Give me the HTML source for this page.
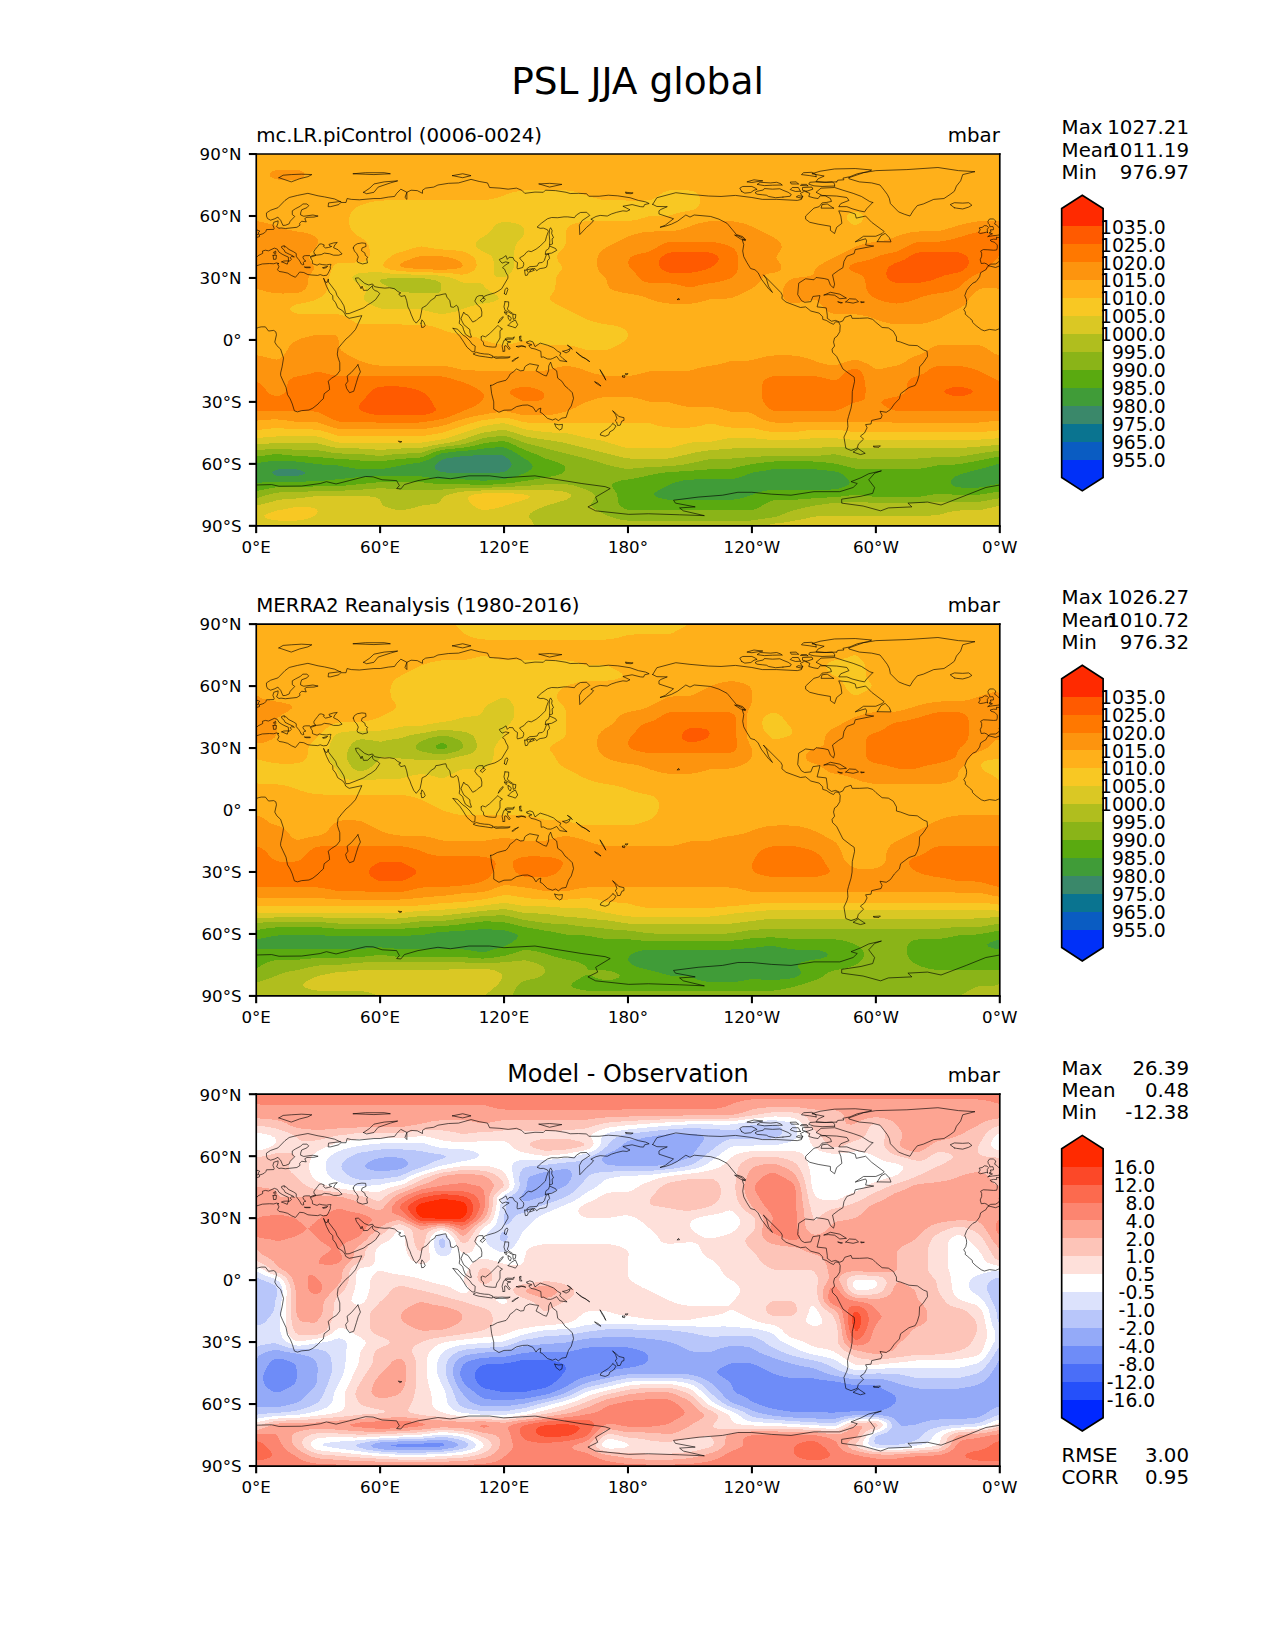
<!DOCTYPE html>
<html><head><meta charset="utf-8"><title>PSL JJA global</title>
<style>html,body{margin:0;padding:0;background:#fff;width:1275px;height:1650px;overflow:hidden}svg{display:block}</style>
</head><body>
<svg width="1275" height="1650" viewBox="0 0 612 792" version="1.1">
 
 <defs>
  <style type="text/css">*{stroke-linejoin: round; stroke-linecap: butt}</style>
 </defs>
 <g id="figure_1">
  <g id="patch_1">
   <path d="M0 792 612 792 612 0 0 0Z" style="fill: #ffffff"/>
  </g>
  <g id="axes_1">
   <g id="patch_2">
    <path d="M123 252.4 479.9 252.4 479.9 73.9 123 73.9Z" style="fill: #ffffff"/>
   </g>
   <g shape-rendering="crispEdges" id="QuadContourSet_1">
    <path d="M124 252.4 479.9 252.4 479.9 73.9 123 73.9 123 252.4Z" clip-path="url(#pa390b9fe62)" style="fill: #0030f8"/>
   </g>
   <g shape-rendering="crispEdges" id="QuadContourSet_2">
    <path d="M124 252.4 479.9 252.4 479.9 73.9 123 73.9 123 252.4Z" clip-path="url(#pa390b9fe62)" style="fill: #0a5cc2"/>
   </g>
   <g shape-rendering="crispEdges" id="QuadContourSet_3">
    <path d="M124 252.4 479.9 252.4 479.9 73.9 123 73.9 123 252.4Z" clip-path="url(#pa390b9fe62)" style="fill: #0a7490"/>
   </g>
   <g shape-rendering="crispEdges" id="QuadContourSet_4">
    <path d="M124 252.4 479.9 252.4 479.9 73.9 123 73.9 123 252.4Z" clip-path="url(#pa390b9fe62)" style="fill: #3a886a"/>
   </g>
   <g shape-rendering="crispEdges" id="QuadContourSet_5">
    <path d="M124 252.4 479.9 252.4 479.9 73.9 123 73.9 123 252.4ZM130.9 227.6 130.6 226.6 130.9 226.4 131.9 225.8 132.3 225.6 132.9 225.5 133.9 225.3 134.9 225.3 138.8 225.3 140.8 225.3 141.8 225.3 142.8 225.4 143.9 225.6 144.8 226 146.4 226.6 146.3 227.6 144.8 228 143.8 228.2 142.8 228.3 141.8 228.4 140.8 228.5 136.8 228.5 134.9 228.5 133.9 228.4 132.9 228.3 131.9 228 130.9 227.6ZM212.2 226.6 211.2 226.3 210.2 225.9 209.7 225.6 209.2 225.2 208.8 224.6 208.7 223.7 209.3 222.7 210.5 221.7 211.2 221.3 212.2 220.7 213.2 220.3 214.2 220.1 216.7 219.7 219.1 219.4 221.1 219.1 222.1 218.9 223.1 218.8 225.1 218.7 232 218.5 238 218.4 239 218.4 240 218.4 241 218.5 241.5 218.7 241.9 218.9 242.9 219.5 243.2 219.7 244.3 220.7 245.1 221.7 245.6 222.7 245.4 223.7 244.8 224.6 243.9 225.4 243.7 225.6 242.9 226.1 241.9 226.5 241 226.7 240 226.8 238 226.9 233 226.9 231 226.9 224.1 226.8 220.1 226.8 215.2 226.8 214.2 226.8 213.2 226.7 212.2 226.6Z" clip-path="url(#pa390b9fe62)" style="fill: #409c38"/>
   </g>
   <g shape-rendering="crispEdges" id="QuadContourSet_6">
    <path d="M124 252.4 479.9 252.4 479.9 232 478.9 232.2 477.3 232.6 475 233.1 472.8 233.6 471 233.9 470 234 469 234.1 468 234.1 464 234.1 462.1 234.1 461.1 234 460.1 233.9 459.1 233.7 458.7 233.6 458.1 233.3 456.9 232.6 456.3 231.6 456.6 230.6 457.1 229.9 457.4 229.6 458.1 229.1 458.8 228.6 460.1 228.1 461.4 227.6 463.1 227.1 464.7 226.6 468.3 225.6 471 225 473 224.5 474 224.2 475 223.9 475.9 223.6 476.9 223.3 478.8 222.7 479.9 222.4 479.9 73.9 123 73.9 123 222.4 124 222.2 125.9 221.9 127.9 221.6 130.9 221.3 131.9 221.2 132.9 221.2 133.9 221.1 135.9 221.2 141.8 221.5 143.8 221.6 145.8 221.9 148.7 222.3 151.7 222.7 152.7 222.8 153.7 222.9 155.7 223.1 159.7 223.3 161.6 223.4 162.6 223.5 163.6 223.7 165.6 224.1 167.6 224.4 170.6 224.9 171.5 225.1 172.5 225.2 173.5 225.2 175.5 225.3 179.5 225.3 181.5 225.3 182.5 225.2 183.4 225.1 184.4 225 185.4 224.8 186.4 224.6 188.4 224.3 190.4 223.9 191.4 223.7 195.3 222.9 196.8 222.7 200.3 222.2 201.3 222.1 202.3 221.8 203.3 221.5 204.3 221.2 206.3 220.4 208.2 219.4 209.4 218.7 210.2 218.3 211.2 217.9 211.8 217.7 212.2 217.6 213.2 217.4 214.2 217.3 218.2 216.8 220.1 216.6 225.1 216.2 227.1 216 230 215.6 232 215.3 233 215.2 239 214.7 240 214.7 241 214.7 241.9 214.8 242.9 215 243.9 215.5 244.9 215.9 246.4 216.7 248 217.7 248.9 218.3 250.9 219.6 251.9 220.2 252.9 220.8 254.3 221.7 255.3 222.7 255.7 223.7 255.4 224.6 254.8 225.3 254.5 225.6 253.8 226.1 252.9 226.6 251.9 227.1 250.7 227.6 248 228.6 245.9 229.2 243.9 229.6 242.9 229.8 241.9 230 241 230.1 234 230.6 233 230.7 232 230.7 231 230.7 229.8 230.6 226.1 230.3 224.1 230.2 222.1 230.1 220.1 230.1 215.2 230.1 213.2 230 212.2 230 211.2 229.9 208.6 229.6 204.3 229 203.3 228.8 202.3 228.7 201.3 228.7 199.3 228.6 191.4 228.6 184.4 228.5 182.5 228.5 181.5 228.6 176.5 228.8 173.5 229 170.6 229.2 167.6 229.5 164.6 229.8 160.6 230.2 158.7 230.4 156.7 230.6 152.7 230.9 147.8 231.1 144.8 231.2 142.8 231.3 139.8 231.3 133.9 231.3 131.9 231.4 129.9 231.4 127.9 231.5 125.9 231.6 124.9 231.7 124 231.8 123 232 123 252.4ZM318.5 239.5 317.3 239.2 316.3 238.9 315.1 238.5 314.3 237.9 313.9 237.5 314.3 236.5 315.6 235.6 317.4 234.6 319.3 233.6 320.3 233.1 321.4 232.6 322.3 232.2 323.3 231.9 324.2 231.5 325.2 231.3 326.2 231 327.2 230.8 328.2 230.6 329.2 230.4 330.2 230.3 331.2 230.2 332.2 230.2 334.2 230.1 348 230.1 349 230.1 350 230.1 351 230 352 229.9 353.3 229.6 354 229.4 355 229.1 357 228.4 358 228 358.9 227.6 359.9 227.3 360.9 227 362.5 226.6 365.9 226.1 368.9 225.6 369.9 225.4 370.8 225.3 371.8 225.2 373.8 225.2 387.7 225.2 389.7 225.2 390.7 225.3 392.7 225.4 396.6 225.8 398.6 226 399.6 226.1 400.6 226.2 401.6 226.5 402.1 226.6 402.6 226.8 404.3 227.6 405.6 228.6 406.6 229.6 407.4 230.6 407.9 231.6 407.4 232.6 406.5 233.1 405.5 233.6 403.6 234.2 402.2 234.6 401.6 234.7 400.6 234.8 399.6 234.9 398.6 235 381.8 235 373.8 235 371.8 235.1 370.8 235.1 369.9 235.2 368.9 235.3 366.9 235.7 365.9 235.9 364.9 236.1 363.4 236.5 361.9 237.1 359.9 237.9 358.9 238.2 358 238.6 357 238.9 356 239.1 354 239.5 353 239.7 352 239.8 351 239.9 350 240 348 240 330.2 240 324.2 240 322.3 239.9 321.3 239.9 320.3 239.8 319.3 239.7Z" clip-path="url(#pa390b9fe62)" style="fill: #5aaa10"/>
   </g>
   <g shape-rendering="crispEdges" id="QuadContourSet_7">
    <path d="M124 252.4 479.9 252.4 479.9 235.8 477.9 236.2 473 237 471 237.3 470 237.4 469 237.5 467 237.5 462.1 237.5 460.1 237.5 458.1 237.4 455.1 237.3 452.1 237.1 451.2 237 450.2 237.1 449.2 237.2 448.2 237.3 447.2 237.5 444.2 238 442.2 238.3 441.2 238.4 440 238.5 438.3 238.6 423.4 238.6 421.4 238.6 420.4 238.5 419.4 238.4 417.4 238.2 413.5 237.7 411.5 237.5 410.5 237.5 409.5 237.5 408.5 237.7 405.5 238.1 403.6 238.3 401.6 238.6 399.6 238.7 394.6 238.9 390.7 239.2 387.7 239.4 384.7 239.6 381.8 239.9 380.8 239.9 379.8 240 377.8 240 373.8 240 372.8 240.1 371.8 240.1 370.8 240.3 369.9 240.5 368.9 241 367.8 241.5 366.2 242.5 365.9 242.7 364.7 243.5 363.9 243.9 362.9 244.3 361.9 244.6 360.9 244.8 359.9 244.9 358.9 244.9 351 245 321.3 245 305.4 244.9 303.4 244.9 302.4 244.9 301.4 244.7 300.4 244.4 299.5 244 298.5 243.4 297.4 242.5 296.8 241.5 296.6 240.5 296.4 238.5 296.2 237.5 295.8 236.5 295.2 235.6 294.5 234.6 293.9 233.6 293.8 232.6 294.5 232 295 231.6 295.5 231.4 296.5 231.1 297.5 230.8 298.5 230.6 300.4 230.3 303.4 229.9 305.4 229.5 307.4 229.1 308.4 228.9 309.7 228.6 311.4 228.2 313.9 227.6 316.3 227.2 318.3 226.9 320.5 226.6 322.3 226.5 328.2 226.2 332.2 225.9 335.1 225.7 338.1 225.5 340.1 225.3 341.1 225.2 342.1 225.2 344.1 225.1 348 225.1 349 225.1 350 225.1 351 225 352 224.8 355 224 357 223.6 358.9 223.1 360.9 222.8 362.9 222.5 365.9 222.1 368.9 221.7 369.9 221.6 370.8 221.6 371.8 221.5 376.8 221.5 387.7 221.5 389.7 221.5 391.7 221.6 393.6 221.7 396.6 222 398.6 222.2 399.6 222.3 400.6 222.5 402.6 222.9 404.6 223.4 406.5 223.9 409.5 224.7 410.5 224.9 411.5 225.1 412.5 225.1 415.5 225.2 436.3 225.2 438.3 225.2 439.3 225.1 440.3 225.1 441.2 225 442.2 224.9 444.2 224.6 446.2 224.2 448.6 223.7 450.2 223.4 451.2 223.3 453.1 223.2 458.1 223 459.1 222.9 460.1 222.8 462.1 222.5 466.4 221.7 469 221.2 474 220.2 476.9 219.6 478.9 219.3 479.9 219.2 479.9 73.9 123 73.9 123 219.2 128.9 218.4 130.9 218.1 131.9 218.1 132.9 218 133.9 218 134.9 218.1 140.8 218.7 142.8 218.9 149.7 219.2 151.7 219.3 153.7 219.5 157.7 219.8 160.6 220.1 165.6 220.4 168.9 220.7 172.5 221 174.5 221.2 178.5 221.4 180.5 221.4 181.5 221.4 182.5 221.4 183.4 221.3 185.4 221.1 189.4 220.6 191.4 220.3 193.4 220.2 196.3 220 199.3 219.8 200.3 219.8 201.3 219.7 202.3 219.5 203.3 219.2 204.6 218.7 206.7 217.7 208.2 217.1 209.3 216.7 210.2 216.4 211.2 216.2 212.2 216 213.2 215.8 215.2 215.6 219.1 215.2 222.1 214.9 224.1 214.6 226.1 214.2 228.5 213.7 231 213.1 232 212.9 233 212.7 234 212.5 239 211.9 240 211.8 241 211.8 241.9 211.8 242.9 212 243.9 212.3 245 212.7 247.2 213.7 249.9 215.1 250.9 215.5 251.9 216 252.9 216.3 254.8 217.1 256.5 217.7 258.8 218.7 259.8 219.2 260.9 219.7 261.8 220.1 262.8 220.4 265.7 221.3 266.9 221.7 269.4 222.7 270.9 223.7 271.4 224.6 271.4 225.6 270.8 226.6 269.7 227.3 269.1 227.6 267.7 228 265.4 228.6 261.8 229.2 259.5 229.6 253.6 230.6 250.9 231 248.9 231.4 247.4 231.6 244.9 231.9 242.9 232.1 240 232.3 236 232.6 234 232.7 232 232.8 231 232.7 229.1 232.7 226.1 232.6 223.1 232.4 222.1 232.4 220.1 232.4 214.2 232.5 213.2 232.5 212.2 232.5 211.2 232.5 209.2 232.3 206.3 231.9 203.3 231.6 202.3 231.5 201.3 231.5 199.3 231.4 191.4 231.4 185.4 231.4 183.4 231.4 182.5 231.4 181.5 231.5 179.5 231.7 174.5 232.2 170.6 232.6 165.6 233.1 163.6 233.3 162.6 233.4 160.6 233.4 153.7 233.5 150.7 233.5 143.8 233.8 141.8 233.8 135.9 233.8 133.9 233.8 132.9 233.9 131.9 234 130.9 234.1 128.6 234.6 126.9 234.9 123 235.8 123 252.4Z" clip-path="url(#pa390b9fe62)" style="fill: #8ab418"/>
   </g>
   <g shape-rendering="crispEdges" id="QuadContourSet_8">
    <path d="M124 252.4 479.9 252.4 479.9 239.1 478.9 239.3 474 240.2 472 240.5 471 240.7 470 240.8 469 240.8 467 240.9 458.1 240.9 452.1 240.9 450.2 240.9 444.2 241.2 441.2 241.3 439.3 241.4 423.4 241.4 420.4 241.4 418.4 241.3 414.5 241.1 412.5 241 411.5 241 410.5 241 409.5 241 402.6 241.3 400.6 241.4 399.6 241.5 397.6 241.7 393.6 242.3 391.7 242.6 389.7 242.9 386.7 243.5 382.7 244.5 380.8 245 379.8 245.2 378.8 245.6 377.8 245.9 376.6 246.5 374.8 247.2 374.3 247.5 372.8 247.9 371.8 248.2 370.7 248.4 368.9 248.7 366.9 248.9 364.9 249.2 361.9 249.7 360.9 249.8 359.9 249.9 358.9 249.9 306.4 250 303.4 250 302.4 249.9 301.4 249.9 300.4 249.8 299.5 249.7 297.5 249.3 296.5 249.1 295.5 248.9 294 248.4 292.5 247.9 291.5 247.5 290.5 247 288.5 246 286.6 244.9 285.6 244.4 284.3 243.5 283.6 242.5 283.9 241.5 284.6 240.5 285.2 239.5 285.5 238.5 285.3 237.5 284.4 236.5 283.6 236.1 282.6 235.5 281.6 235.1 280.3 234.6 279.6 234.3 278.6 234 276.7 233.4 275.7 233.1 274.7 232.9 273.7 232.7 272.7 232.6 271.7 232.4 270.7 232.4 268.7 232.4 263.8 232.4 262.8 232.4 261.8 232.5 256.8 232.9 253.8 233.1 249.9 233.4 245.9 233.6 240 233.8 234 234.1 232 234.1 224.1 234.2 222.1 234.2 220.1 234.3 217.2 234.6 213.2 234.9 212.2 235 211.2 235.1 209.2 235.1 195.3 235.1 193.4 235.1 192.4 235 190.4 234.9 186.9 234.6 184.4 234.4 183.4 234.4 182.5 234.4 181.5 234.4 176.5 234.8 172.5 235.1 168.6 235.3 164.6 235.5 162.6 235.6 159.7 235.6 154.7 235.6 152.7 235.6 150.7 235.7 146.8 236 143.8 236.2 142.8 236.3 140.8 236.3 135.9 236.4 134.9 236.4 133.9 236.4 132.7 236.5 131.9 236.7 130.9 236.9 128.6 237.5 125.9 238.3 124 238.9 123 239.1 123 252.4ZM298.5 224.7 299.5 224.9 300.4 225 301.4 225 302.4 225 307.4 224.6 310.4 224.3 314.3 224.1 320.3 223.8 322.3 223.7 324.2 223.5 327.2 223.1 329.9 222.7 332.2 222.2 335.1 221.6 339.2 220.7 340.1 220.5 341.1 220.3 342.1 220.2 343.1 220.2 349 220.2 350 220.2 351 220.1 353 219.9 356 219.7 358.9 219.5 361.9 219.3 365.9 219.1 368.9 218.9 370.8 218.9 374.8 218.9 387.7 218.9 389.7 218.8 391.7 218.8 393.6 218.7 396.6 218.4 398.6 218.2 399.6 218.1 400.6 218.1 401.6 218.2 402.6 218.4 404.6 218.8 408.6 219.7 409.5 219.9 410.5 220 411.5 220.1 412.5 220.2 436.3 220.2 438.3 220.2 439.3 220.2 440.3 220.1 442.2 220 445.2 219.7 448.2 219.5 450.2 219.4 452.1 219.3 457.1 219.3 459.1 219.3 460.1 219.2 461.1 219.1 464 218.7 467 218.2 473 217.2 476.9 216.7 479.9 216.3 479.9 73.9 123 73.9 123 216.3 126.9 215.8 129.9 215.5 131.9 215.4 132.9 215.3 133.9 215.3 134.9 215.4 137.8 215.6 141.8 215.9 142.8 216 144.8 216 149.7 216 150.7 216.1 151.7 216.1 152.7 216.2 153.7 216.3 156.7 216.8 158.7 217.2 160.6 217.4 161.6 217.6 162.6 217.6 164.6 217.7 169.6 217.8 171.5 217.9 172.5 217.9 174.5 218.1 179.5 218.6 180.5 218.7 181.5 218.8 182.5 218.8 183.8 218.7 185.4 218.5 189.4 218 191.4 217.8 192.4 217.8 194.4 217.7 199.3 217.6 200.3 217.6 201.3 217.5 202.3 217.3 203.3 217 205.3 216.3 206.3 216 207.2 215.7 208.2 215.4 209.2 215.2 210.2 214.9 212.2 214.6 214.2 214.3 218.2 213.8 219.1 213.7 221.1 213.4 222.1 213.2 223.1 213 224.2 212.7 226.1 212.2 227.5 211.8 229.1 211.2 231 210.6 232 210.4 233 210.2 234 210 239 209.4 240 209.3 241 209.2 241.9 209.2 242.9 209.4 243.9 209.6 244.9 209.9 245.9 210.3 247.9 211 250.9 212.2 251.9 212.6 252.9 212.9 253.8 213.1 256.8 213.8 258.8 214.3 260.8 214.9 262.8 215.5 265.7 216.2 275.7 218.7 279.6 219.7 283.4 220.7 287 221.7 288.5 222.2 290.2 222.7 291.5 223.1 292.5 223.4 294.5 223.9 295.5 224.1 296.5 224.3 298.1 224.6Z" clip-path="url(#pa390b9fe62)" style="fill: #b0be1e"/>
   </g>
   <g shape-rendering="crispEdges" id="QuadContourSet_9">
    <path d="M124 252.4 256.5 252.4 256.1 251.4 255.6 250.4 254.8 249.4 254.1 248.4 253.9 247.5 254.6 246.5 256 245.5 257.9 244.5 260.2 243.5 263.1 242.5 264.8 242 266.3 241.5 268.7 240.8 270.7 240.2 271.7 239.9 272.5 239.5 273.7 238.7 273.9 238.5 274.1 237.5 273.7 237.2 272.7 236.5 271.7 236.2 270.7 236 269.7 235.8 267.4 235.6 264.8 235.3 262.8 235.2 260.8 235.1 250.9 235.1 243.9 235.1 241.9 235.1 233 235.3 230 235.5 228.1 235.6 225.1 235.8 223.1 235.9 221.1 236.2 218.7 236.5 217.2 236.9 214.9 237.5 214.2 237.9 213 238.5 212.2 239.4 212 239.5 211.4 240.5 211.2 240.8 210.2 241.5 209.2 241.8 208.2 241.9 207.2 242.1 204.3 242.4 203.3 242.5 202.3 242.7 201.3 242.9 199.3 243.6 198.3 243.8 197.3 244.1 195.3 244.5 194.4 244.7 193.4 244.8 192.4 244.8 191.4 244.8 190.4 244.7 189.3 244.5 188.4 244.3 187.4 244 186.4 243.7 185.6 243.5 184.4 242.9 183.9 242.5 183.4 242 183.1 241.5 182.5 240.2 182 239.5 181.5 239.2 180.5 238.8 179.5 238.5 178.5 238.4 176.5 238.2 174.5 238.1 172.5 238 170.6 238 163.6 238.1 155.7 238.1 153.7 238.1 152.7 238.2 151.7 238.2 148.7 238.5 145.8 238.9 143.8 239.1 141.8 239.3 137.8 239.6 135.9 239.7 134.9 239.8 133.9 240 132.9 240.2 131.6 240.5 129.9 241 127.9 241.5 125.9 242 123 242.7 123 252.4ZM367.9 252.4 479.9 252.4 479.9 242.7 476.4 243.5 473 244.3 471 244.7 470 244.9 469 245 468 245 462.1 245 461.1 245 460.1 245.1 459.1 245.2 458.1 245.3 457.1 245.5 456.1 245.7 455.1 245.9 454.1 246.1 452.9 246.5 451.2 247 450.2 247.2 449.2 247.4 448.2 247.4 445.2 247.5 404.6 247.5 401.6 247.5 399.6 247.5 393.6 247.8 392.7 247.8 391.7 247.9 390.7 248 389.7 248.2 388.7 248.4 386.7 248.9 385.7 249.1 383.7 249.5 380.8 250 377.8 250.6 376.8 250.7 374.8 251 371.8 251.3 370.8 251.5 369.9 251.7 368.9 252 367.8 252.4ZM300.4 219.9 301.4 220 302.4 220.1 303.4 220.2 317.3 220.2 319.3 220.1 320.3 220.1 321.3 220 322.3 219.9 323.3 219.7 330.2 218 332.2 217.5 334.2 217.1 336.4 216.7 338.1 216.5 340.1 216.2 342.1 216 346.1 215.7 350 215.4 351 215.3 352 215.2 354 215.2 381.8 215.2 387.7 215.2 389.7 215.2 390.7 215.1 392.7 215 395.6 214.7 397.6 214.6 399.6 214.5 400.6 214.4 401.6 214.5 403.6 214.6 406.5 214.8 409.5 215.1 410.5 215.2 411.5 215.2 413.5 215.2 440.3 215.2 457.1 215.2 459.1 215.2 460.1 215.2 462.1 215 465.1 214.7 469 214.4 471 214.3 476.9 213.7 479.9 213.4 479.9 73.9 123 73.9 123 213.4 127.9 213 130.9 212.7 131.9 212.7 132.9 212.6 133.9 212.6 136.8 212.6 141.8 212.7 145.8 212.7 149.7 212.8 150.7 212.8 151.7 212.8 152.7 212.9 153.7 213.1 154.7 213.4 156.7 213.9 158.7 214.4 160.6 214.8 161.6 215 162.6 215.1 163.6 215.2 164.6 215.2 170.6 215.2 172.5 215.3 174.5 215.4 177.5 215.6 180.5 215.8 181.5 215.9 182.5 215.9 183.4 215.9 188.4 215.5 190.4 215.4 192.4 215.3 194.4 215.2 199.3 215.2 200.3 215.2 201.3 215.1 202.3 215 203.6 214.7 205.3 214.3 206.3 214.1 209.2 213.5 211.2 213.2 214.4 212.7 218.2 212 219.2 211.8 221.1 211.2 222.6 210.8 226.1 209.5 229.1 208.5 230 208.2 231 208 232 207.7 233 207.5 235 207.2 239 206.6 240 206.4 241 206.4 241.9 206.4 242.9 206.5 244 206.8 244.9 207.1 247.9 208 250.9 209 251.9 209.3 252.9 209.6 253.9 209.8 259.8 210.8 261.8 211.1 265.7 211.6 267.7 212 269.7 212.3 271.7 212.8 282.6 215.5 297.5 219.2 299.5 219.7ZM196.1 140.4 194.4 140.2 193.4 140.1 192.4 139.9 191.4 139.7 190.3 139.4 189.4 139.1 188.4 138.7 187.4 138.2 185.8 137.4 184.4 136.7 184 136.4 183.4 136 182.7 135.4 182.4 134.4 183.4 134 184.4 133.8 185.4 133.7 187.4 133.6 189.4 133.5 191.4 133.4 194.4 133.4 199.3 133.5 201.3 133.5 202.3 133.6 203.3 133.6 205.3 133.9 208.7 134.4 210.2 135 211.1 135.4 211.7 136.4 211.9 137.4 211.9 138.4 211.8 139.4 211.2 140.3 210.2 140.7 209.2 140.8 206.3 140.8 204.3 140.8 202.3 140.8 200.3 140.7 197.3 140.5 196.3 140.4Z" clip-path="url(#pa390b9fe62)" style="fill: #dac824"/>
   </g>
   <g shape-rendering="crispEdges" id="QuadContourSet_10">
    <path d="M130.9 249.6 131.9 249.7 132.9 249.8 133.9 249.9 135.9 249.9 139.8 249.9 141.8 249.9 142.8 249.8 143.8 249.7 144.8 249.6 145.8 249.4 146.8 249.2 147.8 248.9 149.4 248.4 150.7 247.7 151.2 247.5 152.1 246.5 152.5 245.5 152.1 244.5 151.7 244.3 150.7 243.9 149.7 243.7 148.5 243.5 146.8 243.4 144.8 243.3 143.8 243.2 142.8 243.3 141.8 243.4 140.8 243.6 138.8 244 135.9 244.6 133.9 244.9 132.9 245.1 131.4 245.5 128.4 246.5 127.9 246.8 126.8 247.5 127.2 248.4 127.9 248.7 128.9 249.1 130.2 249.4ZM231 244.6 232 244.7 233 244.8 234 244.7 235.3 244.5 237 244.2 238 243.9 239 243.7 241 243.2 241.9 242.9 243 242.5 246.3 241.5 249.9 240.5 253 239.5 253.8 239 254.7 238.5 253.8 238 252.9 237.5 250.9 237.3 248.9 237.1 245.9 236.8 243.9 236.7 242.9 236.6 241.9 236.6 240 236.6 234 236.7 233 236.8 232 236.8 231 236.9 230 237 228.1 237.3 226.9 237.5 226.1 237.9 224.7 238.5 224.5 239.5 225.1 240.5 226.1 241.5 227.1 242.5 228.1 243.3 228.4 243.5 229.1 243.9 230 244.3 230.6 244.5ZM300.4 214.9 301.4 215 302.4 215.1 303.4 215.2 317.3 215.2 319.3 215.2 320.3 215.1 321.3 215 322.3 214.9 323.3 214.7 326.6 213.7 328.2 213.2 329.2 213 330.2 212.7 331.2 212.5 332.2 212.4 333.2 212.3 336.1 212.2 339.1 212.1 340.1 212.1 341.1 212 342.6 211.8 345.1 211.2 347 210.9 349 210.5 350 210.4 351 210.3 352 210.3 354 210.3 358 210.3 359.9 210.3 360.9 210.3 362.9 210.5 365.9 210.8 368.9 211 370.8 211.1 372.8 211.1 378.8 211.1 380.8 211.1 382.7 211 385.9 210.8 389.7 210.4 390.7 210.3 391.7 210.3 393.6 210.3 397.6 210.3 399.6 210.3 400.6 210.3 402.6 210.5 405.5 210.8 408.5 211 410.5 211.1 412.5 211.1 458.1 211.1 467 211.1 469 211.1 470 211 472 210.9 479.9 210.3 479.9 73.9 123 73.9 123 210.3 130.9 209.6 132.9 209.5 134.9 209.4 143.8 209.4 149.7 209.4 150.7 209.5 151.7 209.5 152.7 209.6 153.7 209.8 154.7 210.1 158.7 211.4 159.8 211.8 160.6 212 161.6 212.2 162.6 212.4 163.6 212.5 164.6 212.6 171.5 212.6 175.5 212.6 180.5 212.7 182.5 212.7 191.4 212.6 199.3 212.6 200.3 212.6 201.3 212.5 202.3 212.5 203.3 212.3 206.3 211.9 210.2 211.2 211.2 211.1 212.8 210.8 214.2 210.4 216.2 209.8 220.1 208.4 224.1 207.1 229.1 205.5 231.2 204.8 232 204.6 233 204.4 235 204 238 203.6 240 203.3 241 203.2 241.9 203.2 242.9 203.4 243.9 203.6 244.9 203.9 247.9 204.8 249.9 205.5 251.1 205.8 251.9 206 252.9 206.2 257.8 206.9 260.8 207.3 261.8 207.5 262.8 207.5 264.8 207.6 268.7 207.7 270.7 207.8 271.7 207.9 272.7 208.1 273.7 208.3 276.7 209 279.8 209.8 280.6 210 281.6 210.2 285.6 210.9 286.6 211.1 287.6 211.3 288.5 211.5 290.5 212 291.5 212.3 292.8 212.7 294.5 213.2 296.1 213.7 299.5 214.7 299.8 214.7ZM209 150.3 207.2 149.9 206.3 149.7 204.9 149.3 203.3 148.8 202.3 148.5 201.3 148.4 200.3 148.3 198.3 148.3 186.4 148.3 184.4 148.3 183.4 148.2 182.5 148 181.5 147.7 180.4 147.3 179.5 146.8 177.5 145.8 176.5 145.2 175.2 144.3 174.5 143.3 174.6 142.3 175.1 141.4 175.6 140.4 175.7 139.4 175.5 138.4 174.7 137.4 173.5 136.6 172.5 136.1 171.1 135.4 170.6 135.1 169.5 134.4 169.1 133.4 169.6 132.4 170.6 131.8 171.3 131.4 172.5 131.1 173.5 131 174.5 130.9 176.5 130.8 179.5 130.7 180.5 130.7 181.5 130.7 182.5 130.7 183.4 130.8 186.4 131.2 188.4 131.4 190.4 131.5 192.4 131.6 195.3 131.7 201.3 131.9 204.3 132 209.2 132.2 211.2 132.3 212.2 132.4 213.2 132.6 214.2 132.8 215.2 133 217 133.4 219.3 134.4 220.1 134.9 221.1 135.3 222.1 135.6 223.1 135.8 224.1 135.9 225.1 136 229.1 136 230 136 231 136.1 231.6 136.4 232 136.8 232.4 137.4 233 138 233.3 138.4 234 138.9 234.5 139.4 236.1 140.4 237.7 141.4 239 142.3 239.4 143.3 239 143.7 238.2 144.3 237 144.8 236 145.1 234.9 145.3 233 145.6 230 146.1 228.9 146.3 227.1 146.7 226.1 147 224.9 147.3 223.1 147.9 221.1 148.7 219.5 149.3 218.2 149.7 217.2 149.9 215.2 150.3 214.2 150.5 213.2 150.6 212.2 150.6 211.2 150.6 210.2 150.5 209.2 150.3ZM237.5 132.4 237.1 131.4 237 130.5 237 126.5 236.9 125.5 236.8 124.5 236.3 123.5 236 123.1 235.4 122.5 235 122.3 233.7 121.5 232 120.8 231 120.3 229.8 119.5 228.7 118.6 228.3 117.6 228.5 116.6 229.1 115.8 229.2 115.6 230 114.9 231 114.2 233 113 234 112.3 235 111.5 235.8 110.6 236.5 109.6 237.3 108.6 238 108 238.5 107.6 239 107.4 240 106.9 241 106.6 241.9 106.4 242.9 106.4 243.9 106.5 245 106.7 245.9 106.9 246.9 107.1 247.9 107.4 248.7 107.6 249.9 108.2 250.6 108.6 251.4 109.6 251.7 110.6 251.7 111.6 251.5 112.6 250.9 113.6 248.9 115.7 248.2 116.6 247.6 117.6 247.2 118.6 247 119.5 246.9 120.5 246.9 122.5 246.9 125.5 246.9 126.5 246.8 127.5 246.6 128.5 246.2 129.5 245.6 130.5 244.9 131.3 244.7 131.4 243.9 132.1 242.9 132.7 241.9 133.1 241 133.2 240 133.2 239 133.1 238 132.8Z" clip-path="url(#pa390b9fe62)" style="fill: #f8c823"/>
   </g>
   <g shape-rendering="crispEdges" id="QuadContourSet_11">
    <path d="M161.6 209 162.6 209.3 163.6 209.4 164.6 209.4 182.5 209.4 198.3 209.4 200.3 209.4 201.3 209.4 202.3 209.3 203.3 209.2 205.3 208.9 209.2 208.3 211.2 207.9 212.2 207.7 213.2 207.4 215.2 206.8 222.1 204.5 224.1 203.8 226.1 203.2 228.1 202.6 230 202.1 231.3 201.8 232 201.7 233 201.5 237 201 239 200.7 240 200.6 241 200.5 241.9 200.5 242.9 200.6 244.4 200.8 245.9 201.2 248.5 201.8 249.9 202.2 250.9 202.5 251.9 202.7 252.9 202.8 253.8 202.9 259.8 203 261.8 203 263.8 203 270.7 202.9 273.7 202.8 307.4 202.8 309.4 202.9 310.4 202.9 311.4 203 312.3 203.3 314.3 203.9 315.3 204.2 316.3 204.4 318.3 204.8 319.3 205 320.3 205.1 321.3 205.2 322.3 205.3 324.2 205.3 328.2 205.3 330.2 205.3 331.2 205.2 332.2 205.1 333.2 205 334.3 204.8 336.1 204.4 337.1 204.2 338.4 203.8 339.1 203.6 340.1 203.4 341.1 203.3 342.1 203.4 343.1 203.6 344.1 203.9 345.1 204.2 346.1 204.4 348 204.9 349 205 350 205.1 351 205.2 352 205.3 354 205.3 358 205.3 358.9 205.3 359.9 205.3 360.9 205.4 361.9 205.6 363.9 206 367.1 206.8 368.9 207.1 369.9 207.3 370.8 207.4 371.8 207.5 372.8 207.5 377.8 207.5 379.8 207.5 380.8 207.5 381.8 207.4 386.7 206.7 388.7 206.4 389.7 206.3 390.7 206.2 391.7 206.2 394.6 206.2 398.6 206.2 399.6 206.2 400.6 206.2 401.6 206.3 403.6 206.5 406.5 206.9 408.5 207.2 409.5 207.4 410.5 207.5 411.5 207.5 413.5 207.5 466 207.5 468 207.5 469 207.5 470 207.5 471 207.4 474 207.1 477.1 206.8 479.9 206.5 479.9 73.9 123 73.9 123 206.5 129.9 205.7 130.9 205.6 131.9 205.5 132.9 205.4 133.9 205.5 138 205.8 140.8 206 142.8 206.1 144.8 206.1 149.7 206.1 150.7 206.2 151.7 206.2 152.7 206.3 153.7 206.5 154.7 206.8 159.7 208.4 160.7 208.8ZM278.9 167.1 277.6 166.8 276.7 166.5 274.7 166.1 273.7 166 272.7 165.8 271.7 165.7 270.7 165.7 268.7 165.7 264.8 165.6 262.8 165.6 261.8 165.6 260.8 165.5 259.8 165.3 258.7 165.2 256.8 164.8 255.8 164.5 254.6 164.2 253.8 163.9 252.9 163.7 251.9 163.6 250.9 163.7 249.9 163.9 248.9 164.2 247.9 164.5 246.9 164.8 244.9 165.2 243.9 165.3 242.9 165.4 241.9 165.5 241 165.4 240 165.3 238.9 165.2 237 164.8 236 164.5 234.8 164.2 233 163.5 231 162.8 229.1 162.1 228.1 161.8 227.1 161.6 225.1 161.2 223.1 160.8 221.1 160.5 219 160.2 217.2 159.8 216.2 159.5 215 159.2 213.2 158.6 211.2 157.8 209.2 157.2 208.2 156.9 207.2 156.6 205.3 156.2 204.3 156.1 203.3 155.9 202.3 155.8 201.3 155.8 199.3 155.8 181.5 155.7 175.5 155.7 174.5 155.7 173.5 155.7 172.5 155.5 171.5 155.2 170.6 154.8 169.5 154.2 167.9 153.3 167.6 153 166.4 152.3 165.6 151.9 164.6 151.4 163.6 151.1 162.6 150.9 161.6 150.8 160.6 150.8 146.8 150.7 144.8 150.7 143.8 150.7 142.8 150.6 141.8 150.3 141.6 150.3 140.8 149.9 139.8 149.3 139.3 148.3 139.8 147.3 140.8 146.7 141.6 146.3 142.8 146 143.8 145.8 146.8 145.2 147.8 145 148.7 144.8 150.2 144.3 150.7 144.2 151.7 143.8 152.7 143.3 153.7 142.8 154.7 142.1 155.5 141.4 156.4 140.4 157 139.4 157.4 138.4 157.6 137.4 157.7 135.4 157.8 134.4 157.9 133.4 158.2 132.4 158.8 130.5 159.2 129.5 159.7 128.4 160.4 127.5 160.6 127.2 161.6 126.6 162.6 126.2 163.6 126.1 164.6 126 166.6 126 170.6 126 171.5 125.9 172.5 125.9 173.5 125.8 174.8 125.5 175.5 125.2 176.6 124.5 177.2 123.5 177.4 122.5 177.5 121.5 177.5 120.5 177.4 119.5 177.2 118.6 176.8 117.6 176.2 116.6 175.4 115.6 174.5 114.9 173.5 114.2 171.5 113 170.6 112.3 169.7 111.6 168.9 110.6 168.3 109.6 167.9 108.6 167.7 107.6 167.6 106.7 167.6 105.7 167.7 104.7 167.9 103.7 168.3 102.7 168.9 101.7 169.7 100.7 170.6 100 171.5 99.3 172.7 98.7 173.5 98.4 174.5 98 175.5 97.7 176.5 97.4 177.5 97.1 179.5 96.7 180.5 96.5 181.5 96.4 182.5 96.3 183.4 96.3 185.4 96.2 228.1 96.2 230 96.2 231 96.2 232 96.2 233 96.1 234 95.9 235.1 95.7 237 95.3 238 95.1 239.2 94.8 241 94.1 242.9 93.4 244.9 92.7 245.9 92.4 246.9 92.2 248.9 91.8 249.9 91.6 250.9 91.5 251.9 91.4 252.9 91.3 254.8 91.3 268.7 91.3 270.7 91.3 271.7 91.4 272.7 91.5 273.7 91.6 274.8 91.8 276.7 92.2 277.6 92.4 278.8 92.8 280.6 93.4 282.6 94.1 284.6 94.8 285.6 95.1 286.6 95.3 288.5 95.8 289.5 95.9 290.5 96.1 291.5 96.2 292.5 96.2 294.5 96.2 308.4 96.3 309.4 96.2 310.4 96.2 311.4 96.1 312.3 95.9 313.3 95.6 314.3 95.1 314.9 94.8 315.3 94.5 317.3 93 317.7 92.8 318.3 92.4 319.3 92 320.3 91.7 321.3 91.4 322.3 91.3 323.3 91.3 327.2 91.3 329.2 91.3 330.2 91.3 331.2 91.5 332.2 91.7 333.2 92 334.2 92.5 334.6 92.8 335.1 93.4 335.5 93.8 335.9 94.8 336.1 95.7 336.1 96.7 335.9 97.7 335.5 98.7 335.1 99.1 334.6 99.7 334.2 100 333.2 100.5 332.2 100.8 331.2 101.1 330.2 101.3 327.9 101.7 326.2 102.1 325.2 102.3 323.9 102.7 322.3 103.2 321.3 103.4 320.3 103.6 319.3 103.7 317.3 103.7 314.3 103.7 313.3 103.7 312.3 103.8 311.4 103.9 310.4 104.1 308.4 104.7 307.4 105 306.4 105.3 304.4 105.7 303.4 105.8 302.4 106 301.4 106.1 300.4 106.1 298.5 106.1 284.6 106.2 282.6 106.2 281.6 106.2 280.6 106.3 279.6 106.5 278.6 106.7 277.6 106.9 276.7 107.1 275.7 107.4 274.8 107.6 273.7 108.2 273 108.6 272.1 109.6 271.8 110.6 271.7 111.6 271.7 114.6 271.7 115.6 271.6 116.6 271.3 117.6 270.7 118.6 268.7 120.7 268.1 121.5 267.6 122.5 267.4 123.5 267.6 124.5 268 125.5 269.5 127.5 269.9 128.5 269.5 129.5 268 131.4 267.4 132.4 267 133.4 266.8 134.4 266.7 136.4 266.6 137.4 266.4 138.4 266.1 139.4 265.5 140.4 264.7 141.4 264 142.3 263.8 143.3 264.5 144.3 265.9 145.3 267.7 146.3 269.7 147.3 270.7 147.8 272.7 148.8 274.7 149.7 278.6 151.8 280.6 152.8 281.7 153.3 282.6 153.6 284.4 154.2 285.6 154.6 286.6 154.8 288.5 155.3 290.5 155.6 292.5 155.9 294.6 156.2 295.5 156.4 296.5 156.7 297.5 157 298.3 157.2 299.5 157.8 300.1 158.2 301 159.2 301.3 160.2 301.3 161.2 301 162.2 300.3 163.2 299.1 164.2 297.4 165.2 295.5 166.2 294.5 166.7 293.5 167.2 292.5 167.6 291.5 167.9 290.5 168 289.5 168.1 287.6 168.1 284.6 168.1 283.6 168.1 282.6 168 281.6 167.9 280.6 167.7 279.6 167.4ZM409.2 107.6 408.5 107.3 407.7 106.7 407.5 106.4 406.9 105.7 406.5 104.7 406.6 103.7 407.3 102.7 407.5 102.5 408.5 102 409.5 101.7 410.5 101.6 411.6 101.7 412.5 102 413.5 102.5 413.7 102.7 414.4 103.7 414.5 104.7 414.1 105.7 413.5 106.4 413.3 106.7 412.5 107.3 411.5 107.8 410.5 108 409.5 107.8ZM219.1 131.5 220.1 131.6 221.1 131.8 222.1 131.8 223.1 131.7 224.1 131.4 225.1 131.1 226.4 130.5 227.1 130 227.7 129.5 228.5 128.5 228.8 127.5 228.7 126.5 228.5 125.5 228.1 124.5 227.3 123.5 226 122.5 225.1 122 224.1 121.5 223.1 121 222.1 120.7 221.1 120.5 220.1 120.3 218.2 120.2 213.2 119.8 211.2 119.7 210.1 119.5 207.2 119.1 204.4 118.6 203.3 118.4 202.3 118.3 201.3 118.4 200.3 118.6 199.3 118.9 198.3 119.2 197.1 119.5 195.3 120.1 193.4 120.7 192.4 121 191.4 121.3 190.4 121.6 189.4 122.1 188.4 122.6 187.4 123.3 186.4 124.1 185.4 125 184.9 125.5 184.1 126.5 184 127.5 185 128.5 186.4 129 187.8 129.5 189.4 129.8 190.4 129.9 191.4 130.1 192.4 130.2 194.4 130.3 197.3 130.5 202.3 130.6 210.2 130.9 212.2 130.9 214.2 131.1 216.2 131.2 218.6 131.4Z" clip-path="url(#pa390b9fe62)" style="fill: #ffb01a"/>
   </g>
   <g shape-rendering="crispEdges" id="QuadContourSet_12">
    <path d="M162.6 205.9 163.6 206.1 164.6 206.1 184.4 206.1 199.3 206.1 201.3 206.1 202.3 206 203.3 205.9 205.3 205.6 209.2 205 211.2 204.6 212.2 204.4 213.2 204.1 215.2 203.5 220.1 201.8 222.1 201.2 224.1 200.7 226.1 200.2 229.1 199.5 231 199.2 233 198.8 238.5 197.9 240 197.6 241 197.4 241.9 197.3 242.9 197.4 243.9 197.6 245 197.9 246.9 198.3 249.4 198.9 250.9 199.2 251.9 199.3 252.9 199.4 253.8 199.4 258.8 199.4 260.8 199.4 261.8 199.4 262.8 199.3 263.8 199.2 265.9 198.9 267.7 198.5 269.7 198 270.7 197.8 272.7 197.1 273.7 196.7 275.7 195.9 277.6 194.9 279.6 193.9 280.6 193.4 281.7 192.9 282.6 192.6 284.4 191.9 285.6 191.6 286.6 191.3 288.5 190.9 289.5 190.7 290.5 190.6 291.5 190.5 292.5 190.5 294.5 190.4 298.5 190.4 300.4 190.5 301.4 190.5 302.4 190.6 303.4 190.7 304.5 190.9 306.4 191.3 307.4 191.6 308.6 191.9 310.4 192.5 311.4 192.7 312.3 192.8 313.3 192.9 318.3 192.9 319.3 192.9 320.3 193 321.3 193.1 322.3 193.4 324.2 194 325.2 194.2 326.2 194.5 328.2 194.9 329.2 195.1 330.2 195.2 331.2 195.3 332.2 195.4 334.2 195.4 338.1 195.4 340.1 195.4 341.1 195.5 342.1 195.5 343.1 195.7 344.3 195.9 346.1 196.3 347 196.5 348.4 196.9 350 197.4 351 197.6 352 197.8 353 197.9 355 197.9 358 197.9 358.9 197.9 359.9 198.1 360.9 198.4 361.9 198.9 363.4 199.9 364.9 200.7 365.9 201.1 366.9 201.6 367.9 201.9 368.9 202.2 369.9 202.5 370.8 202.7 371.8 202.8 372.8 202.8 377.8 202.8 380.8 202.8 388.7 202.6 391.7 202.6 399.6 202.6 403.6 202.6 410.5 202.4 417.4 202.4 419.4 202.4 421.4 202.5 425.4 202.7 428.4 202.8 430.3 202.8 465 202.8 468 202.8 469 202.8 470 202.8 471 202.7 476.9 202.1 479.9 201.9 479.9 170.5 478.9 170.3 477.9 169.9 476.9 169.5 476.3 169.1 475.9 168.9 474 167.4 473.6 167.1 473 166.8 472 166.3 471 166 470 165.8 469 165.7 468 165.7 454.1 165.7 452.1 165.7 451.2 165.7 450.2 165.8 449.2 166 448.2 166.3 447.2 166.8 446.6 167.1 446.2 167.4 444.2 168.9 443.8 169.1 443.2 169.5 442.2 169.9 441.2 170.3 439.3 170.9 438.3 171.3 437.3 171.8 436.7 172.1 436.3 172.4 434.3 173.8 433.9 174.1 433.3 174.4 432.3 174.9 431.3 175.2 430.3 175.5 429.3 175.7 427.2 176.1 425.4 176.5 423.1 177.1 422.4 177.2 421.4 177.3 420.4 177.1 419.4 176.6 418.4 175.9 417.2 175.1 416.5 174.7 414.5 173.8 413.5 173.4 412.4 173.1 411.5 172.8 410.5 172.7 409.5 172.8 407.5 173.3 406.5 173.5 405.5 173.8 404.6 174.2 402.6 174.8 401.6 175.1 400.6 175.2 399.6 175.3 398.6 175.2 397.6 175.1 396.6 174.9 395.6 174.7 394.6 174.4 393.4 174.1 391.7 173.5 389.7 172.7 387.7 172 386.7 171.8 385.7 171.5 383.7 171.1 382.7 170.9 381.8 170.8 380.8 170.7 379.8 170.6 377.8 170.6 373.8 170.6 371.8 170.6 370.8 170.7 369.9 170.8 368.9 170.9 367.7 171.1 365.9 171.5 364.9 171.8 363.7 172.1 361.9 172.6 360.9 172.9 359.9 173 358.9 173.1 354 173.1 353 173.1 352 173.2 351 173.3 350 173.5 348 174.1 347 174.4 346.1 174.7 344.1 175.1 342.1 175.4 340.1 175.7 338 176.1 336.1 176.5 335.1 176.7 333.9 177.1 332.2 177.6 331.2 177.8 330.2 178 329.2 178 326.2 178 315.3 178 313.3 178.1 312.3 178.1 311.4 178.3 310.4 178.5 308.4 179.1 307.4 179.4 306.4 179.6 304.4 180.1 303.4 180.2 302.4 180.4 301.4 180.4 300.4 180.5 298.5 180.5 294.5 180.5 292.5 180.5 291.5 180.4 290.5 180.4 289.5 180.2 288.4 180 286.6 179.6 285.6 179.4 284.4 179 282.6 178.4 280.6 177.7 278.6 177 277.6 176.7 276.7 176.5 274.7 176 273.7 175.9 272.7 175.8 271.7 175.7 270.7 175.8 269.7 175.9 268.6 176.1 266.7 176.5 265.7 176.7 264.5 177.1 262.8 177.6 261.8 177.8 260.8 178 259.8 178 256.8 178 235 178 233 178 231 178 225.1 177.7 224.1 177.7 223.1 177.6 222.1 177.5 221.1 177.3 220.1 177.1 218.2 176.6 217.2 176.4 215.2 176 214.2 175.8 213.2 175.7 212.2 175.6 211.2 175.6 209.2 175.5 186.4 175.5 184.4 175.5 183.4 175.5 182.5 175.5 181.5 175.4 180.5 175.2 179.4 175.1 177.5 174.7 176.5 174.4 175.3 174.1 173.5 173.4 172.5 173.1 171.5 172.6 169.6 171.6 166.6 170.1 165 169.1 163.7 168.1 163 167.1 162.7 166.1 162.6 165 162.6 164.2 162.5 163.2 162.2 162.2 161.6 161.2 160.6 160.8 159.7 160.7 156.7 160.7 154.7 160.7 153.7 160.7 152.7 160.8 151.7 160.9 150.7 161 149.6 161.2 147.8 161.6 146.8 161.8 145.6 162.2 144.8 162.4 143.8 162.8 142.8 163.2 141.8 163.8 140.8 164.4 139.8 165.3 139.1 166.1 138.4 167.1 137.3 169.1 136.6 170.1 135.9 170.9 134.9 171.8 133.9 172.3 132.9 172.6 131.9 172.5 130.9 172.3 128.9 171.8 127.9 171.5 125.9 171.1 124 170.7 123 170.5 123 201.9 126.9 201.6 129.9 201.4 130.9 201.3 131.9 201.3 132.9 201.3 133.9 201.4 134.9 201.5 136.8 201.7 140.8 202.3 141.8 202.4 142.8 202.5 143.8 202.6 145.8 202.6 149.7 202.6 150.7 202.6 151.7 202.7 152.7 202.8 153.7 203.1 154.7 203.4 158.7 204.8 160.6 205.4 161.6 205.7 162 205.8ZM427.4 155.3 428.4 155.4 429.3 155.6 430.3 155.7 431.3 155.7 433.3 155.7 437.3 155.7 439.3 155.7 440.3 155.7 441.2 155.6 442.2 155.4 443.4 155.2 445.2 154.8 446.2 154.6 447.4 154.2 449.2 153.6 450.2 153.2 451.2 152.8 453.1 151.8 457.1 149.7 460.1 148.3 461.1 147.7 462.1 147 463.1 146.2 464 145.1 465 143.8 465.3 143.3 466.2 142.3 467.1 141.4 468.1 140.4 469 139.6 470 139 471 138.6 472 138.4 473 138.4 476.9 138.4 477.9 138.4 478.9 138.5 479.9 138.6 479.9 106.2 478.9 106.2 476.9 106.1 473 106.1 471 106.2 470 106.2 469 106.3 468 106.4 466 106.8 465 106.9 464 107.2 463.1 107.4 461.1 107.9 460.1 108.2 458.8 108.6 457.1 109.1 455.5 109.6 452.1 110.5 451.2 110.8 450.2 110.9 449.2 111 448.2 111.1 442.2 111.1 441.2 111.1 440.3 111.2 439.3 111.2 438.3 111.4 436.3 111.7 435.3 111.9 434.3 112.2 432.8 112.6 431.3 113.1 429.3 113.9 428.4 114.3 427.4 114.6 426.4 114.9 425.4 115.2 423.4 115.6 421.4 115.9 419.4 116.2 417.2 116.6 415.5 116.9 414.5 117.2 413.1 117.6 412.5 117.8 411.5 118.1 410.5 118.6 409.5 119 407.5 120 406.5 120.5 404.5 121.5 401.6 123 399.6 123.9 397.6 125 394.8 126.5 393.2 127.5 392.7 127.9 391.9 128.5 391.7 128.9 391.2 129.5 390.8 130.5 390.7 130.9 390.5 131.4 389.7 132.1 389 132.4 387.7 132.7 386.7 132.9 385.7 133 382.7 133.3 381.8 133.4 380.8 133.6 379.8 134 378.8 134.6 377.8 135.5 377.1 136.4 376.5 137.4 376.1 138.4 375.9 139.4 375.8 140.4 375.9 141.4 376 142.3 376.4 143.3 376.8 143.7 377.4 144.3 377.8 144.6 378.8 145.1 379.8 145.4 380.8 145.6 381.8 145.6 382.7 145.5 383.8 145.3 384.7 145.1 385.7 144.9 386.7 144.7 388 144.3 388.7 144.1 389.7 143.9 390.7 143.8 391.7 144.1 392.7 144.6 393.6 145.5 394.6 146.6 395.2 147.3 396 148.3 396.6 148.9 397.1 149.3 397.6 149.6 398.6 150.1 399.6 150.4 400.6 150.6 401.6 150.7 402.6 150.8 408.5 150.8 409.5 150.8 410.5 150.9 411.5 151 412.5 151.1 413.6 151.3 415.5 151.7 416.5 151.9 417.7 152.3 419.4 152.9 421.4 153.6 423.4 154.3 424.4 154.6 425.4 154.8 427.2 155.2ZM318.3 145.3 319.3 145.5 320.3 145.6 321.3 145.7 322.3 145.8 324.2 145.8 328.2 145.8 330.2 145.8 331.2 145.8 332.2 145.7 333.2 145.5 334.4 145.3 336.1 145 337.1 144.7 338.5 144.3 340.1 143.8 341.1 143.6 342.1 143.4 343.1 143.4 345.1 143.3 348 143.3 349 143.3 350 143.2 351 143.1 352 142.8 353 142.3 354 141.9 357 140.4 359.9 138.9 360.9 138.4 361.9 137.8 362.9 137.1 363.7 136.4 364.6 135.4 365.3 134.4 365.9 133.4 366.7 132.4 366.9 132.3 367.9 131.7 368.9 131.3 369.9 131.1 371.8 130.8 373 130.5 373.8 130.1 374.7 129.5 374.8 129.1 375.1 128.5 374.9 127.5 374.5 126.5 373.7 125.5 373 124.5 372.6 123.5 373 122.5 373.8 121.5 374.5 120.5 375 119.5 375.2 118.6 375 117.6 374.5 116.6 373.6 115.6 372.8 114.9 371.8 114.2 370.8 113.6 367.9 112.1 363.9 110.1 361.9 109.1 360.8 108.6 359.9 108.3 358.2 107.6 357 107.3 356 107.1 354 106.6 353 106.5 352 106.3 351 106.2 350 106.2 348 106.2 344.1 106.2 342.1 106.2 341.1 106.2 340.1 106.3 339.1 106.5 338 106.7 336.1 107.1 335.1 107.3 334 107.6 332.2 108.3 330.2 109.1 328.6 109.6 327.2 110 326.2 110.3 324.2 110.7 323.3 110.8 322.3 110.9 321.3 111 320.3 111.1 318.3 111.1 314.3 111.1 312.3 111.2 311.4 111.2 310.4 111.3 309.4 111.4 308.3 111.6 306.4 112 305.4 112.3 304.2 112.6 302.4 113.2 301.4 113.6 300.4 114.1 298.5 115 295.5 116.6 292.5 118 291.5 118.6 290.5 119.1 289.5 119.8 288.7 120.5 287.8 121.5 287.2 122.5 286.9 123.5 286.7 124.5 286.6 125.5 286.6 126.5 286.7 127.5 286.9 128.5 287.2 129.5 287.8 130.5 288.6 131.4 289.6 132.4 290.5 133.4 291.1 134.4 291.4 135.4 291.6 136.4 292 137.4 292.8 138.4 293.5 138.8 294.7 139.4 295.5 139.6 296.5 139.9 297.5 140.2 298.5 140.4 300.4 140.7 303.4 141.2 304.5 141.4 306.4 141.8 307.4 142 308.6 142.3 310.4 143 312.3 143.7 314.3 144.4 315.3 144.7 316.3 144.9 318.2 145.3ZM129.9 140.4 130.9 140.6 131.9 140.7 132.9 140.8 133.9 140.8 135.9 140.9 139.8 140.8 140.8 140.8 141.8 140.7 142.8 140.6 143.8 140.3 144.8 139.9 145.8 139.3 146.8 138.4 147.4 137.4 147.7 136.4 147.9 134.4 148.1 133.4 148.4 132.4 149 131.4 149.8 130.5 150.5 129.5 150.8 128.5 150.5 127.5 149.1 125.5 148.6 124.5 148.4 123.5 148.6 122.5 149.1 121.5 149.9 120.5 150.8 119.5 151.7 118.6 152.3 117.6 152.6 116.6 152.6 115.6 152.3 114.6 151.4 113.6 150.7 113.2 149.6 112.6 148.7 112.3 147.8 112.1 146.8 111.8 145.8 111.6 143.8 111.3 140.8 110.8 139.7 110.6 137.8 110.2 136.8 110 135.6 109.6 133.9 109 131.9 108.2 130.3 107.6 128.9 107.3 127.9 107 125.9 106.6 124.9 106.4 124 106.3 123 106.2 123 138.6 124 138.8 125.9 139.4 126.9 139.7 127.9 140 129.8 140.4ZM194.4 128.5 197.3 128.8 200.3 129.1 202.3 129.2 204.3 129.3 210.2 129.4 212.2 129.4 214.2 129.4 216.2 129.2 218.2 129.1 219.1 128.9 220.1 128.8 221.1 128.5 221.3 128.5 222.1 127.5 221.8 126.5 221.1 125.7 220.8 125.5 220.1 125.1 218.8 124.5 217.2 124 215 123.5 214.2 123.4 213.2 123.2 212.2 123.1 211.2 123 205.3 122.8 204.3 122.7 203.3 122.7 202.3 122.8 201.3 123 200.3 123.3 199.3 123.6 196.8 124.5 194.1 125.5 193.4 125.9 192.3 126.5 191.9 127.5 192.4 127.8 193.4 128.2 194.1 128.5ZM131.9 85.9 132.9 86.1 133.9 86.2 134.9 86.3 138.8 86.3 140.8 86.3 141.8 86.2 142.8 86.1 143.8 85.9 144 85.8 144.8 85.5 145.8 84.8 146.3 83.8 145.8 82.8 144.8 82.2 144 81.9 143.8 81.8 142.8 81.6 141.8 81.5 140.8 81.4 136.8 81.4 134.9 81.4 133.9 81.5 132.9 81.6 131.9 81.8 131.7 81.9 130.9 82.2 129.9 82.9 129.4 83.8 129.9 84.9 130.9 85.5 131.7 85.8Z" clip-path="url(#pa390b9fe62)" style="fill: #fd940e"/>
   </g>
   <g shape-rendering="crispEdges" id="QuadContourSet_13">
    <path d="M161.6 202.1 162.6 202.3 163.6 202.5 164.6 202.6 166.6 202.6 171.5 202.6 174.5 202.7 180.5 202.8 183.4 202.8 198.3 202.8 200.3 202.8 201.3 202.8 202.3 202.7 203.3 202.6 205.3 202.3 209.2 201.7 211.2 201.3 212.2 201.1 213.2 200.8 215.2 200.1 216.2 199.8 218.6 198.9 220.1 198.2 220.9 197.9 222.1 197.3 223.3 196.9 224.1 196.5 225.8 195.9 227.9 194.9 229.6 193.9 230.9 192.9 231.7 191.9 232.2 190.9 232.4 189.9 232.1 189 231.1 188 230 187.3 229.7 187 228 186 226 185 223.7 184 220.8 183 219.1 182.5 217.5 182 214.2 181.1 213.2 180.9 212.2 180.7 211.2 180.6 210.2 180.6 193.4 180.5 179.5 180.5 170.6 180.5 165.6 180.5 163.6 180.5 162.6 180.4 161.6 180.4 160.6 180.2 159.5 180 157.7 179.6 156.7 179.4 155.4 179 154.7 178.8 153.7 178.6 152.7 178.5 151.7 178.6 150.7 178.8 149.7 179.1 148.7 179.4 147.8 179.6 145.8 180.1 143.8 180.4 142.8 180.6 141.8 180.9 140.8 181.2 139.8 181.8 139.4 182 138.8 182.6 138.5 183 138.1 184 137.9 185 137.8 186 137.6 187 137.2 188 136.8 188.4 136.2 189 135.9 189.2 134.9 189.7 133.9 190 132.9 190.1 131.9 190 130.9 189.7 129.9 189.2 129.4 189 128.9 188.5 128.3 188 127.5 187 126.7 186 125.8 185 124.9 184.3 124 183.6 123 183 123 197.3 130.9 197.2 132.9 197.2 135.9 197.3 141.8 197.4 144.8 197.5 149.7 197.5 150.7 197.5 151.7 197.6 152.7 197.8 153.7 198.2 154.7 198.7 156.8 199.9 158.7 200.8 160.6 201.7 161 201.8ZM370.8 197 371.8 197.3 372.8 197.4 373.8 197.4 396.6 197.5 398.6 197.4 399.6 197.4 400.6 197.3 401.6 197 402.6 196.7 403.6 196.3 404.6 195.9 406.5 194.9 407.5 194.4 408.5 193.9 409.5 193.5 410.5 193.1 411.5 192.9 412.5 192.6 413.5 192.4 414.6 191.9 415.3 190.9 415.4 189.9 415.5 187 415.4 185 415.4 184 415.2 183 414.9 182 414.5 180.7 414.2 180 413.7 179 412.9 178 412.5 177.8 411.5 177.2 410.5 177 409.5 177 408.5 177.3 407.5 177.7 406.8 178 405.5 179 404.4 180 403.6 180.9 402.6 181.7 401.6 182.2 400.6 182.5 399.6 182.4 398.6 182.2 396.6 181.7 395.6 181.4 393.6 181 392.7 180.8 391.7 180.7 390.7 180.6 389.7 180.6 387.7 180.5 374.8 180.5 372.8 180.5 371.8 180.6 370.8 180.7 369.9 180.9 368.9 181.2 367.9 181.8 367.5 182 366.9 182.6 366.5 183 366.1 184 365.9 185 365.9 186 365.9 189 365.9 189.9 365.9 190.9 366.1 191.9 366.5 192.9 367.1 193.9 367.9 194.9 369 195.9 369.9 196.5 370.5 196.9ZM429.3 197 430.3 197.3 431.3 197.4 432.3 197.4 461.1 197.5 469 197.5 479.9 197.3 479.9 183 475.9 181 473 179.5 471 178.5 469.9 178 469 177.7 467.2 177.1 466 176.7 465 176.5 463.1 176 462.1 175.9 461.1 175.7 460.1 175.6 459.1 175.6 457.1 175.6 453.1 175.6 452.1 175.6 451.2 175.6 450.2 175.7 449.2 175.9 448.2 176.3 447.2 176.7 446.6 177.1 446.2 177.3 444.2 178.8 443.8 179 443.2 179.4 442.2 179.8 441.2 180.2 439.3 180.8 438.3 181.2 437.3 181.8 436.9 182 436.3 182.6 435.9 183 435.5 184 435.3 185 435.2 186 435.1 187 434.6 188 434.3 188.4 433.7 189 433.3 189.2 432.3 189.7 431.3 190.1 430.3 190.4 429.3 190.6 427.4 191 426.4 191.2 425.4 191.5 424.1 191.9 423.4 192.5 423 192.9 423.3 193.9 424.7 194.9 426.5 195.9 427.4 196.3 428.4 196.7 428.8 196.9ZM250.9 192.3 251.9 192.6 252.9 192.7 253.8 192.7 254.8 192.7 255.8 192.6 256.8 192.5 257.8 192.4 258.8 192.2 259.9 191.9 260.8 191.2 261 190.9 261.3 189.9 261.1 189 260.3 188 259.8 187.7 258.4 187 256.8 186.5 255.8 186.2 254.7 186 253.8 185.8 252.9 185.7 251.9 185.7 250.9 185.7 249.9 185.8 248.9 186 247.9 186.3 246.9 186.5 245.6 187 244.9 187.6 244.5 188 244.9 189 246.2 189.9 247.9 190.9 250 191.9ZM427.4 145.3 428.4 145.5 429.3 145.6 430.3 145.7 431.3 145.6 432.3 145.5 433.4 145.3 435.3 144.9 436.3 144.7 437.5 144.3 439.3 143.7 441.2 143 443.2 142.3 444.2 142 445.2 141.8 447.2 141.3 449.2 141 451.2 140.7 453.4 140.4 455.1 140 456.1 139.8 457.4 139.4 458.1 139.1 459.1 138.7 460.1 138.1 461.1 137.3 462.1 136.4 463.1 135.4 464.3 134.4 465.6 133.4 467.2 132.4 468 132 469.2 131.4 470 131.1 471.6 130.5 473 129.8 473.5 129.5 474 129.1 474.6 128.5 475.4 127.5 476.2 126.5 477 125.5 478 124.5 478.9 123.5 479.5 122.5 479.8 121.5 479.9 120.5 479.9 118.6 479.9 116.6 479.8 115.6 479.5 114.6 478.6 113.6 477.9 113.2 476.7 112.6 475.9 112.3 475 112.1 474 111.8 473 111.6 472 111.5 471 111.4 470 111.4 469 111.5 468 111.7 464.7 112.6 463.1 113.1 461.4 113.6 460.1 114 459.1 114.3 457.1 114.8 456.1 115.1 455.1 115.3 453.1 115.6 452.1 115.8 451.2 115.9 450.2 116 449.2 116 447.2 116.1 443.2 116.1 442.2 116.1 441.2 116.2 440.3 116.3 439.2 116.6 438.3 116.9 436.9 117.6 434.3 118.9 433.1 119.5 432.3 120 431.3 120.4 430.3 120.8 429.3 121.1 428.4 121.3 426.4 121.6 425.4 121.9 424.4 122.1 422.9 122.5 422.4 122.7 421.4 123.1 419.4 123.9 418.4 124.3 417.4 124.6 416.5 124.9 415.5 125.1 413.5 125.6 411.5 126 410.5 126.2 409.5 126.6 408.5 127.1 408 127.5 407.5 128.5 408 129.5 408.5 129.8 409.6 130.5 410.5 130.8 412.1 131.4 412.5 131.6 413.5 132.2 413.9 132.4 414.5 133 414.8 133.4 415.2 134.4 415.4 135.4 415.6 137.4 415.8 138.4 416.1 139.4 416.7 140.4 417.6 141.4 418.4 142.1 419.4 142.7 420.6 143.3 421.4 143.7 422.4 144.1 423.4 144.4 424.4 144.7 425.4 144.9 427.3 145.3ZM329.2 137.6 330.2 137.9 331.2 137.9 332.2 137.8 333.2 137.6 334.2 137.3 335.1 137 336.1 136.8 338.1 136.4 340.1 136 343.1 135.6 344.3 135.4 346.1 135 347 134.8 348.4 134.4 349 134.2 350 133.8 351 133.3 352 132.7 352.3 132.4 353 131.7 353.2 131.4 353.7 130.5 354 129.5 354.2 128.5 354.3 127.5 354.3 126.5 354.3 125.5 354.3 124.5 354.2 123.5 354 122.5 353.7 121.5 353.2 120.5 353 120.3 352.4 119.5 352 119.2 351 118.6 350 118.1 349 117.7 348 117.4 347 117.1 346.1 116.9 344.1 116.5 343.1 116.3 342.1 116.2 341.1 116.1 340.1 116.1 338.1 116 325.2 116.1 323.3 116.1 322.3 116.1 321.3 116.2 320.3 116.4 319.3 116.7 318.3 117.1 317.3 117.6 316.3 118.1 314 119.5 313.3 119.9 312.3 120.4 311.4 120.8 310.4 121.1 309.4 121.3 308.3 121.5 307.4 121.7 306.4 122 305.4 122.3 304.6 122.5 303.4 123.1 302.7 123.5 301.9 124.5 301.6 125.5 301.6 126.5 301.8 127.5 302.4 128.5 303.4 129.5 304.4 130.5 305.4 131.7 305.9 132.4 306.7 133.4 307.4 134 307.9 134.4 308.4 134.7 309.4 135.2 310.4 135.5 311.4 135.7 312.3 135.8 313.3 135.9 319.3 135.9 320.3 136 321.3 136 322.3 136.1 323.3 136.2 324.3 136.4 326.2 136.8 327.2 137.1 328.5 137.4Z" clip-path="url(#pa390b9fe62)" style="fill: #ff7800"/>
   </g>
   <g shape-rendering="crispEdges" id="QuadContourSet_14">
    <path d="M179.5 199 180.5 199.1 181.5 199.2 182.5 199.3 183.4 199.4 185.4 199.4 198.3 199.4 200.3 199.4 201.3 199.4 202.3 199.3 203.3 199.2 204.9 198.9 206.3 198.5 208.1 197.9 209.3 196.9 209.1 195.9 208.2 194.6 207.8 193.9 206.7 191.9 206 190.9 205.1 189.9 204.3 189.2 203.3 188.6 202.1 188 201.3 187.6 200.3 187.2 199.3 186.9 198.3 186.6 197.3 186.4 195.3 186 194.4 185.8 193.4 185.7 192.4 185.6 191.4 185.5 189.4 185.5 185.4 185.5 184.4 185.5 183.4 185.6 182.5 185.7 181.5 185.9 180.5 186.2 179.5 186.7 179 187 178.5 187.4 177.8 188 177 189 176.3 189.9 175.4 190.9 174.4 191.9 173.5 192.9 172.8 193.9 172.4 194.9 172.4 195.9 173.1 196.9 173.5 197.1 175.1 197.9 176.5 198.3 178.9 198.9ZM458.1 190.1 459.1 190.2 460.1 190.2 461.1 190.2 462.1 190.1 463.1 189.9 464 189.6 465 189.3 466.1 189 467 188 466.1 187 465 186.6 464 186.3 462.8 186 462.1 185.9 461.1 185.7 460.1 185.7 459.1 185.7 458.1 185.9 457.1 186 456.1 186.3 455.1 186.6 454.1 187 453.1 188 454.1 189 455.1 189.3 456.1 189.6 457.4 189.9ZM429.3 135.5 430.3 135.7 431.3 135.8 432.3 135.9 437.3 135.9 439.3 135.9 440.3 135.8 441.2 135.7 442.2 135.6 443.3 135.4 445.2 135 446.2 134.8 447.4 134.4 449.2 133.8 451.2 133 452.8 132.4 454.1 132 455.1 131.8 457.1 131.4 458.1 131.2 459.1 131 460.1 130.7 461.1 130.3 462.1 129.8 462.6 129.5 463.9 128.5 464.6 127.5 464.9 126.5 465 125.5 464.8 124.5 464.4 123.5 464 123.1 463.5 122.5 463.1 122.3 462.1 121.8 461.1 121.4 460.1 121.2 459.1 121.1 458.1 121.1 444.2 121.1 442.2 121.1 441.2 121.2 440.3 121.4 439.3 121.7 438.3 122.2 437.6 122.5 435.9 123.5 435.3 123.9 434.3 124.5 433.3 125 432.1 125.5 430.3 126.1 429.3 126.5 428.4 127 427.4 127.5 426.3 128.5 425.7 129.5 425.5 130.5 425.4 131.4 425.6 132.4 426 133.4 426.4 133.8 427 134.4 427.4 134.7 428.4 135.2 429 135.4ZM320.3 130.6 321.3 130.8 322.3 130.9 323.3 130.9 328.2 130.9 330.2 130.9 331.2 130.8 332.2 130.8 333.2 130.6 334.2 130.5 336.1 130 337.1 129.8 338.3 129.5 339.1 129.2 340.1 128.8 341.1 128.4 342.1 127.8 342.6 127.5 343.1 127.2 343.9 126.5 344.1 126.2 344.7 125.5 345 124.5 344.8 123.5 343.8 122.5 343.1 122.1 342.1 121.6 341.1 121.3 340.1 121.2 339.1 121.1 337.1 121.1 325.2 121.1 323.3 121.1 322.3 121.2 321.3 121.4 320.3 121.7 319.3 122.2 318.7 122.5 317.5 123.5 316.7 124.5 316.4 125.5 316.4 126.5 316.5 127.5 317 128.5 317.3 128.9 317.9 129.5 318.3 129.7 319.3 130.2 319.9 130.5Z" clip-path="url(#pa390b9fe62)" style="fill: #ff5a00"/>
   </g>
   <g id="matplotlib.axis_1">
    <g id="xtick_1">
     <g id="line2d_1">
      <defs>
       <path id="m8d3a855a7b" d="M0 0 0 3.5" style="stroke: #000000"/>
      </defs>
      <g>
       <use href="#m8d3a855a7b" x="122.96" y="252.40" style="stroke: #000000"/>
      </g>
     </g>
     <g id="text_1">
      <text style="font-size: 8px; font-family: 'DejaVu Sans', sans-serif; text-anchor: middle" x="122.96" y="265.48" transform="rotate(-0 122.96 265.48)">0°E</text>
     </g>
    </g>
    <g id="xtick_2">
     <g id="line2d_2">
      <g>
       <use href="#m8d3a855a7b" x="182.45" y="252.40" style="stroke: #000000"/>
      </g>
     </g>
     <g id="text_2">
      <text style="font-size: 8px; font-family: 'DejaVu Sans', sans-serif; text-anchor: middle" x="182.45" y="265.48" transform="rotate(-0 182.45 265.48)">60°E</text>
     </g>
    </g>
    <g id="xtick_3">
     <g id="line2d_3">
      <g>
       <use href="#m8d3a855a7b" x="241.94" y="252.40" style="stroke: #000000"/>
      </g>
     </g>
     <g id="text_3">
      <text style="font-size: 8px; font-family: 'DejaVu Sans', sans-serif; text-anchor: middle" x="241.94" y="265.48" transform="rotate(-0 241.94 265.48)">120°E</text>
     </g>
    </g>
    <g id="xtick_4">
     <g id="line2d_4">
      <g>
       <use href="#m8d3a855a7b" x="301.43" y="252.40" style="stroke: #000000"/>
      </g>
     </g>
     <g id="text_4">
      <text style="font-size: 8px; font-family: 'DejaVu Sans', sans-serif; text-anchor: middle" x="301.43" y="265.48" transform="rotate(-0 301.43 265.48)">180°</text>
     </g>
    </g>
    <g id="xtick_5">
     <g id="line2d_5">
      <g>
       <use href="#m8d3a855a7b" x="360.92" y="252.40" style="stroke: #000000"/>
      </g>
     </g>
     <g id="text_5">
      <text style="font-size: 8px; font-family: 'DejaVu Sans', sans-serif; text-anchor: middle" x="360.92" y="265.48" transform="rotate(-0 360.92 265.48)">120°W</text>
     </g>
    </g>
    <g id="xtick_6">
     <g id="line2d_6">
      <g>
       <use href="#m8d3a855a7b" x="420.42" y="252.40" style="stroke: #000000"/>
      </g>
     </g>
     <g id="text_6">
      <text style="font-size: 8px; font-family: 'DejaVu Sans', sans-serif; text-anchor: middle" x="420.42" y="265.48" transform="rotate(-0 420.42 265.48)">60°W</text>
     </g>
    </g>
    <g id="xtick_7">
     <g id="line2d_7">
      <g>
       <use href="#m8d3a855a7b" x="479.90" y="252.40" style="stroke: #000000"/>
      </g>
     </g>
     <g id="text_7">
      <text style="font-size: 8px; font-family: 'DejaVu Sans', sans-serif; text-anchor: middle" x="479.90" y="265.48" transform="rotate(-0 479.90 265.48)">0°W</text>
     </g>
    </g>
   </g>
   <g id="matplotlib.axis_2">
    <g id="ytick_1">
     <g id="line2d_8">
      <defs>
       <path id="me4d9d56b5a" d="M0 0 -3.5 0" style="stroke: #000000"/>
      </defs>
      <g>
       <use href="#me4d9d56b5a" x="122.96" y="252.40" style="stroke: #000000"/>
      </g>
     </g>
     <g id="text_8">
      <text style="font-size: 8px; font-family: 'DejaVu Sans', sans-serif; text-anchor: end" x="115.96" y="255.44" transform="rotate(-0 115.96 255.44)">90°S</text>
     </g>
    </g>
    <g id="ytick_2">
     <g id="line2d_9">
      <g>
       <use href="#me4d9d56b5a" x="122.96" y="222.66" style="stroke: #000000"/>
      </g>
     </g>
     <g id="text_9">
      <text style="font-size: 8px; font-family: 'DejaVu Sans', sans-serif; text-anchor: end" x="115.96" y="225.70" transform="rotate(-0 115.96 225.70)">60°S</text>
     </g>
    </g>
    <g id="ytick_3">
     <g id="line2d_10">
      <g>
       <use href="#me4d9d56b5a" x="122.96" y="192.91" style="stroke: #000000"/>
      </g>
     </g>
     <g id="text_10">
      <text style="font-size: 8px; font-family: 'DejaVu Sans', sans-serif; text-anchor: end" x="115.96" y="195.95" transform="rotate(-0 115.96 195.95)">30°S</text>
     </g>
    </g>
    <g id="ytick_4">
     <g id="line2d_11">
      <g>
       <use href="#me4d9d56b5a" x="122.96" y="163.17" style="stroke: #000000"/>
      </g>
     </g>
     <g id="text_11">
      <text style="font-size: 8px; font-family: 'DejaVu Sans', sans-serif; text-anchor: end" x="115.96" y="166.21" transform="rotate(-0 115.96 166.21)">0°</text>
     </g>
    </g>
    <g id="ytick_5">
     <g id="line2d_12">
      <g>
       <use href="#me4d9d56b5a" x="122.96" y="133.42" style="stroke: #000000"/>
      </g>
     </g>
     <g id="text_12">
      <text style="font-size: 8px; font-family: 'DejaVu Sans', sans-serif; text-anchor: end" x="115.96" y="136.46" transform="rotate(-0 115.96 136.46)">30°N</text>
     </g>
    </g>
    <g id="ytick_6">
     <g id="line2d_13">
      <g>
       <use href="#me4d9d56b5a" x="122.96" y="103.68" style="stroke: #000000"/>
      </g>
     </g>
     <g id="text_13">
      <text style="font-size: 8px; font-family: 'DejaVu Sans', sans-serif; text-anchor: end" x="115.96" y="106.71" transform="rotate(-0 115.96 106.71)">60°N</text>
     </g>
    </g>
    <g id="ytick_7">
     <g id="line2d_14">
      <g>
       <use href="#me4d9d56b5a" x="122.96" y="73.93" style="stroke: #000000"/>
      </g>
     </g>
     <g id="text_14">
      <text style="font-size: 8px; font-family: 'DejaVu Sans', sans-serif; text-anchor: end" x="115.96" y="76.97" transform="rotate(-0 115.96 76.97)">90°N</text>
     </g>
    </g>
   </g>
   <g id="line2d_15">
    <path d="M474.4 127.5 475.5 126.8 477.9 126.7 479.2 125.9 479.9 125" clip-path="url(#pa390b9fe62)" style="fill: none; stroke: #000000; stroke-width: 0.3; stroke-linecap: square"/>
   </g>
   <g id="line2d_16">
    <path d="M123 125 123.2 124.7 123 124.4" clip-path="url(#pa390b9fe62)" style="fill: none; stroke: #000000; stroke-width: 0.3; stroke-linecap: square"/>
   </g>
   <g id="line2d_17">
    <path d="M479.9 124.4 479.6 124 479.9 123.7" clip-path="url(#pa390b9fe62)" style="fill: none; stroke: #000000; stroke-width: 0.3; stroke-linecap: square"/>
   </g>
   <g id="line2d_18">
    <path d="M123 123.7 123.9 122.7 126.1 121.6 126 120.5 127.4 120.1 128.9 120.4 131.7 119.1 133.1 119.6 133.9 121 135.4 122 136.8 122.7 138.4 123.4 138.5 125.5 139.4 125 139.9 124.5 139.3 123.7 140 123.1 141.3 123.4 140.8 122.9 138.8 122 136.8 121 136.4 120 135.2 119 135.2 118.3 136.5 117.9 136.4 118.6 137.3 118.4 138.3 119.5 139.2 120 140.8 120.8 142.2 121.7 142.2 123 142.8 123.9 143.5 124.7 144.1 125.7 144.6 126.7 145.3 127.1 145.8 127 145.6 126 146 125.5 146.8 125.3 145.8 124.5 145.4 123.5 145.7 122.9 146.7 122.7 148.7 122.7 149 123.2 150.2 122.6 151.7 122.4 150.9 121.9 150.6 120.8 151.3 119.7 152.4 118.4 153.4 117.1 154.4 117.1 155.7 117.6 155.2 118.2 156.2 119 157.7 118.8 159.2 118.3 158.2 118 157.9 117.3 160.1 116.6 161.9 116.4 160.8 117.4 160.1 118.9 162.3 119.9 164.2 121.9 162.6 122.5 160.1 122.5 158.2 121.8 155.7 121.5 154.2 122.2 151.8 122.5 150.2 123.1 149 123.5 149.5 124.5 149.9 125.1 150 126.5 150.7 126.8 152.2 127.3 153.3 126.7 154.7 127 156.7 127.2 158.2 126.9 158.9 126.9 158.5 128 158.6 128.9 157.9 130.4 157.6 131 156.9 132.1 155.2 132.3 153.7 131.8 152.5 132.2 149.7 132 147.8 131.8 145.8 130.8 143.8 130.6 142.8 131.9 141.8 133.1 139.8 132.2 138.1 131.1 135.9 130.6 134 130.3 133.2 129.5 133.9 128 133.2 126.6 133.9 126.5 132.7 126.2 131.4 126.6 129.4 126.5 125.9 126.7 123 127.6" clip-path="url(#pa390b9fe62)" style="fill: none; stroke: #000000; stroke-width: 0.3; stroke-linecap: square"/>
   </g>
   <g id="line2d_19">
    <path d="M479.9 127.6 477.9 128.4 474.7 127.6 474 128 473.2 129.5 472.4 129.9 470.7 130.9 470.2 132.9 468.5 135.2 467 135.9 465.5 137.4 464 139.4 463.1 141.9 463.9 143.8 464 145.2 463.6 147.1 462.6 148.6 463.4 149.8 463.3 150.8 464.5 151.8 465.5 152.8 466.7 153.8 466.8 154.7 468.5 156.3 471 158.2 472.5 158.8 475 158.1 477.9 158.5 479.9 157.7" clip-path="url(#pa390b9fe62)" style="fill: none; stroke: #000000; stroke-width: 0.3; stroke-linecap: square"/>
   </g>
   <g id="line2d_20">
    <path d="M123 157.7 124 157.2 125.4 156.9 127.4 156.9 128.9 158.9 131.4 158.6 132.4 159.3 132.7 160.7 131.9 164.2 132.9 165.9 134.7 167.6 136.1 171.9 135.4 176.1 134.7 179 134.7 180.2 135.7 182.5 137.3 185.9 138 189.4 139.3 191.5 140.3 193.9 141.3 197.2 142.8 197.7 144.8 197.1 148.3 196.8 150.2 195.9 152.7 193.9 153.7 192.7 155.2 191.4 155.6 189 158.2 187 158 185 157.5 183 159.2 181.5 161.6 180 163.1 178 163.1 174.1 162.1 171.1 161.9 169.9 162.3 167.2 164.1 165 166.1 162.7 167.9 161.2 170.6 158.2 172 155.2 173.7 151.5 167.6 152.8 165.9 151.7 165.6 150.7 164.6 149.3 162.1 147.7 161.1 145.3 159.8 143.7 159.7 141.9 158.2 140.4 156.7 137.4 155.3 133.5 156.2 135.4 157 135.6 157.6 133.9 157.7 135.4 161.1 139.9 161.8 141.9 163.6 144.3 165.1 146.8 165.8 150 166.1 150.6 167.6 150.5 174.7 147.7 176.5 146.3 178 145.5 180.3 143.8 182.3 140.9 181.1 139.8 180 139.5 178.9 138.5 178.8 137.1 176.5 139.3 174.5 139.4 173.8 137.3 173.3 138.6 172.7 137.2 171.1 135 170.6 133.5 172 133.4 175 136 177 136.8 178.8 136.3 179.8 137.6 182 138 184.7 138.3 186.9 138.1 189.4 138.6 190.9 139.9 192.4 140.6 191.4 141.1 192.4 142.3 194.4 141.9 195.2 144.3 195.8 147.3 196.8 149.3 197.3 150.8 198.6 153.8 199.8 155.1 201.6 153 202.2 150.3 202.6 147.8 204.6 146.7 207 144 208.7 143 209.2 141.9 210.7 141.7 212.7 141.2 214 141 214.5 142.6 215.9 144.3 216.4 147.3 217.7 147.5 219.1 146.5 219.8 147.3 220.4 150.3 220.7 153.3 220.4 155.2 222.1 156.7 222.5 158.2 223.4 160.4 225.6 161.9 226.3 161.8 225.6 159.7 225.5 158.2 222.6 155.8 221.6 153.8 221.3 152.8 222.6 149.8 223.1 150.6 224.6 151.3 226.9 154.6 228.6 153.8 229.6 152.8 231.2 151.8 231.3 149.8 230.8 147.8 229.1 146.3 227.9 144.5 228.8 142.5 230 141.9 231.8 141.9 232 143 232.5 142.2 234 141.6 237.5 140.6 239 139.8 240.8 138.6 242.4 135.9 243.8 133.5 243.8 132.4 242.9 130.9 242.2 129.2 241.2 128.5 242.4 127.4 244.4 126.1 242.7 125.7 241 126.3 240 125.2 239.7 124.5 241 124 242.9 122.7 243.5 124.5 244.4 123.5 246.2 123.6 246.9 125 248.4 126 248.2 128.5 248.4 129.1 250.9 128.4 251.4 127 251.3 126 250.2 124.9 249.4 123.8 251.6 122.5 252.6 121.2 253.7 120.5 255 120.8 257.3 119.6 259.3 118.1 261.8 115.6 262.3 113.6 263.2 111.1 262.8 110.3 260.8 109.5 259.3 109.6 257.8 109 259.8 107.2 262.8 105 264.8 104.4 267.7 104.5 270.7 104.1 272.5 104.1 275.7 104.5 276.7 103.2 278.6 102 281.6 101.9 283.1 103.4 279.4 105.9 278.1 108.1 278.3 112.6 281.6 109.1 283.6 107.4 284.9 105.9 283.6 105.2 286.1 103.9 288.1 103.4 291.5 103.7 293.5 102.7 296 101.9 299 101.2 300.9 101.4 302.4 100.7 299 99 303.4 98.2 307.4 99.2 308.9 99.3 309.4 98.2 311.6 97.7 309.9 96.9 306.4 96.2 302.4 94.9 296.5 94 292 93.7 287.6 94.2 282.6 94.2 281.6 93 277.6 92.8 273.7 92.9 271.7 92.3 266.7 91.5 261.8 91.3 260.8 92.3 256.8 92.2 251.9 92.8 250.4 91.3 247.9 90.3 243.9 90.8 240 90.3 235 90 234 87.8 230 87.1 226.1 86.1 220.1 87.8 215.2 88 210.2 88.8 208.2 89.8 204.3 90.3 202.8 91.3 202.8 92.8 200.3 91.5 197.3 91.3 195.3 92.3 195.3 95.7 194.4 94.8 195.3 92.3 192.4 90.8 190.4 92.8 189.4 94.3 186.4 94.6 182.5 95.3 179.5 95.3 172.5 95.9 168.6 95.7 166.6 95.3 166.1 97.2 163.6 97.2 162.6 98.2 158.7 99.2 157.5 99.2 157.7 97.4 163.6 96.7 163.6 96.9 160.6 95.5 155.7 94.5 152.7 94 147.8 92.8 142.8 93.8 138.8 94.8 136.8 96.2 133.4 99.7 129.9 100.9 127.9 102.2 127.9 103.7 128.4 104.9 129.9 105.7 131.9 105 133.4 104.2 133.9 104.9 134.7 105.7 135.8 108.2 137.1 108.1 138.8 107.4 139.3 106.2 141.5 103.9 140.3 103 140.3 101.2 141.8 100.2 144.3 98.9 145.3 97.9 147.3 97.9 148.2 98.7 147.3 99.7 144.8 100.7 144.3 102.2 144.3 103.2 145.8 103.8 150.2 103.2 152.7 103.7 150.7 104.2 147.3 104.3 146.3 104.9 147 106.5 144.8 106.2 143.8 107.2 144 108.1 142.5 109.1 137 109.7 134.9 109.4 133.9 109.6 132.8 108.8 133.4 107.2 133.5 106 131.4 106.7 131 108.1 131.6 109.6 131.4 110.1 127.9 110.2 127.6 111.1 126.9 111.8 125.9 112.3 124.6 112.7 124.5 113.6 123 114" clip-path="url(#pa390b9fe62)" style="fill: none; stroke: #000000; stroke-width: 0.3; stroke-linecap: square"/>
   </g>
   <g id="line2d_21">
    <path d="M479.9 114 478.3 113.9 478.4 114.9 476.9 114.8 475.3 115.2 475.7 115.8 477.4 116.3 478.7 117.6 478.7 119 478.4 120 476.9 120.1 474.2 119.9 472 119.8 470.7 120.5 471.2 121.5 471.2 123 470.5 124.7 471 126.5 472.5 126.3 473.7 126.7 474.4 127.5" clip-path="url(#pa390b9fe62)" style="fill: none; stroke: #000000; stroke-width: 0.3; stroke-linecap: square"/>
   </g>
   <g id="line2d_22">
    <path d="M313.3 98.1 315.3 94.9 324.4 92.5 331.2 93.3 340.1 94.1 346.1 94.3 353 93.8 360.9 94.8 365.9 95.7 372.8 95.7 382.7 96.2 384.7 95.7 385.2 94.3 384.2 92.8 386.2 91.8 388.7 92.8 388.2 94.3 390.7 95 392.7 95.3 393.6 94 396.1 94 398.6 95.3 399.1 96.7 396.6 97.2 394.6 97.4 393.2 99.2 390.7 99.9 386.7 103.7 386.7 105.2 388.7 106.7 392.7 107.6 398.6 108.6 398.6 110.6 400.6 112.1 401.6 109.1 404.1 107.2 403.6 103.7 402.6 101.2 407.5 101.7 410.5 102.7 411 104.7 415.5 103.7 418.4 106.7 424.4 111.1 423.4 112.1 420.4 113.4 414.5 113.4 410.5 116.1 415.5 114.6 416 115.6 415.5 117.6 419.4 118.1 410.5 119.8 410 121.7 406.5 123 405.1 125.5 404.6 128.5 402.6 129.7 399.6 131.9 400.6 136.4 400.1 138.2 398.6 136.9 397.6 134.2 395.6 133.7 391.7 133.2 390.7 134.3 386.7 133.8 383.4 135.9 382.9 141.4 384.7 144.3 386.2 145.1 389.2 144.8 390.2 142.3 393.6 141.9 392.2 147.3 396.6 147.8 397.1 151.3 397.1 152.8 399.1 154.2 401.1 153.8 403.1 154.6 404.6 154 405.5 152.3 408.5 151.3 409 152.8 412.5 152.8 416.5 152.6 418.9 153.3 420.4 154.7 423.4 157.2 426.4 157.4 428.8 159 430.3 161.7 430.3 163.7 432.3 164.2 436.3 165.7 440.3 165.9 443.2 167.9 445 168.6 445.2 171.1 443.2 174.1 441.4 176.1 441.2 180 440.3 183 439.3 185 436.3 186 432.3 189 431.7 191.4 429.3 193.9 427.4 196.6 425.4 197.9 422.4 197.4 423.4 199.4 422.9 200.8 418.4 201.8 418.1 203.5 415.5 203.8 416.2 205.3 415 207.8 413 209.3 414.5 210.8 412 213.2 411.5 215 410.5 215.5 408.5 216.2 406 215.2 405.1 209.8 406.5 206.8 407 204.8 406.8 201.8 407.3 199.9 408.5 195.9 409 192.9 409.1 188 410.2 183 410 181 408.5 180 404.6 177.1 401.6 171.1 399.6 169.1 399.4 167.6 400.6 166.1 400.1 164.2 400.6 162.2 401.8 161.4 403.1 159.2 403.3 156.2 402.6 154.7 401.1 154.4 400.1 155.7 398.6 155 396.6 153.8 394.9 153.3 394.9 152.1 393.2 150.3 389.2 149.3 386.7 147.3 384.2 147.6 377.3 145 375.3 143.3 375.5 141.7 374.8 140.4 366.4 131.9 367.9 133.9 368.9 137.4 370.8 140.4 368.9 138.6 365.4 133.9 363.9 130.9 362.4 129.5 360.3 128.9 358.5 126 357 123.2 356.5 120.5 357 117.4 356.3 115.2 358 115.1 356.5 113.6 353.5 112.6 349 107.2 345.1 105.2 341.1 103.9 333.2 103.2 331.2 104.2 329.2 103.2 325.2 106.2 322.3 107.6 319.3 108.6 316.8 109.1 319.3 108.1 323.3 105 316.3 102.7 316.3 101.2 317.3 100.5 320.3 99.2 315.3 99.1 313.3 98.1" clip-path="url(#pa390b9fe62)" style="fill: none; stroke: #000000; stroke-width: 0.3; stroke-linecap: square"/>
   </g>
   <g id="line2d_23">
    <path d="M407.5 85.3 414.5 82.9 420.4 81.9 435.3 81.4 450.2 80.4 460.1 81.9 468 82.4 462.1 83.8 461.1 86.8 459.1 89.3 458.1 91.8 456.1 93.3 453.1 95.3 448.2 95.7 443.2 97.9 440.3 98.7 438.3 101.2 436.8 103.7 434.3 102.9 431.3 101.7 427.4 97.7 426.9 95.3 425.9 93.3 424.4 91.3 422.4 88.8 418.4 87.8 412.5 87.3 407.5 85.8 407.5 85.3" clip-path="url(#pa390b9fe62)" style="fill: none; stroke: #000000; stroke-width: 0.3; stroke-linecap: square"/>
   </g>
   <g id="line2d_24">
    <path d="M474.3 113.5 476.4 113.2 478.9 112.9 479.9 112.7" clip-path="url(#pa390b9fe62)" style="fill: none; stroke: #000000; stroke-width: 0.3; stroke-linecap: square"/>
   </g>
   <g id="line2d_25">
    <path d="M123 112.7 124.4 112.4 123.9 111.8 124.7 110.9 123.3 110.4 123 109.8" clip-path="url(#pa390b9fe62)" style="fill: none; stroke: #000000; stroke-width: 0.3; stroke-linecap: square"/>
   </g>
   <g id="line2d_26">
    <path d="M479.9 109.8 479.7 109.4 478.4 108.1 477.4 107.5 478 106.1 476.8 105.1 475 105.1 474.2 106.2 474.4 107.3 475 107.9 475.1 108.8 476.6 108.7 476.9 109.7 476.8 110.3 475.4 110.3 475.7 111.4 474.7 111.8 476.4 112.2 475.4 112.6 474.3 113.5" clip-path="url(#pa390b9fe62)" style="fill: none; stroke: #000000; stroke-width: 0.3; stroke-linecap: square"/>
   </g>
   <g id="line2d_27">
    <path d="M474 111.6 473.9 110.1 474.5 109.2 473.7 108.4 472.5 108.3 471.5 109.1 470 109.4 470.5 110.3 469.7 111.6 470.5 112.1 472 111.8 473.7 111.4 474 111.6" clip-path="url(#pa390b9fe62)" style="fill: none; stroke: #000000; stroke-width: 0.3; stroke-linecap: square"/>
   </g>
   <g id="line2d_28">
    <path d="M458.1 99.7 456.1 98.2 458.1 97.3 462.1 97.5 465 97.3 466.5 98.5 465 99.4 462.1 100.3 459.1 99.9 458.1 99.7" clip-path="url(#pa390b9fe62)" style="fill: none; stroke: #000000; stroke-width: 0.3; stroke-linecap: square"/>
   </g>
   <g id="line2d_29">
    <path d="M133.9 85.3 135.9 84.1 139.8 83.8 144.8 83.6 149.7 83.8 147.8 84.8 143.8 85.8 139.8 87.3 133.9 85.3" clip-path="url(#pa390b9fe62)" style="fill: none; stroke: #000000; stroke-width: 0.3; stroke-linecap: square"/>
   </g>
   <g id="line2d_30">
    <path d="M174.5 92.3 177.5 90.3 179.5 88.3 184.4 87.3 190.9 86.8 187.4 87.8 181.5 89.8 179.5 92.3 176 93 174.5 92.3" clip-path="url(#pa390b9fe62)" style="fill: none; stroke: #000000; stroke-width: 0.3; stroke-linecap: square"/>
   </g>
   <g id="line2d_31">
    <path d="M217.2 84.3 222.1 83.4 226.1 84.3 222.1 85.3 217.2 84.3" clip-path="url(#pa390b9fe62)" style="fill: none; stroke: #000000; stroke-width: 0.3; stroke-linecap: square"/>
   </g>
   <g id="line2d_32">
    <path d="M258.8 88.3 263.8 88 269.7 88.5 263.8 89.8 258.8 88.3" clip-path="url(#pa390b9fe62)" style="fill: none; stroke: #000000; stroke-width: 0.3; stroke-linecap: square"/>
   </g>
   <g id="line2d_33">
    <path d="M300.4 92.3 303.9 92.6 302.9 93 300.4 92.8 300.4 92.3" clip-path="url(#pa390b9fe62)" style="fill: none; stroke: #000000; stroke-width: 0.3; stroke-linecap: square"/>
   </g>
   <g id="line2d_34">
    <path d="M263.8 117.6 265.2 117.1 265 114.6 265.7 114.1 264.8 112.1 265 110.6 264.3 109.3 263.8 110.1 263.6 112.6 263.9 115.6 263.8 117.6" clip-path="url(#pa390b9fe62)" style="fill: none; stroke: #000000; stroke-width: 0.3; stroke-linecap: square"/>
   </g>
   <g id="line2d_35">
    <path d="M261.8 122 263 121.7 264.8 121.5 267.2 120.2 266.7 119.3 263.8 118.1 263.3 119.5 262.1 120.2 261.8 121.3 261.8 122" clip-path="url(#pa390b9fe62)" style="fill: none; stroke: #000000; stroke-width: 0.3; stroke-linecap: square"/>
   </g>
   <g id="line2d_36">
    <path d="M263.3 122.1 263.8 124 262.8 125.2 262.7 127 262.3 128.2 261.6 128.5 260.8 128.7 259.3 128.9 258.6 129.2 257.6 130 256.8 128.9 254.8 129.1 252.9 129.5 252.9 129 254.3 128 256.3 127.9 257.8 127.7 258.6 126.2 260.3 126 261.3 125 261.8 123.5 262.3 122.2 263.3 122.1" clip-path="url(#pa390b9fe62)" style="fill: none; stroke: #000000; stroke-width: 0.3; stroke-linecap: square"/>
   </g>
   <g id="line2d_37">
    <path d="M251.9 129.7 252.9 129.6 253.6 130.9 253.1 132.1 252.2 132.2 251.9 130.7 251.9 129.7" clip-path="url(#pa390b9fe62)" style="fill: none; stroke: #000000; stroke-width: 0.3; stroke-linecap: square"/>
   </g>
   <g id="line2d_38">
    <path d="M254.3 130.5 255.3 130.2 256.5 129.7 255.8 129.1 254.6 129.6 254.3 130.5" clip-path="url(#pa390b9fe62)" style="fill: none; stroke: #000000; stroke-width: 0.3; stroke-linecap: square"/>
   </g>
   <g id="line2d_39">
    <path d="M242.1 140.9 242.9 141.5 243.8 138.9 243.4 138.1 242.4 138.9 242.1 140.9" clip-path="url(#pa390b9fe62)" style="fill: none; stroke: #000000; stroke-width: 0.3; stroke-linecap: square"/>
   </g>
   <g id="line2d_40">
    <path d="M230.6 144.3 231.5 145.1 233 143.7 232.5 143.2 231.5 143.3 230.6 144.3" clip-path="url(#pa390b9fe62)" style="fill: none; stroke: #000000; stroke-width: 0.3; stroke-linecap: square"/>
   </g>
   <g id="line2d_41">
    <path d="M242.4 144.8 244.2 144.9 244.1 146.8 243.5 148.3 244.4 149.3 245.9 150.3 245.4 150.6 243.7 149.5 242.5 149.1 241.9 147.3 242.4 144.8" clip-path="url(#pa390b9fe62)" style="fill: none; stroke: #000000; stroke-width: 0.3; stroke-linecap: square"/>
   </g>
   <g id="line2d_42">
    <path d="M243.9 156.2 245.4 154.6 247.4 153.6 248.5 155.9 247.4 157.4 246.1 156.9 244.1 156.3 243.9 156.2" clip-path="url(#pa390b9fe62)" style="fill: none; stroke: #000000; stroke-width: 0.3; stroke-linecap: square"/>
   </g>
   <g id="line2d_43">
    <path d="M246.2 150.8 247.6 151 247.4 152.8 246.4 153.3 246.2 151.8 246.2 150.8" clip-path="url(#pa390b9fe62)" style="fill: none; stroke: #000000; stroke-width: 0.3; stroke-linecap: square"/>
   </g>
   <g id="line2d_44">
    <path d="M243.9 151.5 244.9 152 245.4 152.8 244.9 154 244.2 153.3 243.9 152.5 243.9 151.5" clip-path="url(#pa390b9fe62)" style="fill: none; stroke: #000000; stroke-width: 0.3; stroke-linecap: square"/>
   </g>
   <g id="line2d_45">
    <path d="M242.2 149.8 243.4 150 243.1 151 242.4 150.5 242.2 149.8" clip-path="url(#pa390b9fe62)" style="fill: none; stroke: #000000; stroke-width: 0.3; stroke-linecap: square"/>
   </g>
   <g id="line2d_46">
    <path d="M239.2 154.9 240.5 153.8 241.6 152.1 241.3 152 240 153.3 239.2 154.9" clip-path="url(#pa390b9fe62)" style="fill: none; stroke: #000000; stroke-width: 0.3; stroke-linecap: square"/>
   </g>
   <g id="line2d_47">
    <path d="M231 161.7 231.6 161.2 233 161.7 235 160.2 239 156.2 240 157.2 241.2 157.9 240 158.7 240 162.2 239.5 163.2 238.5 164.7 238 166.6 236.5 166.6 234.5 166.4 233 166.1 232.2 165.7 232 164.2 231 163.2 231 161.7" clip-path="url(#pa390b9fe62)" style="fill: none; stroke: #000000; stroke-width: 0.3; stroke-linecap: square"/>
   </g>
   <g id="line2d_48">
    <path d="M217.5 157.6 219.6 158 222.1 160.7 223.6 161.7 225.6 163.7 226.6 165.2 228.1 166.1 227.9 168.9 226.6 168.8 224.1 166.6 222.6 164.2 220.8 161.5 219.1 159.7 217.5 157.6" clip-path="url(#pa390b9fe62)" style="fill: none; stroke: #000000; stroke-width: 0.3; stroke-linecap: square"/>
   </g>
   <g id="line2d_49">
    <path d="M227.3 169.9 228.6 169.1 230.5 169.6 232.5 169.9 234.5 170 236.5 170.8 236.3 171.8 233 171.3 230 170.9 228.1 170.4 227.3 169.9" clip-path="url(#pa390b9fe62)" style="fill: none; stroke: #000000; stroke-width: 0.3; stroke-linecap: square"/>
   </g>
   <g id="line2d_50">
    <path d="M237 171.4 238 171.3 239 171.4 241 171.3 242.9 171.4 244.9 171.3 243.9 171.8 241.9 171.9 240 171.9 238 172 237 171.4" clip-path="url(#pa390b9fe62)" style="fill: none; stroke: #000000; stroke-width: 0.3; stroke-linecap: square"/>
   </g>
   <g id="line2d_51">
    <path d="M245.9 173.3 246.9 172.4 248.9 171.5 247.9 172.1 246.4 173.3 245.9 173.3" clip-path="url(#pa390b9fe62)" style="fill: none; stroke: #000000; stroke-width: 0.3; stroke-linecap: square"/>
   </g>
   <g id="line2d_52">
    <path d="M241.5 168.6 242.3 168.6 242.2 166.1 242.9 165.9 244.4 167.8 244.9 167.1 243.9 166.1 243.4 164.7 245.2 164.1 243.4 163.8 242.4 162.7 243.4 162.2 245.9 162.3 246.9 161.7 246.4 162.8 243.9 162.8 242.1 163.2 241.6 164.2 241 166.1 241.5 168.6" clip-path="url(#pa390b9fe62)" style="fill: none; stroke: #000000; stroke-width: 0.3; stroke-linecap: square"/>
   </g>
   <g id="line2d_53">
    <path d="M249.4 161.7 250.1 161.2 249.9 162.7 250.6 163.7 249.5 163.5 249.4 161.7" clip-path="url(#pa390b9fe62)" style="fill: none; stroke: #000000; stroke-width: 0.3; stroke-linecap: square"/>
   </g>
   <g id="line2d_54">
    <path d="M247.9 166.3 248.9 166.6 250.4 166.1 252.4 166.6 251.4 166.1 249.9 166 247.9 166.3" clip-path="url(#pa390b9fe62)" style="fill: none; stroke: #000000; stroke-width: 0.3; stroke-linecap: square"/>
   </g>
   <g id="line2d_55">
    <path d="M252.9 164.2 254.3 163.6 255.8 164.1 256.8 166.4 259.3 164.7 262.8 165.7 265.7 166.9 267.7 168.6 269.2 169.4 268.7 170.6 270.2 172.1 272.2 173.6 270.7 173.4 268.7 173.1 267.2 171.1 265.2 172.1 264.3 172.4 262.8 172.3 260.8 171.3 259.8 171.5 259.6 168.6 256.8 167.5 254.8 167.1 253.8 165.9 255.3 165.5 252.9 164.7 252.9 164.2" clip-path="url(#pa390b9fe62)" style="fill: none; stroke: #000000; stroke-width: 0.3; stroke-linecap: square"/>
   </g>
   <g id="line2d_56">
    <path d="M270.2 168.6 272.2 168.1 273.7 167.3 273.2 168.6 271.7 169.4 270.2 168.6" clip-path="url(#pa390b9fe62)" style="fill: none; stroke: #000000; stroke-width: 0.3; stroke-linecap: square"/>
   </g>
   <g id="line2d_57">
    <path d="M272.5 165.8 273.9 166.6 274.7 167.7 274.1 167.1 272.5 165.8" clip-path="url(#pa390b9fe62)" style="fill: none; stroke: #000000; stroke-width: 0.3; stroke-linecap: square"/>
   </g>
   <g id="line2d_58">
    <path d="M276.7 169.1 278.1 170.3 279.1 171.3 281.1 172.1 282.1 172.9 283.1 173.6 281.6 172.6 279.6 171.3 277.1 169.6 276.7 169.1" clip-path="url(#pa390b9fe62)" style="fill: none; stroke: #000000; stroke-width: 0.3; stroke-linecap: square"/>
   </g>
   <g id="line2d_59">
    <path d="M288.1 177.6 288.7 178.5 289.7 180 290.8 182.5 290 181 289 179.5 288.1 177.6" clip-path="url(#pa390b9fe62)" style="fill: none; stroke: #000000; stroke-width: 0.3; stroke-linecap: square"/>
   </g>
   <g id="line2d_60">
    <path d="M285.6 183.3 287.1 184 288.5 185.3 287.8 185 285.9 183.8 285.6 183.3" clip-path="url(#pa390b9fe62)" style="fill: none; stroke: #000000; stroke-width: 0.3; stroke-linecap: square"/>
   </g>
   <g id="line2d_61">
    <path d="M298.8 180.5 300 180.3 299.8 181.2 298.8 181 298.8 180.5" clip-path="url(#pa390b9fe62)" style="fill: none; stroke: #000000; stroke-width: 0.3; stroke-linecap: square"/>
   </g>
   <g id="line2d_62">
    <path d="M300.2 179.5 301.4 179.3 300.9 180 300.2 179.5" clip-path="url(#pa390b9fe62)" style="fill: none; stroke: #000000; stroke-width: 0.3; stroke-linecap: square"/>
   </g>
   <g id="line2d_63">
    <path d="M235.5 185 236 189 237 192.9 237 196.4 239.5 197.9 241.9 196.9 245.4 196.8 247.9 195.2 250.9 194.5 253.3 194.4 255.8 195.4 257.3 197.7 258.3 196.4 259.6 195.9 259.3 197.9 260.3 198.4 262.8 200.8 265.2 201.6 266.7 201 268 201.9 269.7 200.7 271.7 200.4 272.9 196.8 274.2 194.9 275.3 191.2 274.7 188.5 272.7 186.5 271.2 185.3 269.7 183 267.7 181.5 267.2 178 265.2 176.6 264.3 173.8 263.4 175.6 263.3 178 262.3 180.5 260.8 180 258.8 178.8 257.3 178 258.5 175.4 256.8 175.1 254.3 174.6 252.9 175.3 251.9 176.1 251.4 177.8 249.9 178 247.9 177.1 246.4 178.5 244.9 179.5 244.1 181 242.9 182.5 241 183 238.7 183.6 236.5 184.8 235.5 185" clip-path="url(#pa390b9fe62)" style="fill: none; stroke: #000000; stroke-width: 0.3; stroke-linecap: square"/>
   </g>
   <g id="line2d_64">
    <path d="M266.3 203.5 268.2 203.9 270 203.7 269.7 205.8 268.6 206.4 266.9 205.1 266.3 203.5" clip-path="url(#pa390b9fe62)" style="fill: none; stroke: #000000; stroke-width: 0.3; stroke-linecap: square"/>
   </g>
   <g id="line2d_65">
    <path d="M294.2 197.3 296 198.8 297 199.9 299.5 200.5 299.5 201.8 298.5 202.1 297.7 204.1 296.4 204.2 296 202.6 295.3 202 296.1 200.8 295.5 199.1 294.2 197.3" clip-path="url(#pa390b9fe62)" style="fill: none; stroke: #000000; stroke-width: 0.3; stroke-linecap: square"/>
   </g>
   <g id="line2d_66">
    <path d="M294.2 203.3 295.7 204.5 294.5 206.3 292.7 207.3 292.2 208.7 290.5 209.4 288.1 208.8 288.5 207.8 290 206.8 292 205.6 293 204.5 294.2 203.3" clip-path="url(#pa390b9fe62)" style="fill: none; stroke: #000000; stroke-width: 0.3; stroke-linecap: square"/>
   </g>
   <g id="line2d_67">
    <path d="M202.1 155.2 202.5 153.5 203.5 154.7 204.1 156.2 203.5 157 202.4 157.2 202.1 155.2" clip-path="url(#pa390b9fe62)" style="fill: none; stroke: #000000; stroke-width: 0.3; stroke-linecap: square"/>
   </g>
   <g id="line2d_68">
    <path d="M171.8 175.1 173 178.5 172 180.5 171.1 183.5 169.8 187.8 167.8 188.5 166.4 186.5 165.9 184.5 167 183 166.6 180.5 168.6 178.8 170.5 176.7 171.8 175.1" clip-path="url(#pa390b9fe62)" style="fill: none; stroke: #000000; stroke-width: 0.3; stroke-linecap: square"/>
   </g>
   <g id="line2d_69">
    <path d="M135.3 125.7 136.2 125.3 138.4 125.2 137.9 126.8 135.3 125.7" clip-path="url(#pa390b9fe62)" style="fill: none; stroke: #000000; stroke-width: 0.3; stroke-linecap: square"/>
   </g>
   <g id="line2d_70">
    <path d="M131.1 122.6 132.7 122.5 132.5 124.4 131.3 124.5 131.1 122.6" clip-path="url(#pa390b9fe62)" style="fill: none; stroke: #000000; stroke-width: 0.3; stroke-linecap: square"/>
   </g>
   <g id="line2d_71">
    <path d="M131.5 121.1 132.3 120.5 132.4 121.5 132.1 122.1 131.5 121.6 131.5 121.1" clip-path="url(#pa390b9fe62)" style="fill: none; stroke: #000000; stroke-width: 0.3; stroke-linecap: square"/>
   </g>
   <g id="line2d_72">
    <path d="M146.3 128.2 149 128.2 148.9 128.5 146.8 128.5 146.3 128.2" clip-path="url(#pa390b9fe62)" style="fill: none; stroke: #000000; stroke-width: 0.3; stroke-linecap: square"/>
   </g>
   <g id="line2d_73">
    <path d="M155 128.5 157.3 127.8 156.6 128.5 155.2 128.8 155 128.5" clip-path="url(#pa390b9fe62)" style="fill: none; stroke: #000000; stroke-width: 0.3; stroke-linecap: square"/>
   </g>
   <g id="line2d_74">
    <path d="M169.6 119 170.1 117.9 171.5 117 173.7 116.6 175.5 116.8 175.7 118.3 173.8 119 173.5 120.3 175.2 121.5 175.3 122.5 176.5 123.5 176 124.2 176.4 126.2 174 126.7 171.7 125.9 171.4 125 172 123.3 171.2 121.7 170.1 120.5 169.6 119" clip-path="url(#pa390b9fe62)" style="fill: none; stroke: #000000; stroke-width: 0.3; stroke-linecap: square"/>
   </g>
   <g id="line2d_75">
    <path d="M418.9 97.2 416 100.2 415 101.7 412.5 101.2 409 100.2 406.5 99.2 402.6 99.2 403.6 97.7 407.5 96.2 406.5 94.8 401.6 94.1 394.6 93.8 391.7 92.3 394.1 90.3 400.6 90 404.6 91.3 409.5 92.8 413.5 94.3 417.4 96.7 418.9 97.2" clip-path="url(#pa390b9fe62)" style="fill: none; stroke: #000000; stroke-width: 0.3; stroke-linecap: square"/>
   </g>
   <g id="line2d_76">
    <path d="M401.6 87.3 396.6 87.5 391.7 87.2 392.7 85.8 395.6 84.5 389.7 83.4 393.6 82.2 400.6 81.1 410.5 80.9 418.4 81.6 416.5 82.4 411.5 83.4 408 84.8 404.6 85.5 405.1 86.3 402.1 86.5 401.6 87.3" clip-path="url(#pa390b9fe62)" style="fill: none; stroke: #000000; stroke-width: 0.3; stroke-linecap: square"/>
   </g>
   <g id="line2d_77">
    <path d="M391.7 84.8 388.7 84.3 384.7 83.8 385.7 82.9 389.7 82.7 391.7 83.8 391.7 84.8" clip-path="url(#pa390b9fe62)" style="fill: none; stroke: #000000; stroke-width: 0.3; stroke-linecap: square"/>
   </g>
   <g id="line2d_78">
    <path d="M400.6 89.3 394.6 89.5 390.7 89.2 388.2 88.4 388.7 87.5 391.7 87.3 395.6 87.5 399.6 87.3 400.6 88.3 400.6 89.3" clip-path="url(#pa390b9fe62)" style="fill: none; stroke: #000000; stroke-width: 0.3; stroke-linecap: square"/>
   </g>
   <g id="line2d_79">
    <path d="M375.8 94.6 379.3 94.2 379.8 93.3 378.3 92.3 375.8 91.3 374.3 90.6 370.8 90.8 366.9 90.5 366.4 91.2 363.4 91.8 362.4 92.5 363.4 93.2 365.9 93.5 367.9 93.7 368.9 94.3 372.3 94.9 375.8 94.6" clip-path="url(#pa390b9fe62)" style="fill: none; stroke: #000000; stroke-width: 0.3; stroke-linecap: square"/>
   </g>
   <g id="line2d_80">
    <path d="M356 91.9 357.5 92.7 360.4 92.4 361.9 91.3 363.4 90.9 362.4 90.2 360.9 89.5 356.5 89.5 355.1 90.3 356 91.9" clip-path="url(#pa390b9fe62)" style="fill: none; stroke: #000000; stroke-width: 0.3; stroke-linecap: square"/>
   </g>
   <g id="line2d_81">
    <path d="M375.3 88.8 370.8 88.9 366.9 89.1 363.4 88.5 364.9 87.5 369.9 87.8 372.8 87.5 374.8 88.2 375.3 88.8" clip-path="url(#pa390b9fe62)" style="fill: none; stroke: #000000; stroke-width: 0.3; stroke-linecap: square"/>
   </g>
   <g id="line2d_82">
    <path d="M365.9 86.8 360.9 87.6 358.5 87.3 361.9 86.3 365.9 86.8" clip-path="url(#pa390b9fe62)" style="fill: none; stroke: #000000; stroke-width: 0.3; stroke-linecap: square"/>
   </g>
   <g id="line2d_83">
    <path d="M383.2 88.3 379.8 88.3 379.3 87.4 382.2 87.3 383.2 88.3" clip-path="url(#pa390b9fe62)" style="fill: none; stroke: #000000; stroke-width: 0.3; stroke-linecap: square"/>
   </g>
   <g id="line2d_84">
    <path d="M387.7 89.2 384.2 89 384.7 88.5 387.2 88.5 387.7 89.2" clip-path="url(#pa390b9fe62)" style="fill: none; stroke: #000000; stroke-width: 0.3; stroke-linecap: square"/>
   </g>
   <g id="line2d_85">
    <path d="M384.2 91.8 381.8 91.9 379.3 91 380.3 90 383.2 90 384.2 91.8" clip-path="url(#pa390b9fe62)" style="fill: none; stroke: #000000; stroke-width: 0.3; stroke-linecap: square"/>
   </g>
   <g id="line2d_86">
    <path d="M387.2 91.8 385.2 91.3 385.2 90 389.7 89.8 390.2 90.8 387.2 91.8" clip-path="url(#pa390b9fe62)" style="fill: none; stroke: #000000; stroke-width: 0.3; stroke-linecap: square"/>
   </g>
   <g id="line2d_87">
    <path d="M384.7 95.1 382.2 94.5 383.2 93.9 385.4 94.3 384.7 95.1" clip-path="url(#pa390b9fe62)" style="fill: none; stroke: #000000; stroke-width: 0.3; stroke-linecap: square"/>
   </g>
   <g id="line2d_88">
    <path d="M169.6 83.4 175.5 82.9 184.4 82.9 187.4 83.4 179.5 83.8 169.6 83.4" clip-path="url(#pa390b9fe62)" style="fill: none; stroke: #000000; stroke-width: 0.3; stroke-linecap: square"/>
   </g>
   <g id="line2d_89">
    <path d="M400.1 99.9 394.1 99.9 394.6 98.2 397.1 97.9 400.1 99.9" clip-path="url(#pa390b9fe62)" style="fill: none; stroke: #000000; stroke-width: 0.3; stroke-linecap: square"/>
   </g>
   <g id="line2d_90">
    <path d="M421.1 116 427.7 116.1 426.9 114.1 424.9 112 422.9 113.1 421.1 116" clip-path="url(#pa390b9fe62)" style="fill: none; stroke: #000000; stroke-width: 0.3; stroke-linecap: square"/>
   </g>
   <g id="line2d_91">
    <path d="M357.6 115.3 355.5 114.7 352.6 112.8 354 113.1 356.2 114.1 357.6 115.3" clip-path="url(#pa390b9fe62)" style="fill: none; stroke: #000000; stroke-width: 0.3; stroke-linecap: square"/>
   </g>
   <g id="line2d_92">
    <path d="M395.6 141.6 398.6 140.3 403.1 141.2 406.3 143.1 403.1 143.4 400.6 141.7 397.6 141.4 395.6 141.6" clip-path="url(#pa390b9fe62)" style="fill: none; stroke: #000000; stroke-width: 0.3; stroke-linecap: square"/>
   </g>
   <g id="line2d_93">
    <path d="M406 144.9 407.7 143.4 410.7 143.6 412.1 144.8 409.5 145.5 406 144.9" clip-path="url(#pa390b9fe62)" style="fill: none; stroke: #000000; stroke-width: 0.3; stroke-linecap: square"/>
   </g>
   <g id="line2d_94">
    <path d="M402.3 144.9 404.4 145.3 403.6 145.5 402.3 144.9" clip-path="url(#pa390b9fe62)" style="fill: none; stroke: #000000; stroke-width: 0.3; stroke-linecap: square"/>
   </g>
   <g id="line2d_95">
    <path d="M413.3 144.9 414.9 145 413.3 145.3 413.3 144.9" clip-path="url(#pa390b9fe62)" style="fill: none; stroke: #000000; stroke-width: 0.3; stroke-linecap: square"/>
   </g>
   <g id="line2d_96">
    <path d="M411.9 215.3 415.3 217.6 413 218.2 409.5 217 410.7 216.2 411.9 215.3" clip-path="url(#pa390b9fe62)" style="fill: none; stroke: #000000; stroke-width: 0.3; stroke-linecap: square"/>
   </g>
   <g id="line2d_97">
    <path d="M419.4 214.2 422.6 214 421.9 214.7 419.4 214.6 419.4 214.2" clip-path="url(#pa390b9fe62)" style="fill: none; stroke: #000000; stroke-width: 0.3; stroke-linecap: square"/>
   </g>
   <g id="line2d_98">
    <path d="M325.2 143.8 326.2 143.8 325.7 143.1 325.2 143.8" clip-path="url(#pa390b9fe62)" style="fill: none; stroke: #000000; stroke-width: 0.3; stroke-linecap: square"/>
   </g>
   <g id="line2d_99">
    <path d="M191.4 211.8 192.9 212 191.9 212.4 191.4 211.8" clip-path="url(#pa390b9fe62)" style="fill: none; stroke: #000000; stroke-width: 0.3; stroke-linecap: square"/>
   </g>
   <g id="line2d_100">
    <path d="M123 232.8 130.4 232.6 133.9 233.4 144.8 233.3 153.7 232.1 156.7 231.2 161.3 232.3 167.6 230.7 175.5 228.7 179.1 228.9 183.4 230.3 190.4 230.7 191.7 233.1 190.4 234.5 192.4 234.7 194.1 232.6 200.6 230.7 210.2 229.1 216.2 229.8 225.1 228.4 235 228.4 241.9 229.3 256.8 228.4 268.1 230.3 279.3 232.1 290.5 233.6 292.9 234.5 285.9 238.6 286.9 241 282.2 243.3 285.9 245.2 301.8 246.9 311.2 246.6 326.2 247.1 338.1 247.5 328 245.2 326.2 243.8 333.7 243.3 324.2 241.5 323.3 240.1 335.1 238.6 346.8 237.7 354.2 236.3 360.9 236.3 370.2 237.2 379.7 237.7 390.7 236 403.1 236 409.5 234 411.5 232.1 408.5 231.2 413.3 229.3 417 227.4 423.1 226 419.9 227.1 417 230.3 419.8 234 418.9 236.8 413.3 238.2 404 239.6 404 241.5 414.3 242.9 422.7 245.2 426.4 243.8 437.7 243.3 435.8 241.5 445.2 241 451.7 242.4 463.8 237.7 473.2 234 479.9 232.8" clip-path="url(#pa390b9fe62)" style="fill: none; stroke: #000000; stroke-width: 0.3; stroke-linecap: square"/>
   </g>
   <g id="patch_3">
    <path d="M123 252.4 123 73.9" style="fill: none; stroke: #000000; stroke-width: 0.8; stroke-linejoin: miter; stroke-linecap: square"/>
   </g>
   <g id="patch_4">
    <path d="M479.9 252.4 479.9 73.9" style="fill: none; stroke: #000000; stroke-width: 0.8; stroke-linejoin: miter; stroke-linecap: square"/>
   </g>
   <g id="patch_5">
    <path d="M123 252.4 479.9 252.4" style="fill: none; stroke: #000000; stroke-width: 0.8; stroke-linejoin: miter; stroke-linecap: square"/>
   </g>
   <g id="patch_6">
    <path d="M123 73.9 479.9 73.9" style="fill: none; stroke: #000000; stroke-width: 0.8; stroke-linejoin: miter; stroke-linecap: square"/>
   </g>
   <g id="text_15">
    <text style="font-size: 9.5px; font-family: 'DejaVu Sans', sans-serif; text-anchor: start" x="122.96" y="67.93" transform="rotate(-0 122.96 67.93)">mc.LR.piControl (0006-0024)</text>
   </g>
   <g id="text_16">
    <text style="font-size: 9.5px; font-family: 'DejaVu Sans', sans-serif; text-anchor: end" x="479.91" y="67.93" transform="rotate(-0 479.91 67.93)">mbar</text>
   </g>
  </g>
  <g id="axes_2">
   <g id="patch_7">
    <path d="M509.6 229.2 529.5 229.2 529.5 100.1 509.6 100.1Z" style="fill: #ffffff"/>
   </g>
   <g id="patch_8">
    <path d="M509.60 228.20 L509.60 229.20 L519.50 235.60 L529.50 229.20 L529.50 228.20 Z" style="fill: #0030f8"/>
   </g>
   <g id="patch_9">
    <path d="M509.60 101.10 L509.60 100.10 L519.50 93.70 L529.50 100.10 L529.50 101.10 Z" style="fill: #ff2a00"/>
   </g>
   <g shape-rendering="crispEdges" id="QuadMesh_1">
    <path d="M509.6 229.2 529.5 229.2 529.5 220.6 509.6 220.6 509.6 229.2" clip-path="url(#p1fe804e399)" style="fill: #0030f8"/>
    <path d="M509.6 220.6 529.5 220.6 529.5 212 509.6 212 509.6 220.6" clip-path="url(#p1fe804e399)" style="fill: #0a5cc2"/>
    <path d="M509.6 212 529.5 212 529.5 203.4 509.6 203.4 509.6 212" clip-path="url(#p1fe804e399)" style="fill: #0a7490"/>
    <path d="M509.6 203.4 529.5 203.4 529.5 194.8 509.6 194.8 509.6 203.4" clip-path="url(#p1fe804e399)" style="fill: #3a886a"/>
    <path d="M509.6 194.8 529.5 194.8 529.5 186.2 509.6 186.2 509.6 194.8" clip-path="url(#p1fe804e399)" style="fill: #409c38"/>
    <path d="M509.6 186.2 529.5 186.2 529.5 177.6 509.6 177.6 509.6 186.2" clip-path="url(#p1fe804e399)" style="fill: #5aaa10"/>
    <path d="M509.6 177.6 529.5 177.6 529.5 169 509.6 169 509.6 177.6" clip-path="url(#p1fe804e399)" style="fill: #8ab418"/>
    <path d="M509.6 169 529.5 169 529.5 160.4 509.6 160.4 509.6 169" clip-path="url(#p1fe804e399)" style="fill: #b0be1e"/>
    <path d="M509.6 160.4 529.5 160.4 529.5 151.8 509.6 151.8 509.6 160.4" clip-path="url(#p1fe804e399)" style="fill: #dac824"/>
    <path d="M509.6 151.8 529.5 151.8 529.5 143.2 509.6 143.2 509.6 151.8" clip-path="url(#p1fe804e399)" style="fill: #f8c823"/>
    <path d="M509.6 143.2 529.5 143.2 529.5 134.6 509.6 134.6 509.6 143.2" clip-path="url(#p1fe804e399)" style="fill: #ffb01a"/>
    <path d="M509.6 134.6 529.5 134.6 529.5 125.9 509.6 125.9 509.6 134.6" clip-path="url(#p1fe804e399)" style="fill: #fd940e"/>
    <path d="M509.6 125.9 529.5 125.9 529.5 117.3 509.6 117.3 509.6 125.9" clip-path="url(#p1fe804e399)" style="fill: #ff7800"/>
    <path d="M509.6 117.3 529.5 117.3 529.5 108.7 509.6 108.7 509.6 117.3" clip-path="url(#p1fe804e399)" style="fill: #ff5a00"/>
    <path d="M509.6 108.7 529.5 108.7 529.5 100.1 509.6 100.1 509.6 108.7" clip-path="url(#p1fe804e399)" style="fill: #ff2a00"/>
   </g>
   <g id="matplotlib.axis_3"/>
   <g id="matplotlib.axis_4">
    <g id="ytick_8">
     <g id="line2d_101"/>
     <g id="text_17">
      <text style="font-size: 9px; font-family: 'DejaVu Sans', sans-serif; text-anchor: end" x="559.50" y="223.98" transform="rotate(-0 559.50 223.98)"> 955.0</text>
     </g>
    </g>
    <g id="ytick_9">
     <g id="line2d_102"/>
     <g id="text_18">
      <text style="font-size: 9px; font-family: 'DejaVu Sans', sans-serif; text-anchor: end" x="559.50" y="215.38" transform="rotate(-0 559.50 215.38)"> 965.0</text>
     </g>
    </g>
    <g id="ytick_10">
     <g id="line2d_103"/>
     <g id="text_19">
      <text style="font-size: 9px; font-family: 'DejaVu Sans', sans-serif; text-anchor: end" x="559.50" y="206.78" transform="rotate(-0 559.50 206.78)"> 975.0</text>
     </g>
    </g>
    <g id="ytick_11">
     <g id="line2d_104"/>
     <g id="text_20">
      <text style="font-size: 9px; font-family: 'DejaVu Sans', sans-serif; text-anchor: end" x="559.50" y="198.18" transform="rotate(-0 559.50 198.18)"> 980.0</text>
     </g>
    </g>
    <g id="ytick_12">
     <g id="line2d_105"/>
     <g id="text_21">
      <text style="font-size: 9px; font-family: 'DejaVu Sans', sans-serif; text-anchor: end" x="559.50" y="189.58" transform="rotate(-0 559.50 189.58)"> 985.0</text>
     </g>
    </g>
    <g id="ytick_13">
     <g id="line2d_106"/>
     <g id="text_22">
      <text style="font-size: 9px; font-family: 'DejaVu Sans', sans-serif; text-anchor: end" x="559.50" y="180.97" transform="rotate(-0 559.50 180.97)"> 990.0</text>
     </g>
    </g>
    <g id="ytick_14">
     <g id="line2d_107"/>
     <g id="text_23">
      <text style="font-size: 9px; font-family: 'DejaVu Sans', sans-serif; text-anchor: end" x="559.50" y="172.37" transform="rotate(-0 559.50 172.37)"> 995.0</text>
     </g>
    </g>
    <g id="ytick_15">
     <g id="line2d_108"/>
     <g id="text_24">
      <text style="font-size: 9px; font-family: 'DejaVu Sans', sans-serif; text-anchor: end" x="559.50" y="163.77" transform="rotate(-0 559.50 163.77)">1000.0</text>
     </g>
    </g>
    <g id="ytick_16">
     <g id="line2d_109"/>
     <g id="text_25">
      <text style="font-size: 9px; font-family: 'DejaVu Sans', sans-serif; text-anchor: end" x="559.50" y="155.17" transform="rotate(-0 559.50 155.17)">1005.0</text>
     </g>
    </g>
    <g id="ytick_17">
     <g id="line2d_110"/>
     <g id="text_26">
      <text style="font-size: 9px; font-family: 'DejaVu Sans', sans-serif; text-anchor: end" x="559.50" y="146.57" transform="rotate(-0 559.50 146.57)">1010.0</text>
     </g>
    </g>
    <g id="ytick_18">
     <g id="line2d_111"/>
     <g id="text_27">
      <text style="font-size: 9px; font-family: 'DejaVu Sans', sans-serif; text-anchor: end" x="559.50" y="137.97" transform="rotate(-0 559.50 137.97)">1015.0</text>
     </g>
    </g>
    <g id="ytick_19">
     <g id="line2d_112"/>
     <g id="text_28">
      <text style="font-size: 9px; font-family: 'DejaVu Sans', sans-serif; text-anchor: end" x="559.50" y="129.36" transform="rotate(-0 559.50 129.36)">1020.0</text>
     </g>
    </g>
    <g id="ytick_20">
     <g id="line2d_113"/>
     <g id="text_29">
      <text style="font-size: 9px; font-family: 'DejaVu Sans', sans-serif; text-anchor: end" x="559.50" y="120.76" transform="rotate(-0 559.50 120.76)">1025.0</text>
     </g>
    </g>
    <g id="ytick_21">
     <g id="line2d_114"/>
     <g id="text_30">
      <text style="font-size: 9px; font-family: 'DejaVu Sans', sans-serif; text-anchor: end" x="559.50" y="112.16" transform="rotate(-0 559.50 112.16)">1035.0</text>
     </g>
    </g>
   </g>
   <g id="LineCollection_1"/>
   <g id="patch_10">
    <path d="M509.6 229.2 519.5 235.6 529.5 229.2 529.5 100.1 519.5 93.7 509.6 100.1 509.6 229.2Z" style="fill: none; stroke: #000000; stroke-width: 0.8; stroke-linejoin: miter; stroke-linecap: square"/>
   </g>
  </g>
  <g id="axes_3">
   <g id="patch_11">
    <path d="M123 478 479.9 478 479.9 299.6 123 299.6Z" style="fill: #ffffff"/>
   </g>
   <g shape-rendering="crispEdges" id="QuadContourSet_15">
    <path d="M124 478 479.9 478 479.9 299.6 123 299.6 123 478Z" clip-path="url(#p59242a91ff)" style="fill: #0030f8"/>
   </g>
   <g shape-rendering="crispEdges" id="QuadContourSet_16">
    <path d="M124 478 479.9 478 479.9 299.6 123 299.6 123 478Z" clip-path="url(#p59242a91ff)" style="fill: #0a5cc2"/>
   </g>
   <g shape-rendering="crispEdges" id="QuadContourSet_17">
    <path d="M124 478 479.9 478 479.9 299.6 123 299.6 123 478Z" clip-path="url(#p59242a91ff)" style="fill: #0a7490"/>
   </g>
   <g shape-rendering="crispEdges" id="QuadContourSet_18">
    <path d="M124 478 479.9 478 479.9 299.6 123 299.6 123 478Z" clip-path="url(#p59242a91ff)" style="fill: #3a886a"/>
   </g>
   <g shape-rendering="crispEdges" id="QuadContourSet_19">
    <path d="M124 478 479.9 478 479.9 299.6 123 299.6 123 478Z" clip-path="url(#p59242a91ff)" style="fill: #409c38"/>
   </g>
   <g shape-rendering="crispEdges" id="QuadContourSet_20">
    <path d="M124 478 479.9 478 479.9 455.6 478.9 455.5 477.9 455.4 476.9 455.2 475.9 454.9 475 454.5 474.2 454.3 473.9 453.3 475 452.6 475.4 452.3 478.4 451.3 479.9 450.9 479.9 299.6 123 299.6 123 450.9 127.9 450 129.9 449.6 131.5 449.3 132.9 449.1 133.9 449 134.9 449 149.7 449 152.7 449 160.6 449.1 164.6 449.1 190.4 449.1 194.4 449.1 199.3 449 200.3 449 201.3 448.9 202.3 448.9 203.3 448.7 204.3 448.5 205.3 448.3 208.2 447.8 210.2 447.5 212.2 447.3 214.2 447.2 218.2 447 221.1 446.8 224.1 446.6 227.1 446.4 230 446.1 231 446 232 446 233 446 235 446.1 239 446.3 240 446.3 241 446.4 241.9 446.5 242.9 446.7 245.2 447.3 247.8 448.3 248.7 449.3 248.2 450.3 247.1 451.3 245.8 452.3 244.2 453.3 242.9 453.8 241.9 454.3 241 454.5 239 455.1 237 455.7 236 456 235 456.3 234 456.6 233 456.9 232 457 231 457 230 456.9 227.1 456.4 225.1 456.1 224.1 455.9 223.1 455.8 222.1 455.7 221.1 455.7 219.1 455.7 195.3 455.7 193.4 455.6 192.4 455.6 190.4 455.4 188.4 455.2 186.4 455 184.4 454.9 183.4 454.8 182.5 454.8 181.5 454.8 180.5 454.9 178.5 455 174.5 455.4 172.5 455.6 171.5 455.6 169.6 455.7 140.8 455.7 125.9 455.7 124 455.7 123 455.6 123 478ZM338.6 471.1 337.1 470.8 336.1 470.6 335.1 470.3 334.2 470 332 469.1 331.2 468.8 330.2 468.6 329.2 468.5 327.2 468.5 324.2 468.4 323.3 468.4 322.3 468.3 321.3 468.2 320.3 468 319.3 467.7 317.3 467.1 315.3 466.6 313.3 466.1 311.4 465.6 309.4 465.1 306.2 464.2 303.7 463.2 302.3 462.2 301.7 461.2 301.6 460.2 301.9 459.2 302.7 458.2 303.4 457.8 304.6 457.2 305.4 457 306.4 456.7 307.4 456.5 308.4 456.2 309.4 456.1 310.4 456 311.4 455.9 312.3 455.8 314.3 455.8 332.2 455.8 348 455.8 350 455.8 352 455.7 354 455.6 357 455.3 360.9 455 363.9 454.7 367.9 454.2 368.9 454.1 369.9 454.1 370.8 454.1 371.8 454.2 372.8 454.4 374.8 454.8 377.8 455.3 378.8 455.5 379.8 455.6 380.8 455.7 381.8 455.8 383.7 455.8 387.7 455.8 389.7 455.8 390.7 455.9 391.7 456 393.3 456.2 394.6 456.6 395.6 456.9 396.7 457.2 397.6 458.2 396.7 459.2 395.6 459.6 394.6 459.9 393.4 460.2 391.7 460.5 389.7 460.8 388.7 461 387.6 461.2 386.7 461.4 385.7 461.7 384.7 462 384.3 462.2 383.7 462.6 383 463.2 383.1 464.2 383.7 465.2 384.3 466.2 384.4 467.1 383.8 468.1 382.7 468.7 382 469.1 380.8 469.5 379.8 469.6 378.8 469.8 372.8 470.3 371.8 470.4 370.8 470.5 369.9 470.5 368.9 470.4 366.9 470.3 364.7 470.1 362.9 470 361.9 469.9 360.9 470 359.9 470.1 358 470.5 357 470.7 355 471 353 471.3 352 471.3 351 471.4 350 471.4 345.1 471.5 343.1 471.5 342.1 471.4 341.1 471.4 340.1 471.3 339.1 471.2Z" clip-path="url(#p59242a91ff)" style="fill: #5aaa10"/>
   </g>
   <g shape-rendering="crispEdges" id="QuadContourSet_21">
    <path d="M124 478 479.9 478 479.9 465.2 478.9 465.5 477.9 465.6 476.9 465.6 459.1 465.7 453.1 465.7 451.2 465.6 450.2 465.6 449.2 465.5 448.2 465.3 447.1 465.2 445.2 464.8 444.2 464.5 443 464.2 442.2 463.9 441.2 463.5 440.3 463.1 439.3 462.6 438.3 461.9 437.4 461.2 436.6 460.2 436 459.2 435.6 458.2 435.4 457.2 435.3 456.2 435.4 455.2 435.5 454.3 435.9 453.3 436.3 452.9 436.9 452.3 437.3 452 438.3 451.5 439.3 451.2 440.3 451 441.2 450.9 442.2 450.8 448.2 450.8 449.2 450.8 450.2 450.7 451.2 450.7 452.1 450.5 454.1 450.2 456.1 449.8 458.6 449.3 460.1 449 461.1 448.9 463.1 448.8 468 448.6 469 448.5 470 448.4 472 448.1 476.4 447.3 477.9 447 478.9 446.8 479.9 446.6 479.9 299.6 123 299.6 123 446.5 124 446.3 124.9 446.1 126.9 445.8 130.4 445.3 131.9 445.2 132.9 445.1 133.9 445.1 136.8 445.1 149.7 445.1 151.7 445.1 152.7 445.1 154.7 445.2 158.7 445.6 160.6 445.7 162.6 445.8 164.6 445.8 189.4 445.8 191.4 445.8 193.4 445.8 195.3 445.6 198.3 445.4 202.3 445.1 204.3 444.9 208.2 444.7 211.2 444.6 213.2 444.5 216.2 444.2 219.1 443.9 222.1 443.5 227.1 442.9 230 442.5 231.1 442.4 232 442.3 233 442.3 235 442.3 238 442.4 240 442.5 241 442.6 241.9 442.7 242.9 442.9 245 443.3 247.9 444.1 249.9 444.5 251.9 445 257.8 446 260.8 446.6 262.8 446.9 265.6 447.3 269.7 448.2 270.7 448.4 271.7 448.6 272.7 448.7 273.7 448.8 279.6 448.9 280.6 449 281.6 449.1 283.1 449.3 285.6 449.8 288.5 450.4 289.5 450.5 290.5 450.7 291.5 450.7 292.5 450.8 294.5 450.8 299.5 450.8 300.4 450.8 301.4 450.9 303.4 451 306.4 451.3 308.4 451.5 310.4 451.6 312.3 451.6 347 451.6 349 451.6 350 451.6 351 451.6 352 451.5 354 451.3 357 450.9 359.9 450.5 360.9 450.4 361.9 450.3 363.9 450.2 367.9 450 369.9 450 370.8 450 371.8 450 373.8 450.1 376.8 450.4 379.8 450.6 380.8 450.7 381.8 450.8 383.7 450.8 396.6 450.8 398.6 450.8 399.6 450.8 400.6 450.9 401.6 451 402.6 451.1 403.8 451.3 405.5 451.6 406.5 451.9 407.9 452.3 408.5 452.5 409.5 452.9 410.5 453.3 411.5 453.8 412.5 454.5 413.3 455.2 414.1 456.2 414.6 457.2 414.8 458.2 414.6 459.2 414.1 460.2 413.3 461.2 412.5 461.9 411.5 462.6 410.4 463.2 409.5 463.6 408.5 464 407.5 464.3 406.5 464.6 405.5 464.8 403.6 465.2 401.6 465.6 400.6 465.8 399.6 466 398.6 466.4 397.6 466.8 397 467.1 396.6 467.4 394.6 468.9 394.3 469.1 393.6 469.5 392.3 470.1 390.7 470.7 387.7 471.7 386.4 472.1 385.7 472.3 384.7 472.6 383 473.1 381.8 473.5 380.8 473.7 379.1 474.1 377.8 474.4 375.8 474.8 373.8 475.2 372.8 475.3 371.8 475.4 370.8 475.5 369.9 475.6 367.9 475.6 358 475.6 343.1 475.6 330.2 475.6 292.5 475.5 284.6 475.5 282.6 475.5 281.6 475.5 280.6 475.4 279.6 475.2 278.6 475 277.6 474.8 276.7 474.5 275.4 474.1 274.7 473.5 274.3 473.1 274.6 472.1 275.9 471.1 278.6 469.5 279.3 469.1 279.6 468.9 280.6 468.3 281.1 468.1 281.6 467.8 282.6 467.8 283 468.1 283.6 468.3 284.6 468.8 285.1 469.1 286.6 469.6 287.6 469.8 288.7 470.1 289.5 470.3 290.5 470.4 291.5 470.4 292.5 470.4 293.5 470.3 294.5 470.1 295.5 469.8 296.5 469.4 297.2 469.1 297.6 468.1 296.5 467.5 296 467.1 293.5 466.3 292.5 466 291.5 465.9 290.5 465.8 289.5 465.7 287.6 465.7 284.6 465.8 283.6 465.8 282.6 465.5 282.3 465.2 281.6 464.5 281.4 464.2 280.4 463.2 279.6 462.8 278.5 462.2 277.6 461.9 276.7 461.6 275.7 461.4 274.7 461.2 272.7 460.8 271.7 460.6 270.7 460.4 269.7 460.1 266.3 459.2 264.8 458.7 263.1 458.2 261.8 457.8 260.8 457.5 258.8 457 257.8 456.7 256.8 456.5 254.8 456.2 253.8 456 252.9 456 251.9 456 250.8 456.2 249.9 456.5 247.7 457.2 245.9 457.8 244.4 458.2 242.9 458.6 241 459 239.6 459.2 237 459.6 235 459.8 234 459.9 233 460 232 460.1 231 460.1 230 460 227.1 459.8 223.1 459.5 222.1 459.4 220.1 459.4 195.3 459.4 193.4 459.3 192.4 459.3 190.4 459.2 184.4 458.5 183.4 458.4 182.5 458.4 181.5 458.4 180.5 458.5 175.5 459.1 173.5 459.3 171.5 459.4 165.6 459.7 163.6 459.8 161.6 459.8 154.7 459.8 152.7 459.9 150.7 460 147.6 460.2 143.8 460.6 142.8 460.6 141.8 460.7 139.8 460.7 135.9 460.7 134.9 460.7 133.9 460.8 132.9 460.8 131.9 461 130.8 461.2 129.9 461.4 128.9 461.8 127.9 462.2 126.9 462.7 125.9 463.2 124.9 463.8 124 464.4 123 464.9 123 478ZM209.5 359.1 209.2 358.1 210.2 357.2 210.4 357.1 211.2 356.8 212.2 356.7 213.2 356.9 213.7 357.1 214.2 357.5 214.7 358.1 214.3 359.1 213.2 359.5 212.2 359.7 211.2 359.6 210.2 359.4Z" clip-path="url(#p59242a91ff)" style="fill: #8ab418"/>
   </g>
   <g shape-rendering="crispEdges" id="QuadContourSet_22">
    <path d="M124 478 245.7 478 246.2 477.1 246.9 475.6 247.2 475.1 247.7 474.1 248.4 473.1 248.9 472.6 249.4 472.1 249.9 471.8 250.9 471.2 251.9 470.8 252.9 470.5 254.9 470.1 255.8 469.9 256.8 469.7 257.8 469.4 258.6 469.1 259.8 468.5 260.5 468.1 261.3 467.1 261.6 466.2 261.5 465.2 260.9 464.2 259.5 463.2 257 462.2 254.8 461.6 253.8 461.3 252.9 461.1 251.9 461 250.9 461 249.9 461.1 246.9 461.4 244.9 461.6 242.9 461.8 240 462 237 462.1 234 462.2 232 462.2 230 462.2 223.1 462 221.1 462 211.2 462 195.3 462 192.4 462 190.4 461.9 186.4 461.8 184.4 461.7 183.4 461.6 182.5 461.6 181.5 461.6 174.5 462 172.5 462.1 170.6 462.2 166.6 462.7 164.6 462.9 163.6 463 162.6 463.1 160.6 463.2 155.7 463.3 153.7 463.4 152.7 463.5 151.7 463.6 150.7 463.8 148.7 464.2 143.8 465.4 142.8 465.6 139.6 466.2 137.8 466.5 136.8 466.8 135.5 467.1 134.9 467.4 133.9 467.7 132.9 468.2 130.7 469.1 129.9 469.4 128.9 469.8 126.9 470.4 124.7 471.1 124 471.4 123 471.8 123 478ZM461.1 478 479.9 478 479.9 472.3 478.9 472.7 477.9 473 476.9 473.1 473 473.1 472 473.1 471 473.2 470 473.3 469 473.6 468 474.1 467 474.5 464 476.1 462.4 477.1 462.1 477.3 461 478ZM306.4 447.3 309.4 447.7 310.4 447.9 311.4 448 312.3 448 314.3 448.1 347 448.1 349 448.1 350 448 351 448 352 447.8 354 447.5 358 446.8 359.9 446.5 360.9 446.4 361.9 446.3 368.9 445.9 370.8 445.8 372.8 445.8 401.6 445.8 421.4 445.9 431.3 445.9 441.2 445.8 447.2 445.8 449.2 445.8 450.2 445.8 452.1 445.6 455.1 445.3 458.1 445.1 460.1 445 462.1 445 467 445 469 444.9 470 444.9 471 444.8 474 444.3 477.9 443.6 479.9 443.2 479.9 299.6 123 299.6 123 443.1 124 443 124.9 442.9 127.9 442.7 130.9 442.6 132.9 442.5 134.9 442.5 149.7 442.5 151.7 442.5 152.7 442.5 154.7 442.6 160.6 443.2 162.6 443.3 164.6 443.3 188.4 443.3 190.4 443.3 191.4 443.3 192.4 443.3 193.4 443.2 195.3 443 200.3 442.4 201.3 442.3 202.3 442.2 203.3 442.2 205.3 442.1 210.2 442.1 211.2 442.1 212.2 442 213.2 442 215.2 441.7 229.1 440 231 439.8 232 439.7 234 439.6 239.3 439.4 241 439.4 241.9 439.4 242.9 439.5 243.9 439.7 246.9 440.5 249.9 441.2 250.9 441.4 251.9 441.6 252.9 441.8 257.1 442.4 260.8 442.9 261.8 443 262.8 443.1 264.8 443.3 268.7 443.4 270.7 443.6 271.7 443.6 272.7 443.8 277.6 444.5 279.6 444.7 281.6 444.9 286.6 445.3 288.5 445.5 293.5 446.1 296.5 446.3 300.4 446.6 302.4 446.8 304.4 447 306.4 447.3ZM210.1 362 208.2 361.8 206.3 361.5 205.3 361.3 203.9 361 202.3 360.6 200.8 360.1 200.3 359.7 199.5 359.1 199.5 358.1 200.3 357.1 201.8 356.1 203.3 355.4 203.9 355.1 205.3 354.6 206.9 354.1 209.2 353.6 210.2 353.4 211.2 353.2 212.2 353.1 213.2 353.2 214.2 353.3 215.2 353.5 216.2 353.7 217.7 354.1 219.1 354.7 220.1 355.1 221.1 355.8 221.4 356.1 222.1 357.1 222.4 358.1 222 359.1 221.1 359.7 220.5 360.1 219.1 360.6 217.8 361 216.2 361.5 215.2 361.7 214.2 361.9 213.1 362 212.2 362.1 211.2 362.1 210.2 362.1Z" clip-path="url(#p59242a91ff)" style="fill: #b0be1e"/>
   </g>
   <g shape-rendering="crispEdges" id="QuadContourSet_23">
    <path d="M179.5 477.1 181.4 478 232.3 478 233 477.5 233.5 477.1 234 476.7 235 475.9 237.2 474.1 238.4 473.1 239.4 472.1 240.1 471.1 240.7 470.1 241.1 469.1 241 468.1 240.2 467.1 239 466.4 238.4 466.2 237 465.7 236 465.5 235 465.3 234 465.1 233 465 232 465 231 464.9 228.1 464.9 224.1 464.9 222.1 464.9 220.1 465 217.2 465.2 213.2 465.6 212.2 465.6 211.2 465.7 209.2 465.7 192.4 465.7 181.5 465.7 175.5 465.7 173.5 465.7 172.5 465.8 170.6 465.9 166.6 466.3 163.6 466.6 161.6 466.7 159.7 467 158.7 467.2 156.7 467.6 154.2 468.1 152.7 468.6 151.2 469.1 148.9 470.1 147 471.1 145.7 472.1 145.4 473.1 145.8 473.5 146.5 474.1 147.8 474.5 148.7 474.8 149.9 475.1 150.7 475.2 151.7 475.4 152.7 475.5 153.7 475.5 155.7 475.6 169.6 475.6 171.5 475.6 172.5 475.7 173.5 475.7 174.5 475.9 175.6 476.1 176.5 476.3 177.5 476.5 178.5 476.8 179.3 477.1ZM303.4 443.4 310.4 443.6 313.3 443.6 338.1 443.6 341.1 443.6 346.1 443.5 349 443.4 350.1 443.3 351 443.3 352 443.2 359.9 442.2 367.9 441.2 369.9 441 370.8 441 371.8 440.9 373.8 440.9 449.2 440.9 467 440.9 469 440.8 470 440.8 472 440.6 475.1 440.4 476.9 440.2 477.9 440.2 478.9 440.2 479.9 440.3 479.9 299.6 123 299.6 123 440.4 124 440.5 124.9 440.5 131.9 440.4 134.9 440.4 149.7 440.4 152.7 440.4 154.7 440.4 158.7 440.6 161.6 440.8 163.6 440.8 188.4 440.9 190.4 440.9 191.4 440.8 192.4 440.8 193.4 440.7 195.3 440.5 199.3 440 201.3 439.8 202.3 439.7 203.3 439.6 205.3 439.6 210.2 439.6 211.2 439.6 212.2 439.5 214.2 439.3 219.1 438.7 223.1 438.3 230.1 437.4 232 437.2 239 436.6 240 436.5 241 436.4 241.9 436.4 242.9 436.5 243.9 436.7 245.9 437 249.9 437.9 250.9 438.1 251.9 438.3 252.9 438.4 253.8 438.4 258.8 438.5 260.8 438.6 261.8 438.7 262.8 438.8 267.7 439.5 269.7 439.8 271.7 440 276.8 440.4 279.6 440.6 283.6 441.1 285.6 441.3 290.5 441.7 291.5 441.8 292.5 441.9 295.5 442.4 298.5 442.9 300.4 443.2 301.4 443.3 302.6 443.3ZM171.5 370 170.6 369.6 169.7 369 168.7 368 167.9 367 167.3 366 166.8 365 166.5 364 166.4 363 166.5 362 166.8 361 167.1 360.1 167.6 359.1 168.1 358.1 168.6 357.4 168.9 357.1 169.6 356.4 169.9 356.1 170.6 355.7 171.5 355.2 172 355.1 172.5 355 173.5 354.9 174.5 354.9 175.5 355 177.5 355.1 178.5 355.3 179.5 355.5 181.5 355.9 182.5 356 183.4 355.9 184.4 355.6 185.4 355.4 186.8 355.1 189.4 354.8 190.4 354.7 191.4 354.5 192.4 354.3 195.3 353.4 196.3 353.1 197.3 352.8 199.3 352.5 203.3 351.8 208.2 350.9 210.2 350.6 211.2 350.5 212.2 350.4 213.2 350.4 214.2 350.4 216.2 350.5 218.2 350.7 220.1 350.9 221.1 351 222.1 351.2 223.1 351.4 224.1 351.6 225.4 352.1 226.1 352.5 226.9 353.1 227.1 353.3 227.8 354.1 228.3 355.1 228.6 356.1 228.8 357.1 228.8 358.1 228.7 359.1 228.2 360.1 228.1 360.3 227.2 361 226.1 361.6 225 362 224.1 362.3 223.1 362.6 220.9 363 219.1 363.4 217.2 363.9 216.2 364.1 215.2 364.3 214.2 364.5 213.2 364.7 212.2 364.9 211.2 364.9 210.2 364.9 207.2 364.9 203.3 364.7 199.3 364.6 196.3 364.4 190.4 363.9 188.4 363.7 187.4 363.6 185.4 363.3 184.4 363.2 183.4 363.3 182.5 364 181.4 365 180.5 366 179.4 367 178.3 368 177.5 368.6 176.9 369 175.5 369.6 174.4 370 173.5 370.1 172.5 370.2 171.5 370Z" clip-path="url(#p59242a91ff)" style="fill: #dac824"/>
   </g>
   <g shape-rendering="crispEdges" id="QuadContourSet_24">
    <path d="M298.5 439.4 300.4 439.7 301.4 439.9 302.4 439.9 304.4 440 312.3 440 337.1 440 339.1 440 340.1 440 341.1 439.9 342.1 439.9 344.1 439.6 347 439.2 350 438.8 352 438.5 354 438.3 363.9 437.4 368.9 436.9 370.8 436.8 372.8 436.8 466 436.8 469 436.8 472 436.8 475.9 436.9 476.9 436.9 477.9 437 478.9 437.2 479.9 437.4 479.9 299.6 123 299.6 123 437.7 124 438 124.9 438.1 125.9 438.1 133.9 438.1 150.7 438.1 154.7 438.1 161.6 438.2 187.4 438.2 190.4 438.2 191.4 438.2 192.4 438.1 193.4 438.1 198.3 437.5 200.3 437.3 202.3 437.2 209.2 436.9 211.2 436.7 213.2 436.6 217.2 436.3 221.1 435.9 223.1 435.8 226.1 435.4 231 434.8 234 434.4 237 434 240 433.6 241 433.5 241.9 433.4 242.9 433.5 243.9 433.6 245.9 433.9 248.9 434.5 250.9 434.8 251.9 434.9 252.9 435 253.8 435 259.8 435.1 261.8 435.1 263.8 435.2 266.7 435.4 270.7 435.8 271.7 435.8 272.7 435.9 274.7 435.9 278.6 435.9 279.6 435.9 280.6 436 281.6 436 282.6 436.2 283.6 436.4 287.8 437.4 290.5 438 292.8 438.4 295.5 438.9 298.2 439.4ZM165.9 373.9 165.6 373.9 164.6 373.6 163.6 373.2 163.3 372.9 162.6 372 162.2 371 161.9 370 161.4 369 160.6 368 159.7 366.9 158.9 366 158.3 365 158 364 157.8 363 157.7 362 157.7 361 157.8 360.1 157.9 359.1 158.2 358.1 158.9 356.1 159.3 355.1 159.9 354.1 160.8 353.1 161.6 352.5 162.6 352 163.6 351.6 164.6 351.4 165.6 351.3 167.6 351.1 169.6 351 171.5 350.8 173.5 350.8 180.5 350.7 181.5 350.7 182.5 350.7 183.4 350.6 184.4 350.5 186.6 350.1 188.4 349.8 191.2 349.2 192.4 348.9 193.4 348.7 194.4 348.7 196.3 348.6 200.3 348.4 201.3 348.4 202.3 348.3 203.3 348.2 205.3 347.7 207.2 347.4 209.2 347 211.2 346.7 214.2 346.3 215.2 346.2 216.2 346 217.2 345.8 218.2 345.5 219.4 345.2 221.1 344.6 222.1 344.4 223.2 344.2 224.1 344.1 226.1 343.9 227.1 343.8 228.1 343.6 229.1 343.5 230.1 343.2 231 342.6 231.4 342.2 231.8 341.2 232 340.8 232.3 340.2 233.1 339.2 234.4 338.2 236.1 337.3 238 336.3 239 335.7 240 335.3 241 335 241.9 334.9 242.9 335.1 243.9 335.6 244.7 336.3 244.9 336.4 245.6 337.3 246.2 338.2 246.6 339.2 246.8 340.2 246.9 341.2 246.9 342.2 246.8 343.2 246.6 344.2 246.2 345.2 245.6 346.2 244.8 347.2 243.8 348.2 242.9 349.2 242.3 350.1 242 351.1 241.9 352.1 241.6 353.1 241 354.1 239 356.2 238.3 357.1 237.7 358.1 237.3 359.1 237.1 360.1 237 362 236.9 363 236.7 364 236.3 365 235.7 366 235 366.8 234.8 367 234 367.7 233 368.3 232 368.7 231 368.9 230 369 227.1 369 225.1 369 224.1 369 223.1 369.1 222.1 369.3 221.1 369.6 220.1 370 218.2 371 215.2 372.5 214.2 372.9 213.2 373.3 212.2 373.5 211.2 373.4 210.2 373.2 209.2 372.9 208.2 372.6 207.2 372.4 206.3 372.1 205.3 371.9 204.3 371.8 203.3 371.7 202.3 371.6 201.3 371.7 200.3 371.8 199.2 372 198.3 372.1 197.3 372.4 196.3 372.6 195.1 372.9 193.4 373.5 192.4 373.7 191.4 373.9 190.4 373.9 184.4 373.9 183.4 374 182.5 374 178.5 374.3 175.5 374.5 173.5 374.5 172.5 374.5 171.5 374.5 170.6 374.5 168.6 374.3 167.6 374.2 166.6 374Z" clip-path="url(#p59242a91ff)" style="fill: #f8c823"/>
   </g>
   <g shape-rendering="crispEdges" id="QuadContourSet_25">
    <path d="M308.4 435.4 309.4 435.6 310.4 435.7 311.4 435.8 312.3 435.8 314.3 435.9 337.1 435.9 339.1 435.9 340.1 435.8 341.1 435.8 343.1 435.6 347 435.3 352 434.9 357.2 434.4 365.9 433.6 368.9 433.4 369.9 433.3 370.8 433.2 372.8 433.2 466 433.2 468 433.2 469 433.2 470 433.3 476.9 433.8 477.9 433.9 478.9 434.1 479.9 434.3 479.9 375 478.8 373.9 477.9 373.1 476.9 372.5 474.1 371 472.5 370 471.5 369 471 368 471 367 471.6 366 472 365.7 473 365.3 474 365 476.9 364.5 477.9 364.4 478.9 364.3 479.9 364.4 479.9 299.6 330.3 299.6 329.2 300.3 328.8 300.6 327.1 301.6 325.2 302.6 324.2 303.1 323.3 303.6 322.3 304 321.3 304.3 320.3 304.4 319.3 304.5 317.3 304.5 305.4 304.5 303.4 304.6 302.4 304.6 301.4 304.7 300.4 305 298.5 305.6 297.5 305.9 296.5 306.1 294.5 306.5 293.5 306.7 292.5 306.8 291.5 306.9 290.5 307 288.5 307 236 307 234 307 233 307 232 306.9 231 306.8 230 306.7 229.1 306.5 228.1 306.3 227.1 306 225.4 305.5 224.1 304.8 223.4 304.5 223.1 304.2 222.1 303.5 221.1 302.6 221 302.5 220.1 301.6 220 301.6 219.1 300.5 218.2 299.6 123 299.6 123 364.5 124 364.6 126.9 365.4 128.9 365.8 129.9 366 130.9 366.2 131.9 366.3 132.9 366.4 133.9 366.5 135.9 366.5 139.8 366.5 140.8 366.5 141.8 366.4 142.8 366.3 143.8 366.1 144.8 365.8 145.8 365.3 146.2 365 146.8 364.4 147.1 364 147.5 363 147.7 362 147.9 360.1 148.1 359.1 148.4 358.1 149 357.1 149.9 356.1 150.9 355.1 151.7 354.5 152.7 353.6 153.2 353.1 153.7 352.6 154.1 352.1 155.7 350.6 156.7 349.7 157.7 348.9 158.8 348.2 159.7 347.7 160.6 347.3 161.6 347 162.6 346.8 163.6 346.7 164.6 346.6 170.6 346.6 171.5 346.6 172.5 346.5 173.5 346.5 174.5 346.3 175.5 346.2 176.5 346 177.5 345.8 178.5 345.5 179.7 345.2 180.5 344.9 181.5 344.5 182.5 344.1 183.4 343.7 185.4 342.7 186.4 342.2 188.2 341.2 189.7 340.2 190.3 339.2 190.1 338.2 189.4 337.2 188.7 336.3 188.1 335.3 187.7 334.3 187.5 333.3 187.4 332.3 187.4 331.3 187.5 330.3 187.7 329.3 188.1 328.3 188.7 327.3 189.6 326.3 190.4 325.6 191.4 325 192.4 324.4 195.3 322.9 199.3 320.9 201.3 319.9 202.4 319.4 203.3 319 205.1 318.4 206.3 318.1 207.2 317.8 209.2 317.4 210.2 317.2 211.2 317.1 212.2 317 213.2 317 215.2 316.9 219.1 316.9 221.1 316.9 222.1 316.8 223.1 316.8 224.1 316.6 225.2 316.4 227.1 316 228.1 315.8 229.3 315.4 230 315.2 231 315 232 314.9 233 315 234 315.2 235 315.5 236 315.8 237 316 239 316.5 240 316.6 241 316.8 241.9 316.8 242.9 316.9 244.9 316.9 267.7 316.9 269.7 316.9 270.7 317 271.7 317 272.7 317.1 273.7 317.2 274.8 317.4 276.7 317.8 277.6 318.1 278.9 318.4 280.6 319 281.6 319.2 282.6 319.3 283.6 319.4 288.5 319.4 289.5 319.4 290.5 319.5 291.5 319.7 292.5 320 293.5 320.4 294.5 320.9 295.5 321.4 297.2 322.4 298.5 323.4 298.9 324.4 298.5 324.7 297.7 325.4 296.5 325.8 295.5 326.1 294.4 326.3 293.5 326.5 292.5 326.6 291.5 326.7 290.5 326.8 288.5 326.8 284.6 326.8 282.6 326.9 281.6 326.9 280.6 327 279.6 327.1 278.5 327.3 276.7 327.7 275.7 328 274.5 328.3 273.7 328.6 272.7 329 271.7 329.4 270.7 329.9 269.7 330.6 268.9 331.3 268.1 332.3 267.6 333.3 267.4 334.3 267.6 335.3 268.1 336.3 268.8 337.3 269.8 338.2 270.7 339.2 271.3 340.2 271.6 341.2 271.7 342.2 271.7 349.2 271.7 351.1 271.6 352.1 271.3 353.1 270.6 354.1 269.3 355.1 267.6 356.1 265.9 357.1 264.5 358.1 263.8 359.1 264 360.1 264.8 361.1 265.5 362 266.2 363 267.3 365 268 366 268.9 367 269.7 367.7 270.7 368.4 271.8 369 274.7 370.4 278.6 372.5 280.6 373.5 281.7 373.9 282.6 374.3 284.4 374.9 285.6 375.3 286.6 375.5 288.5 375.9 290.5 376.3 292.5 376.6 294.6 376.9 296.5 377.3 297.5 377.6 298.7 377.9 300.4 378.5 302.4 379.3 304.4 380 305.4 380.2 306.4 380.5 308.4 380.9 310.4 381.3 311.4 381.5 312.3 381.7 313.3 382.1 314.3 382.6 314.7 382.9 315.3 383.5 315.7 383.9 316.1 384.8 316.3 385.8 316.3 386.8 316.2 387.8 316 388.8 315.6 389.8 315 390.8 314.2 391.8 313.3 392.5 312.3 393.2 311.2 393.8 310.4 394.1 309.4 394.5 308.4 394.8 307.4 395.1 306.4 395.4 304.4 395.8 303.4 395.9 302.4 396.1 301.4 396.2 300.4 396.2 298.5 396.2 285.6 396.2 283.6 396.2 282.6 396.2 281.6 396.2 280.6 396.1 279.6 395.9 278.5 395.8 276.7 395.3 275.7 395.1 274.4 394.8 272.7 394.2 271.7 394 270.7 393.8 269.7 393.8 264.8 393.8 263.8 393.7 262.8 393.7 261.8 393.6 260.8 393.3 258.8 392.7 257.8 392.4 256.8 392.2 254.8 391.8 253.8 391.6 252.9 391.5 251.9 391.4 250.9 391.3 248.9 391.3 226.1 391.3 224.1 391.3 223.1 391.3 222.1 391.2 221.1 391.1 220.1 391 219 390.8 217.2 390.4 216.2 390.1 215 389.8 213.2 389.2 212.2 388.8 211.2 388.3 209.2 387.4 205.3 385.3 203.3 384.3 202.2 383.9 201.3 383.5 199.5 382.9 198.3 382.5 197.3 382.3 195.3 381.9 194.4 381.7 193.4 381.6 192.4 381.5 191.4 381.4 189.4 381.4 162.6 381.4 155.7 381.4 153.7 381.3 152.7 381.3 151.7 381.2 150.7 381.1 149.6 380.9 147.8 380.5 146.8 380.2 145.6 379.9 143.8 379.3 141.8 378.5 139.8 377.8 138.8 377.6 137.8 377.3 135.9 376.9 134.9 376.7 133.9 376.6 132.9 376.5 131.9 376.4 129.9 376.4 126.9 376.4 125.9 376.4 124.9 376.3 124 376.2 123.4 375.9 123 375.7 123 434.6 124 434.9 124.9 435 125.9 435 151.7 435 162.6 435.1 189.4 435.1 191.4 435.1 193.4 435 201.3 434.6 203.3 434.5 205.3 434.3 210.2 433.7 212.2 433.5 214.2 433.4 219.1 433.1 221.1 433 222.1 433 224.1 432.7 228.1 432.2 231 431.8 232 431.7 234 431.4 236 430.9 238.1 430.5 240 430 241 429.8 241.9 429.7 242.9 429.6 243.9 429.7 244.9 429.8 246.9 430.1 250.9 430.7 252.9 431 254.8 431.3 257 431.4 259.8 431.6 261.8 431.7 263.8 431.8 269.7 431.8 271.7 431.8 273.7 431.7 276.7 431.4 279.6 431.2 280.6 431.1 281.6 431.1 282.6 431.1 283.6 431.2 285.6 431.6 286.6 431.7 287.6 432 289.5 432.4 290.5 432.7 291.5 432.9 292.5 433 293.5 433.1 298.5 433.3 299.5 433.3 300.4 433.4 301.4 433.6 302.4 433.9 304.4 434.5 305.4 434.8 306.4 435 307.4 435.2 308.4 435.4ZM370.4 354.1 369.9 353.8 369.1 353.1 368.9 352.9 367.9 352 367.2 351.1 366.6 350.1 366.2 349.2 366 348.2 365.9 347.2 366 346.2 366.2 345.2 366.8 344.2 368 343.2 368.9 342.7 369.9 342.3 370.8 342.1 371.9 342.2 372.8 342.5 373.8 342.9 374.3 343.2 374.8 343.6 375.5 344.2 376.3 345.2 377 346.2 377.9 347.2 378.8 348.2 379.6 349.2 380.2 350.1 380.3 351.1 380 352.1 379.8 352.5 379 353.1 378.8 353.2 377.8 353.6 376.8 353.9 374.8 354.3 373.8 354.6 372.8 354.8 371.8 354.9 370.8 354.5ZM409.1 333.3 408.5 333 407.5 332.1 406.8 331.3 406.1 330.3 405 328.3 404.3 327.3 403.4 326.3 402.6 325.6 401.6 324.9 399.6 323.8 398.6 323.1 397.8 322.4 397 321.4 396.6 320.4 396.7 319.4 397.4 318.4 397.6 318.3 398.6 317.7 399.2 317.4 399.6 317.3 400.6 317 401.6 316.8 403.7 316.4 404.6 316.2 405.5 316 406.5 315.7 407.5 315.4 408.5 314.9 409.5 314.6 410.5 314.4 411.5 314.8 412.5 315.6 413.5 316.6 414.2 317.4 414.8 318.4 415.2 319.4 415.4 320.4 415.5 322.4 415.6 323.4 415.8 324.4 416.1 325.4 416.7 326.3 417.5 327.3 418.2 328.3 418.4 329.3 417.7 330.3 416.3 331.3 414.5 332.3 413.5 332.8 412.4 333.3 411.5 333.6 410.5 333.7 409.5 333.5Z" clip-path="url(#p59242a91ff)" style="fill: #ffb01a"/>
   </g>
   <g shape-rendering="crispEdges" id="QuadContourSet_26">
    <path d="M158.7 431.5 160.6 431.6 162.6 431.7 164.6 431.8 189.4 431.8 191.4 431.8 193.4 431.7 195.3 431.6 197.3 431.4 199.3 431.2 204.3 430.7 207.2 430.4 211.2 430.1 213.2 430 215.2 429.7 218.2 429.3 221.1 428.9 222.1 428.8 223.1 428.7 225.1 428.6 229.1 428.4 230 428.3 231 428.2 232 428.1 233 427.9 234.4 427.5 237.3 426.5 239 425.8 240 425.5 241 425.2 241.9 424.9 242.9 424.9 243.9 424.9 248.9 425.6 252.9 426.1 255.3 426.5 256.8 426.8 258.8 427.2 260.3 427.5 260.8 427.6 261.8 427.7 262.8 427.8 263.8 427.8 268.7 427.8 269.7 427.8 270.7 427.8 271.7 427.7 273.2 427.5 275.7 426.9 278.6 426.4 279.6 426.2 280.6 426.1 281.6 426 282.6 426 284.6 426 313.3 426 347 426 349 426 350 426 351 426.1 352 426.2 353 426.3 354.1 426.5 356 426.9 357 427.1 358.9 427.6 359.9 427.9 360.9 428.1 361.9 428.1 362.9 428.2 369.9 428.1 420.4 428.1 447.2 428.1 449.2 428.1 451.2 428.1 455.1 428.3 458.1 428.4 460.1 428.5 467 428.5 468 428.5 469 428.5 470 428.6 471 428.7 473 429.1 475 429.6 478.9 430.3 479.9 430.5 479.9 391.5 478.9 391.3 477.9 391.3 464 391.3 462.1 391.3 461.1 391.3 460.1 391.4 459.1 391.5 458.1 391.6 457 391.8 455.1 392.2 454.1 392.4 452.9 392.8 451.2 393.4 450.2 393.8 449.2 394.2 447.2 395.2 443.2 397.3 441.2 398.3 439.3 399.2 437.3 400.2 433.3 402.2 430.3 403.7 429.3 404.3 428.4 404.9 427.5 405.7 426.7 406.7 426.1 407.7 425.7 408.6 425.5 409.6 425.3 411.6 425.2 412.6 424.9 413.6 424.3 414.6 423.4 415.4 423.2 415.6 422.4 416 421.4 416.5 420.4 416.7 419.4 416.9 418.4 417 415.5 417 413.5 417 412.5 416.9 411.5 416.9 410.5 416.6 409.5 416.2 408.4 415.6 407.5 415 407 414.6 406 413.6 405.2 412.6 404.8 411.6 404.4 410.6 403.8 408.6 403.3 407.7 402.8 406.7 402.6 406.2 402.2 405.7 401.6 404.9 400.6 404 399.6 403.3 398.6 402.7 394.6 400.7 392.7 399.7 391.7 399.2 390.6 398.7 389.7 398.4 387.9 397.7 386.7 397.4 385.7 397.1 383.7 396.7 382.7 396.6 381.8 396.4 380.8 396.3 379.8 396.3 377.8 396.2 373.8 396.2 371.8 396.3 370.8 396.3 369.9 396.4 368.9 396.6 367.7 396.7 365.9 397.1 364.9 397.4 363.7 397.7 361.9 398.4 359.9 399.1 358 399.8 357 400.1 356 400.3 354 400.7 352 401.1 350 401.3 347.9 401.7 346.1 402.1 345.1 402.4 343.8 402.7 342.1 403.2 341.1 403.5 340.1 403.6 339.1 403.7 334.2 403.7 333.2 403.7 332.2 403.8 331.2 403.9 330.2 404.1 328.2 404.7 327.2 405 326.2 405.3 324.2 405.7 323.3 405.9 322.3 406 321.3 406.1 320.3 406.1 318.3 406.2 295.5 406.2 293.5 406.2 292.5 406.1 291.5 406.1 290.5 406 289.5 405.9 288.4 405.7 286.6 405.3 285.6 405 284.4 404.7 282.6 404.1 280.6 403.3 278.6 402.6 277.6 402.4 276.7 402.1 275.7 401.9 274.7 401.7 273.7 401.5 272.7 401.4 271.7 401.4 270.7 401.4 269.7 401.5 268.6 401.7 267.7 401.9 266.7 402.1 265.7 402.4 264.5 402.7 262.8 403.2 261.8 403.5 260.8 403.6 259.8 403.7 256.8 403.7 253.8 403.7 252.9 403.6 251.9 403.6 250.9 403.5 248.9 403.1 246.3 402.7 244.9 402.5 243.9 402.4 242.9 402.3 241.9 402.2 241 402.3 240 402.4 237.6 402.7 234 403.3 233 403.5 232 403.6 231 403.6 230 403.7 216.2 403.7 214.2 403.7 213.2 403.6 212.2 403.4 211.2 403.2 209.2 402.6 208.2 402.3 207.2 402.1 205.3 401.7 204.3 401.5 203.3 401.4 202.3 401.3 201.3 401.2 199.3 401.2 195.3 401.2 193.4 401.1 192.4 401.1 191.4 401 190.4 400.9 189.3 400.7 187.4 400.3 186.4 400.1 185.2 399.7 183.4 399.1 182.5 398.7 181.5 398.3 179.5 397.3 175.5 395.2 174.5 394.7 173.5 394.3 172.5 394 171.5 393.9 170.6 393.8 168.6 393.8 165.6 393.8 164.6 393.8 163.6 393.9 162.6 394.1 161.6 394.5 160.6 395.1 159.7 395.9 158.9 396.7 158.1 397.7 157.3 398.7 156.7 399.3 156.2 399.7 155.7 400 154.7 400.5 153.7 400.8 152.7 401.1 151.7 401.3 149.3 401.7 147.8 402 146.8 402.3 144.8 402.8 143.8 403 142.8 403.1 141.8 402.9 140.8 402.4 139.8 401.5 139.1 400.7 138.3 399.7 137.5 398.7 136.8 398.1 136.4 397.7 135.9 397.4 134.9 396.9 133.9 396.6 131.9 395.9 130.9 395.6 129.9 395.1 129.3 394.8 128.9 394.5 126.9 393 126.5 392.8 125.9 392.4 124.9 392 124 391.7 123 391.5 123 430.6 124 430.8 124.9 430.9 125.9 430.9 149.7 430.9 151.7 431 152.7 431 154.7 431.2 157.8 431.4ZM417.4 375.9 418.4 376.1 419.4 376.2 420.4 376.3 421.4 376.4 423.4 376.4 439.3 376.4 447.2 376.4 449.2 376.4 450.2 376.3 451.2 376.2 452.1 376.1 453.2 375.9 454.1 375.7 455.1 375.5 456.1 375.2 456.9 374.9 458.1 374.3 458.8 373.9 459.1 373.6 459.6 372.9 459.8 372 460 371 460.3 370 461.1 369 463.1 366.9 463.8 366 465.2 364 466 363 467 362.2 468 361.6 469.1 361 470 360.7 471.9 360.1 473 359.5 474 359 475.2 358.1 476.9 356.2 477.9 355.4 478.9 355.3 479.9 355.6 479.9 332.7 478.9 332.3 477.9 332.2 476.9 332.3 475.9 332.5 475 332.7 474 332.9 472.8 333.3 471 333.9 469 334.7 467 335.3 466 335.6 465 335.9 463.1 336.3 462.1 336.4 461.1 336.6 460.1 336.6 459.1 336.7 457.1 336.7 452.1 336.7 451.2 336.8 450.2 336.8 449.2 336.9 448.2 337 446.2 337.4 445.2 337.5 444.2 337.8 443.2 338 441.2 338.5 440.3 338.8 439 339.2 437.3 339.7 435.7 340.2 432.3 341.1 431.3 341.4 430.3 341.5 429.3 341.6 428.4 341.7 422.4 341.7 421.4 341.7 420.4 341.8 419.4 341.9 418.4 342 417.3 342.2 415.5 342.6 414.5 342.9 413.3 343.2 411.5 343.8 410.5 344.2 409.5 344.7 407.5 345.6 403.6 347.7 400.6 349.2 399.6 349.7 398.6 350.4 397.8 351.1 396.9 352.1 396.3 353.1 396 354.1 395.8 355.1 395.6 356.3 395.5 357.1 394.8 358.1 393.6 358.5 391.6 359.1 390.7 359.3 389.7 359.8 388.7 360.4 387.9 361 387.7 361.3 387.1 362 386.7 363 386.8 364 387.5 365 387.7 365.2 388.7 365.7 389.3 366 390.7 366.5 391.7 366.8 392.7 367.2 393.6 367.6 394.2 368 394.6 368.3 396.6 369.7 397 370 397.6 370.3 398.6 370.8 399.6 371.1 400.6 371.4 401.6 371.6 403.8 372 405.5 372.3 406.5 372.6 407.9 372.9 409.5 373.5 411.5 374.3 413.5 375 414.5 375.3 415.5 375.5 417.3 375.9ZM318.3 371 319.3 371.2 320.3 371.3 321.3 371.4 322.3 371.4 324.2 371.5 328.2 371.5 330.2 371.4 331.2 371.4 332.2 371.3 333.2 371.2 334.3 371 336.1 370.6 337.1 370.3 338.4 370 340.1 369.4 341.1 369.2 342.1 369.1 343.1 369 348 369 349 369 350 368.9 351 368.8 352 368.7 353 368.4 354.3 368 355 367.7 356 367.3 357 366.9 358 366.3 358.4 366 358.9 365.6 359.7 365 359.9 364.7 360.5 364 360.9 363 361 362 361.1 361 361 360.1 360.7 359.1 360.3 358.1 359.8 357.1 359.4 356.1 358.9 355 358.7 354.1 358.6 353.1 358.5 352.1 358.5 350.1 358.5 346.2 358.5 345.2 358.5 344.2 358.7 343.2 358.8 342.2 359.1 341.2 359.6 340.2 359.9 339.5 360.1 339.2 360.6 338.2 360.8 337.3 360.9 336.3 360.9 334.3 360.9 332.3 360.8 331.3 360.5 330.3 359.6 329.3 358.9 328.9 357.8 328.3 357 328.1 356 327.8 355 327.5 354 327.3 353 327.2 352 327 351 327 350 327 349 327.2 347.9 327.3 346.1 327.7 345.1 328 343.9 328.3 342.1 329 341.1 329.4 340.1 329.8 338.1 330.8 334.2 332.8 333.2 333.3 332.2 333.7 331.2 334 330.2 334.2 329.2 334.3 327.2 334.3 324.2 334.3 323.3 334.3 322.3 334.4 321.3 334.5 320.3 334.8 319.2 335.3 318.3 335.7 315.3 337.3 312.3 338.7 311.1 339.2 310.4 339.6 309.4 339.9 308.4 340.3 307.4 340.6 306.4 340.8 304.4 341.2 302.4 341.6 301.4 341.8 300.4 342.1 299.5 342.4 298.5 342.9 298 343.2 297.5 343.6 296.8 344.2 296 345.2 295.2 346.2 294.3 347.2 293.5 347.9 292.5 348.5 290.5 349.7 289.5 350.4 288.7 351.1 287.8 352.1 287.2 353.1 286.9 354.1 286.7 355.1 286.6 356.1 286.6 357.1 286.7 358.1 286.9 359.1 287.2 360.1 287.8 361 288.7 362 289.5 362.8 290.5 363.5 291.6 364 292.5 364.4 293.5 364.8 294.5 365.1 295.5 365.4 296.5 365.6 298.5 366.1 300.4 366.4 303.4 366.8 304.5 367 306.4 367.4 307.4 367.7 308.6 368 310.4 368.6 312.3 369.4 314.3 370 315.3 370.3 316.3 370.6 318.2 371ZM124 356.8 124.9 356.8 125.9 356.6 126.9 356.4 127.9 356 128.9 355.6 130.2 355.1 130.9 354.6 131.7 354.1 132.5 353.1 132.8 352.1 132.9 351.1 132.9 350.1 132.8 349.2 132.7 348.2 132.6 347.2 132.5 346.2 132.8 345.2 133.8 344.2 134.9 343.5 135.2 343.2 138.6 341.2 139.9 340.2 140.2 339.2 139.8 338.9 139.1 338.2 137.8 337.8 136.8 337.5 135.7 337.3 133.9 336.9 130.9 336.5 129.7 336.3 127.9 335.9 126.9 335.6 125.8 335.3 124.9 334.9 124 334.2 123 333.4 123 356.6Z" clip-path="url(#p59242a91ff)" style="fill: #fd940e"/>
   </g>
   <g shape-rendering="crispEdges" id="QuadContourSet_27">
    <path d="M161.6 427.6 162.6 427.7 163.6 427.8 164.6 427.8 170.6 427.8 172.5 427.8 178.5 428.1 181.5 428.2 183.4 428.2 189.4 428.2 190.4 428.2 191.4 428.2 192.4 428.1 193.4 428 194.4 427.8 196.3 427.4 200.3 426.5 201.3 426.3 202.3 426.1 203.3 426 204.3 426 210.2 425.9 211.2 425.9 212.2 425.9 214.2 425.7 218.2 425.3 221.1 425.1 223.1 424.9 225.1 424.6 226.1 424.5 228.1 424.1 230 423.6 231 423.3 232 422.9 233 422.4 234.3 421.5 235.3 420.5 236.1 419.5 236.7 418.6 237.1 417.6 237.5 416.6 237.8 415.6 237.9 414.6 237.5 413.6 237 413.1 236.5 412.6 236 412.4 235 412 234 411.6 233 411.4 232 411.3 231 411.2 230 411.1 215.2 411.1 213.2 411.1 212.2 411.1 211.2 411 210.2 410.8 209 410.6 207.2 410.3 206.3 410 204.9 409.6 204.3 409.4 203.3 409 201.3 408.2 200.3 407.9 199.3 407.5 198.3 407.3 197.3 407 195.3 406.6 194.4 406.5 193.4 406.3 192.4 406.3 191.4 406.2 189.4 406.2 164.6 406.2 156.7 406.2 154.7 406.2 153.7 406.3 152.7 406.4 151.7 406.7 150.7 407.1 149.7 407.7 148.4 408.6 147.4 409.6 146.6 410.6 145.6 411.6 144.8 412.3 143.8 412.9 142.8 413.3 141.8 413.5 140.8 413.6 138.8 413.6 135.9 413.6 134.9 413.6 133.9 413.5 132.9 413.3 131.9 412.9 130.9 412.3 129.9 411.5 129.2 410.6 128.4 409.6 127.6 408.6 126.9 408.1 126.4 407.7 125.9 407.4 124.9 406.9 124 406.5 123 406.3 123 425.8 124 425.9 124.9 425.9 149.7 426 151.7 426 152.7 426 153.7 426.1 154.7 426.2 156.7 426.6 158.7 426.9 161.1 427.5ZM478.9 425.6 479.9 425.8 479.9 406.3 478.9 406.2 477.9 406.2 455.1 406.2 453.1 406.2 452.1 406.2 451.2 406.2 450.2 406.3 449.2 406.5 448.2 406.9 447.2 407.3 446.6 407.7 446.2 407.9 444.2 409.4 443.8 409.6 443.2 410 442.2 410.4 441.2 410.8 439.3 411.5 438.8 411.6 438.3 411.9 437.3 412.5 437.1 412.6 436.3 413.6 436.3 414.6 436.7 415.6 437.5 416.6 438.3 417.3 439.3 418 440.4 418.6 441.2 418.9 442.2 419.3 443.2 419.6 444.2 419.9 445.2 420.1 447.2 420.6 449.2 420.9 452.1 421.3 454.1 421.7 456.1 422.1 458.1 422.6 459.1 422.8 460.1 422.9 461.1 423 462.1 423.1 467 423.1 468 423.1 469 423.2 470 423.3 471.1 423.5 472 423.7 473 424 474.6 424.5 477.9 425.4 478.2 425.5ZM250.9 420.6 251.9 420.8 252.9 420.9 253.8 421 257.8 421 259.8 421 260.8 421 261.8 420.9 262.8 420.8 263.8 420.5 264.8 420.2 265.7 419.8 266.4 419.5 266.7 419.3 267.8 418.6 268.7 417.5 269.4 416.6 269.9 415.6 270.2 414.6 269.9 413.6 268.7 412.8 268.4 412.6 267.7 412.4 266.7 412.1 265.7 411.8 264.8 411.6 263.8 411.4 262.8 411.3 261.8 411.2 260.8 411.2 258.8 411.1 254.8 411.1 253.8 411.1 252.9 411.2 251.9 411.3 250.9 411.4 249.9 411.6 248.9 412 247.9 412.4 247.4 412.6 246.9 413.1 246.3 413.6 246 414.6 246.1 415.6 246.4 416.6 246.9 417.6 247.6 418.6 247.9 418.9 248.7 419.5 249.9 420.2 250.8 420.5ZM367.9 420.5 368.9 420.7 369.9 420.8 370.8 420.9 371.8 421 373.8 421 387.7 421 389.7 421 390.7 420.9 391.7 420.8 392.7 420.7 393.6 420.5 394.6 420.3 395.6 420 396.6 419.7 397.1 419.5 397.6 419.2 398.3 418.6 398.2 417.6 397.6 416.6 396.6 415.2 396.2 414.6 395.1 412.6 394.4 411.6 393.5 410.6 392.7 409.9 391.7 409.3 390.5 408.6 389.7 408.3 388.7 407.9 387.7 407.6 386.7 407.3 385.7 407.1 383.7 406.6 382.7 406.5 381.8 406.3 380.8 406.2 379.8 406.2 377.8 406.2 373.8 406.2 372.8 406.2 371.8 406.2 370.8 406.3 369.9 406.4 368.9 406.7 367.9 407 366.9 407.4 366.3 407.7 365.9 407.9 364.8 408.6 363.9 409.7 363.2 410.6 362.6 411.6 361.9 412.7 361.4 413.6 361.1 414.6 361 415.6 361 416.6 361.4 417.6 362.2 418.6 362.9 419 364.1 419.5 364.9 419.8 365.9 420.1 366.9 420.3 367.8 420.5ZM428.4 368.2 429.3 368.5 430.3 368.8 431.3 368.9 432.3 369 435.3 369 437.3 369 438.3 369 439.3 368.9 440.3 368.8 441.2 368.5 443.2 367.9 444.2 367.6 445.2 367.4 447.2 367 449.2 366.6 450.2 366.4 451.2 366.2 452.1 365.9 455.3 365 457.1 364.3 457.7 364 458.1 363.7 458.9 363 459.1 362.6 459.4 362 459.6 361 460.1 360 460.7 359.1 461.8 358.1 462.9 357.1 463.7 356.1 464.4 355.1 464.7 354.1 464.9 353.1 465 352.1 465 350.1 465 347.2 465 346.2 464.8 345.2 464.4 344.2 464 343.8 463.5 343.2 463.1 343 462.1 342.4 461.1 342.1 460.1 341.9 459.1 341.8 458.1 341.8 454.1 341.7 452.1 341.8 451.2 341.8 450.2 341.9 449.2 342.1 448.2 342.3 444.8 343.2 443.2 343.7 441.5 344.2 440.3 344.6 439.3 344.9 437.3 345.4 436.3 345.7 435.3 345.9 433.3 346.3 431.3 346.6 430.3 346.8 429.3 347 428.4 347.4 427.4 347.8 426.8 348.2 426.4 348.4 424.4 349.9 424 350.1 423.4 350.5 422.4 350.9 421.4 351.3 419.4 351.9 418.4 352.3 417.4 352.9 417 353.1 416.5 353.7 416.1 354.1 415.7 355.1 415.5 356.1 415.5 357.1 415.5 360.1 415.5 361 415.5 362 415.7 363 416.1 364 416.5 364.4 417 365 417.4 365.3 418.4 365.8 419.4 366.2 420.4 366.4 421.4 366.6 423.5 367 425.4 367.4 426.4 367.6 427.6 368ZM308.4 361.1 309.4 361.2 310.4 361.4 311.4 361.4 312.3 361.5 314.3 361.5 330.2 361.6 347 361.5 349 361.5 350 361.4 351 361.2 352 360.8 353 360 353.6 359.1 353.9 358.1 353.9 357.1 353.6 355.1 353.5 354.1 353.5 353.1 353.5 351.1 353.5 347.2 353.4 346.2 353.3 345.2 353.1 344.2 352.4 343.2 352 342.8 351 342.1 350 341.9 349 341.7 348 341.7 340.1 341.7 325.2 341.7 323.3 341.7 322.3 341.8 321.3 342 320.3 342.2 319.3 342.7 318.2 343.2 316.7 344.2 316.3 344.4 315.1 345.2 314.3 345.6 313.3 346 312.3 346.4 310.4 347 309.4 347.4 308.4 347.9 307.9 348.2 307.4 348.6 306.7 349.2 305.9 350.1 305.2 351.1 304.3 352.1 303.4 353.1 302.4 354.1 301.8 355.1 301.6 356.1 301.6 357.1 301.9 358.1 302.7 359.1 303.4 359.5 304.6 360.1 305.4 360.3 306.4 360.6 307.4 360.8 308.4 361Z" clip-path="url(#p59242a91ff)" style="fill: #ff7800"/>
   </g>
   <g shape-rendering="crispEdges" id="QuadContourSet_28">
    <path d="M181.5 422.6 182.5 422.9 183.4 423 184.4 423.1 187.4 423.1 189.4 423.1 190.4 423.1 191.4 423 192.4 422.9 193.4 422.7 194.4 422.3 196.2 421.5 198.1 420.5 199.5 419.5 200 418.6 199.5 417.6 198.1 416.6 196.3 415.6 194.3 414.6 193.4 414.2 192.4 413.9 191.4 413.7 190.4 413.6 188.4 413.6 185.4 413.6 184.4 413.6 183.4 413.7 182.5 413.9 181.5 414.2 180.5 414.7 179.5 415.4 178.5 416.1 178 416.6 177.2 417.6 176.9 418.6 177.2 419.5 178 420.5 178.5 420.9 179.3 421.5 180.5 422.2 181.2 422.5ZM330.2 356.1 331.2 356.3 332.2 356.3 333.2 356.2 334.2 356.1 335.1 355.8 336.1 355.6 337.8 355.1 339.1 354.4 339.6 354.1 340.4 353.1 340.6 352.1 340.4 351.1 340.1 350.8 339.2 350.1 338.1 349.9 337.1 349.7 336.1 349.6 335.1 349.5 334.2 349.4 333.2 349.3 332.2 349.3 331.2 349.5 330.2 349.9 329.2 350.5 328.4 351.1 328.2 351.3 327.6 352.1 327.2 353.1 327.3 354.1 328 355.1 328.2 355.2 329.2 355.8 330 356.1Z" clip-path="url(#p59242a91ff)" style="fill: #ff5a00"/>
   </g>
   <g id="matplotlib.axis_5">
    <g id="xtick_8">
     <g id="line2d_115">
      <g>
       <use href="#m8d3a855a7b" x="122.96" y="478.04" style="stroke: #000000"/>
      </g>
     </g>
     <g id="text_31">
      <text style="font-size: 8px; font-family: 'DejaVu Sans', sans-serif; text-anchor: middle" x="122.96" y="491.12" transform="rotate(-0 122.96 491.12)">0°E</text>
     </g>
    </g>
    <g id="xtick_9">
     <g id="line2d_116">
      <g>
       <use href="#m8d3a855a7b" x="182.45" y="478.04" style="stroke: #000000"/>
      </g>
     </g>
     <g id="text_32">
      <text style="font-size: 8px; font-family: 'DejaVu Sans', sans-serif; text-anchor: middle" x="182.45" y="491.12" transform="rotate(-0 182.45 491.12)">60°E</text>
     </g>
    </g>
    <g id="xtick_10">
     <g id="line2d_117">
      <g>
       <use href="#m8d3a855a7b" x="241.94" y="478.04" style="stroke: #000000"/>
      </g>
     </g>
     <g id="text_33">
      <text style="font-size: 8px; font-family: 'DejaVu Sans', sans-serif; text-anchor: middle" x="241.94" y="491.12" transform="rotate(-0 241.94 491.12)">120°E</text>
     </g>
    </g>
    <g id="xtick_11">
     <g id="line2d_118">
      <g>
       <use href="#m8d3a855a7b" x="301.43" y="478.04" style="stroke: #000000"/>
      </g>
     </g>
     <g id="text_34">
      <text style="font-size: 8px; font-family: 'DejaVu Sans', sans-serif; text-anchor: middle" x="301.43" y="491.12" transform="rotate(-0 301.43 491.12)">180°</text>
     </g>
    </g>
    <g id="xtick_12">
     <g id="line2d_119">
      <g>
       <use href="#m8d3a855a7b" x="360.92" y="478.04" style="stroke: #000000"/>
      </g>
     </g>
     <g id="text_35">
      <text style="font-size: 8px; font-family: 'DejaVu Sans', sans-serif; text-anchor: middle" x="360.92" y="491.12" transform="rotate(-0 360.92 491.12)">120°W</text>
     </g>
    </g>
    <g id="xtick_13">
     <g id="line2d_120">
      <g>
       <use href="#m8d3a855a7b" x="420.42" y="478.04" style="stroke: #000000"/>
      </g>
     </g>
     <g id="text_36">
      <text style="font-size: 8px; font-family: 'DejaVu Sans', sans-serif; text-anchor: middle" x="420.42" y="491.12" transform="rotate(-0 420.42 491.12)">60°W</text>
     </g>
    </g>
    <g id="xtick_14">
     <g id="line2d_121">
      <g>
       <use href="#m8d3a855a7b" x="479.90" y="478.04" style="stroke: #000000"/>
      </g>
     </g>
     <g id="text_37">
      <text style="font-size: 8px; font-family: 'DejaVu Sans', sans-serif; text-anchor: middle" x="479.90" y="491.12" transform="rotate(-0 479.90 491.12)">0°W</text>
     </g>
    </g>
   </g>
   <g id="matplotlib.axis_6">
    <g id="ytick_22">
     <g id="line2d_122">
      <g>
       <use href="#me4d9d56b5a" x="122.96" y="478.04" style="stroke: #000000"/>
      </g>
     </g>
     <g id="text_38">
      <text style="font-size: 8px; font-family: 'DejaVu Sans', sans-serif; text-anchor: end" x="115.96" y="481.08" transform="rotate(-0 115.96 481.08)">90°S</text>
     </g>
    </g>
    <g id="ytick_23">
     <g id="line2d_123">
      <g>
       <use href="#me4d9d56b5a" x="122.96" y="448.30" style="stroke: #000000"/>
      </g>
     </g>
     <g id="text_39">
      <text style="font-size: 8px; font-family: 'DejaVu Sans', sans-serif; text-anchor: end" x="115.96" y="451.34" transform="rotate(-0 115.96 451.34)">60°S</text>
     </g>
    </g>
    <g id="ytick_24">
     <g id="line2d_124">
      <g>
       <use href="#me4d9d56b5a" x="122.96" y="418.55" style="stroke: #000000"/>
      </g>
     </g>
     <g id="text_40">
      <text style="font-size: 8px; font-family: 'DejaVu Sans', sans-serif; text-anchor: end" x="115.96" y="421.59" transform="rotate(-0 115.96 421.59)">30°S</text>
     </g>
    </g>
    <g id="ytick_25">
     <g id="line2d_125">
      <g>
       <use href="#me4d9d56b5a" x="122.96" y="388.81" style="stroke: #000000"/>
      </g>
     </g>
     <g id="text_41">
      <text style="font-size: 8px; font-family: 'DejaVu Sans', sans-serif; text-anchor: end" x="115.96" y="391.85" transform="rotate(-0 115.96 391.85)">0°</text>
     </g>
    </g>
    <g id="ytick_26">
     <g id="line2d_126">
      <g>
       <use href="#me4d9d56b5a" x="122.96" y="359.06" style="stroke: #000000"/>
      </g>
     </g>
     <g id="text_42">
      <text style="font-size: 8px; font-family: 'DejaVu Sans', sans-serif; text-anchor: end" x="115.96" y="362.10" transform="rotate(-0 115.96 362.10)">30°N</text>
     </g>
    </g>
    <g id="ytick_27">
     <g id="line2d_127">
      <g>
       <use href="#me4d9d56b5a" x="122.96" y="329.32" style="stroke: #000000"/>
      </g>
     </g>
     <g id="text_43">
      <text style="font-size: 8px; font-family: 'DejaVu Sans', sans-serif; text-anchor: end" x="115.96" y="332.36" transform="rotate(-0 115.96 332.36)">60°N</text>
     </g>
    </g>
    <g id="ytick_28">
     <g id="line2d_128">
      <g>
       <use href="#me4d9d56b5a" x="122.96" y="299.57" style="stroke: #000000"/>
      </g>
     </g>
     <g id="text_44">
      <text style="font-size: 8px; font-family: 'DejaVu Sans', sans-serif; text-anchor: end" x="115.96" y="302.61" transform="rotate(-0 115.96 302.61)">90°N</text>
     </g>
    </g>
   </g>
   <g id="line2d_129">
    <path d="M474.4 353.1 475.5 352.4 477.9 352.3 479.2 351.5 479.9 350.6" clip-path="url(#p59242a91ff)" style="fill: none; stroke: #000000; stroke-width: 0.3; stroke-linecap: square"/>
   </g>
   <g id="line2d_130">
    <path d="M123 350.6 123.2 350.3 123 350.1" clip-path="url(#p59242a91ff)" style="fill: none; stroke: #000000; stroke-width: 0.3; stroke-linecap: square"/>
   </g>
   <g id="line2d_131">
    <path d="M479.9 350.1 479.6 349.6 479.9 349.3" clip-path="url(#p59242a91ff)" style="fill: none; stroke: #000000; stroke-width: 0.3; stroke-linecap: square"/>
   </g>
   <g id="line2d_132">
    <path d="M123 349.3 123.9 348.4 126.1 347.3 126 346.2 127.4 345.8 128.9 346.1 131.7 344.8 133.1 345.3 133.9 346.7 135.4 347.7 136.8 348.4 138.4 349.1 138.5 351.1 139.4 350.6 139.9 350.1 139.3 349.3 140 348.8 141.3 349.1 140.8 348.6 138.8 347.7 136.8 346.7 136.4 345.7 135.2 344.7 135.2 343.9 136.5 343.5 136.4 344.2 137.3 344 138.3 345.2 139.2 345.7 140.8 346.5 142.2 347.4 142.2 348.7 142.8 349.5 143.5 350.3 144.1 351.3 144.6 352.3 145.3 352.7 145.8 352.6 145.6 351.6 146 351.1 146.8 350.9 145.8 350.1 145.4 349.2 145.7 348.6 146.7 348.4 148.7 348.4 149 348.9 150.2 348.3 151.7 348.1 150.9 347.6 150.6 346.5 151.3 345.4 152.4 344 153.4 342.7 154.4 342.7 155.7 343.2 155.2 343.8 156.2 344.7 157.7 344.4 159.2 343.9 158.2 343.6 157.9 342.9 160.1 342.2 161.9 342 160.8 343 160.1 344.5 162.3 345.6 164.2 347.6 162.6 348.2 160.1 348.2 158.2 347.5 155.7 347.2 154.2 347.9 151.8 348.2 150.2 348.8 149 349.2 149.5 350.1 149.9 350.7 150 352.1 150.7 352.4 152.2 352.9 153.3 352.3 154.7 352.6 156.7 352.8 158.2 352.5 158.9 352.5 158.5 353.6 158.6 354.5 157.9 356 157.6 356.7 156.9 357.8 155.2 358 153.7 357.5 152.5 357.9 149.7 357.7 147.8 357.5 145.8 356.5 143.8 356.3 142.8 357.6 141.8 358.8 139.8 357.9 138.1 356.8 135.9 356.2 134 355.9 133.2 355.1 133.9 353.6 133.2 352.2 133.9 352.1 132.7 351.8 131.4 352.2 129.4 352.1 125.9 352.3 123 353.2" clip-path="url(#p59242a91ff)" style="fill: none; stroke: #000000; stroke-width: 0.3; stroke-linecap: square"/>
   </g>
   <g id="line2d_133">
    <path d="M479.9 353.2 477.9 354 474.7 353.2 474 353.6 473.2 355.1 472.4 355.5 470.7 356.6 470.2 358.6 468.5 360.9 467 361.5 465.5 363 464 365 463.1 367.5 463.9 369.5 464 370.9 463.6 372.7 462.6 374.2 463.4 375.4 463.3 376.4 464.5 377.4 465.5 378.4 466.7 379.4 466.8 380.4 468.5 382 471 383.9 472.5 384.4 475 383.8 477.9 384.2 479.9 383.3" clip-path="url(#p59242a91ff)" style="fill: none; stroke: #000000; stroke-width: 0.3; stroke-linecap: square"/>
   </g>
   <g id="line2d_134">
    <path d="M123 383.3 124 382.9 125.4 382.6 127.4 382.6 128.9 384.5 131.4 384.3 132.4 384.9 132.7 386.3 131.9 389.8 132.9 391.6 134.7 393.3 136.1 397.5 135.4 401.7 134.7 404.7 134.7 405.9 135.7 408.1 137.3 411.5 138 415.1 139.3 417.2 140.3 419.5 141.3 422.8 142.8 423.3 144.8 422.7 148.3 422.4 150.2 421.5 152.7 419.5 153.7 418.4 155.2 417.1 155.6 414.6 158.2 412.6 158 410.6 157.5 408.6 159.2 407.2 161.6 405.7 163.1 403.7 163.1 399.7 162.1 396.7 161.9 395.6 162.3 392.9 164.1 390.6 166.1 388.3 167.9 386.8 170.6 383.9 172 380.9 173.7 377.1 167.6 378.4 165.9 377.3 165.6 376.3 164.6 374.9 162.1 373.3 161.1 371 159.8 369.4 159.7 367.5 158.2 366 156.7 363 155.3 359.2 156.2 361 157 361.2 157.6 359.6 157.7 361 161.1 365.5 161.8 367.5 163.6 370 165.1 372.5 165.8 375.6 166.1 376.2 167.6 376.1 174.7 373.3 176.5 372 178 371.2 180.3 369.5 182.3 366.5 181.1 365.4 180 365.1 178.9 364.1 178.8 362.7 176.5 364.9 174.5 365 173.8 362.9 173.3 364.2 172.7 362.8 171.1 360.7 170.6 359.2 172 359.1 175 361.6 177 362.4 178.8 361.9 179.8 363.2 182 363.6 184.7 363.9 186.9 363.7 189.4 364.2 190.9 365.5 192.4 366.2 191.4 366.7 192.4 368 194.4 367.5 195.2 370 195.8 372.9 196.8 374.9 197.3 376.4 198.6 379.4 199.8 380.8 201.6 378.6 202.2 375.9 202.6 373.4 204.6 372.4 207 369.7 208.7 368.7 209.2 367.5 210.7 367.3 212.7 366.8 214 366.6 214.5 368.3 215.9 370 216.4 372.9 217.7 373.1 219.1 372.2 219.8 372.9 220.4 375.9 220.7 378.9 220.4 380.9 222.1 382.4 222.5 383.9 223.4 386 225.6 387.5 226.3 387.4 225.6 385.3 225.5 383.9 222.6 381.5 221.6 379.4 221.3 378.4 222.6 375.4 223.1 376.2 224.6 376.9 226.9 380.3 228.6 379.4 229.6 378.4 231.2 377.4 231.3 375.4 230.8 373.4 229.1 372 227.9 370.2 228.8 368.2 230 367.5 231.8 367.5 232 368.7 232.5 367.8 234 367.2 237.5 366.2 239 365.4 240.8 364.2 242.4 361.5 243.8 359.2 243.8 358.1 242.9 356.6 242.2 354.8 241.2 354.1 242.4 353 244.4 351.7 242.7 351.3 241 351.9 240 350.8 239.7 350.1 241 349.6 242.9 348.4 243.5 350.1 244.4 349.2 246.2 349.3 246.9 350.6 248.4 351.6 248.2 354.1 248.4 354.7 250.9 354 251.4 352.6 251.3 351.6 250.2 350.5 249.4 349.4 251.6 348.2 252.6 346.9 253.7 346.2 255 346.5 257.3 345.3 259.3 343.7 261.8 341.2 262.3 339.2 263.2 336.8 262.8 336 260.8 335.2 259.3 335.3 257.8 334.7 259.8 332.8 262.8 330.6 264.8 330 267.7 330.1 270.7 329.7 272.5 329.7 275.7 330.1 276.7 328.8 278.6 327.6 281.6 327.5 283.1 329 279.4 331.5 278.1 333.8 278.3 338.2 281.6 334.8 283.6 333.1 284.9 331.5 283.6 330.8 286.1 329.5 288.1 329 291.5 329.3 293.5 328.3 296 327.5 299 326.8 300.9 327 302.4 326.3 299 324.7 303.4 323.9 307.4 324.9 308.9 325 309.4 323.9 311.6 323.4 309.9 322.6 306.4 321.9 302.4 320.5 296.5 319.6 292 319.3 287.6 319.8 282.6 319.8 281.6 318.6 277.6 318.4 273.7 318.5 271.7 317.9 266.7 317.1 261.8 316.9 260.8 317.9 256.8 317.8 251.9 318.4 250.4 316.9 247.9 315.9 243.9 316.4 240 315.9 235 315.6 234 313.5 230 312.8 226.1 311.8 220.1 313.5 215.2 313.7 210.2 314.4 208.2 315.4 204.3 315.9 202.8 316.9 202.8 318.4 200.3 317.1 197.3 316.9 195.3 317.9 195.3 321.4 194.4 320.4 195.3 317.9 192.4 316.4 190.4 318.4 189.4 319.9 186.4 320.2 182.5 320.9 179.5 320.9 172.5 321.6 168.6 321.4 166.6 320.9 166.1 322.9 163.6 322.9 162.6 323.9 158.7 324.9 157.5 324.9 157.7 323.1 163.6 322.4 163.6 322.6 160.6 321.2 155.7 320.1 152.7 319.6 147.8 318.4 142.8 319.4 138.8 320.4 136.8 321.9 133.4 325.4 129.9 326.5 127.9 327.8 127.9 329.3 128.4 330.5 129.9 331.3 131.9 330.6 133.4 329.8 133.9 330.5 134.7 331.3 135.8 333.9 137.1 333.8 138.8 333.1 139.3 331.8 141.5 329.5 140.3 328.6 140.3 326.8 141.8 325.9 144.3 324.6 145.3 323.6 147.3 323.6 148.2 324.4 147.3 325.4 144.8 326.3 144.3 327.8 144.3 328.8 145.8 329.4 150.2 328.8 152.7 329.3 150.7 329.8 147.3 329.9 146.3 330.5 147 332.1 144.8 331.8 143.8 332.8 144 333.8 142.5 334.8 137 335.4 134.9 335.1 133.9 335.3 132.8 334.5 133.4 332.8 133.5 331.6 131.4 332.3 131 333.8 131.6 335.3 131.4 335.8 127.9 335.9 127.6 336.8 126.9 337.5 125.9 337.9 124.6 338.3 124.5 339.2 123 339.6" clip-path="url(#p59242a91ff)" style="fill: none; stroke: #000000; stroke-width: 0.3; stroke-linecap: square"/>
   </g>
   <g id="line2d_135">
    <path d="M479.9 339.6 478.3 339.5 478.4 340.5 476.9 340.4 475.3 340.8 475.7 341.4 477.4 341.9 478.7 343.2 478.7 344.7 478.4 345.7 476.9 345.8 474.2 345.6 472 345.5 470.7 346.2 471.2 347.2 471.2 348.7 470.5 350.3 471 352.1 472.5 351.9 473.7 352.3 474.4 353.1" clip-path="url(#p59242a91ff)" style="fill: none; stroke: #000000; stroke-width: 0.3; stroke-linecap: square"/>
   </g>
   <g id="line2d_136">
    <path d="M313.3 323.8 315.3 320.5 324.4 318.1 331.2 318.9 340.1 319.7 346.1 319.9 353 319.4 360.9 320.4 365.9 321.4 372.8 321.4 382.7 321.9 384.7 321.4 385.2 319.9 384.2 318.4 386.2 317.4 388.7 318.4 388.2 319.9 390.7 320.6 392.7 320.9 393.6 319.6 396.1 319.6 398.6 320.9 399.1 322.4 396.6 322.9 394.6 323.1 393.2 324.9 390.7 325.6 386.7 329.3 386.7 330.8 388.7 332.3 392.7 333.3 398.6 334.3 398.6 336.3 400.6 337.7 401.6 334.8 404.1 332.8 403.6 329.3 402.6 326.8 407.5 327.3 410.5 328.3 411 330.3 415.5 329.3 418.4 332.3 424.4 336.8 423.4 337.7 420.4 339 414.5 339 410.5 341.7 415.5 340.2 416 341.2 415.5 343.2 419.4 343.7 410.5 345.5 410 347.4 406.5 348.7 405.1 351.1 404.6 354.1 402.6 355.3 399.6 357.6 400.6 362 400.1 363.8 398.6 362.5 397.6 359.9 395.6 359.4 391.7 358.9 390.7 360 386.7 359.5 383.4 361.5 382.9 367 384.7 370 386.2 370.8 389.2 370.5 390.2 368 393.6 367.5 392.2 372.9 396.6 373.4 397.1 376.9 397.1 378.4 399.1 379.9 401.1 379.4 403.1 380.3 404.6 379.6 405.5 377.9 408.5 376.9 409 378.4 412.5 378.4 416.5 378.2 418.9 378.9 420.4 380.4 423.4 382.9 426.4 383.1 428.8 384.6 430.3 387.3 430.3 389.3 432.3 389.8 436.3 391.3 440.3 391.6 443.2 393.6 445 394.3 445.2 396.7 443.2 399.7 441.4 401.7 441.2 405.7 440.3 408.6 439.3 410.6 436.3 411.6 432.3 414.6 431.7 417.1 429.3 419.5 427.4 422.2 425.4 423.5 422.4 423 423.4 425 422.9 426.5 418.4 427.5 418.1 429.2 415.5 429.5 416.2 431 415 433.4 413 434.9 414.5 436.4 412 438.9 411.5 440.7 410.5 441.2 408.5 441.9 406 440.9 405.1 435.4 406.5 432.4 407 430.5 406.8 427.5 407.3 425.5 408.5 421.5 409 418.6 409.1 413.6 410.2 408.6 410 406.7 408.5 405.7 404.6 402.7 401.6 396.7 399.6 394.8 399.4 393.3 400.6 391.8 400.1 389.8 400.6 387.8 401.8 387 403.1 384.8 403.3 381.9 402.6 380.4 401.1 380.1 400.1 381.4 398.6 380.7 396.6 379.4 394.9 378.9 394.9 377.7 393.2 375.9 389.2 374.9 386.7 372.9 384.2 373.2 377.3 370.7 375.3 369 375.5 367.3 374.8 366 366.4 357.6 367.9 359.6 368.9 363 370.8 366 368.9 364.2 365.4 359.6 363.9 356.6 362.4 355.1 360.3 354.5 358.5 351.6 357 348.9 356.5 346.2 357 343 356.3 340.8 358 340.7 356.5 339.2 353.5 338.2 349 332.8 345.1 330.8 341.1 329.5 333.2 328.8 331.2 329.8 329.2 328.8 325.2 331.8 322.3 333.3 319.3 334.3 316.8 334.8 319.3 333.8 323.3 330.6 316.3 328.3 316.3 326.8 317.3 326.1 320.3 324.9 315.3 324.8 313.3 323.8" clip-path="url(#p59242a91ff)" style="fill: none; stroke: #000000; stroke-width: 0.3; stroke-linecap: square"/>
   </g>
   <g id="line2d_137">
    <path d="M407.5 311 414.5 308.5 420.4 307.5 435.3 307 450.2 306 460.1 307.5 468 308 462.1 309.5 461.1 312.5 459.1 314.9 458.1 317.4 456.1 318.9 453.1 320.9 448.2 321.4 443.2 323.6 440.3 324.4 438.3 326.8 436.8 329.3 434.3 328.5 431.3 327.3 427.4 323.4 426.9 320.9 425.9 318.9 424.4 316.9 422.4 314.4 418.4 313.5 412.5 313 407.5 311.5 407.5 311" clip-path="url(#p59242a91ff)" style="fill: none; stroke: #000000; stroke-width: 0.3; stroke-linecap: square"/>
   </g>
   <g id="line2d_138">
    <path d="M474.3 339.1 476.4 338.8 478.9 338.5 479.9 338.3" clip-path="url(#p59242a91ff)" style="fill: none; stroke: #000000; stroke-width: 0.3; stroke-linecap: square"/>
   </g>
   <g id="line2d_139">
    <path d="M123 338.3 124.4 338 123.9 337.5 124.7 336.6 123.3 336.1 123 335.5" clip-path="url(#p59242a91ff)" style="fill: none; stroke: #000000; stroke-width: 0.3; stroke-linecap: square"/>
   </g>
   <g id="line2d_140">
    <path d="M479.9 335.5 479.7 335.1 478.4 333.8 477.4 333.2 478 331.7 476.8 330.7 475 330.7 474.2 331.8 474.4 333 475 333.6 475.1 334.5 476.6 334.4 476.9 335.4 476.8 336 475.4 336 475.7 337.1 474.7 337.5 476.4 337.8 475.4 338.2 474.3 339.1" clip-path="url(#p59242a91ff)" style="fill: none; stroke: #000000; stroke-width: 0.3; stroke-linecap: square"/>
   </g>
   <g id="line2d_141">
    <path d="M474 337.3 473.9 335.8 474.5 334.9 473.7 334.1 472.5 334 471.5 334.8 470 335.1 470.5 336 469.7 337.3 470.5 337.7 472 337.5 473.7 337.1 474 337.3" clip-path="url(#p59242a91ff)" style="fill: none; stroke: #000000; stroke-width: 0.3; stroke-linecap: square"/>
   </g>
   <g id="line2d_142">
    <path d="M458.1 325.4 456.1 323.9 458.1 323 462.1 323.2 465 323 466.5 324.2 465 325.1 462.1 325.9 459.1 325.6 458.1 325.4" clip-path="url(#p59242a91ff)" style="fill: none; stroke: #000000; stroke-width: 0.3; stroke-linecap: square"/>
   </g>
   <g id="line2d_143">
    <path d="M133.9 311 135.9 309.8 139.8 309.5 144.8 309.2 149.7 309.5 147.8 310.5 143.8 311.5 139.8 313 133.9 311" clip-path="url(#p59242a91ff)" style="fill: none; stroke: #000000; stroke-width: 0.3; stroke-linecap: square"/>
   </g>
   <g id="line2d_144">
    <path d="M174.5 317.9 177.5 315.9 179.5 314 184.4 313 190.9 312.5 187.4 313.5 181.5 315.4 179.5 317.9 176 318.6 174.5 317.9" clip-path="url(#p59242a91ff)" style="fill: none; stroke: #000000; stroke-width: 0.3; stroke-linecap: square"/>
   </g>
   <g id="line2d_145">
    <path d="M217.2 310 222.1 309 226.1 310 222.1 311 217.2 310" clip-path="url(#p59242a91ff)" style="fill: none; stroke: #000000; stroke-width: 0.3; stroke-linecap: square"/>
   </g>
   <g id="line2d_146">
    <path d="M258.8 314 263.8 313.7 269.7 314.2 263.8 315.4 258.8 314" clip-path="url(#p59242a91ff)" style="fill: none; stroke: #000000; stroke-width: 0.3; stroke-linecap: square"/>
   </g>
   <g id="line2d_147">
    <path d="M300.4 317.9 303.9 318.2 302.9 318.6 300.4 318.4 300.4 317.9" clip-path="url(#p59242a91ff)" style="fill: none; stroke: #000000; stroke-width: 0.3; stroke-linecap: square"/>
   </g>
   <g id="line2d_148">
    <path d="M263.8 343.2 265.2 342.7 265 340.2 265.7 339.7 264.8 337.7 265 336.3 264.3 335 263.8 335.8 263.6 338.2 263.9 341.2 263.8 343.2" clip-path="url(#p59242a91ff)" style="fill: none; stroke: #000000; stroke-width: 0.3; stroke-linecap: square"/>
   </g>
   <g id="line2d_149">
    <path d="M261.8 347.7 263 347.4 264.8 347.2 267.2 345.9 266.7 345 263.8 343.7 263.3 345.2 262.1 345.9 261.8 347 261.8 347.7" clip-path="url(#p59242a91ff)" style="fill: none; stroke: #000000; stroke-width: 0.3; stroke-linecap: square"/>
   </g>
   <g id="line2d_150">
    <path d="M263.3 347.8 263.8 349.6 262.8 350.8 262.7 352.6 262.3 353.8 261.6 354.1 260.8 354.3 259.3 354.5 258.6 354.8 257.6 355.6 256.8 354.5 254.8 354.7 252.9 355.1 252.9 354.6 254.3 353.6 256.3 353.5 257.8 353.3 258.6 351.8 260.3 351.6 261.3 350.6 261.8 349.2 262.3 347.9 263.3 347.8" clip-path="url(#p59242a91ff)" style="fill: none; stroke: #000000; stroke-width: 0.3; stroke-linecap: square"/>
   </g>
   <g id="line2d_151">
    <path d="M251.9 355.3 252.9 355.2 253.6 356.6 253.1 357.8 252.2 357.9 251.9 356.4 251.9 355.3" clip-path="url(#p59242a91ff)" style="fill: none; stroke: #000000; stroke-width: 0.3; stroke-linecap: square"/>
   </g>
   <g id="line2d_152">
    <path d="M254.3 356.1 255.3 355.8 256.5 355.3 255.8 354.7 254.6 355.2 254.3 356.1" clip-path="url(#p59242a91ff)" style="fill: none; stroke: #000000; stroke-width: 0.3; stroke-linecap: square"/>
   </g>
   <g id="line2d_153">
    <path d="M242.1 366.5 242.9 367.1 243.8 364.5 243.4 363.7 242.4 364.5 242.1 366.5" clip-path="url(#p59242a91ff)" style="fill: none; stroke: #000000; stroke-width: 0.3; stroke-linecap: square"/>
   </g>
   <g id="line2d_154">
    <path d="M230.6 370 231.5 370.8 233 369.4 232.5 368.9 231.5 369 230.6 370" clip-path="url(#p59242a91ff)" style="fill: none; stroke: #000000; stroke-width: 0.3; stroke-linecap: square"/>
   </g>
   <g id="line2d_155">
    <path d="M242.4 370.5 244.2 370.6 244.1 372.5 243.5 373.9 244.4 374.9 245.9 375.9 245.4 376.2 243.7 375.1 242.5 374.7 241.9 372.9 242.4 370.5" clip-path="url(#p59242a91ff)" style="fill: none; stroke: #000000; stroke-width: 0.3; stroke-linecap: square"/>
   </g>
   <g id="line2d_156">
    <path d="M243.9 381.9 245.4 380.3 247.4 379.2 248.5 381.6 247.4 383.1 246.1 382.6 244.1 382 243.9 381.9" clip-path="url(#p59242a91ff)" style="fill: none; stroke: #000000; stroke-width: 0.3; stroke-linecap: square"/>
   </g>
   <g id="line2d_157">
    <path d="M246.2 376.4 247.6 376.6 247.4 378.4 246.4 378.9 246.2 377.4 246.2 376.4" clip-path="url(#p59242a91ff)" style="fill: none; stroke: #000000; stroke-width: 0.3; stroke-linecap: square"/>
   </g>
   <g id="line2d_158">
    <path d="M243.9 377.1 244.9 377.6 245.4 378.4 244.9 379.7 244.2 378.9 243.9 378.1 243.9 377.1" clip-path="url(#p59242a91ff)" style="fill: none; stroke: #000000; stroke-width: 0.3; stroke-linecap: square"/>
   </g>
   <g id="line2d_159">
    <path d="M242.2 375.4 243.4 375.6 243.1 376.6 242.4 376.1 242.2 375.4" clip-path="url(#p59242a91ff)" style="fill: none; stroke: #000000; stroke-width: 0.3; stroke-linecap: square"/>
   </g>
   <g id="line2d_160">
    <path d="M239.2 380.6 240.5 379.4 241.6 377.7 241.3 377.6 240 378.9 239.2 380.6" clip-path="url(#p59242a91ff)" style="fill: none; stroke: #000000; stroke-width: 0.3; stroke-linecap: square"/>
   </g>
   <g id="line2d_161">
    <path d="M231 387.3 231.6 386.8 233 387.3 235 385.8 239 381.9 240 382.9 241.2 383.6 240 384.4 240 387.8 239.5 388.8 238.5 390.3 238 392.3 236.5 392.3 234.5 392.1 233 391.8 232.2 391.3 232 389.8 231 388.8 231 387.3" clip-path="url(#p59242a91ff)" style="fill: none; stroke: #000000; stroke-width: 0.3; stroke-linecap: square"/>
   </g>
   <g id="line2d_162">
    <path d="M217.5 383.3 219.6 383.7 222.1 386.3 223.6 387.3 225.6 389.3 226.6 390.8 228.1 391.8 227.9 394.6 226.6 394.5 224.1 392.3 222.6 389.8 220.8 387.1 219.1 385.3 217.5 383.3" clip-path="url(#p59242a91ff)" style="fill: none; stroke: #000000; stroke-width: 0.3; stroke-linecap: square"/>
   </g>
   <g id="line2d_163">
    <path d="M227.3 395.6 228.6 394.8 230.5 395.3 232.5 395.6 234.5 395.7 236.5 396.4 236.3 397.4 233 396.9 230 396.5 228.1 396.1 227.3 395.6" clip-path="url(#p59242a91ff)" style="fill: none; stroke: #000000; stroke-width: 0.3; stroke-linecap: square"/>
   </g>
   <g id="line2d_164">
    <path d="M237 397 238 396.9 239 397 241 396.9 242.9 397 244.9 396.9 243.9 397.4 241.9 397.5 240 397.5 238 397.6 237 397" clip-path="url(#p59242a91ff)" style="fill: none; stroke: #000000; stroke-width: 0.3; stroke-linecap: square"/>
   </g>
   <g id="line2d_165">
    <path d="M245.9 398.9 246.9 398 248.9 397.1 247.9 397.7 246.4 398.9 245.9 398.9" clip-path="url(#p59242a91ff)" style="fill: none; stroke: #000000; stroke-width: 0.3; stroke-linecap: square"/>
   </g>
   <g id="line2d_166">
    <path d="M241.5 394.3 242.3 394.3 242.2 391.8 242.9 391.6 244.4 393.5 244.9 392.8 243.9 391.8 243.4 390.3 245.2 389.7 243.4 389.4 242.4 388.3 243.4 387.8 245.9 387.9 246.9 387.3 246.4 388.4 243.9 388.4 242.1 388.8 241.6 389.8 241 391.8 241.5 394.3" clip-path="url(#p59242a91ff)" style="fill: none; stroke: #000000; stroke-width: 0.3; stroke-linecap: square"/>
   </g>
   <g id="line2d_167">
    <path d="M249.4 387.3 250.1 386.8 249.9 388.3 250.6 389.3 249.5 389.1 249.4 387.3" clip-path="url(#p59242a91ff)" style="fill: none; stroke: #000000; stroke-width: 0.3; stroke-linecap: square"/>
   </g>
   <g id="line2d_168">
    <path d="M247.9 392 248.9 392.3 250.4 391.8 252.4 392.3 251.4 391.8 249.9 391.7 247.9 392" clip-path="url(#p59242a91ff)" style="fill: none; stroke: #000000; stroke-width: 0.3; stroke-linecap: square"/>
   </g>
   <g id="line2d_169">
    <path d="M252.9 389.8 254.3 389.2 255.8 389.7 256.8 392.1 259.3 390.3 262.8 391.4 265.7 392.6 267.7 394.3 269.2 395.1 268.7 396.2 270.2 397.7 272.2 399.2 270.7 399 268.7 398.7 267.2 396.7 265.2 397.7 264.3 398 262.8 397.9 260.8 396.9 259.8 397.1 259.6 394.3 256.8 393.2 254.8 392.8 253.8 391.6 255.3 391.1 252.9 390.3 252.9 389.8" clip-path="url(#p59242a91ff)" style="fill: none; stroke: #000000; stroke-width: 0.3; stroke-linecap: square"/>
   </g>
   <g id="line2d_170">
    <path d="M270.2 394.3 272.2 393.8 273.7 393 273.2 394.3 271.7 395.1 270.2 394.3" clip-path="url(#p59242a91ff)" style="fill: none; stroke: #000000; stroke-width: 0.3; stroke-linecap: square"/>
   </g>
   <g id="line2d_171">
    <path d="M272.5 391.5 273.9 392.3 274.7 393.4 274.1 392.8 272.5 391.5" clip-path="url(#p59242a91ff)" style="fill: none; stroke: #000000; stroke-width: 0.3; stroke-linecap: square"/>
   </g>
   <g id="line2d_172">
    <path d="M276.7 394.8 278.1 396 279.1 396.9 281.1 397.7 282.1 398.5 283.1 399.2 281.6 398.2 279.6 396.9 277.1 395.3 276.7 394.8" clip-path="url(#p59242a91ff)" style="fill: none; stroke: #000000; stroke-width: 0.3; stroke-linecap: square"/>
   </g>
   <g id="line2d_173">
    <path d="M288.1 403.3 288.7 404.2 289.7 405.7 290.8 408.1 290 406.7 289 405.2 288.1 403.3" clip-path="url(#p59242a91ff)" style="fill: none; stroke: #000000; stroke-width: 0.3; stroke-linecap: square"/>
   </g>
   <g id="line2d_174">
    <path d="M285.6 408.9 287.1 409.6 288.5 410.9 287.8 410.6 285.9 409.4 285.6 408.9" clip-path="url(#p59242a91ff)" style="fill: none; stroke: #000000; stroke-width: 0.3; stroke-linecap: square"/>
   </g>
   <g id="line2d_175">
    <path d="M298.8 406.2 300 406 299.8 406.9 298.8 406.7 298.8 406.2" clip-path="url(#p59242a91ff)" style="fill: none; stroke: #000000; stroke-width: 0.3; stroke-linecap: square"/>
   </g>
   <g id="line2d_176">
    <path d="M300.2 405.2 301.4 405 300.9 405.7 300.2 405.2" clip-path="url(#p59242a91ff)" style="fill: none; stroke: #000000; stroke-width: 0.3; stroke-linecap: square"/>
   </g>
   <g id="line2d_177">
    <path d="M235.5 410.6 236 414.6 237 418.6 237 422 239.5 423.5 241.9 422.5 245.4 422.4 247.9 420.8 250.9 420.1 253.3 420 255.8 421 257.3 423.3 258.3 422 259.6 421.5 259.3 423.5 260.3 424 262.8 426.5 265.2 427.3 266.7 426.7 268 427.6 269.7 426.3 271.7 426 272.9 422.4 274.2 420.5 275.3 416.9 274.7 414.1 272.7 412.1 271.2 410.9 269.7 408.6 267.7 407.2 267.2 403.7 265.2 402.2 264.3 399.4 263.4 401.2 263.3 403.7 262.3 406.2 260.8 405.7 258.8 404.5 257.3 403.7 258.5 401 256.8 400.7 254.3 400.2 252.9 400.9 251.9 401.7 251.4 403.5 249.9 403.7 247.9 402.7 246.4 404.2 244.9 405.2 244.1 406.7 242.9 408.1 241 408.6 238.7 409.2 236.5 410.4 235.5 410.6" clip-path="url(#p59242a91ff)" style="fill: none; stroke: #000000; stroke-width: 0.3; stroke-linecap: square"/>
   </g>
   <g id="line2d_178">
    <path d="M266.3 429.2 268.2 429.6 270 429.4 269.7 431.4 268.6 432 266.9 430.8 266.3 429.2" clip-path="url(#p59242a91ff)" style="fill: none; stroke: #000000; stroke-width: 0.3; stroke-linecap: square"/>
   </g>
   <g id="line2d_179">
    <path d="M294.2 422.9 296 424.4 297 425.5 299.5 426.1 299.5 427.5 298.5 427.8 297.7 429.8 296.4 429.9 296 428.3 295.3 427.7 296.1 426.5 295.5 424.7 294.2 422.9" clip-path="url(#p59242a91ff)" style="fill: none; stroke: #000000; stroke-width: 0.3; stroke-linecap: square"/>
   </g>
   <g id="line2d_180">
    <path d="M294.2 429 295.7 430.2 294.5 431.9 292.7 432.9 292.2 434.3 290.5 435 288.1 434.4 288.5 433.4 290 432.4 292 431.2 293 430.2 294.2 429" clip-path="url(#p59242a91ff)" style="fill: none; stroke: #000000; stroke-width: 0.3; stroke-linecap: square"/>
   </g>
   <g id="line2d_181">
    <path d="M202.1 380.9 202.5 379.1 203.5 380.4 204.1 381.9 203.5 382.7 202.4 382.9 202.1 380.9" clip-path="url(#p59242a91ff)" style="fill: none; stroke: #000000; stroke-width: 0.3; stroke-linecap: square"/>
   </g>
   <g id="line2d_182">
    <path d="M171.8 400.7 173 404.2 172 406.2 171.1 409.1 169.8 413.4 167.8 414.1 166.4 412.1 165.9 410.1 167 408.6 166.6 406.2 168.6 404.5 170.5 402.3 171.8 400.7" clip-path="url(#p59242a91ff)" style="fill: none; stroke: #000000; stroke-width: 0.3; stroke-linecap: square"/>
   </g>
   <g id="line2d_183">
    <path d="M135.3 351.3 136.2 350.9 138.4 350.8 137.9 352.4 135.3 351.3" clip-path="url(#p59242a91ff)" style="fill: none; stroke: #000000; stroke-width: 0.3; stroke-linecap: square"/>
   </g>
   <g id="line2d_184">
    <path d="M131.1 348.3 132.7 348.2 132.5 350 131.3 350.1 131.1 348.3" clip-path="url(#p59242a91ff)" style="fill: none; stroke: #000000; stroke-width: 0.3; stroke-linecap: square"/>
   </g>
   <g id="line2d_185">
    <path d="M131.5 346.8 132.3 346.2 132.4 347.2 132.1 347.8 131.5 347.3 131.5 346.8" clip-path="url(#p59242a91ff)" style="fill: none; stroke: #000000; stroke-width: 0.3; stroke-linecap: square"/>
   </g>
   <g id="line2d_186">
    <path d="M146.3 353.8 149 353.8 148.9 354.1 146.8 354.1 146.3 353.8" clip-path="url(#p59242a91ff)" style="fill: none; stroke: #000000; stroke-width: 0.3; stroke-linecap: square"/>
   </g>
   <g id="line2d_187">
    <path d="M155 354.1 157.3 353.4 156.6 354.1 155.2 354.4 155 354.1" clip-path="url(#p59242a91ff)" style="fill: none; stroke: #000000; stroke-width: 0.3; stroke-linecap: square"/>
   </g>
   <g id="line2d_188">
    <path d="M169.6 344.7 170.1 343.5 171.5 342.6 173.7 342.2 175.5 342.4 175.7 343.9 173.8 344.7 173.5 346 175.2 347.2 175.3 348.2 176.5 349.2 176 349.8 176.4 351.8 174 352.3 171.7 351.5 171.4 350.6 172 349 171.2 347.4 170.1 346.2 169.6 344.7" clip-path="url(#p59242a91ff)" style="fill: none; stroke: #000000; stroke-width: 0.3; stroke-linecap: square"/>
   </g>
   <g id="line2d_189">
    <path d="M418.9 322.9 416 325.9 415 327.3 412.5 326.8 409 325.9 406.5 324.9 402.6 324.9 403.6 323.4 407.5 321.9 406.5 320.4 401.6 319.7 394.6 319.4 391.7 317.9 394.1 315.9 400.6 315.6 404.6 316.9 409.5 318.4 413.5 319.9 417.4 322.4 418.9 322.9" clip-path="url(#p59242a91ff)" style="fill: none; stroke: #000000; stroke-width: 0.3; stroke-linecap: square"/>
   </g>
   <g id="line2d_190">
    <path d="M401.6 313 396.6 313.2 391.7 312.9 392.7 311.5 395.6 310.2 389.7 309 393.6 307.8 400.6 306.7 410.5 306.5 418.4 307.2 416.5 308 411.5 309 408 310.5 404.6 311.2 405.1 312 402.1 312.2 401.6 313" clip-path="url(#p59242a91ff)" style="fill: none; stroke: #000000; stroke-width: 0.3; stroke-linecap: square"/>
   </g>
   <g id="line2d_191">
    <path d="M391.7 310.5 388.7 310 384.7 309.5 385.7 308.5 389.7 308.3 391.7 309.5 391.7 310.5" clip-path="url(#p59242a91ff)" style="fill: none; stroke: #000000; stroke-width: 0.3; stroke-linecap: square"/>
   </g>
   <g id="line2d_192">
    <path d="M400.6 314.9 394.6 315.1 390.7 314.8 388.2 314.1 388.7 313.2 391.7 313 395.6 313.2 399.6 313 400.6 314 400.6 314.9" clip-path="url(#p59242a91ff)" style="fill: none; stroke: #000000; stroke-width: 0.3; stroke-linecap: square"/>
   </g>
   <g id="line2d_193">
    <path d="M375.8 320.2 379.3 319.8 379.8 318.9 378.3 317.9 375.8 316.9 374.3 316.2 370.8 316.4 366.9 316.1 366.4 316.8 363.4 317.4 362.4 318.1 363.4 318.8 365.9 319.1 367.9 319.3 368.9 319.9 372.3 320.5 375.8 320.2" clip-path="url(#p59242a91ff)" style="fill: none; stroke: #000000; stroke-width: 0.3; stroke-linecap: square"/>
   </g>
   <g id="line2d_194">
    <path d="M356 317.5 357.5 318.3 360.4 318 361.9 316.9 363.4 316.5 362.4 315.8 360.9 315.1 356.5 315.1 355.1 315.9 356 317.5" clip-path="url(#p59242a91ff)" style="fill: none; stroke: #000000; stroke-width: 0.3; stroke-linecap: square"/>
   </g>
   <g id="line2d_195">
    <path d="M375.3 314.4 370.8 314.5 366.9 314.7 363.4 314.2 364.9 313.2 369.9 313.5 372.8 313.2 374.8 313.9 375.3 314.4" clip-path="url(#p59242a91ff)" style="fill: none; stroke: #000000; stroke-width: 0.3; stroke-linecap: square"/>
   </g>
   <g id="line2d_196">
    <path d="M365.9 312.5 360.9 313.3 358.5 313 361.9 312 365.9 312.5" clip-path="url(#p59242a91ff)" style="fill: none; stroke: #000000; stroke-width: 0.3; stroke-linecap: square"/>
   </g>
   <g id="line2d_197">
    <path d="M383.2 314 379.8 314 379.3 313.1 382.2 313 383.2 314" clip-path="url(#p59242a91ff)" style="fill: none; stroke: #000000; stroke-width: 0.3; stroke-linecap: square"/>
   </g>
   <g id="line2d_198">
    <path d="M387.7 314.8 384.2 314.6 384.7 314.2 387.2 314.2 387.7 314.8" clip-path="url(#p59242a91ff)" style="fill: none; stroke: #000000; stroke-width: 0.3; stroke-linecap: square"/>
   </g>
   <g id="line2d_199">
    <path d="M384.2 317.4 381.8 317.5 379.3 316.6 380.3 315.6 383.2 315.6 384.2 317.4" clip-path="url(#p59242a91ff)" style="fill: none; stroke: #000000; stroke-width: 0.3; stroke-linecap: square"/>
   </g>
   <g id="line2d_200">
    <path d="M387.2 317.4 385.2 316.9 385.2 315.6 389.7 315.4 390.2 316.4 387.2 317.4" clip-path="url(#p59242a91ff)" style="fill: none; stroke: #000000; stroke-width: 0.3; stroke-linecap: square"/>
   </g>
   <g id="line2d_201">
    <path d="M384.7 320.7 382.2 320.1 383.2 319.5 385.4 319.9 384.7 320.7" clip-path="url(#p59242a91ff)" style="fill: none; stroke: #000000; stroke-width: 0.3; stroke-linecap: square"/>
   </g>
   <g id="line2d_202">
    <path d="M169.6 309 175.5 308.5 184.4 308.5 187.4 309 179.5 309.4 169.6 309" clip-path="url(#p59242a91ff)" style="fill: none; stroke: #000000; stroke-width: 0.3; stroke-linecap: square"/>
   </g>
   <g id="line2d_203">
    <path d="M400.1 325.6 394.1 325.6 394.6 323.9 397.1 323.6 400.1 325.6" clip-path="url(#p59242a91ff)" style="fill: none; stroke: #000000; stroke-width: 0.3; stroke-linecap: square"/>
   </g>
   <g id="line2d_204">
    <path d="M421.1 341.6 427.7 341.7 426.9 339.7 424.9 337.6 422.9 338.7 421.1 341.6" clip-path="url(#p59242a91ff)" style="fill: none; stroke: #000000; stroke-width: 0.3; stroke-linecap: square"/>
   </g>
   <g id="line2d_205">
    <path d="M357.6 340.9 355.5 340.3 352.6 338.4 354 338.7 356.2 339.7 357.6 340.9" clip-path="url(#p59242a91ff)" style="fill: none; stroke: #000000; stroke-width: 0.3; stroke-linecap: square"/>
   </g>
   <g id="line2d_206">
    <path d="M395.6 367.2 398.6 365.9 403.1 366.8 406.3 368.8 403.1 369.1 400.6 367.3 397.6 367 395.6 367.2" clip-path="url(#p59242a91ff)" style="fill: none; stroke: #000000; stroke-width: 0.3; stroke-linecap: square"/>
   </g>
   <g id="line2d_207">
    <path d="M406 370.6 407.7 369.1 410.7 369.3 412.1 370.5 409.5 371.2 406 370.6" clip-path="url(#p59242a91ff)" style="fill: none; stroke: #000000; stroke-width: 0.3; stroke-linecap: square"/>
   </g>
   <g id="line2d_208">
    <path d="M402.3 370.6 404.4 371 403.6 371.2 402.3 370.6" clip-path="url(#p59242a91ff)" style="fill: none; stroke: #000000; stroke-width: 0.3; stroke-linecap: square"/>
   </g>
   <g id="line2d_209">
    <path d="M413.3 370.6 414.9 370.7 413.3 371 413.3 370.6" clip-path="url(#p59242a91ff)" style="fill: none; stroke: #000000; stroke-width: 0.3; stroke-linecap: square"/>
   </g>
   <g id="line2d_210">
    <path d="M411.9 441 415.3 443.2 413 443.8 409.5 442.7 410.7 441.9 411.9 441" clip-path="url(#p59242a91ff)" style="fill: none; stroke: #000000; stroke-width: 0.3; stroke-linecap: square"/>
   </g>
   <g id="line2d_211">
    <path d="M419.4 439.9 422.6 439.7 421.9 440.4 419.4 440.3 419.4 439.9" clip-path="url(#p59242a91ff)" style="fill: none; stroke: #000000; stroke-width: 0.3; stroke-linecap: square"/>
   </g>
   <g id="line2d_212">
    <path d="M325.2 369.5 326.2 369.5 325.7 368.8 325.2 369.5" clip-path="url(#p59242a91ff)" style="fill: none; stroke: #000000; stroke-width: 0.3; stroke-linecap: square"/>
   </g>
   <g id="line2d_213">
    <path d="M191.4 437.4 192.9 437.6 191.9 438.1 191.4 437.4" clip-path="url(#p59242a91ff)" style="fill: none; stroke: #000000; stroke-width: 0.3; stroke-linecap: square"/>
   </g>
   <g id="line2d_214">
    <path d="M123 458.4 130.4 458.2 133.9 459 144.8 458.9 153.7 457.7 156.7 456.8 161.3 457.9 167.6 456.3 175.5 454.4 179.1 454.5 183.4 455.9 190.4 456.3 191.7 458.7 190.4 460.1 192.4 460.3 194.1 458.2 200.6 456.3 210.2 454.7 216.2 455.4 225.1 454.1 235 454.1 241.9 454.9 256.8 454.1 268.1 455.9 279.3 457.7 290.5 459.2 292.9 460.1 285.9 464.3 286.9 466.6 282.2 468.9 285.9 470.8 301.8 472.5 311.2 472.2 326.2 472.7 338.1 473.2 328 470.8 326.2 469.4 333.7 468.9 324.2 467.1 323.3 465.8 335.1 464.3 346.8 463.4 354.2 462 360.9 462 370.2 462.9 379.7 463.4 390.7 461.7 403.1 461.7 409.5 459.6 411.5 457.7 408.5 456.8 413.3 454.9 417 453.1 423.1 451.7 419.9 452.8 417 455.9 419.8 459.6 418.9 462.5 413.3 463.9 404 465.3 404 467.1 414.3 468.5 422.7 470.8 426.4 469.4 437.7 468.9 435.8 467.1 445.2 466.6 451.7 468 463.8 463.4 473.2 459.6 479.9 458.4" clip-path="url(#p59242a91ff)" style="fill: none; stroke: #000000; stroke-width: 0.3; stroke-linecap: square"/>
   </g>
   <g id="patch_12">
    <path d="M123 478 123 299.6" style="fill: none; stroke: #000000; stroke-width: 0.8; stroke-linejoin: miter; stroke-linecap: square"/>
   </g>
   <g id="patch_13">
    <path d="M479.9 478 479.9 299.6" style="fill: none; stroke: #000000; stroke-width: 0.8; stroke-linejoin: miter; stroke-linecap: square"/>
   </g>
   <g id="patch_14">
    <path d="M123 478 479.9 478" style="fill: none; stroke: #000000; stroke-width: 0.8; stroke-linejoin: miter; stroke-linecap: square"/>
   </g>
   <g id="patch_15">
    <path d="M123 299.6 479.9 299.6" style="fill: none; stroke: #000000; stroke-width: 0.8; stroke-linejoin: miter; stroke-linecap: square"/>
   </g>
   <g id="text_45">
    <text style="font-size: 9.5px; font-family: 'DejaVu Sans', sans-serif; text-anchor: start" x="122.96" y="293.57" transform="rotate(-0 122.96 293.57)">MERRA2 Reanalysis (1980-2016)</text>
   </g>
   <g id="text_46">
    <text style="font-size: 9.5px; font-family: 'DejaVu Sans', sans-serif; text-anchor: end" x="479.91" y="293.57" transform="rotate(-0 479.91 293.57)">mbar</text>
   </g>
  </g>
  <g id="axes_4">
   <g id="patch_16">
    <path d="M509.6 454.8 529.5 454.8 529.5 325.8 509.6 325.8Z" style="fill: #ffffff"/>
   </g>
   <g id="patch_17">
    <path d="M509.60 453.80 L509.60 454.80 L519.50 461.30 L529.50 454.80 L529.50 453.80 Z" style="fill: #0030f8"/>
   </g>
   <g id="patch_18">
    <path d="M509.60 326.80 L509.60 325.80 L519.50 319.30 L529.50 325.80 L529.50 326.80 Z" style="fill: #ff2a00"/>
   </g>
   <g shape-rendering="crispEdges" id="QuadMesh_2">
    <path d="M509.6 454.8 529.5 454.8 529.5 446.2 509.6 446.2 509.6 454.8" clip-path="url(#p6719b12ec1)" style="fill: #0030f8"/>
    <path d="M509.6 446.2 529.5 446.2 529.5 437.6 509.6 437.6 509.6 446.2" clip-path="url(#p6719b12ec1)" style="fill: #0a5cc2"/>
    <path d="M509.6 437.6 529.5 437.6 529.5 429 509.6 429 509.6 437.6" clip-path="url(#p6719b12ec1)" style="fill: #0a7490"/>
    <path d="M509.6 429 529.5 429 529.5 420.4 509.6 420.4 509.6 429" clip-path="url(#p6719b12ec1)" style="fill: #3a886a"/>
    <path d="M509.6 420.4 529.5 420.4 529.5 411.8 509.6 411.8 509.6 420.4" clip-path="url(#p6719b12ec1)" style="fill: #409c38"/>
    <path d="M509.6 411.8 529.5 411.8 529.5 403.2 509.6 403.2 509.6 411.8" clip-path="url(#p6719b12ec1)" style="fill: #5aaa10"/>
    <path d="M509.6 403.2 529.5 403.2 529.5 394.6 509.6 394.6 509.6 403.2" clip-path="url(#p6719b12ec1)" style="fill: #8ab418"/>
    <path d="M509.6 394.6 529.5 394.6 529.5 386 509.6 386 509.6 394.6" clip-path="url(#p6719b12ec1)" style="fill: #b0be1e"/>
    <path d="M509.6 386 529.5 386 529.5 377.4 509.6 377.4 509.6 386" clip-path="url(#p6719b12ec1)" style="fill: #dac824"/>
    <path d="M509.6 377.4 529.5 377.4 529.5 368.8 509.6 368.8 509.6 377.4" clip-path="url(#p6719b12ec1)" style="fill: #f8c823"/>
    <path d="M509.6 368.8 529.5 368.8 529.5 360.2 509.6 360.2 509.6 368.8" clip-path="url(#p6719b12ec1)" style="fill: #ffb01a"/>
    <path d="M509.6 360.2 529.5 360.2 529.5 351.6 509.6 351.6 509.6 360.2" clip-path="url(#p6719b12ec1)" style="fill: #fd940e"/>
    <path d="M509.6 351.6 529.5 351.6 529.5 343 509.6 343 509.6 351.6" clip-path="url(#p6719b12ec1)" style="fill: #ff7800"/>
    <path d="M509.6 343 529.5 343 529.5 334.4 509.6 334.4 509.6 343" clip-path="url(#p6719b12ec1)" style="fill: #ff5a00"/>
    <path d="M509.6 334.4 529.5 334.4 529.5 325.8 509.6 325.8 509.6 334.4" clip-path="url(#p6719b12ec1)" style="fill: #ff2a00"/>
   </g>
   <g id="matplotlib.axis_7"/>
   <g id="matplotlib.axis_8">
    <g id="ytick_29">
     <g id="line2d_215"/>
     <g id="text_47">
      <text style="font-size: 9px; font-family: 'DejaVu Sans', sans-serif; text-anchor: end" x="559.50" y="449.62" transform="rotate(-0 559.50 449.62)"> 955.0</text>
     </g>
    </g>
    <g id="ytick_30">
     <g id="line2d_216"/>
     <g id="text_48">
      <text style="font-size: 9px; font-family: 'DejaVu Sans', sans-serif; text-anchor: end" x="559.50" y="441.02" transform="rotate(-0 559.50 441.02)"> 965.0</text>
     </g>
    </g>
    <g id="ytick_31">
     <g id="line2d_217"/>
     <g id="text_49">
      <text style="font-size: 9px; font-family: 'DejaVu Sans', sans-serif; text-anchor: end" x="559.50" y="432.42" transform="rotate(-0 559.50 432.42)"> 975.0</text>
     </g>
    </g>
    <g id="ytick_32">
     <g id="line2d_218"/>
     <g id="text_50">
      <text style="font-size: 9px; font-family: 'DejaVu Sans', sans-serif; text-anchor: end" x="559.50" y="423.82" transform="rotate(-0 559.50 423.82)"> 980.0</text>
     </g>
    </g>
    <g id="ytick_33">
     <g id="line2d_219"/>
     <g id="text_51">
      <text style="font-size: 9px; font-family: 'DejaVu Sans', sans-serif; text-anchor: end" x="559.50" y="415.22" transform="rotate(-0 559.50 415.22)"> 985.0</text>
     </g>
    </g>
    <g id="ytick_34">
     <g id="line2d_220"/>
     <g id="text_52">
      <text style="font-size: 9px; font-family: 'DejaVu Sans', sans-serif; text-anchor: end" x="559.50" y="406.61" transform="rotate(-0 559.50 406.61)"> 990.0</text>
     </g>
    </g>
    <g id="ytick_35">
     <g id="line2d_221"/>
     <g id="text_53">
      <text style="font-size: 9px; font-family: 'DejaVu Sans', sans-serif; text-anchor: end" x="559.50" y="398.01" transform="rotate(-0 559.50 398.01)"> 995.0</text>
     </g>
    </g>
    <g id="ytick_36">
     <g id="line2d_222"/>
     <g id="text_54">
      <text style="font-size: 9px; font-family: 'DejaVu Sans', sans-serif; text-anchor: end" x="559.50" y="389.41" transform="rotate(-0 559.50 389.41)">1000.0</text>
     </g>
    </g>
    <g id="ytick_37">
     <g id="line2d_223"/>
     <g id="text_55">
      <text style="font-size: 9px; font-family: 'DejaVu Sans', sans-serif; text-anchor: end" x="559.50" y="380.81" transform="rotate(-0 559.50 380.81)">1005.0</text>
     </g>
    </g>
    <g id="ytick_38">
     <g id="line2d_224"/>
     <g id="text_56">
      <text style="font-size: 9px; font-family: 'DejaVu Sans', sans-serif; text-anchor: end" x="559.50" y="372.21" transform="rotate(-0 559.50 372.21)">1010.0</text>
     </g>
    </g>
    <g id="ytick_39">
     <g id="line2d_225"/>
     <g id="text_57">
      <text style="font-size: 9px; font-family: 'DejaVu Sans', sans-serif; text-anchor: end" x="559.50" y="363.61" transform="rotate(-0 559.50 363.61)">1015.0</text>
     </g>
    </g>
    <g id="ytick_40">
     <g id="line2d_226"/>
     <g id="text_58">
      <text style="font-size: 9px; font-family: 'DejaVu Sans', sans-serif; text-anchor: end" x="559.50" y="355.00" transform="rotate(-0 559.50 355.00)">1020.0</text>
     </g>
    </g>
    <g id="ytick_41">
     <g id="line2d_227"/>
     <g id="text_59">
      <text style="font-size: 9px; font-family: 'DejaVu Sans', sans-serif; text-anchor: end" x="559.50" y="346.40" transform="rotate(-0 559.50 346.40)">1025.0</text>
     </g>
    </g>
    <g id="ytick_42">
     <g id="line2d_228"/>
     <g id="text_60">
      <text style="font-size: 9px; font-family: 'DejaVu Sans', sans-serif; text-anchor: end" x="559.50" y="337.80" transform="rotate(-0 559.50 337.80)">1035.0</text>
     </g>
    </g>
   </g>
   <g id="LineCollection_2"/>
   <g id="patch_19">
    <path d="M509.6 454.8 519.5 461.3 529.5 454.8 529.5 325.8 519.5 319.3 509.6 325.8 509.6 454.8Z" style="fill: none; stroke: #000000; stroke-width: 0.8; stroke-linejoin: miter; stroke-linecap: square"/>
   </g>
  </g>
  <g id="axes_5">
   <g id="patch_20">
    <path d="M123 703.7 479.9 703.7 479.9 525.2 123 525.2Z" style="fill: #ffffff"/>
   </g>
   <g shape-rendering="crispEdges" id="QuadContourSet_29">
    <path d="M124 703.7 479.9 703.7 479.9 525.2 123 525.2 123 703.7Z" clip-path="url(#p8f56d1408e)" style="fill: #0028ff"/>
   </g>
   <g shape-rendering="crispEdges" id="QuadContourSet_30">
    <path d="M124 703.7 479.9 703.7 479.9 525.2 123 525.2 123 703.7Z" clip-path="url(#p8f56d1408e)" style="fill: #2550fa"/>
   </g>
   <g shape-rendering="crispEdges" id="QuadContourSet_31">
    <path d="M124 703.7 479.9 703.7 479.9 525.2 123 525.2 123 703.7Z" clip-path="url(#p8f56d1408e)" style="fill: #4a6ef8"/>
   </g>
   <g shape-rendering="crispEdges" id="QuadContourSet_32">
    <path d="M124 703.7 479.9 703.7 479.9 525.2 123 525.2 123 703.7ZM240.5 668 238 667.5 235 666.9 234 666.7 233 666.5 232 666.1 231 665.5 230.4 665 229.4 664 228.7 663 228.3 662 228 661.1 227.8 660.1 227.9 659.1 228.4 658.1 229.2 657.1 230 656.3 230.3 656.1 231 655.7 232 655.2 233 655 234 654.9 236 654.8 240 654.7 241 654.6 241.9 654.5 242.9 654.4 245.9 653.9 247.9 653.5 249.3 653.1 250.9 652.8 251.9 652.7 252.9 652.6 253.8 652.6 258.8 652.6 260.8 652.6 261.8 652.7 262.8 652.7 263.8 652.9 265.4 653.1 266.7 653.4 267.7 653.7 269.1 654.1 269.7 654.4 270.8 655.1 271.5 656.1 271.5 657.1 271.3 658.1 270.6 659.1 269.7 660.1 268.7 661.1 267.7 662.1 266.8 663 265.6 664 264.8 664.6 264.1 665 262.8 665.7 261.8 666.1 260.8 666.4 259.8 666.6 257.8 667 255.8 667.3 253.8 667.7 252.4 668 251.9 668.1 250.9 668.1 249.9 668.2 244.9 668.3 243.9 668.3 242.9 668.3 241.9 668.2 241 668.1Z" clip-path="url(#p8f56d1408e)" style="fill: #6e8cf8"/>
   </g>
   <g shape-rendering="crispEdges" id="QuadContourSet_33">
    <path d="M124 703.7 479.9 703.7 479.9 525.2 123 525.2 123 703.7ZM192 694.8 191.4 694.7 190.4 694.4 187.7 693.8 190.4 693.4 191.4 693.3 192.4 693.2 193.4 693.2 201.3 692.9 203.3 692.9 204.6 692.8 209.2 692.7 210.2 692.6 211.2 692.6 212.2 692.7 212.5 692.8 213.2 693.4 213.4 693.8 212.2 694.1 211.2 694.3 210.2 694.4 206.3 694.7 204.8 694.8 202.3 694.8 199.3 694.8 194.4 694.8 192.4 694.8ZM383.3 677.9 381.8 677.9 380.8 677.8 379.8 677.6 376.8 677.2 374.8 676.9 371.8 676.4 370.8 676.2 369.8 675.9 367.9 675.3 366.7 674.9 365.9 674.7 364.9 674.3 363.7 673.9 361.4 673 359.8 672 358.9 671.3 358 670.7 357 670.2 356 669.7 355 669.3 354.2 669 353 668.3 352.7 668 352 667 351.7 666 351.4 665 351 664.5 350.8 664 349.8 663 348.5 662 348 661.7 346.9 661.1 346.1 660.5 345.3 660.1 344.2 659.1 344.2 658.1 345.3 657.1 347.1 656.1 349.1 655.1 350 654.7 351 654.4 352 654.2 353 654.2 355 654.2 358 654.3 358.9 654.3 359.9 654.4 360.9 654.6 361.9 654.9 362.9 655.2 364.9 656.1 366.9 657.1 368.9 658.1 369.9 658.6 370.8 659.1 371.8 659.5 372.8 659.9 373.8 660.2 374.8 660.5 375.8 660.7 377.8 661.1 378.8 661.3 379.8 661.4 380.8 661.5 381.8 661.5 383.7 661.6 387.7 661.6 388.7 661.6 389.7 661.6 390.7 661.7 391.7 661.9 394.6 662.4 396.6 662.6 399.6 662.9 400.6 663.1 404.6 663.8 405.9 664 407.5 664.4 408.5 664.6 409.5 664.7 410.5 664.9 411.5 664.9 413.5 664.9 417.4 664.9 418.4 664.9 419.4 664.9 420.4 665.1 421.4 665.4 422.7 666 423.4 666.4 424.5 667 425.4 667.5 426.5 668 427.4 668.5 428.4 669 429.6 670 430.1 671 430.2 672 429.9 673 429.2 673.9 427.9 674.9 426.2 675.9 425.4 676.2 424.4 676.6 423.4 676.9 422.4 677.1 421.4 677.2 420.4 677.3 419.4 677.3 416.5 677.4 412.5 677.4 410.5 677.4 408.5 677.5 406.5 677.6 404.6 677.7 402.5 677.9 400.6 678 399.6 678 397.6 678 383.7 677.9ZM237.4 672 235 671.7 234 671.6 233 671.5 232 671.2 231 670.7 229.9 670 229.1 669.3 225.1 666.2 224.1 665.4 223.7 665 223.1 664.4 222.8 664 222.1 662.9 221.7 662 221.3 661.1 221 660.1 220.9 659.1 221 658.1 221.3 657.1 221.7 656.1 222.1 655.4 222.3 655.1 223.1 654.4 223.5 654.1 224.1 653.8 225.1 653.4 226.1 653.1 228.1 652.5 230 652.1 231 651.9 232 651.8 233 651.7 235 651.6 239 651.4 241 651.3 241.9 651.2 242.9 651.1 243.9 650.9 245.9 650.5 248.9 649.9 250.9 649.5 251.9 649.3 252.9 649.2 253.8 649.2 259.8 649.1 262.8 649.1 268.7 649.1 269.7 649.1 270.7 649.1 271.7 649 272.7 648.9 273.7 648.7 274.7 648.5 277.6 647.8 279.9 647.2 280.6 647 281.6 646.9 282.6 646.8 283.6 646.7 291.5 646.7 298.5 646.7 299.5 646.7 300.4 646.8 301.4 646.8 302.4 647 303.6 647.2 305.4 647.6 307.3 648.2 308.4 648.6 309.5 649.2 310.7 650.1 311.2 651.1 311.2 652.1 310.9 653.1 310.1 654.1 309.4 654.5 308.2 655.1 307.4 655.3 306.4 655.6 305.4 655.9 304.3 656.1 302.4 656.4 299.5 656.8 297.4 657.1 295.5 657.4 294.5 657.6 293.5 657.8 292.4 658.1 290.5 658.5 289.5 658.7 288.1 659.1 286.6 659.4 285.6 659.6 283.9 660.1 282.6 660.4 281.6 660.6 279.6 661.3 278.6 661.7 277.6 662.2 276.7 662.6 274.7 663.7 272.5 665 270.6 666 268.5 667 266.7 667.8 266.2 668 263.6 669 262.8 669.2 261.8 669.5 260.8 669.7 258.8 670 256.8 670.4 254.8 670.8 252.9 671.2 251.9 671.3 250.9 671.5 248.9 671.6 245.9 671.9 243.9 672 242.9 672.1 241.9 672.2 241 672.2 240 672.1 238 672ZM131.3 668 130.9 667.8 129.9 667.2 128.9 666.5 128.4 666 127.4 665 126.8 664 126.5 663 126.3 662 126.3 661.1 126.5 660.1 126.7 659.1 127.2 658.1 128.2 656.1 128.8 655.1 129.5 654.1 130.6 653.1 130.9 652.9 131.9 652.4 132.9 652.1 133.9 652.1 134.9 652.3 135.9 652.5 138 653.1 140.5 654.1 140.8 654.4 141.8 655.1 142.2 656.1 142.3 657.1 142.4 658.1 142.4 660.1 142.4 661.1 142.3 662 142.1 663 141.8 663.5 141.5 664 140.8 664.7 140.4 665 138.7 666 136.8 667 135.9 667.5 134.7 668 133.9 668.3 132.9 668.4 131.9 668.2Z" clip-path="url(#p8f56d1408e)" style="fill: #94aaf8"/>
   </g>
   <g shape-rendering="crispEdges" id="QuadContourSet_34">
    <path d="M124 703.7 479.9 703.7 479.9 675.2 478.9 675.4 477.9 675.7 476.9 676.2 475.9 676.7 475 677.3 474 678 473 678.6 472.5 678.9 471 679.7 470.6 679.9 470 680.1 469 680.4 468 680.5 464 680.9 461.1 681.1 460.1 681.2 458.1 681.2 453.1 681.3 451.2 681.3 450.2 681.4 449.2 681.5 448.2 681.6 446.2 681.9 445.2 682.1 444.2 682.4 443.2 682.6 440.3 683.6 439.3 683.8 438.3 684 435.3 684.3 434.3 684.4 433.3 684.5 432.3 684.3 432 683.9 431.3 683.3 431.1 682.9 430.3 682 430.3 681.9 429.3 681.1 429.1 680.9 428.4 680.5 427.4 680.1 426.4 679.8 425.4 679.6 424.4 679.5 423.4 679.4 422.4 679.3 421.4 679.2 419.4 679.2 413.5 679.2 411.5 679.3 410.5 679.3 409.5 679.4 408.5 679.5 407.5 679.6 406.5 679.7 404.6 680 403.6 680.3 402.6 680.5 401.2 680.9 400.6 681 399.6 681.1 398.6 681.2 396.6 681.1 389.7 680.8 382.7 680.5 380.8 680.4 378.8 680.3 374.6 679.9 371.8 679.6 370.8 679.5 368.9 679.1 367.6 678.9 363.9 678 362.9 677.7 361.9 677.4 360.7 676.9 358 675.7 357 675.2 355 674.5 353 673.9 352 673.5 350.8 673 350 672.4 349.5 672 348.4 671 347.4 670 346.5 669 345.7 668 344.9 667 343.9 666 342.8 665 341.5 664 340 663 339.1 662.5 338.1 662 337.1 661.5 335.1 660.8 334.2 660.5 333.2 660.2 331.2 659.8 330.2 659.7 329.2 659.6 326.2 659.5 323.3 659.4 321.3 659.3 318.3 659.3 312.3 659.4 308.4 659.5 304.4 659.6 302.4 659.7 301.4 659.7 300.4 659.8 297.5 660.3 295.5 660.6 288.5 662.1 286.6 662.5 283.6 663.2 282.6 663.5 281.6 663.8 280.6 664.1 279.6 664.5 277.6 665.4 275.7 666.3 273.7 667.4 272.7 668 271.7 668.5 270.4 669 267.3 670 263.6 671 261.8 671.4 258.8 672 256.8 672.5 254.8 673 252.9 673.5 251.9 673.7 250.5 673.9 246.9 674.4 243.9 674.8 242.9 674.9 241.9 675 241 675.1 239 675.1 235 675.1 234 675.1 233 675 231.9 674.9 231 674.8 230 674.5 229.1 674.2 228.1 673.9 227.1 673.4 226.1 672.9 225.1 672.3 224.7 672 224.1 671.4 223.1 670.3 222.1 669 221.1 667.6 220 666 219.4 665 218.9 664 218.5 663 218.2 662 217.9 661.1 217.6 660.1 217.5 659.1 217.4 658.1 217.5 657.1 217.7 656.1 218 655.1 218.5 654.1 219.3 653.1 220.1 652.3 221.1 651.6 222.1 651.1 223.1 650.7 224.1 650.5 226.1 650.1 228.1 649.8 230 649.5 232 649.3 234 649.1 239 648.9 241 648.7 241.9 648.6 242.9 648.4 244.9 648 246.9 647.5 248.9 646.9 250.9 646.3 251.9 646.1 252.9 645.9 253.8 645.8 258.8 645.4 268.7 644.7 270.7 644.5 271.7 644.4 273.7 644 278.1 643.2 279.6 642.9 280.6 642.8 281.6 642.6 282.6 642.5 287.6 642.1 290.5 641.9 291.5 641.8 292.5 641.8 294.5 641.8 299.5 641.8 301.4 641.8 303.4 641.9 306.4 642.1 308.4 642.3 311.4 642.6 313.3 642.8 315.3 643.1 317.3 643.4 319.3 643.8 320.3 644 321.3 644.2 322.3 644.5 324.4 645.2 325.2 645.5 326.8 646.2 328.2 646.9 330.2 648 331.2 648.4 332.2 648.7 333.2 648.8 334.2 648.9 337.1 649 338.1 649.1 339.1 649.1 340.1 649 341.1 648.9 342.1 648.6 345.1 647.5 346.1 647.2 347 646.9 348 646.6 349 646.4 350 646.2 351 646.1 352 646 353 646 355.3 646.2 357 646.3 358 646.4 358.9 646.5 359.9 646.8 361 647.2 361.9 647.7 362.9 648.3 364.5 649.2 365.9 649.8 366.9 650.2 367.9 650.6 369.9 651.3 372.8 652.4 373.8 652.7 376.8 653.6 378.8 654.1 379.8 654.5 380.8 654.7 382.2 655.1 383.7 655.5 384.7 655.7 388.7 656.4 389.7 656.6 390.7 656.8 391.7 657.2 392.7 657.6 393.8 658.1 395.6 658.8 396.6 659.2 397.6 659.5 399.8 660.1 402.6 660.7 404.6 661.1 406.5 661.5 408.5 661.8 409.5 661.9 410.5 662 411.5 662 412.5 662 415.5 661.9 418.4 661.7 419.4 661.7 420.4 661.7 421.4 661.8 422.4 661.9 423.5 662 425.4 662.4 426.4 662.7 427.7 663 430.3 663.9 431.3 664.2 433.3 664.8 437.3 665.8 439.3 666.2 440.3 666.4 441.2 666.5 442.2 666.5 456.1 666.5 458.1 666.5 459.1 666.5 460.1 666.5 461.1 666.4 462.1 666.2 464 665.9 465 665.7 466 665.5 467 665.3 469 664.7 470 664.3 471 663.8 472 663.2 473 662.5 474 661.6 474.4 661.1 475 660.4 475.9 658.9 477.1 657.1 478.4 655.1 478.9 654.1 479.9 652.5 479.9 525.2 123 525.2 123 652.5 124 651.1 124.9 650.3 125.2 650.1 125.9 649.8 127.4 649.2 128.9 648.7 129.9 648.5 130.9 648.2 131.9 648.1 132.9 648.1 133.9 648.2 134.9 648.3 136.8 648.8 139 649.2 140.8 649.5 142.8 649.8 144.8 650.2 145.8 650.4 146.8 650.7 148.2 651.1 148.7 651.4 149.7 651.9 150.1 652.1 150.7 652.6 151.3 653.1 151.7 653.7 151.9 654.1 152.3 655.1 152.4 656.1 152.5 657.1 152.4 659.1 152.4 661.1 152.3 662 152.2 663 151.9 664 151.4 665 150.6 666 149.7 667 147.8 669 145.7 671 144.6 672 143.8 672.6 143.2 673 142.8 673.1 141.8 673.5 140.5 673.9 136 674.9 134.9 675.1 133.9 675.3 132.9 675.4 131.9 675.4 130.9 675.4 128.9 675.4 124.9 675.2 124 675.2 123 675.2 123 703.7ZM184.8 695.8 183.4 695.6 182.5 695.5 181.5 695.3 180.5 695.1 179 694.8 177.9 693.8 179.5 693.1 180.2 692.8 181.5 692.6 182.5 692.4 183.4 692.3 187.4 692.1 191.4 691.9 193.4 691.8 200.3 691.6 202.3 691.6 204.3 691.5 207.2 691.3 210.2 691.1 211.2 691 212.2 691 213.2 691.1 214.2 691.3 216.2 691.7 216.7 691.8 218.2 692.3 219.5 692.8 220.1 693.8 219.1 694.2 218 694.8 216.2 695.1 214.2 695.5 213.2 695.6 212.2 695.8 210.2 695.9 204.3 696.1 202.3 696.2 199.3 696.2 194.4 696.2 192.4 696.1 190.4 696.1 185.4 695.8ZM250.3 575.8 250.1 574.8 250.5 573.8 251.8 571.8 251.9 571.6 252.4 570.8 252.7 569.8 252.9 569.2 253 568.8 253.1 567.9 253.2 566.9 253.4 565.9 253.8 565.3 254.3 564.9 254.8 564.6 256.7 563.9 259.8 563 260.8 562.7 261.8 562.5 264.8 562.1 265.8 561.9 267.7 561.6 269.7 561.3 270.7 561.2 271.7 561.2 272.7 561.4 273.6 561.9 273.7 562 274.3 562.9 274.5 563.9 274.4 564.9 274.1 565.9 273.5 566.9 272.7 568 271.7 569 270.7 569.6 269.7 570.1 267.7 571 266.7 571.4 264.8 572.4 263.8 573 262.8 573.5 262.1 573.8 261.8 573.9 259.2 574.8 257.8 575.1 256.8 575.5 255.8 575.8 253.8 576.4 252.9 576.6 251.9 576.6 250.9 576.2ZM179.7 561.9 178.5 561.6 177.5 561.3 176.3 560.9 175.5 560.3 175.2 559.9 175.5 558.9 176.8 557.9 178.8 556.9 180.5 556.3 181.5 556 182.5 555.8 183.4 555.7 184.4 555.6 188.4 555.6 190.4 555.6 191.4 555.7 192.4 555.8 193 556 193.4 556.1 194.4 556.6 195 556.9 195.3 557.4 195.7 557.9 195.7 558.9 195.3 559.3 194.7 559.9 193.4 560.7 192.9 560.9 192.4 561.1 191.4 561.3 190.4 561.5 186.4 561.9 184.4 562.1 183.4 562.1 182.5 562.2 181.5 562.1 180.5 562ZM291.3 558.9 290.5 558.6 289.6 557.9 289.1 556.9 289.2 556 290 555 291.3 554 291.5 553.8 292.5 553.3 293.5 552.9 294.5 552.5 295.5 552 296.5 551.4 297.5 550.7 299.5 549 300.4 548.4 301.4 547.8 302.4 547.5 303.4 547.2 304.4 547 307.4 546.5 309.6 546 313.3 545.5 315.9 545 319.3 544.6 320.3 544.5 321.3 544.4 322.3 544.3 328.2 544.1 330.2 544.1 331.2 544.1 332.2 544.2 333.2 544.3 334.2 544.5 335.1 544.7 336.5 545 337.1 545.4 338.1 546 337.9 547 337.3 548 336.5 549 336.1 549.4 335.7 550 334.9 551 334.2 552 333.2 553.4 332.7 554 332.2 554.6 331.8 555 331.2 555.4 330.2 556 329.2 556.3 327.2 557 326.2 557.3 324.6 557.9 322.3 558.7 321.2 558.9 320.3 559.1 318.3 559.2 315.3 559.5 312.3 559.8 311.4 559.8 310.4 559.9 308.4 559.9 303.4 559.9 301.4 559.8 299.5 559.8 296.5 559.5 294.5 559.4 293.5 559.3 292.5 559.2 291.5 559Z" clip-path="url(#p8f56d1408e)" style="fill: #b8c6fa"/>
   </g>
   <g shape-rendering="crispEdges" id="QuadContourSet_35">
    <path d="M124 703.7 479.9 703.7 479.9 679.1 478.9 679.4 477.9 679.7 475.9 680.5 474 681.3 472.8 681.9 471 682.6 470 683 469 683.1 468 683.3 460.9 683.9 458.1 684 456.1 684.2 454.1 684.4 453.1 684.5 452.1 684.6 450.2 685 449.2 685.3 448.2 685.6 447.2 685.9 446.2 686.3 445.2 686.9 444.2 687.5 443.8 687.8 442.8 688.8 441.8 689.8 441.2 690.3 440.5 690.8 440.3 691 439.3 691.4 438.3 691.8 436.3 692.4 434.9 692.8 432.3 693.2 431.3 693.4 430.3 693.5 429.3 693.6 428.4 693.6 424.4 693.5 423.4 693.5 422.4 693.4 421.4 693.3 420.4 693 420.1 692.8 419.6 691.8 419.8 690.8 420.3 689.8 420.4 689.7 421.4 689.1 422 688.8 423.4 688.4 424.4 688.1 425.4 687.7 426.4 687.1 426.7 686.8 427.4 686.2 427.7 685.8 428.1 684.9 428.1 683.9 427.7 682.9 427.4 682.5 426.7 681.9 426.4 681.7 425.4 681.2 424.3 680.9 423.4 680.7 422.4 680.5 421.4 680.3 420.4 680.2 419.4 680.2 417.4 680.2 413.5 680.3 411.5 680.3 410.5 680.4 409.5 680.5 408.5 680.6 406.5 681 405.5 681.2 404.6 681.5 403.5 681.9 401.6 682.7 400.6 683 399.6 683.2 398.6 683.2 397.6 683.1 393.3 682.9 389.7 682.6 381.8 682.2 378.8 682 370.8 681.3 367.9 681.1 365.9 680.8 363.9 680.6 362.9 680.4 361.9 680.2 360.9 679.9 359.9 679.5 358.9 678.9 357.2 677.9 356 677.3 355 676.9 354 676.5 351 675.4 349.8 674.9 349 674.6 347.8 673.9 346.3 673 345.1 672 342.7 670 341.6 669 340.1 667.5 339.1 666.5 338.1 665.6 337.1 664.8 336 664 335.1 663.6 334 663 333.2 662.7 332.2 662.4 331.2 662.1 330.2 662 329.2 661.8 327.2 661.6 324.2 661.4 322.3 661.2 320.3 661.2 314.3 661.2 311.4 661.2 308.4 661.3 304.4 661.4 302.4 661.5 301.4 661.6 300.4 661.7 298.5 662.1 296.5 662.5 291.5 663.7 290.3 664 287.6 664.6 284.6 665.3 283.6 665.5 282.6 665.8 281.6 666.1 280.6 666.4 279.3 667 277.6 667.8 275.3 669 273.7 669.8 272.7 670.2 271.7 670.5 270.2 671 264.8 672.4 259.8 673.6 257.8 674.2 253.8 675.3 252.9 675.6 251.9 675.8 250.9 676 246.9 676.6 244.9 677 242.9 677.3 241.9 677.4 241 677.4 239 677.5 235 677.4 233 677.4 232 677.4 231 677.3 229.1 677 228.1 676.9 226.1 676.5 225.1 676.3 223.7 675.9 223.1 675.7 222.1 675.3 221.4 674.9 221.1 674.8 220.1 673.9 219.5 673 219 672 218.3 670 217.9 669 217.5 668 216.5 666 216 665 215.6 664 215.2 663 214.8 662 214.5 661.1 214.2 660.1 214.1 659.1 214 658.1 214 657.1 214 656.1 214.2 655.1 214.5 654.1 214.9 653.1 215.5 652.1 216.4 651.1 217.2 650.5 217.6 650.1 218.2 649.8 219.2 649.2 220.1 648.7 221.1 648.4 222.1 648.1 223.1 647.9 224.1 647.7 227.1 647.4 230 647.1 232 647 239 646.6 240 646.5 241 646.4 241.9 646.3 242.9 646.1 243.9 645.8 244.9 645.5 245.9 645.2 247.9 644.5 249.9 643.7 250.9 643.4 251.9 643.1 252.9 642.9 255.8 642.5 257.8 642.1 260.8 641.6 261.8 641.4 262.8 641.3 263.8 641.2 269.7 641 270.7 640.9 271.7 640.9 272.7 640.7 274.7 640.4 278.6 639.8 281.8 639.2 283.6 639 287.6 638.5 290 638.2 291.5 638.1 292.5 638.1 297.5 638.1 300.4 638.1 302.4 638.1 309.4 638.4 311.4 638.4 319.3 638.5 320.3 638.5 321.3 638.5 322.3 638.6 324.2 638.8 327.7 639.2 333.6 640.2 337.1 641 339.1 641.3 340.1 641.5 341.1 641.6 342.1 641.6 343.1 641.6 348 641.4 350 641.3 352 641.2 357 641.2 358.9 641.3 359.9 641.3 360.9 641.4 361.9 641.7 362.9 642 363.9 642.4 364.9 642.9 365.9 643.5 366.9 644.2 368.3 645.2 369.9 646.2 370.8 646.7 371.8 647.2 373.9 648.2 376.1 649.2 377.8 649.8 378.8 650.2 380.8 650.8 382.7 651.3 384.7 651.8 387.7 652.4 390.7 653 391.7 653.2 392.7 653.5 394.7 654.1 396.6 654.8 397.6 655.2 398.6 655.7 399.6 656.2 401.3 657.1 402.6 657.7 403.6 658.2 404.6 658.5 405.5 658.8 406.5 659.1 407.5 659.4 408.5 659.6 409.5 659.8 410.5 659.9 411.5 659.9 412.5 659.8 415.5 659.6 418.4 659.4 419.4 659.3 420.4 659.3 421.4 659.2 423.4 659.3 427.4 659.4 429.3 659.5 430.3 659.5 431.3 659.7 432.3 659.8 433.8 660.1 436.3 660.6 438.3 661.1 439.3 661.3 440.3 661.4 441.2 661.5 442.2 661.5 456.1 661.5 458.1 661.5 459.1 661.5 460.1 661.4 461.1 661.3 462.1 661 466 660.1 467 659.8 468 659.5 469 659.2 470 658.7 471 658 472 657.1 473 656 474 654.8 475 653.6 476 652.1 476.6 651.1 477.8 649.2 478.4 648.2 478.9 647.6 479.9 646.7 479.9 635.5 479.7 635.3 479.1 634.3 478.9 633.8 478.8 633.3 478.6 632.3 478.5 631.3 478.4 630.3 478.2 629.3 477.9 628.3 477.5 627.3 476.1 624.4 475 621.8 474.3 620.4 473.9 619.4 473.8 618.4 473.9 617.4 474.2 616.4 474.9 615.4 476.1 614.5 476.9 614 477.9 613.6 478.9 613.4 479.9 613.4 479.9 525.2 123 525.2 123 613.4 124 613.6 126.2 614.5 126.9 614.8 127.9 615.2 128.9 615.5 130.9 616.4 131.9 617.1 132.2 617.4 132.9 618.5 133.1 619.4 133.2 620.4 133 621.4 132.9 622.1 132.5 623.4 132.2 624.4 132 625.4 131.9 626.7 131.8 627.3 131.6 628.3 131.3 629.3 130.9 630.1 129.9 631.4 128.9 632.6 128.4 633.3 127.6 634.3 126.9 634.9 126.4 635.3 125.9 635.5 124.9 635.9 124 636 123 635.5 123 646.7 124 646.1 124.9 645.8 125.9 645.6 128.4 645.2 129.9 644.9 130.9 644.8 131.9 644.8 132.9 645 133.4 645.2 133.9 645.3 136.2 646.2 137.8 646.7 138.8 646.9 140.8 647.3 141.8 647.5 142.8 647.6 143.8 647.7 144.8 647.7 148.7 647.7 150.7 647.6 151.7 647.7 152.7 647.7 153.7 647.8 154.7 648.1 155.1 648.2 155.7 648.4 156.7 648.9 157 649.2 157.7 649.8 157.9 650.1 158.5 651.1 158.8 652.1 159 653.1 159.2 654.1 159.3 655.1 159.3 656.1 159.3 657.1 159.2 658.1 159.1 659.1 158.8 660.1 158.2 662 157.5 664 157.1 665 156.7 666 155.7 668.1 154.7 670.2 154.3 671 153.7 672 152.9 673 152.7 673.1 151.5 673.9 149.3 674.9 146.6 675.9 144.8 676.5 143.2 676.9 141.8 677.2 139.8 677.5 136.1 677.9 133.9 678.1 128.9 678.4 126.9 678.6 124.9 678.8 124 678.9 123 679.1 123 703.7ZM183 696.7 181.5 696.6 179.5 696.3 177.5 696 176 695.8 173.5 695.1 172.3 694.8 171.5 694.3 170.7 693.8 171.5 693.4 172.5 693 173.1 692.8 175.5 692.3 177.5 691.9 178.5 691.8 180.5 691.5 182.5 691.4 184.4 691.3 191.4 690.9 196.3 690.8 200.3 690.7 202.3 690.6 204.3 690.4 207.2 690.2 210.2 689.8 211.2 689.8 212.2 689.7 213.2 689.8 214.2 689.9 216.2 690.2 218.2 690.5 219.6 690.8 221.1 691.2 222.1 691.5 222.8 691.8 223.1 691.9 224.4 692.8 224.7 693.8 224.1 694.4 223.7 694.8 223.1 695 222.1 695.4 221.1 695.6 220.1 695.8 218.2 696.1 216.2 696.4 214.2 696.6 212.2 696.8 210.2 696.9 204.3 697.2 202.3 697.2 199.3 697.3 194.4 697.3 192.4 697.2 190.4 697.2 184.4 696.8 183.4 696.8ZM211.4 598.6 211.2 598.3 211 597.6 210.8 596.6 210.9 595.6 211.2 594.9 211.6 594.6 212.2 594.4 212.8 594.6 213.2 594.9 213.6 595.6 213.8 596.6 213.7 597.6 213.4 598.6 213.2 598.9 212.2 599.2ZM240.6 595.6 240 594.9 239.8 594.6 239.8 593.6 240 593.2 240.3 592.6 241 591.7 241.9 591 242.9 591.5 243.5 592.6 243.7 593.6 243.5 594.6 242.9 595.5 242.7 595.6 241.9 596 241 595.8ZM242.4 587.7 241.9 587.3 241.8 586.7 241.7 585.7 241.7 584.7 241.8 583.7 241.9 583.2 242.5 581.7 242.8 580.7 243 579.7 243 578.8 243 577.8 243 576.8 243.4 575.8 244.3 574.8 244.9 574.4 246.9 573 247.9 572.2 248.2 571.8 248.9 570.8 249.3 569.8 249.4 568.8 249.4 567.9 249.3 565.9 249.3 564.9 249.4 563.9 249.7 562.9 249.9 562.6 250.3 561.9 250.9 561.2 251.2 560.9 251.9 560.5 252.9 560.1 253.8 559.9 254.8 559.7 256.8 559.5 261.8 559.1 269.7 558.2 272.7 557.9 274.7 557.8 275.7 557.6 276.7 557.5 277.6 557.3 278.6 557.1 279.6 556.8 280.6 556.5 281.6 556 282.6 555.6 283.7 555 284.6 554.6 285.8 554 286.6 553.6 287.7 553 288.5 552.5 289.3 552 290.5 550.9 291.5 550 292.3 549 292.5 548.7 293.5 547.6 294.2 547 294.5 546.8 295.7 546 296.5 545.7 298.2 545 299.5 544.7 300.4 544.5 301.4 544.3 302.8 544.1 311.8 543.1 319.3 542.3 321.3 542.1 329.2 541.6 330.2 541.6 331.2 541.5 332.2 541.5 334.2 541.6 339.1 541.8 343.1 542 345.1 542.1 349 542.5 350 542.5 351 542.5 352 542.4 353 542.2 355 541.6 356 541.3 356.6 541.1 359.9 540.3 361.1 540.1 361.9 540 363.9 539.9 367.9 539.8 368.9 539.8 369.9 539.8 370.8 539.8 371.8 540 372.4 540.1 372.8 540.2 373.8 540.6 374.7 541.1 375.5 542.1 375.6 543.1 375.3 544.1 374.3 545 373.8 545.3 372.8 545.8 372.2 546 371.8 546.2 370.8 546.4 369.9 546.5 368.9 546.6 362.9 546.6 358 546.5 354 546.5 353 546.5 352 546.6 351 546.7 350 546.9 349 547.3 348 547.7 347 548.2 346.1 548.8 345.1 549.4 344.1 550.1 341.7 552 340.1 553.2 339.1 554 338.1 555 336.9 556 335.6 556.9 334.2 557.9 333.2 558.5 332.2 559 331.2 559.3 330.2 559.6 328.9 559.9 325.2 560.6 323.3 560.9 321.3 561.2 316.3 561.6 313.3 561.9 311.4 562.1 310.4 562.1 308.4 562.2 302.4 562.2 299.5 562.2 294.5 562.3 292.5 562.4 290.5 562.5 288.5 562.6 287.6 562.8 286.6 562.9 285.6 563.1 284.6 563.4 283.6 563.7 283.3 563.9 282.6 564.3 281.9 564.9 281.6 565.2 280.6 566.4 279.6 567.9 278.8 568.8 277.9 569.8 276.8 570.8 275.6 571.8 274.3 572.8 272.7 573.9 271.7 574.4 270.7 574.9 268.4 575.8 265.7 576.8 262.8 577.8 259.7 578.8 257.8 579.5 256.8 579.9 254.8 580.8 253.8 581.2 252.9 581.6 251.9 582 250.9 582.3 249.4 582.7 248.9 582.9 247.9 583.4 247.5 583.7 246.9 584.3 245.7 585.7 244.8 586.7 243.9 587.5 243.6 587.7 242.9 588.1ZM170.9 565.9 170.6 565.8 169.6 565.4 168.5 564.9 166.9 563.9 165.7 562.9 164.7 561.9 164.1 560.9 163.8 559.9 164.1 558.9 164.7 557.9 165.7 556.9 166.9 556 168.6 554.9 169.6 554.5 170.8 554 171.5 553.7 172.5 553.5 173.5 553.2 174.8 553 179.5 552.2 180.7 552 181.5 551.9 182.5 551.8 183.4 551.7 185.4 551.7 190.4 551.7 192.4 551.7 194.4 551.8 197.3 552 199.3 552.2 200.3 552.3 201.3 552.4 202.3 552.6 204.3 553 206.3 553.3 208.2 553.7 210.7 554 212.2 554.3 213.2 554.6 214.1 555 213.2 555.8 213 556 211.2 556.5 209.9 556.9 209.2 557.2 208.2 557.5 206.3 558.5 205.5 558.9 204.3 559.5 203.3 559.9 201.3 560.6 200.3 561 199.3 561.3 198.3 561.7 197.3 562.1 196.3 562.5 194.4 563.4 193.4 563.9 192.4 564.3 191.4 564.6 190 564.9 186.4 565.4 183.4 565.8 182.5 565.9 181.5 566 175.5 566.3 174.5 566.3 173.5 566.3 172.5 566.2 171.5 566.1Z" clip-path="url(#p8f56d1408e)" style="fill: #dce2fc"/>
   </g>
   <g shape-rendering="crispEdges" id="QuadContourSet_36">
    <path d="M124 703.7 479.9 703.7 479.9 681.2 478.9 681.5 476.9 682.2 475.4 682.9 472.8 683.9 472 684.1 471 684.3 470 684.5 469 684.7 468 684.8 466 684.9 462.1 685.1 460.1 685.3 459.1 685.4 458.1 685.5 457.1 685.6 455.1 686 454.1 686.2 453.1 686.4 451.9 686.8 451.2 687.2 449.9 687.8 448.5 688.8 447.7 689.8 447.1 690.8 446.3 691.8 445.2 692.5 444.7 692.8 443.2 693.2 442.2 693.4 440.6 693.8 436.3 694.3 432.5 694.8 431.3 694.9 430.3 694.9 428.4 695 423.4 695 422.4 694.9 421.4 694.9 420.2 694.8 419.4 694.6 418.4 694.2 417.6 693.8 416.8 692.8 416.9 691.8 417.2 690.8 417.7 689.8 418.6 688.8 419.4 688.3 420.4 687.8 422.4 687.1 423.4 686.7 424.4 686.2 424.9 685.8 425.4 685.4 425.8 684.9 425.9 683.9 425.3 682.9 424.4 682.2 423.7 681.9 422.4 681.5 421.4 681.3 420.4 681.1 419.4 681.1 418.4 681.1 413.5 681.1 411.5 681.2 410.5 681.3 409.5 681.4 408.5 681.6 407.3 681.9 406.5 682.1 405.5 682.5 404.5 682.9 402.5 683.9 401.6 684.3 400.6 684.5 399.6 684.7 398.6 684.7 396.6 684.5 392.7 684.2 389.7 684.1 384.7 683.8 379.8 683.6 371.8 683 369.9 682.9 365.9 682.8 363.9 682.7 362.9 682.6 361.9 682.5 360.9 682.4 359.9 682.2 358.8 681.9 358 681.5 356.8 680.9 356 680.3 355.5 679.9 355 679.6 354 678.8 352.3 677.9 350 676.9 347.6 675.9 345.5 674.9 343.7 673.9 342.1 672.9 340.9 672 339.8 671 338.8 670 337.1 668.3 336.1 667.3 335.1 666.5 334.2 665.8 333.2 665.2 332.2 664.7 331.2 664.3 330.2 664 329.2 663.8 327.2 663.4 324.2 663 322.3 662.8 321.3 662.7 320.3 662.7 317.3 662.7 313.3 662.7 311.4 662.7 309.4 662.8 304.4 663 302.4 663.2 301.4 663.3 300.4 663.5 299.5 663.7 296.5 664.4 293.5 665.2 287.6 666.5 285.5 667 283.6 667.5 282.6 667.8 281.6 668.1 280.6 668.6 279.6 669 277.6 670 276.7 670.4 275.4 671 273.7 671.6 272.7 672 271.7 672.3 267.7 673.4 265.6 673.9 261.8 675 255 676.9 252.9 677.5 251.9 677.7 250.6 677.9 246.9 678.5 243.9 678.9 242.9 679 241.9 679.1 241 679.1 239 679.1 233 679 231 679 229.9 678.9 227.1 678.7 225.1 678.5 223.1 678.3 222.1 678.2 220.8 677.9 220.1 677.7 219.1 677.4 218.1 676.9 217.2 676.3 216.6 675.9 216.2 675.5 215.7 674.9 215 673.9 214.7 673 214.5 672 214.1 670 213.9 669 213.6 668 213.2 667 212.7 666 212.2 664.9 211.8 664 211.2 662.7 210.9 662 210.5 661.1 210.2 660.1 209.9 659.1 209.8 658.1 209.7 657.1 209.7 656.1 209.8 655.1 209.9 654.1 210.2 653 210.6 652.1 211.1 651.1 211.7 650.1 212.6 649.2 213.2 648.7 213.9 648.2 215.2 647.5 216.2 647.1 217.2 646.7 218.2 646.4 219.1 646.1 220.1 645.9 221.1 645.7 222.1 645.5 223.1 645.4 226.1 645.1 231 644.7 239 644.2 240 644.1 241 644 241.9 643.8 242.9 643.5 243.9 643.2 246.9 642.1 247.9 641.7 249.9 641 250.9 640.7 251.9 640.5 253.8 640 257.4 639.2 258.8 638.9 259.8 638.8 260.8 638.6 261.8 638.5 262.8 638.4 264.8 638.3 268.7 638.1 270.7 638.1 271.7 638 272.7 637.8 273.7 637.7 275.9 637.3 277.6 636.9 280.6 636.2 281.6 636 282.6 635.8 283.6 635.8 285.6 635.6 289.5 635.5 291.5 635.4 294.5 635.4 299.5 635.4 301.4 635.5 303.4 635.6 307.4 635.9 309.4 636.1 311.4 636.2 313.3 636.2 319.3 636.2 322.3 636.3 325.2 636.4 330.2 636.7 332.2 636.7 340.1 636.8 348 636.7 350 636.8 351 636.8 353 637 356.1 637.3 358.9 637.5 359.9 637.6 360.9 637.7 361.9 637.8 364.5 638.2 366.9 638.8 367.9 639 368.9 639.3 369.9 639.7 370.9 640.2 372 641.2 373 642.2 373.8 642.9 374.8 643.6 375.8 644.2 376.8 644.7 378.8 645.7 381.8 647.2 384 648.2 385.7 648.8 386.7 649.2 388.7 649.8 390.1 650.1 391.7 650.5 393.6 650.8 395.6 651.3 397.6 651.7 398.6 652 399.6 652.3 400.6 652.7 401.6 653.2 403 654.1 404.6 655.2 405.5 655.7 406.5 656.3 407.5 656.7 408.5 657.1 409.5 657.4 410.5 657.6 411.5 657.6 412.5 657.6 418.4 657.2 421.4 657.1 426.4 656.8 429.3 656.7 431.3 656.6 451.2 656.6 457.1 656.6 458.1 656.6 459.1 656.6 460.1 656.5 461.1 656.3 463.1 655.9 466.4 655.1 468 654.7 469 654.4 470 653.9 471 653.3 472 652.4 473.1 651.1 473.8 650.1 474.4 649.2 475.6 647.2 476.7 645.2 477.3 644.2 477.6 643.2 477.8 642.2 477.8 641.2 477.8 640.2 477.6 639.2 477.2 638.2 476.4 636.3 476.1 635.3 475.8 634.3 475.6 633.3 475.2 631.3 475 630.3 474.8 629.3 474.4 628.3 473.9 627.3 473 625.8 472 624.4 471 623.2 470 622.3 469 621.6 468.7 621.4 468 621 467 620.4 465.9 619.4 465.4 618.4 465.1 617.4 465.1 616.4 465.3 615.4 465.7 614.5 466 614 466.6 613.5 467 613.2 468 612.7 469 612.2 470 611.9 472 611.2 473 611 474 610.7 475 610.5 475.9 610.3 476.9 610.2 477.9 610.1 478.9 610.1 479.9 610.2 479.9 525.2 123 525.2 123 610.2 124 610.6 125.9 611.6 126.9 612.1 127.9 612.5 128.9 612.9 130.9 613.5 131.9 613.9 132.9 614.4 133 614.5 133.9 615.2 134.1 615.4 134.7 616.4 135.1 617.4 135.4 618.4 135.6 619.4 135.6 620.4 135.5 621.4 135.3 623.4 135.1 624.4 135.1 625.4 135 628.3 135 629.3 134.9 630.5 134.4 633.3 134.3 634.3 134.3 635.3 134.3 636.3 134.3 637.3 134.4 638.2 134.6 639.2 134.9 640.4 135.2 641.2 135.6 642.2 136.3 643.2 136.8 643.6 137.6 644.2 138.8 644.8 139.8 645.2 140.8 645.5 141.8 645.7 142.8 645.9 143.8 645.9 144.8 645.8 145.8 645.7 147.8 645.5 151.7 644.8 154.7 644.4 156.7 644.1 157.7 643.9 158.7 643.6 161.6 642.6 162.6 642.4 163.6 642.6 164.6 642.9 165.1 643.2 165.6 643.6 166.2 644.2 166.7 645.2 166.7 646.2 166.2 648.2 166.1 649.2 166 650.1 165.9 653.1 165.8 654.1 165.5 656.1 165.4 657.1 165.1 658.1 164.9 659.1 164.5 660.1 164.1 661.1 161.6 666 161.2 667 160.6 668.2 160.4 669 160.1 670 159.7 672 159.4 673 158.8 673.9 157.8 674.9 156.7 675.7 156.2 675.9 155.7 676.1 154.7 676.5 153.6 676.9 149.7 677.9 146.8 678.5 144.5 678.9 142.8 679.1 140.8 679.2 133.9 679.7 131.9 679.8 129.9 680 127.9 680.2 125.9 680.5 124.9 680.7 124 680.9 123 681.2 123 703.7ZM181.9 697.7 179.5 697.5 177.5 697.3 175.5 697 171.5 696.5 166.6 695.8 165.6 695.7 163.6 695.4 161.6 695.1 159.1 694.8 155.7 694 154.7 693.8 155.6 692.8 157.7 692.5 160.6 692.2 164.2 691.8 166.6 691.6 171.5 691.4 173.5 691.2 176.5 690.9 178.5 690.7 181.5 690.5 184.4 690.3 191.4 690 199.3 689.8 201.3 689.7 203.3 689.5 205.3 689.3 210.2 688.7 211.2 688.6 212.2 688.6 213.2 688.6 214.2 688.6 216.2 688.9 218.2 689.1 220.1 689.4 221.1 689.6 222.1 689.8 223.1 690.1 224.1 690.5 225.1 690.9 226.1 691.4 226.8 691.8 228.1 692.8 228.4 693.8 227.8 694.8 227.1 695.2 225.9 695.8 225.1 696 224.1 696.3 223.1 696.6 222.1 696.8 221.1 697 219.1 697.2 216.2 697.5 213.2 697.8 211.2 697.9 204.3 698.2 202.3 698.3 199.3 698.3 194.4 698.3 192.4 698.3 190.4 698.2 184.4 697.9 182.5 697.8ZM211.1 602.6 210.2 602 209.8 601.6 209.2 600.8 209.1 600.6 208.7 599.6 208.5 598.6 208.4 597.6 208.4 596.6 208.5 595.6 208.7 594.6 209.3 593.6 210.2 592.7 210.4 592.6 211.2 592.2 212.2 592.1 213.2 592.4 213.7 592.6 214.2 593 214.9 593.6 215.6 594.6 216.1 595.6 216.4 596.6 216.6 597.6 216.7 598.6 216.8 599.6 216.6 600.6 216.2 601.3 216 601.6 215.2 602.3 214.2 602.8 213.2 603 212.2 603 211.2 602.7ZM239.2 600.6 238 600 237 599.5 236 598.8 235.7 598.6 235 598 234.6 597.6 234 597 233.7 596.6 233.2 595.6 233 594.6 233.2 593.6 233.6 592.6 234.2 591.6 235.1 590.7 236.1 589.7 237 588.8 237.9 587.7 238.4 586.7 238.7 585.7 239 584.7 239.5 582.7 239.7 581.7 240 580.5 240.1 579.7 240.2 578.8 240.3 576.8 240.5 575.8 240.9 574.8 241.9 573.8 243.9 572.6 244.9 572 245.2 571.8 245.9 571.1 246.2 570.8 246.8 569.8 247 568.8 247 567.9 246.8 566.9 246.3 564.9 246.2 563.9 245.9 561.9 245.7 560.9 245.7 559.9 245.9 559.3 246.1 558.9 246.9 558 247.9 557.5 248.9 557.1 249.9 556.9 250.9 556.8 251.9 556.7 252.9 556.7 258.8 556.9 260.8 556.9 261.8 556.9 262.8 556.8 264.8 556.6 269.7 556.1 271.7 555.9 272.7 555.7 273.7 555.5 274.7 555.3 276.7 554.8 279.6 554.1 281.6 553.6 282.6 553.3 283.6 552.9 284.6 552.5 285.6 552 286.6 551.3 287 551 287.9 550 288.3 549 288.5 548 288.6 547 288.8 546 289.6 545 290.5 544.5 291.5 544 292.5 543.7 293.5 543.5 295.5 543.1 297.5 542.7 299.5 542.4 301.7 542.1 304.4 541.8 311.8 541.1 317.3 540.6 321.3 540.3 324.2 540.1 329.2 539.8 331.2 539.7 333.2 539.7 348 539.8 350 539.8 351 539.7 352 539.6 353 539.5 355.4 539.1 358.9 538.6 360.9 538.4 362.9 538.2 368.9 537.8 369.9 537.8 370.8 537.7 371.8 537.8 372.8 537.8 375.4 538.1 376.8 538.3 377.8 538.5 378.8 538.7 379.8 538.9 380.2 539.1 380.8 539.4 381.6 540.1 381.8 540.3 382.2 541.1 382.5 542.1 382.7 543.1 382.8 544.1 382.7 545 382.2 546 381.8 546.6 381.2 547 380.8 547.3 379.8 547.8 378.8 548.2 377.8 548.5 376.8 548.7 375.6 549 373.8 549.4 372.8 549.5 371.8 549.7 370.8 549.8 369.9 549.8 367.9 549.8 362.9 549.8 360.9 549.9 358 549.9 355 550 354 550.1 353 550.2 352 550.3 351 550.5 350 551 349 551.6 348 552.3 347 553 345.8 554 344.1 555.3 343.1 556.1 341.9 556.9 340.5 557.9 339 558.9 338.1 559.4 337 559.9 336.1 560.2 335.1 560.6 334 560.9 333.2 561.1 332.2 561.3 330.2 561.7 328.2 561.9 325.2 562.3 322.3 562.7 319.3 563 316.3 563.4 312.7 563.9 311.4 564.1 310.4 564.1 308.4 564.2 303.4 564.3 301.4 564.4 299.5 564.5 296.3 564.9 293.5 565.4 292.5 565.6 291.5 565.9 290.5 566.4 289.7 566.9 288.5 567.9 287.4 568.8 286 569.8 284.4 570.8 283.6 571.3 282.6 571.8 281.6 572.4 280.6 573.1 278.2 574.8 276.6 575.8 275.7 576.3 274.7 576.8 273.7 577.3 271.7 578.2 270.2 578.8 268.7 579.4 267.7 579.8 266.7 580.3 265.7 580.7 264.8 581.2 261.8 582.4 260.8 582.8 259.2 583.7 257.7 584.7 256.6 585.7 254.8 587.6 253.6 588.7 252.9 589.2 251.9 590.1 251.3 590.7 250.9 591.2 250.6 591.6 249.9 593 249.6 593.6 249.2 594.6 248.6 595.6 247.9 596.7 247.2 597.6 246.3 598.6 245.9 599 244.9 599.8 243.9 600.5 242.9 600.9 241.9 601.1 241 601.1 240 600.9ZM168.6 568.8 166.6 568.4 164.4 567.9 163.6 567.6 162.6 567.2 161.6 566.8 159.9 565.9 158.5 564.9 157.5 563.9 156.9 562.9 156.6 561.9 156.4 560.9 156.3 559.9 156.4 558.9 156.6 557.9 156.9 556.9 157.5 556 158.5 555 159.9 554 161.8 553 162.6 552.6 163.6 552.2 164.6 551.8 165.6 551.6 167.8 551 169.6 550.6 171.5 550.2 173.5 549.9 175.5 549.6 178.5 549.2 180.5 549 181.5 548.9 182.5 548.9 183.4 548.8 191.4 548.8 193.4 548.8 197.3 548.6 200.3 548.5 201.3 548.5 202.3 548.6 203.3 548.7 204.3 549 207.6 550 209.2 550.5 210.2 550.7 211.2 550.9 212.2 551.1 213.2 551.2 215.2 551.3 219.1 551.5 221.1 551.6 222.1 551.7 223.1 551.8 224.4 552 225.1 552.1 226.1 552.3 227.1 552.6 228.3 553 229.1 553.4 229.8 554 229.8 555 228.4 556 227.1 556.4 226.1 556.6 224.9 556.9 222.1 557.4 220.1 557.8 217.2 558.4 214.7 558.9 213.2 559.2 212.2 559.5 211.2 559.7 209.2 560.3 208.2 560.6 207.2 560.9 205.3 561.5 202.3 562.4 200.3 563.1 199.3 563.4 198.3 563.9 197.3 564.3 194.3 565.9 193.4 566.3 192.4 566.6 191.4 566.9 190.4 567.1 187.4 567.6 185.4 568 183.4 568.4 182.5 568.6 181.5 568.7 179.5 568.9 176.5 569.2 174.5 569.4 173.5 569.4 172.5 569.4 171.5 569.3 170.6 569.2 168.6 568.8Z" clip-path="url(#p8f56d1408e)" style="fill: #ffffff"/>
   </g>
   <g shape-rendering="crispEdges" id="QuadContourSet_37">
    <path d="M124 703.7 479.9 703.7 479.9 683 477.4 683.9 475.9 684.4 474.3 684.9 473 685.2 472 685.4 471 685.6 470 685.7 468.9 685.8 467 686 462.1 686.2 461.1 686.3 460.1 686.4 459.1 686.5 457.5 686.8 456.1 687.2 455.1 687.5 454.4 687.8 453.1 688.6 452.8 688.8 452 689.8 451.6 690.8 451.3 691.8 450.9 692.8 450.2 693.4 449.6 693.8 449.2 693.9 448.2 694.2 447.2 694.4 445.2 694.7 444.2 694.8 436.3 695.5 433.3 695.8 431.3 695.9 430.3 696 428.4 696 423.4 696 422.4 696 421.4 696 420.4 695.9 419.4 695.8 418.4 695.6 417.4 695.3 416.5 695 415.8 694.8 415.5 694.6 414.5 693.9 414.2 693.8 414 692.8 414.4 691.8 415 690.8 415.6 689.8 416.3 688.8 417.5 687.8 418.4 687.3 419.6 686.8 421.4 686.2 422.2 685.8 422.4 685.7 423.5 684.9 423.8 683.9 423.4 683.4 422.9 682.9 422.4 682.6 421.4 682.2 420.4 682 419.4 681.9 418.4 681.9 414.5 681.9 412.5 682 411.5 682 410.5 682.1 409.5 682.3 408.5 682.6 407.5 682.9 406.5 683.3 405.4 683.9 404.6 684.3 403.5 684.9 402.6 685.3 401.6 685.6 400.6 685.8 399.6 685.9 398.2 685.8 392.7 685.4 390.7 685.3 380.8 684.9 371.8 684.4 369.9 684.4 362.9 684.3 360.9 684.2 358.9 684.1 357 683.9 356 683.8 355 683.7 354 683.5 353 683.2 352.2 682.9 352 682.7 351.2 681.9 350.8 680.9 350.3 679.9 349.2 678.9 348 678.2 347.6 677.9 346.1 677.2 343.1 675.8 342.1 675.3 341.1 674.8 340.1 674.2 339.7 673.9 338.5 673 337.1 671.6 335.1 669.7 334.2 668.8 333.2 667.9 332.2 667.3 331.2 666.7 330.2 666.3 329.2 666 328.2 665.7 326.2 665.2 325.2 665 323.3 664.6 322.3 664.4 321.3 664.3 320.3 664.3 318.3 664.2 313.3 664.2 311.4 664.3 309.4 664.4 305.4 664.7 303.4 664.9 302.3 665 301.4 665.2 300.4 665.3 296.5 666.3 291.5 667.4 289 668 286.6 668.7 285.4 669 283.6 669.6 282.5 670 281.6 670.4 278.6 671.7 277.6 672.1 276.7 672.5 274.7 673.2 273.7 673.5 270.7 674.5 267.7 675.3 265.6 675.9 261.8 676.9 257.8 677.9 254.8 678.6 253.3 678.9 251.9 679.1 246.4 679.9 243.9 680.2 242.9 680.3 241.9 680.4 241 680.4 239 680.4 233 680.2 226.1 680 223.1 679.9 222.1 679.8 221.1 679.7 219.1 679.5 217.2 679.2 215.6 678.9 214.2 678.5 212.1 677.9 209.8 676.9 209.2 676.5 208.6 675.9 207.9 674.9 207.5 673.9 207.3 673 207.2 671 207.1 670 207 669 206.7 668 206.1 666 205.8 665 205.6 664 205.2 662 205.1 661.1 204.9 660.1 204.8 659.1 204.8 658.1 204.8 656.1 204.8 655.1 204.8 654.1 204.9 653.1 205.1 652.1 205.3 651 205.5 650.1 206 649.2 206.7 648.2 207.7 647.2 208.2 646.7 209 646.2 210.2 645.5 210.8 645.2 211.2 645 212.2 644.7 213.2 644.4 214.2 644.2 216.2 643.8 219.1 643.4 221.1 643.1 223.1 642.9 229.1 642.3 232 642 236 641.6 239 641.2 240 641.1 241 640.9 241.9 640.6 243.1 640.2 244.9 639.5 246.9 638.7 247.9 638.4 248.9 638.1 249.9 637.9 250.9 637.7 253.8 637.2 255.8 636.9 257.8 636.6 259.8 636.4 262.8 636.1 266.7 635.8 268.7 635.6 270.7 635.4 271.7 635.2 272.7 635 273.7 634.6 274.7 634.3 276.5 633.3 277.7 632.3 278.8 631.3 279.6 630.6 280.6 630 281.6 629.7 282.6 629.4 283.6 629.4 287.6 629.3 289.5 629.3 290.5 629.4 291.5 629.5 292.5 629.8 294.5 630.4 295.5 630.6 296.5 630.9 297.5 631.1 298.5 631.3 300.4 631.6 303.4 632 307.4 632.6 310.4 633.1 311.7 633.3 312.3 633.3 314.3 633.4 321.3 633.4 328.2 633.4 330.2 633.4 331.2 633.4 332.2 633.3 335.1 632.7 338.1 632.2 340.1 631.9 342.1 631.6 343.8 631.3 345.1 631 346.1 630.7 347.5 630.3 348 630 349 629.5 349.5 629.3 350 628.9 351 628.7 352 629 352.6 629.3 353 629.4 354 629.9 355 630.4 356 630.9 358 631.9 358.7 632.3 359.9 632.9 360.7 633.3 363.4 634.3 364.9 634.7 367.5 635.3 369.9 635.7 370.8 635.9 372 636.3 372.8 636.6 373.8 637 374.1 637.3 374.8 637.8 375.8 638.8 376.1 639.2 377.1 640.2 377.8 640.8 378.4 641.2 378.8 641.5 379.8 642 380.8 642.4 381.8 642.7 383.7 643.3 384.7 643.6 385.7 644 386.7 644.5 388 645.2 389.7 646 390.7 646.4 391.7 646.7 392.7 646.9 395.6 647.4 396.6 647.6 397.6 647.8 398.6 648.1 399.6 648.4 400.6 648.9 400.9 649.2 401.6 649.5 404.1 651.1 405.6 652.1 407 653.1 408.5 654.1 409.5 654.6 410.5 655 411.5 655.1 412.5 655.2 417.7 655.1 419.4 655.1 421.4 655 423.4 654.8 427.4 654.4 433.3 653.8 436.3 653.5 439.3 653.1 440.3 653 441.2 653 443.2 653 448.2 653 450.2 652.9 452.1 652.9 456.1 652.7 458.1 652.6 459.1 652.5 460.1 652.4 461.1 652.3 464 651.8 467 651.3 468 651 469 650.7 470 650.1 471 649.2 471.6 648.2 472 647.2 472.8 645.2 473.1 644.2 473.4 643.2 473.6 642.2 473.7 641.2 473.7 640.2 473.7 639.2 473.6 638.2 472.8 634.3 472.4 632.3 472.1 631.3 471.8 630.3 471.4 629.3 471 628.7 470.7 628.3 470 627.5 469 626.7 468 626.2 467 625.9 462 624.4 461.1 624 460 623.4 459.1 622.6 458.9 622.4 458.1 621.3 457.6 620.4 457.2 619.4 456.9 618.4 456.8 617.4 456.7 615.4 456.6 614.5 456.5 613.5 456.3 612.5 455.7 610.5 455.4 609.5 455.2 608.5 455.2 607.5 455.1 605.5 455.1 598.6 455.1 597.6 455.2 596.6 455.5 595.6 456.3 594.6 457.1 594 457.6 593.6 458.1 593.4 459.1 593 460.1 592.8 461.1 592.9 462.1 593.3 462.6 593.6 464.1 594.6 465.2 595.6 467.1 597.6 468.2 598.6 469 599.4 470 600.6 471 601.9 472 603.6 472.5 604.5 473 605.1 473.4 605.5 474 606 475 606.5 475.9 606.8 476.9 607.1 479 607.5 479.9 607.7 479.9 552.2 478.9 552 477.9 551.7 476.9 551.2 476.7 551 475.9 550 475.8 549 476 548 476.5 547 477.1 546 478 545 478.9 544.4 479.9 544 479.9 525.2 123 525.2 123 544 124 543.8 124.9 543.9 125.9 544.1 127.9 544.5 129.8 545 130.9 545.6 131.8 546 132.4 547 132.5 548 132.1 549 130.9 550 128.7 551 126.9 551.5 125.9 551.8 124.9 552 124 552.1 123 552.2 123 607.7 124 608.1 124.9 608.6 125.9 609.2 126.9 609.8 128.1 610.5 128.9 610.9 130.3 611.5 131.9 612.1 132.9 612.5 133.9 612.9 134.7 613.5 134.9 613.6 135.8 614.5 136.4 615.4 136.9 616.4 137.2 617.4 137.4 618.4 137.6 619.4 137.7 620.4 137.6 621.4 137.4 623.4 137.4 624.4 137.3 625.4 137.3 629.3 137.2 632.3 137.2 633.3 137.2 634.3 137.3 635.3 137.4 636.3 137.5 637.3 137.7 638.2 138 639.2 138.4 640.2 139 641.2 139.8 642.2 140.8 643.1 141 643.2 141.8 643.6 142.8 643.8 143.8 643.9 144.8 643.8 148.7 643.1 151.7 642.7 152.7 642.5 153.7 642.3 154.7 642.1 155.7 641.8 156.7 641.5 157.7 641 158.7 640.5 159.1 640.2 160.4 639.2 160.6 639 161.6 638.1 162.6 637.5 163.6 637.3 164.6 637.4 165.6 637.8 166.6 638.3 167.6 638.8 169.9 640.2 173.4 642.2 174.8 643.2 175.6 644.2 175.5 645.2 174.9 646.2 174.1 647.2 173.4 648.2 172.9 649.2 172.7 650.1 172.6 651.1 172.5 652.1 172.4 653.1 172.2 654.1 171.8 655.1 170.6 657.8 169.5 660.1 168.6 662 166.6 666 166.1 667 165.7 668 165.5 669 165.4 670 165.4 671 165.6 673 165.7 673.9 165.6 674.9 165.2 675.9 164.6 676.7 164.4 676.9 163.6 677.3 162.3 677.9 160.6 678.3 158.7 678.6 157.1 678.9 153.7 679.3 149 679.9 145.8 680.2 143.8 680.4 141.8 680.5 134.9 680.8 132.9 680.9 131.9 681 130.9 681.1 128.9 681.4 127.9 681.6 126.8 681.9 124.9 682.3 124 682.6 123 683 123 703.7ZM179.7 698.7 176.5 698.5 167.6 697.6 162.6 697.1 155.7 696.5 154.7 696.4 153.7 696.2 152.7 696 151.7 695.7 150.7 695.2 150 694.8 149.2 693.8 149.1 692.8 149.8 691.8 150.7 691.1 151.3 690.8 151.7 690.6 152.7 690.3 153.7 690.1 154.7 690.1 156.7 690 160.6 689.9 162.6 689.9 169.6 690 171.5 690 173.5 689.9 178.5 689.7 192.4 689.1 198.4 688.8 200.3 688.7 202.3 688.6 204.3 688.4 209.2 687.7 210.2 687.6 211.2 687.5 212.2 687.5 213.2 687.5 214.2 687.5 216.2 687.7 218.2 687.9 220.1 688.1 221.1 688.2 222.1 688.4 223.1 688.6 224.1 688.8 225.1 689.1 226.1 689.5 227.1 689.9 228.1 690.3 229.1 690.8 230 691.4 230.7 691.8 231.8 692.8 232.2 693.8 231.8 694.8 231 695.3 230.5 695.8 230 696 229.1 696.4 228.1 696.8 227.1 697.1 226.1 697.4 224.1 697.8 223.1 698 222.1 698.2 221.1 698.3 219.1 698.5 214.2 698.8 211.2 699 205.3 699.3 203.3 699.4 201.3 699.4 195.3 699.4 193.4 699.4 191.4 699.4 186.4 699.1 183.4 699 181.5 698.9 180.5 698.8ZM290.2 694.8 289.5 694.2 289.1 693.8 289.2 692.8 289.5 692.3 290 691.8 290.5 691.3 291.5 690.8 292.5 690.6 293.5 690.7 294.5 690.9 298 691.8 299.5 692.3 300.8 692.8 301.4 693.3 302 693.8 301.4 694.1 300.4 694.6 300.1 694.8 298.5 695 296.5 695.2 294.5 695.3 293.5 695.4 292.5 695.3 291.5 695.2 290.5 694.9ZM390.1 636.3 389.7 636.2 388.7 635.7 387.9 635.3 387.7 635 387.1 634.3 387 633.3 387.2 632.3 388 630.3 388.6 628.3 388.7 628.1 389.2 627.3 389.7 626.9 390.7 627.1 390.9 627.3 391.7 628.1 392.7 629.5 393.2 630.3 393.7 631.3 394.1 632.3 394.5 633.3 394.7 634.3 394.6 634.6 394.4 635.3 393.6 635.9 392.7 636.3 391.7 636.4 390.7 636.4ZM328 626.4 326.2 626 325.2 625.7 324 625.4 322.3 624.7 321.3 624.3 320.3 623.9 318.3 622.9 314.3 620.9 312.3 619.9 310.4 618.9 308.4 618 305.4 616.4 303.8 615.4 302.6 614.5 301.8 613.5 301.5 612.5 301.5 611.5 301.4 608.5 301.4 606.5 301.5 605.5 301.5 604.5 301.6 603.5 301.7 602.6 301.8 601.6 301.4 600.6 300.3 599.6 298.3 598.6 297.5 598.3 296.5 598 295.5 597.8 294.5 597.6 293.5 597.4 292.5 597.3 291.5 597.2 290.5 597.1 288.5 597.1 265.7 597.1 263.8 597.1 262.8 597.1 261.8 597.2 260.8 597.3 259.8 597.4 258.7 597.6 257.8 597.8 256.8 598 255.8 598.3 255 598.6 253.8 599.3 253.4 599.6 252.9 600.3 252.7 600.6 252.4 601.6 251.9 603.7 251.6 604.5 251.3 605.5 250.9 606.3 250.6 606.5 249.9 607 248.9 607.1 245.9 607.1 244.9 607.1 243.9 607 242.9 606.9 241.9 606.7 241 606.4 239 605.7 238 605.4 236 604.9 234 604.4 233 604.2 232 604.2 231 604.2 230 604.4 229.1 604.8 228.1 605.3 227.1 606 226.5 606.5 226.1 607 225.7 607.5 225 608.5 224.6 609.5 224.1 610.6 223.2 612.5 222.7 613.5 222.5 614.5 222.8 615.4 223.1 615.8 223.5 616.4 224.4 617.4 225.1 618.4 225.3 619.4 225.1 619.7 224.1 620.4 223.1 620.6 222.1 620.6 221 620.4 220.1 620.1 218.7 619.4 218.2 619.1 217 618.4 216.2 617.9 215.2 617.5 214.2 617.2 213.2 617 211.2 616.6 210.2 616.4 206.9 615.4 205.3 614.9 203.6 614.5 202.3 614 201.3 613.7 199.3 613.2 198.3 613 197.3 612.8 195.3 612.4 193.4 612.1 191.4 611.8 189.3 611.5 187.4 611.1 186.4 610.8 185.2 610.5 184.4 610.3 183.4 610 182.5 609.9 181.5 610.1 180.5 610.6 179.5 611.6 178.8 612.5 178.2 613.5 177.8 614.5 177.6 615.4 177.5 617.4 177.4 618.4 177.2 619.4 177 620.4 176.3 622.4 175.9 623.4 175.3 624.4 174.5 625.2 174.3 625.4 173.5 625.9 172.5 626.2 171.5 626.3 170.6 626 169.6 625.5 169.4 625.4 168.7 624.4 168.8 623.4 169.1 622.4 169.6 621.1 169.8 620.4 170.1 619.4 170.4 618.4 170.7 616.4 170.9 615.4 171 614.5 171 613.5 171.1 612.5 171.1 611.5 171.4 610.5 171.5 610.1 172 609.5 172.5 609.1 173.5 608.6 174.5 608.4 176.5 608.2 177.5 608 178.5 607.6 178.6 607.5 179.5 606.5 179.8 605.5 179.9 604.5 180 603.5 180 602.6 180.1 601.6 180.3 600.6 180.7 599.6 181.5 598.5 182.5 597.7 183.4 597.1 184.4 596.6 185.4 596.1 186.4 595.6 187.4 594.9 187.7 594.6 188.4 593.9 188.6 593.6 189.4 592.5 190 591.6 190.4 591.1 190.8 590.7 191.4 590.3 192.4 590.2 193.4 590.6 193.5 590.7 194 591.6 194.2 592.6 194.3 594.6 194.5 596.6 194.6 597.6 194.7 598.6 194.9 599.6 195.1 600.6 195.5 601.6 195.9 602.6 196.5 603.5 197.3 604.5 198.3 605.4 199.3 606 200.3 606.4 201.3 606.6 202.3 606.7 203.3 606.6 204.3 606.3 205.3 605.8 205.6 605.5 206.3 604.7 206.3 604.5 206.4 603.5 206.2 601.6 206.1 600.6 206.1 599.6 206.1 598.6 206.1 597.6 206.2 596.6 206.3 595.6 206.5 594.6 206.9 593.6 207.6 592.6 208.2 592 208.6 591.6 209.2 591.3 210.2 590.9 211.2 590.6 212.2 590.6 213.2 590.8 214.2 591.2 215 591.6 215.2 591.8 216.2 592.6 217.2 593.7 217.8 594.6 218.3 595.6 219.1 597.4 220.1 599.3 221.1 600.7 222.1 601.4 223.1 601.7 224.1 601.7 225.1 601.4 226.1 600.9 226.5 600.6 227.1 600 227.3 599.6 227.8 598.6 228.2 597.6 228.7 595.6 229.1 594.5 229.4 593.6 229.8 592.6 230.2 591.6 230.8 590.7 231.7 589.7 233 588.7 234 588 235 587.3 235.6 586.7 236 586.2 236.3 585.7 236.9 584.7 237.2 583.7 237.6 582.7 237.8 581.7 238 580.7 238.2 579.7 238.3 578.8 238.4 576.8 238.5 575.8 238.8 574.8 239.4 573.8 240 573.3 240.5 572.8 241 572.5 242.1 571.8 242.9 571.3 243.5 570.8 243.9 570.4 244.3 569.8 244.6 568.8 244.5 567.9 244.2 566.9 243.8 565.9 243.3 564.9 242.9 564.1 242.8 563.9 241.9 562.8 240.9 561.9 240 561.4 238.7 560.9 238 560.7 237 560.4 236 560.1 234 559.7 233 559.6 232 559.5 231 559.5 229.1 559.5 224.1 559.6 223.1 559.7 222.1 559.8 220.1 560 214.7 560.9 213.2 561.1 212.2 561.3 211.2 561.5 209.2 562 207.2 562.6 205.3 563.2 203.1 563.9 202.3 564.2 201.3 564.6 200.3 565 198.3 566 196.3 567 194.4 568 193.4 568.4 192.4 568.7 191.4 569 188.4 569.7 187.4 570 186.4 570.3 185 570.8 183.4 571.5 182.5 571.9 181.5 572.1 180.5 572.1 176.5 571.9 173.5 571.8 172.5 571.7 171.5 571.6 166.6 571 164.6 570.7 162.6 570.4 160.6 570 159.6 569.8 157.7 569.3 156.2 568.8 154.7 568.2 153.7 567.8 152.7 567.2 152.1 566.9 151.7 566.6 150.8 565.9 150 564.9 149.4 563.9 149 562.9 148.6 561.9 148.4 560.9 148.3 559.9 148.4 558.9 148.6 557.9 148.9 556.9 149.3 556 149.8 555 150.6 554 151.7 553.1 152.7 552.5 153.7 552 155.7 551 158 550 159.7 549.4 160.6 549 161.6 548.7 162.6 548.5 163.6 548.2 165.6 547.9 169.6 547.2 171.5 546.9 172.5 546.8 173.5 546.7 175.5 546.6 179.5 546.4 181.5 546.3 183.4 546.3 190.4 546.3 192.4 546.2 193.4 546.2 195.3 546 200.3 545.5 201.3 545.4 202.3 545.4 203.3 545.4 204.3 545.5 205.3 545.7 207.2 546.1 208.2 546.3 211.2 547.1 212.2 547.4 213.2 547.6 214.2 547.7 216.2 547.9 218.2 548.1 220.1 548.2 221.1 548.3 222.1 548.3 223.1 548.3 225.1 548.2 228.1 548 231 547.7 232 547.6 233 547.6 235 547.6 239 547.6 240 547.6 241 547.6 241.9 547.8 242.9 548.1 243.9 548.7 244.4 549 244.9 549.5 245.9 550.5 246.5 551 246.9 551.3 248 552 248.9 552.4 249.9 552.8 250.9 553.1 251.9 553.3 253.8 553.7 255.8 554.1 257.8 554.4 259.8 554.6 260.8 554.7 261.8 554.7 262.8 554.7 264.8 554.5 269.7 554.1 271 554 271.7 553.9 272.7 553.7 276.7 552.9 279.6 552.4 280.6 552.2 281.6 551.9 282.6 551.5 283.6 551 284.6 550 285 549 284.8 548 284.6 547.6 283.7 546 283.6 545 284.5 544.1 285.6 543.5 286.6 543 287.6 542.6 289.1 542.1 290.5 541.6 291.5 541.4 292.5 541.2 293.5 541 295.5 540.8 298.5 540.4 301.5 540.1 305.4 539.8 310.4 539.4 314.5 539.1 319.3 538.8 325.2 538.5 329.2 538.3 331.2 538.3 334.2 538.3 348 538.3 350 538.3 351 538.2 352.1 538.1 354 537.9 358.9 537.2 360.9 537 365.9 536.5 369.9 536 370.8 536 371.8 535.9 372.8 535.9 375.8 536.1 377.8 536.2 378.8 536.3 379.8 536.4 380.8 536.6 381.8 536.9 382.7 537.3 383.9 538.1 384.8 539.1 385.5 540.1 386 541.1 386.7 542.6 387.4 544.1 387.8 545 388.2 546 388.7 547.6 388.8 548 389.3 549 389.7 549.5 390.1 550 391.2 551 392.8 552 393.6 552.4 394.6 552.7 395.6 553 396.6 553.3 397.6 553.5 398.6 553.6 399.6 553.8 400.6 553.8 401.6 553.8 402.6 553.7 404.6 553.6 406.5 553.3 408.5 553 409.5 552.8 410.5 552.7 411.5 552.7 412.5 552.8 413.5 553 414.5 553.2 415.5 553.4 416.5 553.6 417.6 554 418.4 554.3 419.4 554.7 420.4 555.3 421.6 556 422.4 556.4 423.7 556.9 424.4 557.2 425.4 557.5 426.4 557.7 429.3 558.3 430.3 558.6 431.5 558.9 432.3 559.4 433.2 559.9 433.5 560.9 433.1 561.9 432.1 562.9 431.3 563.5 430.6 563.9 430.3 564 429.3 564.4 428 564.9 426.4 565.3 425.4 565.6 423.4 566.3 421.4 566.9 419.4 567.6 418.4 567.9 417.4 568.4 416.5 568.9 415.5 569.4 413.2 570.8 411.5 571.7 410.5 572.1 408.5 572.9 407.5 573.3 405.5 574.2 404.5 574.8 402.6 575.6 401.6 575.9 400.6 576.1 399.6 576.2 398.6 576.2 397.6 576.1 396.6 576 394.9 575.8 393.6 575.5 392.7 575.2 392.1 574.8 391.7 574.5 391.2 573.8 390.7 572.8 390.3 571.8 390 570.8 389.8 569.8 389.6 568.8 389.3 565.9 389 563.9 388.8 562.9 388.5 560.9 388.2 559.9 387.9 558.9 387.6 557.9 387.2 556.9 386.6 556 386 555 385.7 554.5 385.1 554 384.7 553.6 383.7 553.1 382.7 552.8 381.8 552.7 380.8 552.6 379.8 552.5 377.8 552.5 364.9 552.5 362.9 552.5 361.9 552.5 360.9 552.6 359.9 552.7 358.9 552.8 357.8 553 357 553.1 356 553.4 355 553.6 353.8 554 353 554.3 352 554.8 351.8 555 351 555.5 350.5 556 349.5 556.9 348.6 557.9 348 558.4 347 559.3 346.1 559.9 345.1 560.4 343.8 560.9 343.1 561.1 340.1 561.9 338.1 562.3 337.1 562.5 336.1 562.7 334.2 563 328.2 563.7 326.2 563.9 322.3 564.4 320.3 564.7 319 564.9 317.3 565.3 315.2 565.9 313.3 566.5 312.3 566.9 311.4 567.3 309.7 567.9 308.4 568.4 307.4 569 306.4 569.6 304.4 570.9 303.4 571.4 302.4 571.8 301.4 572.1 300.4 572.2 299.5 572.3 297.5 572.3 294.5 572.3 293.5 572.4 292.5 572.4 291.5 572.6 290.5 573 289.5 573.5 288.5 574 287.2 574.8 286.6 575.2 285.5 575.8 284.6 576.3 282.6 577.1 281.6 577.6 280.6 578.1 279.5 578.8 278.6 579.5 278.3 579.7 277.6 580.7 277.6 581.7 278.1 582.7 278.6 583.2 279.3 583.7 279.6 583.9 280.6 584.3 281.6 584.5 282.6 584.6 283.6 584.7 287.6 584.7 289.5 584.7 290.5 584.7 291.5 584.6 292.5 584.5 294.5 584.2 297.1 583.7 298.5 583.5 299.5 583.4 300.4 583.4 301.4 583.4 302.4 583.6 303.4 583.9 305.3 584.7 307 585.7 308.4 586.8 309.4 587.7 310.5 588.7 311.8 589.7 312.3 590 313.3 590.8 314.3 591.8 315 592.6 315.7 593.6 316.3 594.6 317.1 595.6 317.3 595.8 318.3 596.4 319.3 596.7 320.3 596.9 321.3 597 322.3 597 323.3 596.9 325.2 596.8 327.3 596.6 329.2 596.4 330.2 596.3 331.2 596.3 332.2 596.3 333.2 596.5 334.2 596.9 335.2 597.6 335.9 598.6 336.8 600.6 337.4 601.6 338.3 602.6 339.1 603.3 340.1 604 342.1 605.1 343.1 605.8 344.1 606.7 344.8 607.5 345.5 608.5 346.6 610.5 347.3 611.5 348.2 612.5 349 613.2 350 613.9 352 615 353 615.7 353.8 616.4 354.6 617.4 355.2 618.4 355.3 619.4 355.2 620.4 354.7 621.4 353.9 622.4 352 624.4 351.2 625.4 351 625.8 350 626.8 349 627 345.1 626.9 334.2 626.9 332.2 626.8 331.2 626.8 330.2 626.7 329.2 626.6 328.2 626.4ZM239.9 625.4 239 624.7 238.3 624.4 238.3 623.4 239 623.1 240 622.7 241 622.7 241.9 623 242.4 623.4 242.9 623.9 243.3 624.4 243.2 625.4 242.9 625.6 241.9 625.9 241 625.8 240 625.4ZM412.3 619.4 411.5 619.3 410.5 618.8 410.1 618.4 409.6 617.4 409.4 616.4 409.6 615.4 410.5 614.5 410.7 614.5 411.5 614.2 412.5 614.2 413.5 614.2 417.4 614.3 418.4 614.3 419.5 614.5 420.4 614.9 421.1 615.4 421.2 616.4 420.7 617.4 420.4 617.7 419.4 618.4 418.4 618.7 417.4 618.9 414.5 619.3 413.5 619.4 412.5 619.4ZM337.3 593.6 336.1 593.1 335.1 592.6 334.2 592 333.7 591.6 333.2 591.2 332.5 590.7 331.8 589.7 331.4 588.7 331.3 587.7 331.5 586.7 332.4 585.7 334.6 584.7 338.4 583.7 340.1 583.4 343.1 582.9 345.1 582.5 346.1 582.3 347 582 348 581.6 349 581.2 350 581 351 581.1 352 581.8 353 582.7 354 583.7 354.8 584.7 355.2 585.7 355.3 586.7 355 587.7 354.5 588.7 353.6 589.7 352.5 590.7 352 591 351 591.7 350 592.2 348.9 592.6 348 592.9 345.1 593.7 344.1 593.9 343.1 594.1 342.1 594.3 341.1 594.4 340.1 594.4 339.1 594.2 338.1 594Z" clip-path="url(#p8f56d1408e)" style="fill: #fee0da"/>
   </g>
   <g shape-rendering="crispEdges" id="QuadContourSet_38">
    <path d="M124 703.7 479.9 703.7 479.9 684.7 478.9 685 477.9 685.3 476.9 685.6 475.8 685.8 474 686.2 472 686.6 471 686.7 469 686.9 465 687.2 462.1 687.3 461.1 687.4 460.1 687.6 458.8 687.8 458.1 688.1 457.1 688.5 456.4 688.8 456.1 689 455.2 689.8 454.6 690.8 454.1 692.1 453.8 692.8 453.1 693.8 452.1 694.5 451.8 694.8 451.2 695.1 450.2 695.4 449.2 695.6 447.8 695.8 445.2 696 440.3 696.3 432.3 696.9 430.3 697 428.4 697 423.4 697 421.4 697 420.4 696.9 418.4 696.7 417.4 696.5 416.5 696.3 415.5 696.1 414.2 695.8 413.5 695.5 412.5 695.1 411.8 694.8 411.5 694.5 410.8 693.8 411 692.8 411.5 692.2 411.8 691.8 412.5 691 413.5 689.7 414.1 688.8 414.5 688.4 415 687.8 415.5 687.4 416.5 686.7 417.4 686.3 418.7 685.8 420.4 685.1 421 684.9 421.4 683.9 420.4 683.2 419.4 682.9 418.4 682.8 416.5 682.8 413.5 682.9 412.5 682.9 411.5 683 410.5 683.1 409.5 683.4 408.3 683.9 406.5 684.9 405.5 685.4 404.6 685.9 403.6 686.4 402.6 686.7 401.6 686.9 400.6 687.1 399.6 687.1 398.6 687 393.6 686.6 391.7 686.4 389.7 686.3 379.8 686 371.8 685.8 369.9 685.7 361.9 685.7 356 685.7 351 685.8 347 685.8 345.1 685.7 344.1 685.7 343.1 685.6 342.2 684.9 342.5 683.9 343.1 683.1 343.2 682.9 344.1 681.8 344.6 680.9 344.7 679.9 344.1 678.9 342.8 677.9 340.8 676.9 340.1 676.6 338.8 675.9 338.1 675.5 337.1 674.8 336.1 673.9 335.1 673 334.1 672 333.1 671 332.2 670.1 331.2 669.4 330.2 668.9 329.2 668.4 328.1 668 326.2 667.4 325 667 323.3 666.6 322.3 666.3 321.3 666.2 320.3 666.1 319.3 666.1 314.3 666 312.3 666.1 311.4 666.1 310.4 666.2 307.4 666.4 303.4 666.8 302.1 667 301.4 667.1 300.4 667.3 297.3 668 295.5 668.4 292.5 669 291.5 669.3 290.5 669.6 289.1 670 286.3 671 283.6 672 281.2 673 279.6 673.6 277.6 674.4 275.7 675.1 273.3 675.9 271.7 676.4 269.7 677 267.7 677.4 265.6 677.9 262.8 678.4 260.8 678.8 257.8 679.3 254.7 679.9 251.9 680.3 246.9 681 243.9 681.4 242.9 681.5 241.9 681.6 241 681.6 240 681.6 235 681.3 233 681.2 231 681.2 224.1 681.1 222.1 681.1 220.1 681 217.2 680.7 214.2 680.4 211.2 680.1 208.8 679.9 204.3 679.4 200.6 678.9 198.3 678.4 196.6 677.9 196.3 677.6 195.8 676.9 196.2 675.9 196.8 674.9 197.3 673.9 197.8 673 198.2 672 198.5 671 198.7 670 199 669 199.4 667 199.5 666 199.7 665 199.7 664 199.8 663 199.8 661.1 199.8 657.1 199.8 656.1 199.8 655.1 199.7 654.1 199.5 653.1 199.2 652.1 198.8 651.1 198.3 650 198 649.2 197.9 648.2 198.1 647.2 198.3 646.9 198.8 646.2 199.3 645.8 200.3 645.2 202.3 644.3 202.5 644.2 205.1 643.2 206.3 642.9 207.2 642.6 209.2 642.2 211.2 641.9 216.2 641.2 221.1 640.5 223.1 640.2 227.1 639.6 229.1 639.2 231 638.7 232.7 638.2 234 637.6 234.6 637.3 235 636.9 235.7 636.3 236.3 635.3 236.5 634.3 236.6 633.3 236.5 632.3 236.2 631.3 235.8 630.3 235 629.3 234 628.7 233.3 628.3 232 627.8 230 627.2 228.1 626.6 227.1 626.3 224.1 625.3 223.1 624.9 222.1 624.7 221 624.4 219.1 623.9 217 623.4 215.2 622.9 212.2 622 211.2 621.7 209.2 621.1 204.3 619.9 201.3 619.2 199.3 618.8 195.3 617.8 194.4 617.5 193.4 617.3 192.4 617.3 191.4 617.4 190.4 617.7 189.4 618.1 188.9 618.4 188.4 618.8 187.8 619.4 186.9 620.4 186.2 621.4 185.3 622.4 184.2 623.4 183.4 624 182.5 624.8 181.5 625.9 179.5 628 179.1 628.3 178.3 629.3 177.8 630.3 177.6 631.3 177.5 632.3 177.5 635.3 177.5 636.3 177.6 637.3 177.9 638.2 178.6 639.2 179.9 640.2 180.5 640.6 181.5 641.1 182.5 641.5 183.4 641.9 184.4 642.2 185.4 642.7 186.5 643.2 187.1 644.2 186.5 645.2 185.4 645.7 184.4 646.2 183.4 646.5 182.5 646.9 181.5 647.5 180.7 648.2 180.5 648.4 179.8 649.2 179.4 650.1 179.2 651.1 179.1 652.1 179 653.1 178.8 654.1 178.4 655.1 177.8 656.1 177.2 657.1 174.5 661.1 173.5 662.7 172.5 664.4 171.5 666.2 171.2 667 170.8 668 170.6 669 170.7 670 171 671 171.5 672.1 172.2 673 172.5 673.4 173.5 674.2 174.5 674.7 175.5 675.1 176.5 675.4 177.5 675.6 179.5 676.1 180.5 676.3 183.4 676.8 184 676.9 184.4 677.3 185 677.9 183.4 678.2 182.5 678.4 181.5 678.5 179.5 678.7 176 678.9 174.5 678.9 173.5 679 172.5 679.1 171.5 679.2 166.6 679.8 165.6 679.9 158.7 680.5 151.7 681.1 148.7 681.3 145.8 681.5 143.8 681.6 141.8 681.7 135.6 681.9 133.9 681.9 132.9 682 131.9 682.2 130.9 682.3 129.9 682.6 128.6 682.9 125.4 683.9 124 684.4 123 684.7 123 703.7ZM174.3 699.7 168.6 699.3 164.6 699 156.7 698.3 154.7 698.2 153.7 698 152.7 697.9 151.7 697.6 150.7 697.3 149.4 696.7 148.7 696.4 147.5 695.8 146.8 695.2 146.1 694.8 145.4 693.8 145.1 692.8 145.2 691.8 145.6 690.8 145.8 690.7 146.7 689.8 147.8 689.2 148.8 688.8 149.7 688.5 150.7 688.3 151.7 688.1 152.7 688 153.7 687.9 154.7 687.9 160.6 688 162.6 688.1 169.6 688.5 171.5 688.6 173.5 688.6 180.5 688.5 182.5 688.5 192.4 688 197.3 687.8 200.3 687.6 202.3 687.5 204.3 687.2 209.2 686.6 210.2 686.5 211.2 686.4 212.2 686.4 213.2 686.4 214.2 686.4 217.2 686.6 220.4 686.8 222.1 687 223.1 687.2 224.1 687.4 225.1 687.6 226.1 687.8 227.1 688.1 228.1 688.4 229.2 688.8 231.7 689.8 233 690.4 233.8 690.8 235 691.6 235.2 691.8 235.9 692.8 236 693.8 235.7 694.8 234.8 695.8 234 696.3 233.4 696.7 233 697 232 697.4 231 697.8 230 698.1 229.1 698.4 227.1 698.8 225.1 699.2 224.1 699.4 223.1 699.5 222.1 699.6 220.1 699.8 216.2 700 212.2 700.2 206.3 700.5 203.3 700.6 201.3 700.6 194.4 700.6 192.4 700.6 189.4 700.5 183.4 700.3 179.5 700 175.5 699.8 174.5 699.7ZM310.2 697.7 307.4 697.6 302.4 697.5 300.4 697.4 297.5 697.2 293.5 697 292.5 696.9 291.4 696.7 290.5 696.6 289.5 696.3 288.5 695.9 288.2 695.8 287.6 695.4 286.6 694.8 286 693.8 286.3 692.8 287.1 691.8 288.5 690.4 289.5 689.6 290.5 688.9 291.5 688.4 292.5 688.3 293.5 688.3 294.5 688.5 296.5 688.9 299.5 689.6 300.6 689.8 301.4 690 302.4 690.1 306.4 690.5 308.6 690.8 311.4 691.3 312.3 691.5 313.3 691.6 317.3 692 319.3 692.1 320.3 692.2 321.3 692.1 322.3 692 325.2 691.5 329.2 690.8 330.2 690.6 331.2 690.5 334.2 690.2 335.1 690.1 336.8 689.8 338.1 689.5 339.1 689.2 340.1 689.1 341.1 689.5 341.3 689.8 342.1 690.9 342.5 691.8 342.6 692.8 342.1 693.8 341.1 694.4 340.4 694.8 340.1 694.9 339.1 695.1 337.1 695.6 334.2 696.3 332.1 696.7 331.2 696.9 330.2 697 328.2 697.2 326.2 697.3 324.2 697.5 322.3 697.7 321.3 697.7 319.3 697.8 313.3 697.8 311.4 697.8 310.4 697.7ZM413.5 652.2 415.5 652.4 417.4 652.6 418.4 652.7 419.4 652.7 420.4 652.7 421.4 652.7 422.4 652.6 426.4 652.1 433.9 651.1 438.3 650.5 439.3 650.4 440.3 650.3 441.2 650.2 443.2 650.2 448.2 650.2 450.2 650.1 451.2 650 453.1 649.8 456.1 649.3 457.1 649.2 459.1 648.7 460.1 648.4 461.1 648.1 462.1 647.7 463.2 647.2 464 646.6 464.6 646.2 465.6 645.2 466.4 644.2 467 643.2 468 641.4 468.5 640.2 468.8 639.2 468.9 638.2 469 637.3 468.9 636.3 468.7 635.3 468.4 634.3 468 633.5 467.9 633.3 467 632.3 466 631.2 465.1 630.3 463.7 629.3 462.1 628.5 461.6 628.3 460.1 627.9 458.1 627.3 457.1 627 456.1 626.6 455.7 626.4 455.1 626 454.3 625.4 454.1 625.1 453.5 624.4 452.8 623.4 451.4 621.4 450.8 620.4 450.3 619.4 450 618.4 449.8 617.4 449.7 616.4 449.4 615.4 449.2 614.8 449 614.5 448.2 613.4 447.2 612.3 446.5 611.5 445.9 610.5 445.5 609.5 445.3 608.5 445.2 607.5 445.2 605.5 445.2 602.6 445.2 601.6 445.3 600.6 445.5 599.6 445.7 598.6 446.4 596.6 446.8 595.6 447.4 594.6 448.3 593.6 449.2 592.9 449.6 592.6 450.2 592.3 451.2 591.6 452.1 591.2 453.3 590.7 454.1 590.3 455.8 589.7 457.1 589.3 458.1 589 459.1 588.8 460.1 588.8 461.1 588.8 462.1 589 463.1 589.2 464.5 589.7 466 590.3 467 590.7 468 591.2 469 591.8 470 592.5 471.1 593.6 471.8 594.6 472.4 595.6 473.6 597.6 474.8 599.6 475.4 600.6 476.5 602.6 477.2 603.5 477.9 604.2 478.4 604.5 478.9 604.8 479.9 605.3 479.9 555.6 478.9 555.7 477.9 555.6 476.9 555.6 475.9 555.5 475 555.4 474 555.2 472.5 555 472 554.8 471 554.5 470 554 469.3 553 469.3 552 469.4 551 469.8 550 470 549.7 470.3 549 470.8 548 471 547.8 471.4 547 472 546 472.6 545 473.4 544.1 474 543.4 474.4 543.1 475 542.6 475.9 541.9 476.9 541.3 477.9 540.9 478.9 540.6 479.9 540.4 479.9 525.2 123 525.2 123 540.4 124 540.3 124.9 540.4 125.9 540.5 129.9 541.2 130.9 541.4 131.9 541.6 132.9 541.8 133.9 542.1 134.9 542.4 136.8 543.1 139.2 544.1 140.8 544.9 141.2 545 141.8 545.6 142.5 546 142.8 546.4 143.7 547 143.8 547.2 144.8 547.6 145.8 547.6 149.7 547.5 150.7 547.5 151.7 547.4 152.7 547.3 153.9 547 156.7 546.3 158.7 545.8 160.6 545.4 162.7 545 164.6 544.8 167.6 544.4 170.6 544 171.5 544 172.5 543.9 174.5 543.8 182.5 543.8 189.4 543.8 191.4 543.8 192.4 543.7 193.4 543.7 195.3 543.4 200.3 542.8 201.3 542.7 202.3 542.6 203.3 542.6 205.3 542.6 209.2 542.6 211.2 542.6 212.2 542.6 213.2 542.7 214.2 542.8 216.2 543.2 218.2 543.5 220.1 543.9 221.1 544.1 222.1 544.2 223.1 544.2 224.5 544.1 226.1 543.9 228.1 543.7 230 543.5 234 543.3 237.1 543.1 241 542.7 241.9 542.6 242.9 542.6 244.9 542.6 260.8 542.7 268.7 542.7 270.7 542.6 271.7 542.6 272.7 542.5 275.7 542.2 279.6 541.8 280.6 541.7 281.6 541.5 282.6 541.3 284.6 540.6 286.6 540 287.6 539.7 288.5 539.5 289.5 539.3 290.5 539.1 291.5 538.9 292.5 538.8 294.5 538.6 298.5 538.3 302.4 538 307.4 537.8 312.3 537.6 318.3 537.3 327.2 537 330.2 537 333.2 536.9 347 536.9 349 536.9 350 536.9 351 536.8 352 536.8 354 536.5 356.6 536.1 359.9 535.6 362.9 535.1 365.9 534.6 367.9 534.3 369.9 534 370.8 533.9 371.8 533.9 373.8 533.8 377.8 533.9 378.8 533.9 379.8 533.9 380.8 534 381.8 534.1 382.7 534.3 383.7 534.6 384.7 534.9 385.2 535.1 385.7 535.4 386.7 536 387 536.1 387.7 536.9 387.9 537.1 388.5 538.1 389.4 540.1 389.7 540.7 389.9 541.1 390.7 542.1 391.8 543.1 392.9 544.1 393.8 545 394.6 546.1 396 548 396.9 549 397.6 549.6 398.2 550 398.6 550.2 399.6 550.6 400.6 550.7 401.6 550.7 402.6 550.6 403.6 550.3 404.6 550 407 549 408.5 548.3 409.5 547.9 412.1 547 412.5 546.9 413.5 546.4 414.1 546 414.5 545.7 415.2 545 415.5 544.6 415.8 544.1 416.5 542.7 416.7 542.1 417.3 541.1 418.4 540.1 419.4 539.7 420.4 539.6 421.4 539.7 422.4 540.1 423.5 541.1 424.1 542.1 424.5 543.1 424.8 544.1 424.9 545 424.8 546 424.3 548 424.2 549 424.4 550 425 551 425.9 552 426.4 552.4 427.1 553 428.4 553.8 429.3 554.2 430.3 554.6 431.4 555 435.3 556 438.3 556.8 439.3 557 440.3 557.2 441.2 557.2 442.2 557.1 443.2 556.9 444.2 556.5 445.2 555.9 446.2 555.2 446.5 555 447.2 554.5 448 554 449.2 553.4 450.2 553 451.2 552.8 452.1 552.9 453.1 553 454.1 553.3 455.1 553.5 456.4 554 457.1 554.6 457.5 555 457.2 556 455.9 556.9 454.1 557.9 452.1 558.9 449.2 560.3 448.2 560.7 447.2 561.3 446 561.9 444 562.9 442.2 563.6 441.6 563.9 441.2 564 440.3 564.4 439.2 564.9 438.3 565.3 436.9 565.9 434.2 566.9 432.3 567.5 430.3 568.2 428.3 568.8 426.4 569.6 425.4 570 423.4 570.9 421.4 571.8 412.5 576.3 411.5 576.8 410.5 577.2 409.1 577.8 408.5 578 407.5 578.3 404.6 579.2 402.2 579.7 399.6 580.4 398.6 580.7 397.6 581.1 396.4 581.7 395.6 582.3 395 582.7 394.6 583.1 394 583.7 393 584.7 392.7 585.1 391.7 585.9 390.7 585.3 390.1 583.7 389.7 582.5 389.3 580.7 389.1 579.7 388.7 578.4 388.1 575.8 387.7 573.8 387.3 571.8 386.9 569.8 386.7 568.6 386.5 567.9 386.3 566.9 386 565.9 385.7 564.9 385.4 563.9 385 562.9 384.5 561.9 383.7 560.6 383.2 559.9 382.7 559.3 382.4 558.9 381.8 558.4 380.8 557.7 379.8 557.2 378.8 556.8 377.8 556.5 376.8 556.2 375.6 556 373.8 555.6 372.8 555.4 371.8 555.3 370.8 555.2 369.9 555.2 367.9 555.2 363.9 555.3 362.9 555.3 361.9 555.4 360.9 555.6 359.9 555.8 358.9 556.3 357.7 556.9 357 557.5 356.4 557.9 355.4 558.9 354.7 559.9 354.2 560.9 354 561.9 353.8 562.9 353.5 564.9 353.2 566.9 353.1 567.9 353 568.8 353 569.8 353 570.8 353.1 571.8 353.2 572.8 353.4 573.8 353.7 574.8 354 575.8 354.5 576.8 355 577.8 355.6 578.8 356.3 579.7 357.2 580.7 358 581.3 358.9 582 360 582.7 360.9 583.4 361.3 583.7 361.9 584.4 362.2 584.7 362.5 585.7 362.6 586.7 362.6 587.7 362.5 588.7 362.2 589.7 361.9 590.4 361.8 590.7 360.9 591.8 359.9 592.7 358.8 593.6 358 594.6 357.7 595.6 358 596.7 358.5 597.6 358.9 598.2 359.9 599.2 361.5 600.6 362.5 601.6 363.2 602.6 363.9 603.6 364.5 604.5 365.3 605.5 366.3 606.5 366.9 607 367.9 607.7 368.9 608.4 369.9 608.9 370.8 609.2 371.8 609.4 372.8 609.5 374.8 609.5 386.7 609.5 387.7 609.5 388.7 609.6 389.7 609.8 390.7 610.4 391.7 611.6 392.2 612.5 392.5 613.5 392.7 614.5 392.6 615.4 392.3 617.4 392.2 618.4 392.1 619.4 392.2 620.4 392.4 621.4 392.5 622.4 392.8 623.4 393 624.4 393.5 625.4 394.1 626.4 394.6 627 394.9 627.3 395.6 628 396.6 628.9 397.3 629.3 397.6 629.6 398.6 630.4 399.6 631.4 400.2 632.3 400.6 633 401.1 634.3 401.4 635.3 401.7 636.3 401.9 637.3 402 638.2 402.1 639.2 402.2 640.2 402.1 641.2 402.1 642.2 402.1 643.2 402.2 644.2 402.6 645.2 403.2 646.2 403.6 646.7 404 647.2 404.6 647.6 405.5 648.4 407.5 649.6 408.5 650.2 409.5 650.8 410.5 651.3 411.5 651.7 412.5 652 413.3 652.1ZM411.8 621.4 411.5 621.4 410.5 621.2 409.5 620.8 408.9 620.4 408.5 620.1 407.8 619.4 407.2 618.4 406.8 617.4 406.5 616.4 406.3 615.4 406.5 614.5 407.2 613.5 407.5 613.3 408.5 612.7 409.5 612.4 410.5 612.2 411.5 612.1 412.5 612.1 417.4 612.3 419.4 612.4 420.6 612.5 421.4 612.6 422.4 612.8 423.4 613.1 424.2 613.5 424.4 613.6 425.3 614.5 425.6 615.4 425.5 616.4 425.1 617.4 424.6 618.4 423.9 619.4 423.4 619.8 422.6 620.4 421.4 620.9 420.4 621.2 419.4 621.3 418.4 621.4 415.5 621.4 413.5 621.5 412.5 621.4ZM142.8 640.5 143.8 640.9 144.8 641 145.8 641 149.7 640.8 150.7 640.8 151.7 640.7 152.7 640.6 153.7 640.3 153.9 640.2 154.7 639.9 155.7 639.2 156.7 638.2 157.3 637.3 158.5 635.3 159 634.3 159.4 633.3 159.7 632.3 159.9 631.3 160 630.3 160.1 629.3 160.1 628.3 160.2 627.3 160.2 626.4 160.4 625.4 160.8 624.4 161.4 623.4 162.3 622.4 163.6 621.1 164.3 620.4 165.1 619.4 165.8 618.4 166.3 617.4 166.8 616.4 167.1 615.4 167.4 614.5 167.5 613.5 167.6 611.5 167.8 610.5 168.2 609.5 168.9 608.5 169.6 607.9 170 607.5 170.6 607 171.5 606.4 172.5 605.7 172.9 605.5 174.1 604.5 174.7 603.5 175 602.6 175.1 601.6 175.3 600.6 175.8 599.6 176.6 598.6 177.6 597.6 178.6 596.6 180.6 594.6 181.5 593.9 182.5 593.1 183.4 592.5 184.6 591.6 185.4 590.9 186.9 589.7 187.4 589.3 188.4 588.7 189.4 588.2 190.4 587.9 191.4 587.7 192.4 587.7 193.4 587.9 194.4 588.4 195 588.7 196.7 589.7 197.7 590.7 198.2 591.6 198.3 592.9 198.4 593.6 198.5 594.6 198.6 595.6 198.9 596.6 199.2 597.6 199.6 598.6 200.2 599.6 200.3 599.8 201.3 600.5 202.3 600.5 203 599.6 203.3 599 203.4 598.6 203.6 597.6 204 595.6 204.3 594.6 204.5 593.6 204.9 592.6 205.5 591.6 206.3 591 206.8 590.7 207.2 590.5 208.2 590.1 209.2 589.8 210.2 589.6 211.2 589.4 212.2 589.4 213.2 589.6 214.2 589.8 215.2 590.2 216.2 590.7 217.4 591.6 218.5 592.6 219.3 593.6 220.1 594.8 221.1 596 222.1 596.7 223.1 596.8 224.1 596.3 224.8 595.6 225.1 595.2 226.1 593.8 227.1 592.2 227.4 591.6 228.1 590.7 228.9 589.7 230.1 588.7 231.4 587.7 232.8 586.7 234 585.6 234.7 584.7 235.3 583.7 235.6 582.7 236 581.5 236.2 580.7 236.4 579.7 236.5 578.8 236.6 576.8 236.6 575.8 236.8 574.8 237.2 573.8 238 572.7 239 571.8 240 571.1 240.3 570.8 241.5 569.8 241.9 568.8 241.6 567.9 241 566.7 240.2 565.9 240 565.6 239 564.8 237.7 563.9 237 563.5 236 563.1 235 562.7 234 562.4 233 562.2 232 562 231 561.9 230 561.8 226.1 561.7 224.1 561.6 223.1 561.6 222.1 561.6 221.1 561.7 214.2 562.6 213.2 562.7 212.1 562.9 211.2 563.1 210.2 563.4 208.5 563.9 205.7 564.9 203.2 565.9 201.1 566.9 199.1 567.9 197 568.8 195.3 569.6 194.4 570 193.4 570.4 190.4 571.4 189.3 571.8 188.4 572.2 187.2 572.8 186.4 573.3 185.4 574 183.4 575.7 182.5 576.2 181.5 576.4 180.5 576.2 178.5 575.5 177.5 575.1 176.5 574.8 175.5 574.6 173.5 574.1 171.5 573.7 167.6 573.1 165.6 572.7 163.6 572.5 158.7 571.9 156.7 571.7 154.7 571.4 152.7 571 151.7 570.8 150.7 570.6 149.7 570.3 148.4 569.8 147.8 569.5 146.5 568.8 145.8 568.3 145.3 567.9 144.3 566.9 143.8 566.4 143.3 565.9 142.8 565.4 141.8 564.5 141.1 563.9 140 562.9 139.2 561.9 138.7 560.9 138.5 559.9 138.7 558.9 139.1 557.9 139.8 556.9 140.6 556 141.1 555 141 554 140.8 553.8 139.8 553.6 138.8 553.5 136.8 553.5 134.9 553.5 133.9 553.5 132.9 553.6 131.9 553.7 130.7 554 128.9 554.4 126.9 554.9 124.9 555.3 124 555.5 123 555.6 123 605.3 124.9 606 126 606.5 126.9 607 127.9 607.6 129.1 608.5 130.4 609.5 131.9 610.3 132.3 610.5 133.9 611.1 134.9 611.6 135.9 612.1 136.4 612.5 136.8 612.9 137.5 613.5 137.8 614 138.2 614.5 138.6 615.4 139 616.4 139.3 617.4 139.5 618.4 139.6 619.4 139.7 620.4 139.7 621.4 139.5 624.4 139.5 626.4 139.5 628.3 139.5 629.3 139.6 630.3 139.8 632.3 139.9 633.3 140 634.3 140.2 635.3 140.4 636.3 140.7 637.3 141 638.2 141.6 639.2 141.8 639.6 142.5 640.2ZM370.8 631.5 371.8 631.6 372.8 631.7 374.8 631.8 377.8 631.8 378.8 631.7 379.8 631.6 380.8 631.3 381.8 630.5 382 630.3 382.5 629.3 382.6 628.3 382.4 627.3 382 626.4 381.8 626 381.2 625.4 380.8 625 379.8 624.6 378.8 624.4 377.8 624.4 374.8 624.4 372.8 624.4 371.8 624.5 370.8 624.7 369.9 625.1 369.5 625.4 368.9 625.9 368.4 626.4 367.8 627.3 367.6 628.3 367.9 629.4 368.6 630.3 368.9 630.5 369.9 631.1 370.4 631.3ZM260.8 629.1 261.8 629.3 262.8 629.1 263.8 628.6 264.1 628.3 264.8 628 265.9 627.3 267.9 626.4 268.7 626 270.7 625 271.8 624.4 272.7 623.8 273.3 623.4 273.7 623.1 274.5 622.4 275.3 621.4 275.7 620.4 275.6 619.4 274.9 618.4 274.7 618.3 273.7 617.7 273.3 617.4 271.7 616.8 270.7 616.4 269.7 616.1 268.7 615.9 267.7 615.7 265.7 615.3 264.8 615.2 263.8 615.1 262.8 615 261.8 615 260.8 615.1 259.8 615.2 257.8 615.5 254.8 615.9 251.5 616.4 249.9 616.7 248.9 617 247.8 617.4 246.9 618.1 246.6 618.4 246.3 619.4 246.8 620.4 247.8 621.4 248.9 622 249.9 622.5 250.9 622.9 252.1 623.4 252.9 623.7 254.7 624.4 255.8 625 256.6 625.4 256.8 625.6 257.8 626.4 259.8 628.3 259.9 628.3ZM231 615.9 232 616.3 233 616.3 234 616 235.1 615.4 236.1 614.5 236.4 613.5 236.4 612.5 236.2 611.5 235.8 610.5 234.9 609.5 234 609 233 608.6 232 608.6 231 609 230.4 609.5 230 609.9 229.7 610.5 229.4 611.5 229.2 612.5 229.2 613.5 229.5 614.5 230 615.1 230.4 615.4ZM326.2 580.8 328.2 581.1 329.2 581.1 330.2 581.2 331.2 581.1 332.2 581 333.2 580.9 334.2 580.7 337.1 580 338.5 579.7 340.1 579.3 341.1 578.9 341.4 578.8 342.1 578.4 343.1 577.6 344.1 576.7 344.9 575.8 345.5 574.8 345.8 573.8 346 572.8 346 571.8 345.9 570.8 345.8 569.8 345.4 568.8 344.8 567.9 344.1 567.1 343.8 566.9 343.1 566.4 342.1 566 341.1 565.7 340.1 565.7 339.1 565.7 333.2 565.8 332.2 565.9 331.2 566 330.2 566.1 327.2 566.6 325.2 566.9 323.3 567.2 322.3 567.4 321.3 567.7 320.3 568 319.3 568.5 318.7 568.8 317.2 569.8 316.1 570.8 315.2 571.8 314.3 572.8 313.3 573.8 312.5 574.8 312 575.8 311.8 576.8 312.2 577.8 312.3 577.9 313.3 578.6 313.8 578.8 315.3 579 317.3 579.3 319.3 579.6 321.3 579.9 324.2 580.5 325.4 580.7ZM260.8 552.2 261.8 552.3 262.8 552.3 263.8 552.3 269.4 552 270.7 551.9 271.7 551.8 272.7 551.6 276.1 551 277.6 550.6 279.6 550.1 280 550 280.6 549 279.6 548.4 278.6 548 275.7 547.4 273.7 546.9 272.7 546.8 271.7 546.6 270.7 546.5 269.7 546.5 264.8 546.5 262.8 546.5 261.8 546.6 260.8 546.7 259.8 546.8 257.8 547.3 256.8 547.6 255.6 548 254.8 548.6 254.3 549 254.6 550 256.4 551 257.8 551.4 258.8 551.7 259.8 552Z" clip-path="url(#p8f56d1408e)" style="fill: #fdc4b8"/>
   </g>
   <g shape-rendering="crispEdges" id="QuadContourSet_39">
    <path d="M124 703.7 479.9 703.7 479.9 686.4 476.9 687 475 687.4 473 687.7 471 687.9 470 688.1 468 688.2 463.1 688.6 462.1 688.7 460.8 688.8 460.1 689 459.1 689.4 458.5 689.8 458.1 690.2 457.6 690.8 457.1 691.8 456.6 692.8 456 693.8 455.1 694.8 454.1 695.4 453.5 695.8 453.1 695.9 452.1 696.3 451.2 696.6 450.2 696.8 449.2 697 448.2 697 445.2 697.2 441.2 697.4 439.3 697.5 435.3 697.8 432.3 698 430.3 698.1 428.4 698.2 423.4 698.2 421.4 698.1 420.4 698.1 419.4 698 418.4 697.9 416.5 697.6 415.5 697.4 414.5 697.2 413.5 697 412.3 696.7 411.5 696.5 410.5 696.2 409.2 695.8 408.5 695.4 407.5 694.7 406.8 693.8 406.8 692.8 407.6 691.8 408.5 691.3 409.5 690.8 410.5 690.2 410.9 689.8 411.5 689.2 411.8 688.8 412.9 686.8 413.5 686 413.7 685.8 414.1 684.9 413.5 684.7 412.5 684.5 411.5 684.5 410.5 684.7 409.9 684.9 409.5 685.1 408.4 685.8 407.5 686.5 406.5 687.1 405.5 687.5 404.6 687.9 403.6 688.2 402.6 688.4 401.6 688.5 400.6 688.5 399.6 688.5 398.6 688.4 394.4 687.8 392.7 687.6 390.7 687.5 388.7 687.4 378.8 687.2 371.8 687.1 368.9 687 362.9 687 360.9 687.1 358.9 687.2 357 687.3 355 687.5 352.7 687.8 352 688 351 688.2 350 688.5 349.4 688.8 349 689.1 348.4 689.8 348.2 690.8 348.2 691.8 348.1 692.8 347.7 693.8 346.8 694.8 346.1 695.3 345.3 695.8 344.1 696.4 343.1 696.8 342.1 697.2 341.1 697.5 339.1 698.1 335.1 699.1 333.2 699.5 332.1 699.7 331.2 699.9 330.2 700 328.2 700.2 324.2 700.5 322.3 700.6 320.3 700.7 314.3 700.7 312.3 700.7 310.4 700.6 307.4 700.4 303.4 700.1 302.4 700 301.4 699.9 299.5 699.6 293.9 698.7 292.5 698.6 291.5 698.4 290.5 698.2 289.5 698 287.6 697.4 286.6 697 285.6 696.6 284.6 696 284.1 695.8 283.1 694.8 282.9 693.8 283.4 692.8 284.4 691.8 286.6 689.8 288.5 688 289.5 687.2 290.5 686.6 291.5 686.2 292.5 686.1 293.5 686.1 294.5 686.3 296.5 686.6 299.5 687.2 300.4 687.3 301.4 687.5 302.4 687.5 303.4 687.6 309.4 687.6 311.4 687.7 313.8 687.8 316.3 688 319.3 688.3 320.3 688.4 321.3 688.4 322.3 688.3 323.3 688 324.2 687.8 325.2 687.4 326.8 686.8 328.2 686.1 329.2 685.6 331.2 684.3 331.8 683.9 333.4 682.9 335.2 681.9 336.9 680.9 337.9 679.9 337.8 678.9 337.1 678.3 336.8 677.9 336.1 677.5 335.1 676.7 334.2 675.8 333.2 674.7 332.2 673.7 331.2 672.8 330.2 672.1 329.2 671.5 328 671 325.9 670 323.6 669 322.3 668.6 321.3 668.4 320.3 668.2 319.3 668.2 315.3 668.2 313.3 668.2 312.3 668.2 311.4 668.2 310.4 668.3 304.1 669 302.4 669.2 301.4 669.4 299.5 669.8 296.5 670.5 293.5 671.1 292.5 671.4 291.5 671.6 290.4 672 287.9 673 286.6 673.5 285.6 674 284.6 674.4 282.6 675.3 280.6 676 278.2 676.9 276.7 677.4 274.7 678 272.7 678.4 269.7 678.9 267.7 679.2 264.8 679.6 261.8 680 259.8 680.2 255.6 680.9 248.4 681.9 243.9 682.6 242.9 682.8 241.7 682.9 240.8 682.9 240 682.8 235 682.4 233 682.3 232 682.3 231 682.2 229.1 682.3 224.1 682.4 222.1 682.4 220.1 682.4 217.2 682.2 214.2 682 200.8 680.9 195.3 680.4 193.4 680.3 192.4 680.2 191.4 680.2 189.4 680.3 184.4 680.6 181.5 680.7 174.5 680.9 172.5 681 169.6 681.2 161.9 681.9 155.7 682.5 153.7 682.7 151.7 682.8 147.8 683 144.8 683.1 142.8 683.2 135.9 683.2 134.9 683.2 133.9 683.3 132.9 683.4 131.9 683.6 130.7 683.9 128.9 684.6 126.9 685.4 125.9 685.7 124.9 686 124 686.2 123 686.4 123 703.7ZM185.3 701.7 179.5 701.5 173.5 701.3 168.6 701.1 163.6 700.8 158.7 700.5 155.7 700.3 154.7 700.2 153.7 700.1 152.7 700 151.7 699.7 150.7 699.5 149.7 699.2 147.8 698.4 146.4 697.7 145.8 697.4 144.6 696.7 143.1 695.8 141.9 694.8 141 693.8 140.4 692.8 140.1 691.8 140 690.8 140 689.8 140.5 688.8 140.8 688.5 141.7 687.8 142.8 687.3 143.8 687 144.8 686.8 145.8 686.6 146.8 686.4 148.7 686.1 150.7 685.9 151.7 685.8 152.7 685.8 153.7 685.8 159.7 686.1 162.6 686.3 165.6 686.5 168.9 686.8 171.5 687 173.5 687.1 178.5 687.2 181.5 687.3 183.4 687.2 191.4 686.9 193.6 686.8 199.3 686.5 201.3 686.3 203.3 686.1 205.7 685.8 208.2 685.5 210.2 685.3 211.2 685.2 212.2 685.1 213.2 685.1 215.2 685.2 218.2 685.3 220.1 685.4 221.1 685.5 222.1 685.6 223.1 685.7 225.1 686.1 226.1 686.3 227.1 686.5 229.1 687 231 687.5 232 687.7 233 687.9 235 688.2 236 688.4 237 688.7 237.5 688.8 238 689 239 689.7 239.2 689.8 239.8 690.8 240 691.8 240.1 692.8 239.9 693.8 239.6 694.8 239 695.8 238.2 696.7 238 696.9 237 697.7 236 698.4 235 698.9 234 699.3 232.8 699.7 232 699.9 231 700.1 230 700.3 228.1 700.6 226.1 700.9 224.1 701.1 222.1 701.2 220.1 701.3 214.2 701.6 205.3 701.8 202.3 701.9 195.3 701.9 192.4 701.9 188.4 701.8 185.4 701.7ZM182.5 671.1 183.4 671.2 184.4 671.1 185.5 671 186.4 670.8 187.4 670.6 188.4 670.3 189.6 670 190.4 669.7 191.4 669.1 192.4 668.3 193.4 667 193.9 666 194.4 664.9 194.6 664 194.7 663 194.8 662 194.8 660.1 194.8 657.1 194.8 656.1 194.6 655.1 194.3 654.1 193.6 653.1 193.4 652.9 192.4 652.4 191.4 652.2 190.4 652.4 189.4 652.8 188.9 653.1 188.4 653.5 187.8 654.1 186.9 655.1 186.2 656.1 185.3 657.1 184.2 658.1 183.4 658.7 182.5 659.7 181.5 660.8 180.5 662.2 179.9 663 179.4 664 179 665 178.7 666 178.4 667 178.3 668 178.6 669 179.6 670 180.5 670.5 181.5 670.9 181.8 671ZM416.5 649.3 418.4 649.7 419.4 649.9 420.4 650 421.4 649.9 422.4 649.8 424.4 649.4 425.8 649.2 428.7 648.2 429.9 647.2 430.4 646.2 431 645.2 431.3 645 432.2 644.2 433.3 643.4 434.3 642.7 435.3 641.8 435.8 641.2 436.5 640.2 437.3 639.2 438.3 638.2 439.3 637.5 440.3 636.9 441.8 636.3 442.2 636.1 443.2 635.5 443.6 635.3 444.2 634.7 444.6 634.3 445 633.3 445.1 632.3 445.2 631.3 445.1 630.3 444.9 629.3 444.5 628.3 443.9 627.3 443.1 626.4 442.1 625.4 441.1 624.4 440.5 623.4 440.1 622.4 439.9 621.4 439.6 620.4 439 619.4 438.3 618.8 437.8 618.4 436.2 617.4 434.3 616.4 433.3 615.8 432.3 615.4 431.3 615.3 431.1 615.4 430.3 616 430.1 616.4 429.3 617.6 428.9 618.4 428.4 619.6 427.9 620.4 427.4 621 427 621.4 426.4 621.9 425.4 622.4 424.4 622.8 423.4 623.1 422.4 623.3 421.4 623.4 420.4 623.5 419.4 623.5 415.5 623.2 412.5 623.1 411.5 623 410.5 622.8 409.5 622.5 408.5 622.1 407.5 621.6 407.3 621.4 406.5 620.8 406.1 620.4 405.3 619.4 404.7 618.4 403.7 616.4 403.2 615.4 402.9 614.5 402.9 613.5 403.4 612.5 403.6 612.3 404.6 611.5 405.5 611.1 406.5 610.7 407.7 610.5 408.5 610.3 409.5 610.2 410.5 610.1 411.5 610.1 412.5 610.2 416.5 610.5 419.4 610.6 421.4 610.7 426.4 610.7 428.4 610.7 429.3 610.6 429.6 610.5 430.3 609.6 430.4 609.5 430.6 608.5 430.6 607.5 430.5 606.5 430.4 604.5 430.4 603.5 430.4 602.6 430.4 601.6 430.7 600.6 431.5 599.6 432.7 598.6 434.4 597.6 437.3 596.1 438.3 595.5 439.3 594.9 440.3 594.1 441.2 593.1 442.7 591.6 444.2 590.2 445.2 589.4 446.3 588.7 447.2 588.2 448.5 587.7 449.2 587.4 450.2 587.2 451.2 586.9 453.1 586.5 454.1 586.4 456.1 586.1 458.1 585.9 459.1 585.8 460.1 585.8 461.1 585.8 463.1 585.8 466 585.9 467 585.9 468 586 469 586.2 470 586.7 471 587.4 472 588.6 473 590 473.4 590.7 475 593 476 594.6 476.9 596 477.9 597.3 478.9 598.5 479.9 599.5 479.9 569.6 478.9 569.2 477.9 568.6 476.9 567.7 476.2 566.9 475.4 565.9 474.6 564.9 474 564.3 473.5 563.9 473 563.6 472 563.1 471 562.8 470 562.7 469 562.6 468 562.7 466.9 562.9 466 563.1 465 563.3 464 563.5 462.9 563.9 461.1 564.5 459.1 565.3 457.5 565.9 456.1 566.3 455.1 566.5 453.1 566.9 451.2 567.2 449.2 567.5 447.2 567.7 444.2 568 442.2 568.2 441.2 568.3 440.3 568.5 439 568.8 436.6 569.8 435.3 570.5 433.3 571.4 430.3 572.5 429.3 572.9 427.7 573.8 426 574.8 425.4 575.2 424.3 575.8 423.4 576.3 422.2 576.8 420.4 577.5 419.4 577.9 417.8 578.8 416.4 579.7 415.3 580.7 413.5 582.6 412.5 583.5 411.5 584.1 410.5 584.6 409.5 584.9 408.5 585.1 407.5 585.4 405.5 585.7 403.6 586 402.6 586.2 401.6 586.4 400.6 586.8 399.6 587.4 399.2 587.7 398.6 588.3 398.2 588.7 397.4 589.7 396.4 590.7 395.6 591.3 395.1 591.6 394.6 591.9 393.6 592.3 392.7 592.5 391.7 592.7 390.7 592.6 389.7 592.3 388.7 591.6 387.7 590.7 387.1 589.7 386.7 588.6 386.5 587.7 386.4 586.7 386.1 583.7 385.8 580.7 385.5 578.8 385.1 575.8 384.7 571.8 384.5 570.8 384.3 569.8 384.1 568.8 383.7 567.8 383.4 566.9 382.7 565.6 382.3 564.9 381.7 563.9 380.8 562.9 379.8 562.1 378.8 561.5 377.7 560.9 375.5 559.9 373.8 559.3 372.8 558.9 371.8 558.7 370.8 558.5 369.9 558.5 368.9 558.6 367.9 558.7 366.4 558.9 364.9 559.2 363.9 559.5 362.9 559.7 362.4 559.9 361.9 560.1 360.9 560.8 360.8 560.9 359.9 561.9 359.3 562.9 358.9 563.9 358.5 564.9 358 566.3 357.8 566.9 357.5 567.9 357.3 568.8 357.3 569.8 357.3 570.8 357.5 571.8 357.8 572.8 358.1 573.8 358.5 574.8 359 575.8 359.5 576.8 360 577.8 360.7 578.8 361.7 579.7 362.9 580.8 364.1 581.7 365.1 582.7 365.9 583.7 366.3 584.7 366.5 585.7 366.4 586.7 366.1 588.7 366 589.7 365.9 590.7 365.9 591.6 365.9 592.6 366.1 593.6 366.6 594.6 366.9 594.9 367.8 595.6 368.9 596.2 369.9 596.7 370.8 597.1 371.8 597.3 373 597.6 373.8 597.7 374.8 597.9 376.8 598.2 380.9 598.6 381.8 598.7 382.7 599 383.7 599.2 384.8 599.6 387.7 601 388.7 601.4 389.7 601.7 391.7 602.4 392.7 602.7 393.6 603.2 394.2 603.5 394.6 603.9 395.3 604.5 395.6 605 396 605.5 396.4 606.5 396.8 607.5 397.1 608.5 397.3 609.5 397.7 611.5 397.8 612.5 397.8 613.5 397.5 614.5 396.9 615.4 396.4 616.4 395.8 617.4 395.4 618.4 395.2 619.4 395 620.4 395 621.4 395.1 622.4 395.2 623.4 395.5 624.4 396.1 625.4 396.6 626 397 626.4 397.6 626.9 398.6 627.6 399.9 628.3 400.6 628.8 401.2 629.3 401.6 629.7 402 630.3 402.5 631.3 402.8 632.3 403 633.3 403.3 634.3 403.6 636.3 404 638.2 404.3 640.2 404.4 641.2 404.6 642.3 404.8 643.2 405.2 644.2 405.8 645.2 406.5 645.9 406.9 646.2 407.5 646.7 408.5 647.3 409.5 647.7 410.5 648.1 411.5 648.3 412.5 648.5 414.5 648.9 415.9 649.2ZM201.3 638.4 202.3 638.6 203.3 638.7 204.3 638.7 209.2 638.5 210.2 638.5 211.2 638.4 212.5 638.2 213.2 638.1 214.2 637.8 215.8 637.3 218 636.3 219.7 635.3 221 634.3 221.7 633.3 222 632.3 221.9 631.3 221.3 630.3 219.8 629.3 217.3 628.3 213.9 627.3 212.2 627 208.2 626.3 207.2 626.1 206.3 625.8 204.2 625.4 203.3 625.2 202.3 625.1 201.3 625.2 200.3 625.5 199.3 625.9 198.3 626.4 196.3 627.4 194.8 628.3 193.5 629.3 192.8 630.3 192.5 631.3 192.5 632.3 192.8 633.3 193.5 634.3 194.8 635.3 196.4 636.3 198.4 637.3 199.3 637.7 200.3 638.1 200.7 638.2ZM145.8 634.5 148.7 634.8 149.7 635 150.7 635 151.7 634.6 152 634.3 152.7 633.7 152.9 633.3 153.7 632.3 154.2 631.3 154.7 630.2 154.9 629.3 155.1 628.3 155.2 626.4 155.4 625.4 155.7 624.4 156.4 623.4 157.2 622.4 159 620.4 160.8 618.4 162.6 616.4 163.3 615.4 163.6 614.9 163.8 614.5 164 613.5 164.2 612.5 164.2 611.5 164.4 610.5 164.7 609.5 165.3 608.5 166.1 607.5 167.6 606 168.2 605.5 169 604.5 169.5 603.5 169.7 602.6 169.7 601.6 169.8 600.6 170.3 599.6 171.4 598.6 172.5 597.8 173.5 597.1 174.5 596.3 175.5 595.4 176.5 594.4 177.5 593.3 178.5 592.4 179.5 591.5 180.6 590.7 183.4 588.5 184.4 587.9 185.4 587.3 186.4 586.9 187.4 586.5 188.4 586.2 189.4 586 190.4 585.8 191.4 585.8 192.4 585.9 193.4 586.2 194.4 586.7 197.3 588.1 198.5 588.7 199.3 589.1 200.3 589.6 200.5 589.7 201.3 590.1 202.3 590.3 203.3 590.2 204.3 589.8 204.7 589.7 206.3 589.3 207.2 589.1 208.2 588.9 209.4 588.7 210.2 588.6 211.2 588.5 212.2 588.5 213.2 588.6 214.2 588.8 215.2 589 216.2 589.4 217.2 589.8 218.2 590.3 218.7 590.7 220 591.6 220.1 591.8 221.1 592.7 222.1 593.2 223.1 593 224.1 592.2 224.6 591.6 225.1 591.1 225.4 590.7 226.4 589.7 227.5 588.7 229.1 587.5 230.3 586.7 231.6 585.7 232.5 584.7 233.2 583.7 233.7 582.7 234.1 581.7 234.3 580.7 234.5 579.7 234.7 578.8 234.7 577.8 234.8 575.8 234.9 574.8 235 573.8 235.3 572.8 236 571.5 236.4 570.8 236.9 569.8 237 568.8 236.6 567.9 235.8 566.9 234.8 565.9 234 565.3 233.4 564.9 233 564.7 232 564.3 231 564.1 229.6 563.9 226.1 563.6 224.1 563.5 223.1 563.5 222.1 563.5 221.1 563.5 219.1 563.7 217.2 563.9 214.2 564.3 213.2 564.5 212.2 564.7 211.6 564.9 211.2 565 209.2 565.9 208.2 566.5 207.2 566.9 206.3 567.4 204.9 567.9 203.3 568.4 201.3 569.1 198.3 570.4 194.4 572 192.4 572.8 191.4 573.3 190.3 573.8 189.4 574.3 188.7 574.8 187.4 575.9 186.4 576.9 185.7 577.8 184.4 579.3 183.4 580.3 182.5 580.8 181.5 580.9 180.5 580.7 179.5 580.4 177.8 579.7 175.5 578.7 173.4 577.8 171 576.8 169.6 576.2 168.4 575.8 165 574.8 163.6 574.5 162.6 574.4 161.6 574.3 159.7 574.2 156.7 574 153.7 573.8 152.7 573.8 151.7 573.8 150.7 573.8 148.7 574 146.8 574.1 144.8 574.4 142.8 574.6 141.8 574.7 140.8 574.8 137.8 574.8 135.9 574.8 134.9 574.7 133.9 574.1 133.7 573.8 132.9 572.5 132.4 571.8 131.9 571.3 131 570.8 129.9 570.6 128.9 570.4 127.9 570.3 124.9 569.9 124 569.8 123 569.6 123 599.5 124.1 600.6 124.9 601.3 125.9 602.1 126.6 602.6 128.3 603.5 128.9 603.9 129.9 604.5 130.9 605.2 131.3 605.5 132.2 606.5 132.9 607.5 134 608.5 134.9 609 135.7 609.5 136.8 610.1 137.8 610.7 138.8 611.6 139.6 612.5 140.2 613.5 140.6 614.5 140.9 615.4 141.2 616.4 141.5 617.4 141.7 618.4 141.9 619.4 142 620.4 142 621.4 142 625.4 142 627.3 142 628.3 142.1 629.3 142.3 630.3 142.6 631.3 142.8 632 143.8 633.6 144.8 634.2 145.1 634.3ZM258.8 622.4 259.8 622.7 260.8 622.9 261.8 622.9 262.8 622.9 263.8 622.6 264.8 622.3 265.7 621.8 266.5 621.4 266.7 621.2 267.5 620.4 267.5 619.4 266.5 618.4 265.7 618.1 264.8 617.7 263.8 617.4 262.8 617.2 261.8 617.2 260.8 617.2 259.8 617.3 258.7 617.4 256.8 617.8 254.8 618.2 254 618.4 252.9 619.1 252.4 619.4 252.9 620.4 253.8 620.8 255.3 621.4 258.7 622.4ZM436.3 552.2 437.3 552.5 438.3 552.8 439.3 552.9 440.3 553 441.2 552.8 442.2 552.4 443.2 552 444.2 551.4 445.2 550.8 446.4 550 447.2 549.4 448.2 548.7 449.2 548.2 450.2 547.7 451.2 547.5 452.1 547.3 454.1 546.9 455.1 546.7 456.1 546.4 457.5 546 458.1 545.8 459.1 545.4 460.1 545 462.1 544.1 466 542 468 541 469 540.4 471.1 539.1 472 538.7 473.3 538.1 474 537.9 475 537.6 475.9 537.4 477.9 537 478.9 536.9 479.9 536.8 479.9 525.2 123 525.2 123 536.8 124 536.8 124.9 536.9 126.9 537 129.9 537.3 130.9 537.4 131.9 537.5 132.9 537.7 133.9 537.9 134.9 538.2 135.9 538.5 137.1 539.1 137.8 539.4 139.1 540.1 141.5 541.1 142.8 541.4 143.8 541.6 144.8 541.7 150.7 542.3 151.7 542.4 152.7 542.4 153.7 542.4 158.7 541.9 161.6 541.7 164.6 541.5 168.6 541.3 171.5 541.2 173.5 541.1 189.4 541.1 191.4 541.1 192.4 541 193.4 540.9 198.4 540.1 200.3 539.7 202.3 539.3 203.4 539.1 205.3 538.7 207.2 538.3 209.2 538 210.2 537.9 211.2 537.8 212.2 537.7 213.2 537.6 215.2 537.6 219.1 537.6 221.1 537.6 222.1 537.7 223.1 537.8 224.1 537.9 226.1 538.2 228.1 538.6 230 539 231 539.2 232 539.2 233 539.1 234 539 236 538.6 238 538.2 240 537.9 241 537.8 241.9 537.7 242.9 537.6 244.9 537.6 271.7 537.6 278.6 537.6 279.6 537.6 280.6 537.5 281.6 537.5 282.6 537.3 284.6 537 286.6 536.7 288.5 536.5 290.5 536.4 292.5 536.3 299.5 536 306.4 535.8 314.3 535.7 324.2 535.5 330.2 535.4 341.1 535.4 348 535.3 350 535.3 351 535.2 352 535.1 356.1 534.1 358 533.5 359.3 533.1 359.9 532.9 360.9 532.6 361.9 532.4 363.9 532 365.9 531.8 367.9 531.6 369.9 531.4 370.8 531.4 372.8 531.3 378.8 531.3 380.8 531.4 381.8 531.4 383.7 531.6 385.7 531.8 387.7 532.1 389.7 532.4 390.7 532.5 391.7 532.6 392.7 532.7 397.6 532.7 398.6 532.7 399.6 532.8 400.6 532.9 401.6 533.1 402.6 533.4 403.6 533.9 403.9 534.1 404.8 535.1 405.3 536.1 405.5 537.1 405.6 538.1 406 539.1 406.5 539.4 407.5 539.7 408.5 539.8 409.5 539.7 410.5 539.3 410.9 539.1 411.5 538.8 412.7 538.1 413.5 537.7 414.5 537.4 415.5 537.1 416.5 536.8 417.4 536.6 418.4 536.5 419.4 536.3 420.4 536.3 421.4 536.3 422.4 536.5 423.4 536.6 424.4 536.8 425.6 537.1 426.4 537.4 427.4 537.7 428.4 538.2 429.5 539.1 430.5 540.1 431.3 541.1 432 542.1 432.6 543.1 432.9 544.1 433.1 545 432.9 546 432.6 547 432.1 548 431.8 549 432.1 550 432.3 550.2 433.2 551 434.3 551.5 435.5 552Z" clip-path="url(#p8f56d1408e)" style="fill: #fda492"/>
   </g>
   <g shape-rendering="crispEdges" id="QuadContourSet_40">
    <path d="M124 703.7 479.9 703.7 479.9 688.3 478.9 688.5 476.5 688.8 474 689.3 472 689.7 471 689.9 470 690.1 469 690.3 468 690.4 466 690.7 464.9 690.8 463.1 691.1 462.1 691.3 461.1 691.6 460.8 691.8 460.1 692.4 459.1 693.6 458.3 694.8 457.4 695.8 457.1 696 456 696.7 455.1 697.2 454.1 697.6 453.1 697.9 452.1 698.2 451.2 698.4 450.2 698.6 449.2 698.6 442.2 698.9 440.3 699 438.3 699.2 435.3 699.5 433 699.7 431.3 700 430.3 700.1 429.3 700.1 427.4 700.1 423.4 700.1 421.4 700.1 420.4 700.1 419.4 699.9 418.2 699.7 416.5 699.5 415.5 699.3 414.5 699.2 413.5 698.9 412.5 698.7 411.5 698.5 410.5 698.3 409.5 698.1 408.5 697.7 407.5 697.5 406.5 697.1 405.5 696.6 404.6 696.1 404.1 695.8 403.6 695.2 403.1 694.8 402.4 693.8 401.9 692.8 401.6 692.4 401 691.8 400.6 691.5 399.6 691 399.2 690.8 396.1 689.8 393.6 689.3 392.7 689.1 391.7 689 390.7 688.8 389.7 688.8 387.7 688.8 371.8 688.7 363.9 688.8 361.9 688.8 360.9 688.9 359.9 689.2 358.9 689.4 357.9 689.8 356.9 690.8 356.8 691.8 356.9 692.8 356.5 693.8 356 694.3 355.4 694.8 355 695 354 695.4 352 696.2 351 696.6 350 697.1 348.9 697.7 348 698.3 346.1 699.4 345.1 699.9 344.1 700.3 343 700.7 342.1 701 341.1 701.3 340.1 701.5 338.1 701.9 337.1 702 335.1 702.3 333.2 702.5 331.2 702.6 327.2 702.8 323.3 703 321.3 703 314.3 703 311.4 703 308.4 702.9 304.4 702.8 301.4 702.6 299.5 702.5 297.5 702.3 295.5 702 294.5 701.9 292.5 701.5 291.5 701.3 290.5 701.1 289.4 700.7 288.5 700.5 287.6 700.1 286.6 699.7 285.6 699.3 284.4 698.7 283.6 698.4 282.2 697.7 281.6 697.5 280.6 697.2 279.6 696.9 277.6 696.4 276.7 696.2 275.6 695.8 274.6 694.8 275.6 693.8 276.7 693.4 278.1 692.8 279.6 692.4 280.6 692 281.6 691.5 282.6 690.9 283.6 690.1 284 689.8 285 688.8 286.6 687.1 287.6 686.1 288.5 685.3 289.1 684.9 289.5 684.5 290.5 683.9 291.5 683.4 292.5 683.3 293.5 683.3 294.5 683.5 296.1 683.9 298.5 684.3 300.4 684.6 301.4 684.8 302.4 684.9 304.4 684.9 309.4 684.9 311.6 684.9 313.3 684.7 315.3 684.5 317.3 684.2 318.3 684.1 319.4 683.9 320.3 683.6 321.3 683.2 322.3 682.7 324.2 681.5 325.4 680.9 326.2 680.4 327.1 679.9 328.4 678.9 328.6 677.9 328.1 676.9 327.2 675.9 326.3 674.9 325.1 673.9 324.2 673.4 323.6 673 322.3 672.3 321.3 671.9 320.3 671.7 319.3 671.6 318.3 671.5 314.3 671.5 312.3 671.6 311.4 671.6 309.4 671.8 305.4 672.1 303.4 672.3 302.4 672.4 301.4 672.5 300.4 672.7 299.2 673 297.5 673.4 295.5 673.8 294.5 674.1 292.5 674.6 291.5 675 289.9 675.9 289.5 676.2 288.3 676.9 287.6 677.3 286.6 677.7 285.6 678 284.6 678.3 283.6 678.5 278.6 679.4 276.7 679.7 274.7 680 269.7 680.5 266.7 680.7 262.8 681.1 260.8 681.3 256.4 681.9 251.9 682.5 249.8 682.9 247.9 683.3 245.9 683.9 244.1 684.9 243.8 685.8 244.2 686.8 244.7 687.8 245.1 688.8 245.3 689.8 246.1 692.8 246.2 693.8 246.1 694.8 245.6 695.8 244.8 696.7 243.8 697.7 242.9 698.4 242.6 698.7 241.4 699.7 241 700 239.8 700.7 239 701.1 238 701.5 237 701.8 236 702 235 702.2 234 702.4 233 702.5 230 702.8 227.1 703 224.1 703.2 222.1 703.3 217.2 703.4 207.2 703.5 202.3 703.6 194.4 703.6 190.4 703.6 180.5 703.4 172.5 703.3 165.6 703.1 159.7 702.9 155.7 702.8 153.7 702.7 152.7 702.6 151.7 702.5 150.7 702.4 149.7 702.2 148.7 702 147.5 701.7 146.8 701.5 145.8 701.1 144.8 700.7 143.8 700.2 141.8 698.9 141.6 698.7 140.8 698.3 138.8 697 137.8 696.3 137.2 695.8 136.8 695.4 136.3 694.8 135.6 693.8 135 692.8 134 690.8 133.9 690.6 132.9 689 131.9 688.2 130.9 688.1 127.9 688.2 124.9 688.2 124 688.3 123 688.3 123 703.7ZM170.6 684.9 172.5 685.1 174.5 685.3 178.5 685.6 180.5 685.7 181.5 685.8 182.5 685.8 183.4 685.8 190.4 685.6 192.4 685.5 194.4 685.3 200 684.9 202.3 684.4 204.5 683.9 203.3 683.3 202 682.9 195.3 682.1 193.4 682 192.4 681.9 191.4 681.9 189.4 681.9 183.4 682.2 180.5 682.3 175.5 682.6 173.5 682.7 172.1 682.9 169.6 683.4 167.6 683.9 170 684.9ZM231 685 232 685.2 233 685.2 234 685.1 235.1 684.9 233 684 232.4 683.9 231.3 683.9 231 683.9 230.1 684.9ZM409.5 645.3 410.5 645.7 411.5 645.9 412.5 645.8 413.5 645.7 414.5 645.5 415.5 645.1 416.5 644.5 416.8 644.2 417.4 643.5 417.6 643.2 418.1 642.2 418.7 640.2 419 639.2 419.4 638.1 420.3 636.3 420.4 636 421 635.3 421.4 634.5 421.7 634.3 422.4 633.3 422.4 633.2 423.2 632.3 423.1 631.3 422.4 630.8 422.2 630.3 421.4 629.5 421.3 629.3 420.4 628.3 419.4 627.3 418.4 626.6 418 626.4 417.4 626.1 416.5 625.7 415.3 625.4 414.5 625.2 413.5 625 410.5 624.5 409.5 624.3 408.5 624.1 407.5 623.7 406.5 623.2 405.5 622.6 404.6 621.8 404.2 621.4 403.4 620.4 402.6 619.2 401.6 618 400.6 617.4 399.6 617.6 398.7 618.4 398.6 618.5 398.1 619.4 397.8 620.4 397.6 621.4 397.5 622.4 397.6 623.4 398 624.4 398.7 625.4 399.6 626 400.6 626.6 402.3 627.3 402.6 627.5 403.6 628.3 404.1 629.3 404.5 630.3 404.7 631.3 405.3 635.3 405.6 637.3 406 639.2 406.2 640.2 406.5 641.3 406.8 642.2 407.3 643.2 407.5 643.5 408 644.2 408.5 644.7 409.3 645.2ZM149.7 620.6 150.7 621 151.7 621.2 152.7 621 153.6 620.4 153.7 620.3 154.3 619.4 154.7 618.4 154.7 617.4 154.4 616.4 153.7 615.1 153 614.5 152.7 614 151.9 613.5 151.7 613.1 150.8 612.5 150.7 612.4 149.7 611.9 148.7 612 148 612.5 147.8 613.5 147.8 615.4 147.8 616.4 147.8 617.4 148 618.4 148.5 619.4 149.5 620.4ZM153.7 606.8 154.7 606.9 155.7 607 158.7 607 159.7 607 160.6 606.9 161.6 606.7 162.6 606.1 163.3 605.5 163.6 605.2 164 604.5 164.2 603.5 164 602.6 163.6 601.6 163 600.6 162.8 599.6 163.3 598.6 163.6 598.4 164.4 597.6 165.6 596.8 166.6 596.2 168.6 595.3 170.4 594.6 171.5 594 172.1 593.6 172.5 593.3 173.5 592.2 174.7 590.7 176.2 588.7 176.5 588.2 177.5 587 177.8 586.7 178.5 585.7 178.2 584.7 176.4 583.7 173.5 582.7 172.5 582.4 171.5 582.2 168.6 581.6 167.6 581.4 166.6 581.2 164.6 580.6 163.6 580.4 162.6 580.3 161.6 580.4 160.6 580.7 159.7 581.2 157.7 582.2 156.7 582.8 155.1 583.7 154.7 584 153.6 584.7 152.7 585.5 152.3 585.7 151.7 586.4 151.1 586.7 150.7 587.3 150 587.7 149.7 588.2 148.9 588.7 148.7 589.2 147.9 589.7 148.7 590.3 148.8 590.7 149.7 591.4 149.8 591.6 150.7 592.4 150.8 592.6 151.7 593.5 151.8 593.6 152.7 594.5 152.8 594.6 153.7 595.4 153.9 595.6 155.2 596.6 155.7 596.9 156.8 597.6 157.7 598.2 158.3 598.6 158.9 599.6 158.3 600.6 157.7 600.9 156.7 601.6 155.3 602.6 154.2 603.5 153.7 604.2 153.4 604.5 153 605.5 153.3 606.5ZM128.9 594.8 129.9 594.9 130.9 595.1 131.9 595.4 132.9 595.6 133.9 595.6 134.9 595.4 136.8 594.9 138.8 594.4 139.8 594.1 141.5 593.6 142.8 593 143.7 592.6 143.8 592.5 144.8 591.8 145.3 591.6 145.8 591 146.6 590.7 146.8 590.1 147.6 589.7 146.8 589.3 146.6 588.7 145.8 588.3 145.5 587.7 144.8 587.3 144.4 586.7 143.8 586.4 143.1 585.7 142.8 585.6 141.8 584.9 141.5 584.7 139.8 584.1 138.8 583.9 137.8 583.7 136.8 583.5 135.9 583.4 134.9 583.3 133.9 583.3 132.9 583.3 131.9 583.3 130.9 583.3 128.9 583.5 126.9 583.8 125.9 583.9 124.9 584.2 124 584.5 123.5 584.7 123 585 123 593.2 124 593.9 124.9 594.2 125.9 594.4 127.9 594.6ZM377.8 594.8 378.8 595.1 379.8 595.3 380.8 595.4 381.8 595.3 382.7 595 383.6 594.6 383.7 594.3 384 593.6 383.7 592.6 383.3 591.6 383 590.7 382.8 589.7 382.7 588.7 382.6 587.7 382.4 584.7 382.3 579.7 381.9 572.8 381.9 571.8 381.8 570.8 381.5 569.8 381.1 568.8 380.8 568.3 380.3 567.9 379.8 567.3 378.8 566.6 375.8 565 373.6 563.9 372.8 563.5 371.8 563.1 370.8 562.9 369.9 563 368.9 563.3 367.7 563.9 366.9 564.4 366.2 564.9 364.9 566 363.9 566.9 363.1 567.9 362.5 568.8 362.2 569.8 362.3 570.8 362.7 571.8 363.9 574 364.4 574.8 365 575.8 365.6 576.8 366.3 577.8 367 578.8 369.4 581.7 369.9 582.4 370.1 582.7 370.6 583.7 370.9 584.7 370.8 585.7 370.5 586.7 370.1 587.7 369.8 588.7 369.9 589.7 370.2 590.7 370.8 591.5 371 591.6 371.8 592.2 372.8 592.7 373.8 593.1 375 593.6 376.8 594.4 377.3 594.6ZM479.9 593.2 479.9 585 479.2 585.7 478.9 586 478.5 586.7 478.1 587.7 477.9 588.7 478 589.7 478.3 590.7 478.9 591.9 479.5 592.6ZM221.1 590.1 222.1 590.3 223.1 590 223.6 589.7 224.1 589.4 225.1 588.6 227.8 586.7 229.1 585.7 230.2 584.7 231 583.6 231.6 582.7 232 581.7 232.4 580.7 232.6 579.7 232.7 578.8 232.8 577.8 232.8 576.8 232.7 574.8 232.6 573.8 232.5 572.8 232.3 571.8 232 571 231.9 570.8 231 569.9 230 569.4 229.1 569.2 228.1 569 227.1 568.8 224.1 568.1 223.1 568 222.1 567.9 221.1 567.9 218.2 568.3 216.2 568.5 214.2 568.7 212.2 569 211.2 569.2 208.2 569.8 204.3 570.5 203.3 570.7 202.3 570.9 201.3 571.3 199.3 572 197.3 572.8 195 573.8 193.4 574.6 192.4 575.2 191.4 575.8 190.2 576.8 189.3 577.8 188.5 578.8 188.1 579.7 187.9 580.7 188.2 581.7 188.4 582 189.3 582.7 190.4 583.1 191.4 583.4 192.4 583.8 193.4 584.3 193.9 584.7 194.4 585 195.5 585.7 196.3 586.1 197.4 586.7 198.3 587.1 200.3 588 201.3 588.3 202.3 588.5 203.3 588.5 204.3 588.4 207.2 588 209.2 587.8 210.2 587.7 211.2 587.7 212.2 587.7 213.2 587.7 214.2 587.9 215.2 588.1 216.2 588.3 217.7 588.7 219.1 589.2 220.2 589.7ZM239 532.2 240 532.3 241 532.5 241.9 532.5 242.9 532.6 244.9 532.6 280.6 532.6 327.2 532.5 338.1 532.5 340.1 532.5 341.1 532.5 342.1 532.4 343.1 532.3 344.1 532.1 345.1 531.9 346.1 531.7 347 531.5 348.2 531.2 349 530.9 350 530.5 352 529.7 353.5 529.2 355 528.8 356 528.5 358 528.1 358.9 528 359.9 527.8 360.9 527.7 361.9 527.7 363.9 527.7 372.8 527.6 382.7 527.6 392.7 527.7 401.6 527.7 411.5 527.7 466 527.7 468 527.7 469 527.7 470 527.8 471 527.9 472 528 473.1 528.2 475 528.6 475.9 528.8 477.2 529.2 478.9 529.7 479.9 530 479.9 525.2 123 525.2 123 530 124 530.1 124.9 530.2 127.9 530.2 227.3 530.2 229.1 530.2 230 530.2 231 530.3 232 530.4 233 530.6 235 531.2 236 531.5 237 531.7 238.9 532.2Z" clip-path="url(#p8f56d1408e)" style="fill: #fc8570"/>
   </g>
   <g shape-rendering="crispEdges" id="QuadContourSet_41">
    <path d="M124 701 124.9 700.9 126 700.7 126.9 700.5 127.9 700.2 128.9 699.9 129.4 699.7 129.9 699.3 130.6 698.7 130.5 697.7 129.9 696.7 128.3 694.8 127.3 693.8 125.9 692.8 124.9 692.3 124 692 123 691.8 123 701.1ZM387.7 700.7 388.7 700.9 389.7 701 390.7 701 391.7 701 392.7 700.9 393.7 700.7 394.6 700.5 395.6 700.2 396.6 699.9 397.1 699.7 397.6 699.3 398.3 698.7 398.2 697.7 397.6 696.7 396.8 695.8 395.8 694.8 394.7 693.8 393.2 692.8 392.7 692.5 391.7 692 390.7 691.8 389.7 691.7 388.7 691.7 387.7 691.8 386.7 692 385.7 692.3 384.7 692.5 383.9 692.8 382.7 693.4 382.1 693.8 381.2 694.8 380.9 695.8 380.9 696.7 381.2 697.7 382 698.7 382.7 699.1 383.9 699.7 384.7 700 385.7 700.3 386.7 700.5 387.6 700.7ZM468 700.8 469 701 470 701.1 471 701.1 473 701.2 476.9 701.2 478.9 701.2 479.9 701.1 479.9 691.8 478.9 692 477.9 692.3 476.9 692.8 475.3 693.8 475 694 473.8 694.8 473 695.2 472 695.6 471 696 470 696.2 469 696.4 467.3 696.7 466 697.1 465 697.4 464 697.7 463.1 698.7 464 699.7 465 700.1 466 700.4 467.3 700.7ZM254.8 691.9 255.8 692.1 257.8 692.4 259.8 692.6 260.8 692.6 261.8 692.6 262.8 692.6 264.8 692.4 269.7 692 270.7 691.9 271.7 691.8 272.7 691.6 274.7 691.2 276.7 690.8 278.6 690.3 279.6 690 280.6 689.7 281.6 689.1 282 688.8 282.6 688.2 283 687.8 283.7 686.8 284.3 685.8 284.9 684.9 285.2 683.9 284.9 682.9 284.6 682.6 283.6 682 283.2 681.9 282.6 681.7 281.6 681.6 280.6 681.5 279.6 681.5 275.7 681.7 272.7 681.8 269.7 681.9 265.7 682.1 263.8 682.2 262.8 682.3 261.8 682.4 259.8 682.6 258.1 682.9 252.7 683.9 251.9 684.1 250.9 684.5 250.2 684.9 249.9 685.2 249.4 685.8 249.4 686.8 249.6 687.8 250 688.8 250.6 689.8 250.9 690.1 251.7 690.8 251.9 690.9 252.9 691.4 253.8 691.7 254.2 691.8ZM409.5 642.3 410.5 643 411.5 643.1 412.5 642.7 413.2 642.2 413.5 642 414.2 641.2 414.5 640.8 414.9 640.2 415.4 639.2 415.8 638.2 416.1 637.3 416.5 636.2 416.7 635.3 416.9 634.3 416.9 633.3 416.9 632.3 416.7 631.3 416.4 630.3 415.9 629.3 415.5 628.8 415 628.3 414.5 628 413.5 627.4 412.5 627.1 411.5 626.8 410.5 626.7 409.5 626.7 408.5 627 407.9 627.3 407.5 627.7 407.2 628.3 407 629.3 406.9 630.3 406.9 631.3 406.9 632.3 406.9 633.3 407 634.3 407.1 635.3 407.3 636.3 407.5 637.6 407.7 638.2 407.9 639.2 408.3 640.2 408.5 640.8 408.8 641.2 409.4 642.2ZM219.1 587.9 220.1 588.1 221.1 588.3 222.1 588.3 223.1 588 224.1 587.5 225.3 586.7 226.6 585.7 227.7 584.7 228.5 583.7 229.1 582.7 229.6 581.7 229.9 580.7 230.2 579.7 230.3 578.8 230.2 577.8 230 576.8 229.7 575.8 229.2 574.8 229.1 574.7 228.1 573.8 227.1 573.2 226.1 572.8 225.1 572.4 224.1 572.2 223.1 572 221.9 571.8 221.1 571.7 219.1 571.6 215.2 571.5 213.2 571.5 212.2 571.5 211.2 571.6 208.2 571.9 205.3 572.4 204.3 572.5 203.3 572.7 202.3 573 201.3 573.3 200 573.8 197.7 574.8 195.8 575.8 194.3 576.8 193 577.8 192.2 578.8 192 579.7 192.4 580.7 193.4 581.7 195.3 583.5 195.5 583.7 196.8 584.7 198.3 585.7 199.3 586.2 200.4 586.7 201.3 587 202.3 587.2 203.3 587.3 204.3 587.3 208.2 587 210.2 586.9 211.2 586.9 212.2 586.9 213.2 586.9 214.2 587 215.2 587.1 216.2 587.3 217.2 587.4 218.4 587.7Z" clip-path="url(#p8f56d1408e)" style="fill: #fc6a4e"/>
   </g>
   <g shape-rendering="crispEdges" id="QuadContourSet_42">
    <path d="M258.8 688.8 259.8 689.2 260.8 689.5 261.8 689.7 262.8 689.8 263.8 689.8 268.7 689.6 269.7 689.5 270.7 689.5 271.7 689.3 272.7 689.1 273.9 688.8 276.1 687.8 276.7 687.4 277.5 686.8 278.3 685.8 278 684.9 276.7 684.4 275.7 684.2 274.1 683.9 272.7 683.7 271.7 683.7 270.7 683.7 264.8 683.8 263.8 683.9 262.8 683.9 261.8 684.1 260.8 684.3 259.8 684.5 258.8 684.9 257.4 685.8 257.1 686.8 257.5 687.8 257.8 688.1 258.8 688.8ZM410.5 638.7 411.5 638.8 412 638.2 412.5 637.6 412.7 637.3 413 636.3 413.3 635.3 413.5 634.3 413.4 633.3 413.2 632.3 412.9 631.3 412.5 630.5 412.3 630.3 411.5 629.7 410.5 629.7 409.7 630.3 409.5 630.7 409.3 631.3 409.1 632.3 409.1 633.3 409.1 634.3 409.2 635.3 409.4 636.3 409.5 636.9 409.7 637.3 410.2 638.2ZM220.1 586.7 221.1 586.8 222.1 586.7 223.1 586.3 224.1 585.6 225.2 584.7 225.9 583.7 226.5 582.7 226.9 581.7 227.2 580.7 227.3 579.7 227.2 578.8 226.8 577.8 226.3 576.8 226.1 576.5 225.4 575.8 225.1 575.5 224 574.8 223.1 574.4 222.1 574.1 221.1 573.9 220.1 573.8 217.2 573.5 215.2 573.4 214.2 573.3 213.2 573.3 212.2 573.3 211.2 573.4 210.2 573.5 208.2 573.8 205.3 574.4 204.3 574.6 203.3 574.8 202.3 575.1 201.3 575.5 200.3 575.9 198.7 576.8 197.3 577.8 196.2 578.8 195.8 579.7 196 580.7 196.7 581.7 197.4 582.7 198.3 583.7 199.5 584.7 200.3 585.2 201.3 585.7 202.3 586 203.3 586.1 204.3 586.2 209.2 586 211.2 586 212.2 586 213.2 586 215.2 586.2 217.2 586.3 219.9 586.7Z" clip-path="url(#p8f56d1408e)" style="fill: #fc4828"/>
   </g>
   <g shape-rendering="crispEdges" id="QuadContourSet_43">
    <path d="M204.3 584.8 205.3 584.8 214.2 585 219.1 585.1 220.1 585.1 221.1 585 222.1 584.7 223.1 583.8 223.2 583.7 223.8 582.7 224.1 581.7 224.3 580.7 224.3 579.7 224 578.8 223.2 577.8 223.1 577.6 222.1 576.9 221.1 576.6 220.1 576.4 215.4 575.8 214.2 575.7 213.2 575.6 212.2 575.6 211.2 575.7 210.2 575.9 208.2 576.3 204.3 577.1 203.3 577.3 202.3 577.6 201.9 577.8 201.3 578.1 200.3 578.8 199.6 579.7 199.5 580.7 199.9 581.7 200.4 582.7 201.3 583.7 202.3 584.3 203.3 584.7 203.5 584.7Z" clip-path="url(#p8f56d1408e)" style="fill: #ff2a00"/>
   </g>
   <g id="matplotlib.axis_9">
    <g id="xtick_15">
     <g id="line2d_229">
      <g>
       <use href="#m8d3a855a7b" x="122.96" y="703.68" style="stroke: #000000"/>
      </g>
     </g>
     <g id="text_61">
      <text style="font-size: 8px; font-family: 'DejaVu Sans', sans-serif; text-anchor: middle" x="122.96" y="716.76" transform="rotate(-0 122.96 716.76)">0°E</text>
     </g>
    </g>
    <g id="xtick_16">
     <g id="line2d_230">
      <g>
       <use href="#m8d3a855a7b" x="182.45" y="703.68" style="stroke: #000000"/>
      </g>
     </g>
     <g id="text_62">
      <text style="font-size: 8px; font-family: 'DejaVu Sans', sans-serif; text-anchor: middle" x="182.45" y="716.76" transform="rotate(-0 182.45 716.76)">60°E</text>
     </g>
    </g>
    <g id="xtick_17">
     <g id="line2d_231">
      <g>
       <use href="#m8d3a855a7b" x="241.94" y="703.68" style="stroke: #000000"/>
      </g>
     </g>
     <g id="text_63">
      <text style="font-size: 8px; font-family: 'DejaVu Sans', sans-serif; text-anchor: middle" x="241.94" y="716.76" transform="rotate(-0 241.94 716.76)">120°E</text>
     </g>
    </g>
    <g id="xtick_18">
     <g id="line2d_232">
      <g>
       <use href="#m8d3a855a7b" x="301.43" y="703.68" style="stroke: #000000"/>
      </g>
     </g>
     <g id="text_64">
      <text style="font-size: 8px; font-family: 'DejaVu Sans', sans-serif; text-anchor: middle" x="301.43" y="716.76" transform="rotate(-0 301.43 716.76)">180°</text>
     </g>
    </g>
    <g id="xtick_19">
     <g id="line2d_233">
      <g>
       <use href="#m8d3a855a7b" x="360.92" y="703.68" style="stroke: #000000"/>
      </g>
     </g>
     <g id="text_65">
      <text style="font-size: 8px; font-family: 'DejaVu Sans', sans-serif; text-anchor: middle" x="360.92" y="716.76" transform="rotate(-0 360.92 716.76)">120°W</text>
     </g>
    </g>
    <g id="xtick_20">
     <g id="line2d_234">
      <g>
       <use href="#m8d3a855a7b" x="420.42" y="703.68" style="stroke: #000000"/>
      </g>
     </g>
     <g id="text_66">
      <text style="font-size: 8px; font-family: 'DejaVu Sans', sans-serif; text-anchor: middle" x="420.42" y="716.76" transform="rotate(-0 420.42 716.76)">60°W</text>
     </g>
    </g>
    <g id="xtick_21">
     <g id="line2d_235">
      <g>
       <use href="#m8d3a855a7b" x="479.90" y="703.68" style="stroke: #000000"/>
      </g>
     </g>
     <g id="text_67">
      <text style="font-size: 8px; font-family: 'DejaVu Sans', sans-serif; text-anchor: middle" x="479.90" y="716.76" transform="rotate(-0 479.90 716.76)">0°W</text>
     </g>
    </g>
   </g>
   <g id="matplotlib.axis_10">
    <g id="ytick_43">
     <g id="line2d_236">
      <g>
       <use href="#me4d9d56b5a" x="122.96" y="703.68" style="stroke: #000000"/>
      </g>
     </g>
     <g id="text_68">
      <text style="font-size: 8px; font-family: 'DejaVu Sans', sans-serif; text-anchor: end" x="115.96" y="706.72" transform="rotate(-0 115.96 706.72)">90°S</text>
     </g>
    </g>
    <g id="ytick_44">
     <g id="line2d_237">
      <g>
       <use href="#me4d9d56b5a" x="122.96" y="673.94" style="stroke: #000000"/>
      </g>
     </g>
     <g id="text_69">
      <text style="font-size: 8px; font-family: 'DejaVu Sans', sans-serif; text-anchor: end" x="115.96" y="676.98" transform="rotate(-0 115.96 676.98)">60°S</text>
     </g>
    </g>
    <g id="ytick_45">
     <g id="line2d_238">
      <g>
       <use href="#me4d9d56b5a" x="122.96" y="644.19" style="stroke: #000000"/>
      </g>
     </g>
     <g id="text_70">
      <text style="font-size: 8px; font-family: 'DejaVu Sans', sans-serif; text-anchor: end" x="115.96" y="647.23" transform="rotate(-0 115.96 647.23)">30°S</text>
     </g>
    </g>
    <g id="ytick_46">
     <g id="line2d_239">
      <g>
       <use href="#me4d9d56b5a" x="122.96" y="614.45" style="stroke: #000000"/>
      </g>
     </g>
     <g id="text_71">
      <text style="font-size: 8px; font-family: 'DejaVu Sans', sans-serif; text-anchor: end" x="115.96" y="617.49" transform="rotate(-0 115.96 617.49)">0°</text>
     </g>
    </g>
    <g id="ytick_47">
     <g id="line2d_240">
      <g>
       <use href="#me4d9d56b5a" x="122.96" y="584.70" style="stroke: #000000"/>
      </g>
     </g>
     <g id="text_72">
      <text style="font-size: 8px; font-family: 'DejaVu Sans', sans-serif; text-anchor: end" x="115.96" y="587.74" transform="rotate(-0 115.96 587.74)">30°N</text>
     </g>
    </g>
    <g id="ytick_48">
     <g id="line2d_241">
      <g>
       <use href="#me4d9d56b5a" x="122.96" y="554.96" style="stroke: #000000"/>
      </g>
     </g>
     <g id="text_73">
      <text style="font-size: 8px; font-family: 'DejaVu Sans', sans-serif; text-anchor: end" x="115.96" y="558.00" transform="rotate(-0 115.96 558.00)">60°N</text>
     </g>
    </g>
    <g id="ytick_49">
     <g id="line2d_242">
      <g>
       <use href="#me4d9d56b5a" x="122.96" y="525.21" style="stroke: #000000"/>
      </g>
     </g>
     <g id="text_74">
      <text style="font-size: 8px; font-family: 'DejaVu Sans', sans-serif; text-anchor: end" x="115.96" y="528.25" transform="rotate(-0 115.96 528.25)">90°N</text>
     </g>
    </g>
   </g>
   <g id="line2d_243">
    <path d="M474.4 578.8 475.5 578.1 477.9 578 479.2 577.2 479.9 576.2" clip-path="url(#p8f56d1408e)" style="fill: none; stroke: #000000; stroke-width: 0.3; stroke-linecap: square"/>
   </g>
   <g id="line2d_244">
    <path d="M123 576.2 123.2 576 123 575.7" clip-path="url(#p8f56d1408e)" style="fill: none; stroke: #000000; stroke-width: 0.3; stroke-linecap: square"/>
   </g>
   <g id="line2d_245">
    <path d="M479.9 575.7 479.6 575.3 479.9 575" clip-path="url(#p8f56d1408e)" style="fill: none; stroke: #000000; stroke-width: 0.3; stroke-linecap: square"/>
   </g>
   <g id="line2d_246">
    <path d="M123 575 123.9 574 126.1 572.9 126 571.8 127.4 571.4 128.9 571.7 131.7 570.4 133.1 570.9 133.9 572.3 135.4 573.3 136.8 574 138.4 574.7 138.5 576.8 139.4 576.3 139.9 575.8 139.3 575 140 574.4 141.3 574.7 140.8 574.2 138.8 573.3 136.8 572.3 136.4 571.3 135.2 570.3 135.2 569.5 136.5 569.1 136.4 569.8 137.3 569.6 138.3 570.8 139.2 571.3 140.8 572.1 142.2 573 142.2 574.3 142.8 575.2 143.5 576 144.1 577 144.6 578 145.3 578.4 145.8 578.3 145.6 577.3 146 576.8 146.8 576.6 145.8 575.8 145.4 574.8 145.7 574.2 146.7 574 148.7 574 149 574.5 150.2 573.9 151.7 573.7 150.9 573.2 150.6 572.1 151.3 571 152.4 569.6 153.4 568.3 154.4 568.3 155.7 568.8 155.2 569.4 156.2 570.3 157.7 570 159.2 569.5 158.2 569.2 157.9 568.5 160.1 567.9 161.9 567.7 160.8 568.6 160.1 570.1 162.3 571.2 164.2 573.2 162.6 573.8 160.1 573.8 158.2 573.1 155.7 572.8 154.2 573.5 151.8 573.8 150.2 574.4 149 574.8 149.5 575.8 149.9 576.4 150 577.8 150.7 578.1 152.2 578.6 153.3 578 154.7 578.3 156.7 578.5 158.2 578.2 158.9 578.2 158.5 579.3 158.6 580.1 157.9 581.6 157.6 582.3 156.9 583.4 155.2 583.6 153.7 583.1 152.5 583.5 149.7 583.3 147.8 583.1 145.8 582.1 143.8 581.9 142.8 583.2 141.8 584.4 139.8 583.5 138.1 582.4 135.9 581.8 134 581.5 133.2 580.7 133.9 579.3 133.2 577.9 133.9 577.8 132.7 577.5 131.4 577.9 129.4 577.8 125.9 578 123 578.9" clip-path="url(#p8f56d1408e)" style="fill: none; stroke: #000000; stroke-width: 0.3; stroke-linecap: square"/>
   </g>
   <g id="line2d_247">
    <path d="M479.9 578.9 477.9 579.7 474.7 578.9 474 579.3 473.2 580.7 472.4 581.1 470.7 582.2 470.2 584.2 468.5 586.5 467 587.2 465.5 588.7 464 590.7 463.1 593.1 463.9 595.1 464 596.5 463.6 598.4 462.6 599.9 463.4 601.1 463.3 602.1 464.5 603.1 465.5 604 466.7 605 466.8 606 468.5 607.6 471 609.5 472.5 610.1 475 609.4 477.9 609.8 479.9 608.9" clip-path="url(#p8f56d1408e)" style="fill: none; stroke: #000000; stroke-width: 0.3; stroke-linecap: square"/>
   </g>
   <g id="line2d_248">
    <path d="M123 608.9 124 608.5 125.4 608.2 127.4 608.2 128.9 610.2 131.4 609.9 132.4 610.6 132.7 612 131.9 615.4 132.9 617.2 134.7 618.9 136.1 623.2 135.4 627.3 134.7 630.3 134.7 631.5 135.7 633.8 137.3 637.2 138 640.7 139.3 642.8 140.3 645.2 141.3 648.5 142.8 649 144.8 648.4 148.3 648.1 150.2 647.2 152.7 645.2 153.7 644 155.2 642.7 155.6 640.2 158.2 638.2 158 636.3 157.5 634.3 159.2 632.8 161.6 631.3 163.1 629.3 163.1 625.4 162.1 622.4 161.9 621.2 162.3 618.5 164.1 616.2 166.1 614 167.9 612.5 170.6 609.5 172 606.5 173.7 602.8 167.6 604 165.9 603 165.6 602 164.6 600.6 162.1 599 161.1 596.6 159.8 595 159.7 593.1 158.2 591.6 156.7 588.7 155.3 584.8 156.2 586.7 157 586.9 157.6 585.2 157.7 586.7 161.1 591.2 161.8 593.1 163.6 595.6 165.1 598.1 165.8 601.3 166.1 601.9 167.6 601.8 174.7 599 176.5 597.6 178 596.8 180.3 595.1 182.3 592.1 181.1 591.1 180 590.8 178.9 589.8 178.8 588.4 176.5 590.6 174.5 590.7 173.8 588.6 173.3 589.9 172.7 588.5 171.1 586.3 170.6 584.8 172 584.7 175 587.3 177 588.1 178.8 587.6 179.8 588.9 182 589.3 184.7 589.6 186.9 589.4 189.4 589.9 190.9 591.2 192.4 591.8 191.4 592.3 192.4 593.6 194.4 593.1 195.2 595.6 195.8 598.6 196.8 600.6 197.3 602.1 198.6 605 199.8 606.4 201.6 604.2 202.2 601.6 202.6 599.1 204.6 598 207 595.3 208.7 594.3 209.2 593.1 210.7 592.9 212.7 592.4 214 592.2 214.5 593.9 215.9 595.6 216.4 598.6 217.7 598.8 219.1 597.8 219.8 598.6 220.4 601.6 220.7 604.5 220.4 606.5 222.1 608 222.5 609.5 223.4 611.7 225.6 613.2 226.3 613.1 225.6 611 225.5 609.5 222.6 607.1 221.6 605 221.3 604 222.6 601.1 223.1 601.9 224.6 602.6 226.9 605.9 228.6 605 229.6 604 231.2 603.1 231.3 601.1 230.8 599.1 229.1 597.6 227.9 595.8 228.8 593.8 230 593.1 231.8 593.1 232 594.3 232.5 593.4 234 592.8 237.5 591.8 239 591.1 240.8 589.9 242.4 587.2 243.8 584.8 243.8 583.7 242.9 582.2 242.2 580.4 241.2 579.7 242.4 578.7 244.4 577.4 242.7 577 241 577.6 240 576.5 239.7 575.8 241 575.3 242.9 574 243.5 575.8 244.4 574.8 246.2 574.9 246.9 576.3 248.4 577.3 248.2 579.7 248.4 580.3 250.9 579.7 251.4 578.3 251.3 577.3 250.2 576.2 249.4 575.1 251.6 573.8 252.6 572.5 253.7 571.8 255 572.1 257.3 570.9 259.3 569.3 261.8 566.9 262.3 564.9 263.2 562.4 262.8 561.6 260.8 560.8 259.3 560.9 257.8 560.3 259.8 558.4 262.8 556.3 264.8 555.7 267.7 555.8 270.7 555.4 272.5 555.4 275.7 555.8 276.7 554.5 278.6 553.3 281.6 553.2 283.1 554.7 279.4 557.1 278.1 559.4 278.3 563.9 281.6 560.4 283.6 558.7 284.9 557.1 283.6 556.4 286.1 555.2 288.1 554.7 291.5 555 293.5 554 296 553.2 299 552.5 300.9 552.7 302.4 552 299 550.3 303.4 549.5 307.4 550.5 308.9 550.6 309.4 549.5 311.6 549 309.9 548.2 306.4 547.5 302.4 546.1 296.5 545.2 292 544.9 287.6 545.4 282.6 545.4 281.6 544.3 277.6 544.1 273.7 544.2 271.7 543.6 266.7 542.8 261.8 542.6 260.8 543.6 256.8 543.5 251.9 544.1 250.4 542.6 247.9 541.6 243.9 542.1 240 541.6 235 541.3 234 539.1 230 538.4 226.1 537.4 220.1 539.1 215.2 539.3 210.2 540.1 208.2 541.1 204.3 541.6 202.8 542.6 202.8 544.1 200.3 542.8 197.3 542.6 195.3 543.6 195.3 547 194.4 546 195.3 543.6 192.4 542.1 190.4 544.1 189.4 545.5 186.4 545.8 182.5 546.5 179.5 546.5 172.5 547.2 168.6 547 166.6 546.5 166.1 548.5 163.6 548.5 162.6 549.5 158.7 550.5 157.5 550.5 157.7 548.7 163.6 548 163.6 548.2 160.6 546.8 155.7 545.7 152.7 545.2 147.8 544.1 142.8 545 138.8 546 136.8 547.5 133.4 551 129.9 552.2 127.9 553.5 127.9 555 128.4 556.2 129.9 556.9 131.9 556.3 133.4 555.5 133.9 556.2 134.7 556.9 135.8 559.5 137.1 559.4 138.8 558.7 139.3 557.4 141.5 555.2 140.3 554.3 140.3 552.5 141.8 551.5 144.3 550.2 145.3 549.2 147.3 549.2 148.2 550 147.3 551 144.8 552 144.3 553.5 144.3 554.5 145.8 555.1 150.2 554.5 152.7 555 150.7 555.5 147.3 555.6 146.3 556.2 147 557.7 144.8 557.4 143.8 558.4 144 559.4 142.5 560.4 137 561 134.9 560.7 133.9 560.9 132.8 560.1 133.4 558.4 133.5 557.2 131.4 557.9 131 559.4 131.6 560.9 131.4 561.4 127.9 561.5 127.6 562.4 126.9 563.1 125.9 563.6 124.6 564 124.5 564.9 123 565.3" clip-path="url(#p8f56d1408e)" style="fill: none; stroke: #000000; stroke-width: 0.3; stroke-linecap: square"/>
   </g>
   <g id="line2d_249">
    <path d="M479.9 565.3 478.3 565.2 478.4 566.2 476.9 566.1 475.3 566.5 475.7 567.1 477.4 567.6 478.7 568.8 478.7 570.3 478.4 571.3 476.9 571.4 474.2 571.2 472 571.1 470.7 571.8 471.2 572.8 471.2 574.3 470.5 576 471 577.8 472.5 577.6 473.7 578 474.4 578.8" clip-path="url(#p8f56d1408e)" style="fill: none; stroke: #000000; stroke-width: 0.3; stroke-linecap: square"/>
   </g>
   <g id="line2d_250">
    <path d="M313.3 549.4 315.3 546.1 324.4 543.8 331.2 544.6 340.1 545.3 346.1 545.5 353 545 360.9 546 365.9 547 372.8 547 382.7 547.5 384.7 547 385.2 545.5 384.2 544.1 386.2 543.1 388.7 544.1 388.2 545.5 390.7 546.2 392.7 546.5 393.6 545.2 396.1 545.2 398.6 546.5 399.1 548 396.6 548.5 394.6 548.7 393.2 550.5 390.7 551.2 386.7 555 386.7 556.4 388.7 557.9 392.7 558.9 398.6 559.9 398.6 561.9 400.6 563.4 401.6 560.4 404.1 558.4 403.6 555 402.6 552.5 407.5 553 410.5 554 411 556 415.5 555 418.4 557.9 424.4 562.4 423.4 563.4 420.4 564.7 414.5 564.7 410.5 567.4 415.5 565.9 416 566.9 415.5 568.8 419.4 569.3 410.5 571.1 410 573 406.5 574.3 405.1 576.8 404.6 579.7 402.6 580.9 399.6 583.2 400.6 587.7 400.1 589.5 398.6 588.2 397.6 585.5 395.6 585 391.7 584.5 390.7 585.6 386.7 585.1 383.4 587.2 382.9 592.6 384.7 595.6 386.2 596.4 389.2 596.1 390.2 593.6 393.6 593.1 392.2 598.6 396.6 599.1 397.1 602.6 397.1 604 399.1 605.5 401.1 605 403.1 605.9 404.6 605.2 405.5 603.5 408.5 602.6 409 604 412.5 604 416.5 603.8 418.9 604.5 420.4 606 423.4 608.5 426.4 608.7 428.8 610.3 430.3 613 430.3 614.9 432.3 615.4 436.3 616.9 440.3 617.2 443.2 619.2 445 619.9 445.2 622.4 443.2 625.4 441.4 627.3 441.2 631.3 440.3 634.3 439.3 636.3 436.3 637.3 432.3 640.2 431.7 642.7 429.3 645.2 427.4 647.9 425.4 649.2 422.4 648.7 423.4 650.6 422.9 652.1 418.4 653.1 418.1 654.8 415.5 655.1 416.2 656.6 415 659.1 413 660.6 414.5 662 412 664.5 411.5 666.3 410.5 666.8 408.5 667.5 406 666.5 405.1 661.1 406.5 658.1 407 656.1 406.8 653.1 407.3 651.1 408.5 647.2 409 644.2 409.1 639.2 410.2 634.3 410 632.3 408.5 631.3 404.6 628.3 401.6 622.4 399.6 620.4 399.4 618.9 400.6 617.4 400.1 615.4 400.6 613.5 401.8 612.7 403.1 610.5 403.3 607.5 402.6 606 401.1 605.7 400.1 607 398.6 606.3 396.6 605 394.9 604.5 394.9 603.3 393.2 601.6 389.2 600.6 386.7 598.6 384.2 598.9 377.3 596.3 375.3 594.6 375.5 592.9 374.8 591.6 366.4 583.2 367.9 585.2 368.9 588.7 370.8 591.6 368.9 589.9 365.4 585.2 363.9 582.2 362.4 580.7 360.3 580.1 358.5 577.3 357 574.5 356.5 571.8 357 568.6 356.3 566.5 358 566.4 356.5 564.9 353.5 563.9 349 558.4 345.1 556.4 341.1 555.2 333.2 554.5 331.2 555.5 329.2 554.5 325.2 557.4 322.3 558.9 319.3 559.9 316.8 560.4 319.3 559.4 323.3 556.3 316.3 554 316.3 552.5 317.3 551.8 320.3 550.5 315.3 550.4 313.3 549.4" clip-path="url(#p8f56d1408e)" style="fill: none; stroke: #000000; stroke-width: 0.3; stroke-linecap: square"/>
   </g>
   <g id="line2d_251">
    <path d="M407.5 536.6 414.5 534.1 420.4 533.1 435.3 532.7 450.2 531.7 460.1 533.1 468 533.6 462.1 535.1 461.1 538.1 459.1 540.6 458.1 543.1 456.1 544.6 453.1 546.5 448.2 547 443.2 549.2 440.3 550 438.3 552.5 436.8 555 434.3 554.2 431.3 553 427.4 549 426.9 546.5 425.9 544.6 424.4 542.6 422.4 540.1 418.4 539.1 412.5 538.6 407.5 537.1 407.5 536.6" clip-path="url(#p8f56d1408e)" style="fill: none; stroke: #000000; stroke-width: 0.3; stroke-linecap: square"/>
   </g>
   <g id="line2d_252">
    <path d="M474.3 564.8 476.4 564.5 478.9 564.2 479.9 564" clip-path="url(#p8f56d1408e)" style="fill: none; stroke: #000000; stroke-width: 0.3; stroke-linecap: square"/>
   </g>
   <g id="line2d_253">
    <path d="M123 564 124.4 563.7 123.9 563.1 124.7 562.2 123.3 561.7 123 561.1" clip-path="url(#p8f56d1408e)" style="fill: none; stroke: #000000; stroke-width: 0.3; stroke-linecap: square"/>
   </g>
   <g id="line2d_254">
    <path d="M479.9 561.1 479.7 560.7 478.4 559.4 477.4 558.8 478 557.3 476.8 556.3 475 556.3 474.2 557.4 474.4 558.6 475 559.2 475.1 560.1 476.6 560 476.9 561 476.8 561.6 475.4 561.6 475.7 562.7 474.7 563.1 476.4 563.5 475.4 563.9 474.3 564.8" clip-path="url(#p8f56d1408e)" style="fill: none; stroke: #000000; stroke-width: 0.3; stroke-linecap: square"/>
   </g>
   <g id="line2d_255">
    <path d="M474 562.9 473.9 561.4 474.5 560.5 473.7 559.7 472.5 559.6 471.5 560.4 470 560.7 470.5 561.6 469.7 562.9 470.5 563.4 472 563.1 473.7 562.7 474 562.9" clip-path="url(#p8f56d1408e)" style="fill: none; stroke: #000000; stroke-width: 0.3; stroke-linecap: square"/>
   </g>
   <g id="line2d_256">
    <path d="M458.1 551 456.1 549.5 458.1 548.6 462.1 548.8 465 548.6 466.5 549.8 465 550.7 462.1 551.6 459.1 551.2 458.1 551" clip-path="url(#p8f56d1408e)" style="fill: none; stroke: #000000; stroke-width: 0.3; stroke-linecap: square"/>
   </g>
   <g id="line2d_257">
    <path d="M133.9 536.6 135.9 535.4 139.8 535.1 144.8 534.8 149.7 535.1 147.8 536.1 143.8 537.1 139.8 538.6 133.9 536.6" clip-path="url(#p8f56d1408e)" style="fill: none; stroke: #000000; stroke-width: 0.3; stroke-linecap: square"/>
   </g>
   <g id="line2d_258">
    <path d="M174.5 543.6 177.5 541.6 179.5 539.6 184.4 538.6 190.9 538.1 187.4 539.1 181.5 541.1 179.5 543.6 176 544.3 174.5 543.6" clip-path="url(#p8f56d1408e)" style="fill: none; stroke: #000000; stroke-width: 0.3; stroke-linecap: square"/>
   </g>
   <g id="line2d_259">
    <path d="M217.2 535.6 222.1 534.6 226.1 535.6 222.1 536.6 217.2 535.6" clip-path="url(#p8f56d1408e)" style="fill: none; stroke: #000000; stroke-width: 0.3; stroke-linecap: square"/>
   </g>
   <g id="line2d_260">
    <path d="M258.8 539.6 263.8 539.3 269.7 539.8 263.8 541.1 258.8 539.6" clip-path="url(#p8f56d1408e)" style="fill: none; stroke: #000000; stroke-width: 0.3; stroke-linecap: square"/>
   </g>
   <g id="line2d_261">
    <path d="M300.4 543.6 303.9 543.9 302.9 544.3 300.4 544.1 300.4 543.6" clip-path="url(#p8f56d1408e)" style="fill: none; stroke: #000000; stroke-width: 0.3; stroke-linecap: square"/>
   </g>
   <g id="line2d_262">
    <path d="M263.8 568.8 265.2 568.3 265 565.9 265.7 565.4 264.8 563.4 265 561.9 264.3 560.6 263.8 561.4 263.6 563.9 263.9 566.9 263.8 568.8" clip-path="url(#p8f56d1408e)" style="fill: none; stroke: #000000; stroke-width: 0.3; stroke-linecap: square"/>
   </g>
   <g id="line2d_263">
    <path d="M261.8 573.3 263 573 264.8 572.8 267.2 571.5 266.7 570.6 263.8 569.3 263.3 570.8 262.1 571.5 261.8 572.6 261.8 573.3" clip-path="url(#p8f56d1408e)" style="fill: none; stroke: #000000; stroke-width: 0.3; stroke-linecap: square"/>
   </g>
   <g id="line2d_264">
    <path d="M263.3 573.4 263.8 575.3 262.8 576.5 262.7 578.3 262.3 579.5 261.6 579.7 260.8 579.9 259.3 580.1 258.6 580.4 257.6 581.2 256.8 580.1 254.8 580.3 252.9 580.7 252.9 580.2 254.3 579.3 256.3 579.2 257.8 579 258.6 577.5 260.3 577.3 261.3 576.3 261.8 574.8 262.3 573.5 263.3 573.4" clip-path="url(#p8f56d1408e)" style="fill: none; stroke: #000000; stroke-width: 0.3; stroke-linecap: square"/>
   </g>
   <g id="line2d_265">
    <path d="M251.9 580.9 252.9 580.8 253.6 582.2 253.1 583.4 252.2 583.5 251.9 582 251.9 580.9" clip-path="url(#p8f56d1408e)" style="fill: none; stroke: #000000; stroke-width: 0.3; stroke-linecap: square"/>
   </g>
   <g id="line2d_266">
    <path d="M254.3 581.7 255.3 581.4 256.5 580.9 255.8 580.3 254.6 580.8 254.3 581.7" clip-path="url(#p8f56d1408e)" style="fill: none; stroke: #000000; stroke-width: 0.3; stroke-linecap: square"/>
   </g>
   <g id="line2d_267">
    <path d="M242.1 592.1 242.9 592.7 243.8 590.2 243.4 589.4 242.4 590.2 242.1 592.1" clip-path="url(#p8f56d1408e)" style="fill: none; stroke: #000000; stroke-width: 0.3; stroke-linecap: square"/>
   </g>
   <g id="line2d_268">
    <path d="M230.6 595.6 231.5 596.4 233 595 232.5 594.5 231.5 594.6 230.6 595.6" clip-path="url(#p8f56d1408e)" style="fill: none; stroke: #000000; stroke-width: 0.3; stroke-linecap: square"/>
   </g>
   <g id="line2d_269">
    <path d="M242.4 596.1 244.2 596.2 244.1 598.1 243.5 599.6 244.4 600.6 245.9 601.6 245.4 601.9 243.7 600.8 242.5 600.4 241.9 598.6 242.4 596.1" clip-path="url(#p8f56d1408e)" style="fill: none; stroke: #000000; stroke-width: 0.3; stroke-linecap: square"/>
   </g>
   <g id="line2d_270">
    <path d="M243.9 607.5 245.4 605.9 247.4 604.8 248.5 607.2 247.4 608.7 246.1 608.2 244.1 607.6 243.9 607.5" clip-path="url(#p8f56d1408e)" style="fill: none; stroke: #000000; stroke-width: 0.3; stroke-linecap: square"/>
   </g>
   <g id="line2d_271">
    <path d="M246.2 602.1 247.6 602.3 247.4 604 246.4 604.5 246.2 603.1 246.2 602.1" clip-path="url(#p8f56d1408e)" style="fill: none; stroke: #000000; stroke-width: 0.3; stroke-linecap: square"/>
   </g>
   <g id="line2d_272">
    <path d="M243.9 602.8 244.9 603.2 245.4 604 244.9 605.3 244.2 604.5 243.9 603.7 243.9 602.8" clip-path="url(#p8f56d1408e)" style="fill: none; stroke: #000000; stroke-width: 0.3; stroke-linecap: square"/>
   </g>
   <g id="line2d_273">
    <path d="M242.2 601.1 243.4 601.3 243.1 602.3 242.4 601.8 242.2 601.1" clip-path="url(#p8f56d1408e)" style="fill: none; stroke: #000000; stroke-width: 0.3; stroke-linecap: square"/>
   </g>
   <g id="line2d_274">
    <path d="M239.2 606.2 240.5 605 241.6 603.3 241.3 603.2 240 604.5 239.2 606.2" clip-path="url(#p8f56d1408e)" style="fill: none; stroke: #000000; stroke-width: 0.3; stroke-linecap: square"/>
   </g>
   <g id="line2d_275">
    <path d="M231 613 231.6 612.5 233 613 235 611.5 239 607.5 240 608.5 241.2 609.2 240 610 240 613.5 239.5 614.5 238.5 615.9 238 617.9 236.5 617.9 234.5 617.7 233 617.4 232.2 616.9 232 615.4 231 614.5 231 613" clip-path="url(#p8f56d1408e)" style="fill: none; stroke: #000000; stroke-width: 0.3; stroke-linecap: square"/>
   </g>
   <g id="line2d_276">
    <path d="M217.5 608.9 219.6 609.3 222.1 612 223.6 613 225.6 614.9 226.6 616.4 228.1 617.4 227.9 620.2 226.6 620.1 224.1 617.9 222.6 615.4 220.8 612.8 219.1 611 217.5 608.9" clip-path="url(#p8f56d1408e)" style="fill: none; stroke: #000000; stroke-width: 0.3; stroke-linecap: square"/>
   </g>
   <g id="line2d_277">
    <path d="M227.3 621.2 228.6 620.4 230.5 620.9 232.5 621.2 234.5 621.3 236.5 622.1 236.3 623.1 233 622.6 230 622.2 228.1 621.7 227.3 621.2" clip-path="url(#p8f56d1408e)" style="fill: none; stroke: #000000; stroke-width: 0.3; stroke-linecap: square"/>
   </g>
   <g id="line2d_278">
    <path d="M237 622.7 238 622.6 239 622.7 241 622.6 242.9 622.7 244.9 622.6 243.9 623.1 241.9 623.2 240 623.2 238 623.3 237 622.7" clip-path="url(#p8f56d1408e)" style="fill: none; stroke: #000000; stroke-width: 0.3; stroke-linecap: square"/>
   </g>
   <g id="line2d_279">
    <path d="M245.9 624.6 246.9 623.7 248.9 622.8 247.9 623.4 246.4 624.6 245.9 624.6" clip-path="url(#p8f56d1408e)" style="fill: none; stroke: #000000; stroke-width: 0.3; stroke-linecap: square"/>
   </g>
   <g id="line2d_280">
    <path d="M241.5 619.9 242.3 619.9 242.2 617.4 242.9 617.2 244.4 619.1 244.9 618.4 243.9 617.4 243.4 615.9 245.2 615.3 243.4 615 242.4 614 243.4 613.5 245.9 613.6 246.9 613 246.4 614.1 243.9 614.1 242.1 614.5 241.6 615.4 241 617.4 241.5 619.9" clip-path="url(#p8f56d1408e)" style="fill: none; stroke: #000000; stroke-width: 0.3; stroke-linecap: square"/>
   </g>
   <g id="line2d_281">
    <path d="M249.4 613 250.1 612.5 249.9 614 250.6 614.9 249.5 614.8 249.4 613" clip-path="url(#p8f56d1408e)" style="fill: none; stroke: #000000; stroke-width: 0.3; stroke-linecap: square"/>
   </g>
   <g id="line2d_282">
    <path d="M247.9 617.6 248.9 617.9 250.4 617.4 252.4 617.9 251.4 617.4 249.9 617.3 247.9 617.6" clip-path="url(#p8f56d1408e)" style="fill: none; stroke: #000000; stroke-width: 0.3; stroke-linecap: square"/>
   </g>
   <g id="line2d_283">
    <path d="M252.9 615.4 254.3 614.8 255.8 615.3 256.8 617.7 259.3 615.9 262.8 617 265.7 618.2 267.7 619.9 269.2 620.7 268.7 621.9 270.2 623.4 272.2 624.9 270.7 624.7 268.7 624.4 267.2 622.4 265.2 623.4 264.3 623.7 262.8 623.6 260.8 622.6 259.8 622.8 259.6 619.9 256.8 618.8 254.8 618.4 253.8 617.2 255.3 616.7 252.9 615.9 252.9 615.4" clip-path="url(#p8f56d1408e)" style="fill: none; stroke: #000000; stroke-width: 0.3; stroke-linecap: square"/>
   </g>
   <g id="line2d_284">
    <path d="M270.2 619.9 272.2 619.4 273.7 618.6 273.2 619.9 271.7 620.7 270.2 619.9" clip-path="url(#p8f56d1408e)" style="fill: none; stroke: #000000; stroke-width: 0.3; stroke-linecap: square"/>
   </g>
   <g id="line2d_285">
    <path d="M272.5 617.1 273.9 617.9 274.7 619 274.1 618.4 272.5 617.1" clip-path="url(#p8f56d1408e)" style="fill: none; stroke: #000000; stroke-width: 0.3; stroke-linecap: square"/>
   </g>
   <g id="line2d_286">
    <path d="M276.7 620.4 278.1 621.6 279.1 622.6 281.1 623.4 282.1 624.2 283.1 624.9 281.6 623.9 279.6 622.6 277.1 620.9 276.7 620.4" clip-path="url(#p8f56d1408e)" style="fill: none; stroke: #000000; stroke-width: 0.3; stroke-linecap: square"/>
   </g>
   <g id="line2d_287">
    <path d="M288.1 628.9 288.7 629.8 289.7 631.3 290.8 633.8 290 632.3 289 630.8 288.1 628.9" clip-path="url(#p8f56d1408e)" style="fill: none; stroke: #000000; stroke-width: 0.3; stroke-linecap: square"/>
   </g>
   <g id="line2d_288">
    <path d="M285.6 634.6 287.1 635.3 288.5 636.6 287.8 636.3 285.9 635.1 285.6 634.6" clip-path="url(#p8f56d1408e)" style="fill: none; stroke: #000000; stroke-width: 0.3; stroke-linecap: square"/>
   </g>
   <g id="line2d_289">
    <path d="M298.8 631.8 300 631.6 299.8 632.5 298.8 632.3 298.8 631.8" clip-path="url(#p8f56d1408e)" style="fill: none; stroke: #000000; stroke-width: 0.3; stroke-linecap: square"/>
   </g>
   <g id="line2d_290">
    <path d="M300.2 630.8 301.4 630.6 300.9 631.3 300.2 630.8" clip-path="url(#p8f56d1408e)" style="fill: none; stroke: #000000; stroke-width: 0.3; stroke-linecap: square"/>
   </g>
   <g id="line2d_291">
    <path d="M235.5 636.3 236 640.2 237 644.2 237 647.7 239.5 649.2 241.9 648.2 245.4 648.1 247.9 646.5 250.9 645.8 253.3 645.7 255.8 646.7 257.3 649 258.3 647.7 259.6 647.2 259.3 649.2 260.3 649.7 262.8 652.1 265.2 652.9 266.7 652.3 268 653.2 269.7 651.9 271.7 651.6 272.9 648.1 274.2 646.2 275.3 642.5 274.7 639.7 272.7 637.8 271.2 636.6 269.7 634.3 267.7 632.8 267.2 629.3 265.2 627.8 264.3 625.1 263.4 626.8 263.3 629.3 262.3 631.8 260.8 631.3 258.8 630.1 257.3 629.3 258.5 626.6 256.8 626.4 254.3 625.9 252.9 626.5 251.9 627.3 251.4 629.1 249.9 629.3 247.9 628.3 246.4 629.8 244.9 630.8 244.1 632.3 242.9 633.8 241 634.3 238.7 634.9 236.5 636.1 235.5 636.3" clip-path="url(#p8f56d1408e)" style="fill: none; stroke: #000000; stroke-width: 0.3; stroke-linecap: square"/>
   </g>
   <g id="line2d_292">
    <path d="M266.3 654.8 268.2 655.2 270 655 269.7 657.1 268.6 657.7 266.9 656.4 266.3 654.8" clip-path="url(#p8f56d1408e)" style="fill: none; stroke: #000000; stroke-width: 0.3; stroke-linecap: square"/>
   </g>
   <g id="line2d_293">
    <path d="M294.2 648.6 296 650 297 651.1 299.5 651.7 299.5 653.1 298.5 653.4 297.7 655.4 296.4 655.5 296 653.9 295.3 653.3 296.1 652.1 295.5 650.3 294.2 648.6" clip-path="url(#p8f56d1408e)" style="fill: none; stroke: #000000; stroke-width: 0.3; stroke-linecap: square"/>
   </g>
   <g id="line2d_294">
    <path d="M294.2 654.6 295.7 655.8 294.5 657.6 292.7 658.6 292.2 660 290.5 660.7 288.1 660.1 288.5 659.1 290 658.1 292 656.9 293 655.8 294.2 654.6" clip-path="url(#p8f56d1408e)" style="fill: none; stroke: #000000; stroke-width: 0.3; stroke-linecap: square"/>
   </g>
   <g id="line2d_295">
    <path d="M202.1 606.5 202.5 604.7 203.5 606 204.1 607.5 203.5 608.3 202.4 608.5 202.1 606.5" clip-path="url(#p8f56d1408e)" style="fill: none; stroke: #000000; stroke-width: 0.3; stroke-linecap: square"/>
   </g>
   <g id="line2d_296">
    <path d="M171.8 626.4 173 629.8 172 631.8 171.1 634.8 169.8 639 167.8 639.7 166.4 637.8 165.9 635.8 167 634.3 166.6 631.8 168.6 630.1 170.5 627.9 171.8 626.4" clip-path="url(#p8f56d1408e)" style="fill: none; stroke: #000000; stroke-width: 0.3; stroke-linecap: square"/>
   </g>
   <g id="line2d_297">
    <path d="M135.3 577 136.2 576.6 138.4 576.5 137.9 578.1 135.3 577" clip-path="url(#p8f56d1408e)" style="fill: none; stroke: #000000; stroke-width: 0.3; stroke-linecap: square"/>
   </g>
   <g id="line2d_298">
    <path d="M131.1 573.9 132.7 573.8 132.5 575.7 131.3 575.8 131.1 573.9" clip-path="url(#p8f56d1408e)" style="fill: none; stroke: #000000; stroke-width: 0.3; stroke-linecap: square"/>
   </g>
   <g id="line2d_299">
    <path d="M131.5 572.4 132.3 571.8 132.4 572.8 132.1 573.4 131.5 572.9 131.5 572.4" clip-path="url(#p8f56d1408e)" style="fill: none; stroke: #000000; stroke-width: 0.3; stroke-linecap: square"/>
   </g>
   <g id="line2d_300">
    <path d="M146.3 579.5 149 579.5 148.9 579.7 146.8 579.7 146.3 579.5" clip-path="url(#p8f56d1408e)" style="fill: none; stroke: #000000; stroke-width: 0.3; stroke-linecap: square"/>
   </g>
   <g id="line2d_301">
    <path d="M155 579.7 157.3 579.1 156.6 579.7 155.2 580 155 579.7" clip-path="url(#p8f56d1408e)" style="fill: none; stroke: #000000; stroke-width: 0.3; stroke-linecap: square"/>
   </g>
   <g id="line2d_302">
    <path d="M169.6 570.3 170.1 569.1 171.5 568.2 173.7 567.9 175.5 568 175.7 569.5 173.8 570.3 173.5 571.6 175.2 572.8 175.3 573.8 176.5 574.8 176 575.5 176.4 577.5 174 578 171.7 577.2 171.4 576.3 172 574.6 171.2 573 170.1 571.8 169.6 570.3" clip-path="url(#p8f56d1408e)" style="fill: none; stroke: #000000; stroke-width: 0.3; stroke-linecap: square"/>
   </g>
   <g id="line2d_303">
    <path d="M418.9 548.5 416 551.5 415 553 412.5 552.5 409 551.5 406.5 550.5 402.6 550.5 403.6 549 407.5 547.5 406.5 546 401.6 545.3 394.6 545 391.7 543.6 394.1 541.6 400.6 541.3 404.6 542.6 409.5 544.1 413.5 545.5 417.4 548 418.9 548.5" clip-path="url(#p8f56d1408e)" style="fill: none; stroke: #000000; stroke-width: 0.3; stroke-linecap: square"/>
   </g>
   <g id="line2d_304">
    <path d="M401.6 538.6 396.6 538.8 391.7 538.5 392.7 537.1 395.6 535.8 389.7 534.6 393.6 533.4 400.6 532.4 410.5 532.2 418.4 532.9 416.5 533.6 411.5 534.6 408 536.1 404.6 536.8 405.1 537.6 402.1 537.8 401.6 538.6" clip-path="url(#p8f56d1408e)" style="fill: none; stroke: #000000; stroke-width: 0.3; stroke-linecap: square"/>
   </g>
   <g id="line2d_305">
    <path d="M391.7 536.1 388.7 535.6 384.7 535.1 385.7 534.1 389.7 533.9 391.7 535.1 391.7 536.1" clip-path="url(#p8f56d1408e)" style="fill: none; stroke: #000000; stroke-width: 0.3; stroke-linecap: square"/>
   </g>
   <g id="line2d_306">
    <path d="M400.6 540.6 394.6 540.8 390.7 540.5 388.2 539.7 388.7 538.8 391.7 538.6 395.6 538.8 399.6 538.6 400.6 539.6 400.6 540.6" clip-path="url(#p8f56d1408e)" style="fill: none; stroke: #000000; stroke-width: 0.3; stroke-linecap: square"/>
   </g>
   <g id="line2d_307">
    <path d="M375.8 545.8 379.3 545.4 379.8 544.6 378.3 543.6 375.8 542.6 374.3 541.9 370.8 542.1 366.9 541.8 366.4 542.5 363.4 543.1 362.4 543.8 363.4 544.5 365.9 544.7 367.9 544.9 368.9 545.5 372.3 546.1 375.8 545.8" clip-path="url(#p8f56d1408e)" style="fill: none; stroke: #000000; stroke-width: 0.3; stroke-linecap: square"/>
   </g>
   <g id="line2d_308">
    <path d="M356 543.2 357.5 544 360.4 543.7 361.9 542.6 363.4 542.2 362.4 541.5 360.9 540.8 356.5 540.8 355.1 541.6 356 543.2" clip-path="url(#p8f56d1408e)" style="fill: none; stroke: #000000; stroke-width: 0.3; stroke-linecap: square"/>
   </g>
   <g id="line2d_309">
    <path d="M375.3 540.1 370.8 540.2 366.9 540.4 363.4 539.8 364.9 538.8 369.9 539.1 372.8 538.8 374.8 539.5 375.3 540.1" clip-path="url(#p8f56d1408e)" style="fill: none; stroke: #000000; stroke-width: 0.3; stroke-linecap: square"/>
   </g>
   <g id="line2d_310">
    <path d="M365.9 538.1 360.9 538.9 358.5 538.6 361.9 537.6 365.9 538.1" clip-path="url(#p8f56d1408e)" style="fill: none; stroke: #000000; stroke-width: 0.3; stroke-linecap: square"/>
   </g>
   <g id="line2d_311">
    <path d="M383.2 539.6 379.8 539.6 379.3 538.7 382.2 538.6 383.2 539.6" clip-path="url(#p8f56d1408e)" style="fill: none; stroke: #000000; stroke-width: 0.3; stroke-linecap: square"/>
   </g>
   <g id="line2d_312">
    <path d="M387.7 540.5 384.2 540.3 384.7 539.8 387.2 539.8 387.7 540.5" clip-path="url(#p8f56d1408e)" style="fill: none; stroke: #000000; stroke-width: 0.3; stroke-linecap: square"/>
   </g>
   <g id="line2d_313">
    <path d="M384.2 543.1 381.8 543.2 379.3 542.3 380.3 541.3 383.2 541.3 384.2 543.1" clip-path="url(#p8f56d1408e)" style="fill: none; stroke: #000000; stroke-width: 0.3; stroke-linecap: square"/>
   </g>
   <g id="line2d_314">
    <path d="M387.2 543.1 385.2 542.6 385.2 541.3 389.7 541.1 390.2 542.1 387.2 543.1" clip-path="url(#p8f56d1408e)" style="fill: none; stroke: #000000; stroke-width: 0.3; stroke-linecap: square"/>
   </g>
   <g id="line2d_315">
    <path d="M384.7 546.3 382.2 545.7 383.2 545.1 385.4 545.5 384.7 546.3" clip-path="url(#p8f56d1408e)" style="fill: none; stroke: #000000; stroke-width: 0.3; stroke-linecap: square"/>
   </g>
   <g id="line2d_316">
    <path d="M169.6 534.6 175.5 534.1 184.4 534.1 187.4 534.6 179.5 535 169.6 534.6" clip-path="url(#p8f56d1408e)" style="fill: none; stroke: #000000; stroke-width: 0.3; stroke-linecap: square"/>
   </g>
   <g id="line2d_317">
    <path d="M400.1 551.2 394.1 551.2 394.6 549.5 397.1 549.2 400.1 551.2" clip-path="url(#p8f56d1408e)" style="fill: none; stroke: #000000; stroke-width: 0.3; stroke-linecap: square"/>
   </g>
   <g id="line2d_318">
    <path d="M421.1 567.3 427.7 567.4 426.9 565.4 424.9 563.3 422.9 564.4 421.1 567.3" clip-path="url(#p8f56d1408e)" style="fill: none; stroke: #000000; stroke-width: 0.3; stroke-linecap: square"/>
   </g>
   <g id="line2d_319">
    <path d="M357.6 566.6 355.5 566 352.6 564.1 354 564.4 356.2 565.4 357.6 566.6" clip-path="url(#p8f56d1408e)" style="fill: none; stroke: #000000; stroke-width: 0.3; stroke-linecap: square"/>
   </g>
   <g id="line2d_320">
    <path d="M395.6 592.8 398.6 591.5 403.1 592.4 406.3 594.4 403.1 594.7 400.6 592.9 397.6 592.6 395.6 592.8" clip-path="url(#p8f56d1408e)" style="fill: none; stroke: #000000; stroke-width: 0.3; stroke-linecap: square"/>
   </g>
   <g id="line2d_321">
    <path d="M406 596.2 407.7 594.7 410.7 594.9 412.1 596.1 409.5 596.8 406 596.2" clip-path="url(#p8f56d1408e)" style="fill: none; stroke: #000000; stroke-width: 0.3; stroke-linecap: square"/>
   </g>
   <g id="line2d_322">
    <path d="M402.3 596.2 404.4 596.6 403.6 596.8 402.3 596.2" clip-path="url(#p8f56d1408e)" style="fill: none; stroke: #000000; stroke-width: 0.3; stroke-linecap: square"/>
   </g>
   <g id="line2d_323">
    <path d="M413.3 596.2 414.9 596.3 413.3 596.6 413.3 596.2" clip-path="url(#p8f56d1408e)" style="fill: none; stroke: #000000; stroke-width: 0.3; stroke-linecap: square"/>
   </g>
   <g id="line2d_324">
    <path d="M411.9 666.6 415.3 668.9 413 669.5 409.5 668.3 410.7 667.5 411.9 666.6" clip-path="url(#p8f56d1408e)" style="fill: none; stroke: #000000; stroke-width: 0.3; stroke-linecap: square"/>
   </g>
   <g id="line2d_325">
    <path d="M419.4 665.5 422.6 665.3 421.9 666 419.4 665.9 419.4 665.5" clip-path="url(#p8f56d1408e)" style="fill: none; stroke: #000000; stroke-width: 0.3; stroke-linecap: square"/>
   </g>
   <g id="line2d_326">
    <path d="M325.2 595.1 326.2 595.1 325.7 594.4 325.2 595.1" clip-path="url(#p8f56d1408e)" style="fill: none; stroke: #000000; stroke-width: 0.3; stroke-linecap: square"/>
   </g>
   <g id="line2d_327">
    <path d="M191.4 663 192.9 663.2 191.9 663.7 191.4 663" clip-path="url(#p8f56d1408e)" style="fill: none; stroke: #000000; stroke-width: 0.3; stroke-linecap: square"/>
   </g>
   <g id="line2d_328">
    <path d="M123 684.1 130.4 683.9 133.9 684.7 144.8 684.6 153.7 683.4 156.7 682.5 161.3 683.6 167.6 682 175.5 680 179.1 680.2 183.4 681.6 190.4 682 191.7 684.4 190.4 685.7 192.4 685.9 194.1 683.9 200.6 682 210.2 680.4 216.2 681.1 225.1 679.7 235 679.7 241.9 680.6 256.8 679.7 268.1 681.6 279.3 683.4 290.5 684.9 292.9 685.7 285.9 689.9 286.9 692.3 282.2 694.6 285.9 696.5 301.8 698.1 311.2 697.8 326.2 698.3 338.1 698.8 328 696.5 326.2 695.1 333.7 694.6 324.2 692.8 323.3 691.4 335.1 689.9 346.8 689 354.2 687.6 360.9 687.6 370.2 688.5 379.7 689 390.7 687.3 403.1 687.3 409.5 685.2 411.5 683.4 408.5 682.5 413.3 680.6 417 678.7 423.1 677.3 419.9 678.4 417 681.6 419.8 685.2 418.9 688.1 413.3 689.5 404 690.9 404 692.8 414.3 694.2 422.7 696.5 426.4 695.1 437.7 694.6 435.8 692.8 445.2 692.3 451.7 693.7 463.8 689 473.2 685.2 479.9 684.1" clip-path="url(#p8f56d1408e)" style="fill: none; stroke: #000000; stroke-width: 0.3; stroke-linecap: square"/>
   </g>
   <g id="patch_21">
    <path d="M123 703.7 123 525.2" style="fill: none; stroke: #000000; stroke-width: 0.8; stroke-linejoin: miter; stroke-linecap: square"/>
   </g>
   <g id="patch_22">
    <path d="M479.9 703.7 479.9 525.2" style="fill: none; stroke: #000000; stroke-width: 0.8; stroke-linejoin: miter; stroke-linecap: square"/>
   </g>
   <g id="patch_23">
    <path d="M123 703.7 479.9 703.7" style="fill: none; stroke: #000000; stroke-width: 0.8; stroke-linejoin: miter; stroke-linecap: square"/>
   </g>
   <g id="patch_24">
    <path d="M123 525.2 479.9 525.2" style="fill: none; stroke: #000000; stroke-width: 0.8; stroke-linejoin: miter; stroke-linecap: square"/>
   </g>
   <g id="text_75">
    <text style="font-size: 11.5px; font-family: 'DejaVu Sans', sans-serif; text-anchor: middle" x="301.43" y="519.21" transform="rotate(-0 301.43 519.21)">Model - Observation</text>
   </g>
   <g id="text_76">
    <text style="font-size: 9.5px; font-family: 'DejaVu Sans', sans-serif; text-anchor: end" x="479.91" y="519.21" transform="rotate(-0 479.91 519.21)">mbar</text>
   </g>
  </g>
  <g id="axes_6">
   <g id="patch_25">
    <path d="M509.6 680.5 529.5 680.5 529.5 551.4 509.6 551.4Z" style="fill: #ffffff"/>
   </g>
   <g id="patch_26">
    <path d="M509.60 679.50 L509.60 680.50 L519.50 686.90 L529.50 680.50 L529.50 679.50 Z" style="fill: #0028ff"/>
   </g>
   <g id="patch_27">
    <path d="M509.60 552.40 L509.60 551.40 L519.50 545.00 L529.50 551.40 L529.50 552.40 Z" style="fill: #ff2a00"/>
   </g>
   <g shape-rendering="crispEdges" id="QuadMesh_3">
    <path d="M509.6 680.5 529.5 680.5 529.5 671.8 509.6 671.8 509.6 680.5" clip-path="url(#p00c05dc50c)" style="fill: #0028ff"/>
    <path d="M509.6 671.8 529.5 671.8 529.5 663.2 509.6 663.2 509.6 671.8" clip-path="url(#p00c05dc50c)" style="fill: #2550fa"/>
    <path d="M509.6 663.2 529.5 663.2 529.5 654.6 509.6 654.6 509.6 663.2" clip-path="url(#p00c05dc50c)" style="fill: #4a6ef8"/>
    <path d="M509.6 654.6 529.5 654.6 529.5 646 509.6 646 509.6 654.6" clip-path="url(#p00c05dc50c)" style="fill: #6e8cf8"/>
    <path d="M509.6 646 529.5 646 529.5 637.4 509.6 637.4 509.6 646" clip-path="url(#p00c05dc50c)" style="fill: #94aaf8"/>
    <path d="M509.6 637.4 529.5 637.4 529.5 628.8 509.6 628.8 509.6 637.4" clip-path="url(#p00c05dc50c)" style="fill: #b8c6fa"/>
    <path d="M509.6 628.8 529.5 628.8 529.5 620.2 509.6 620.2 509.6 628.8" clip-path="url(#p00c05dc50c)" style="fill: #dce2fc"/>
    <path d="M509.6 620.2 529.5 620.2 529.5 611.6 509.6 611.6 509.6 620.2" clip-path="url(#p00c05dc50c)" style="fill: #ffffff"/>
    <path d="M509.6 611.6 529.5 611.6 529.5 603 509.6 603 509.6 611.6" clip-path="url(#p00c05dc50c)" style="fill: #fee0da"/>
    <path d="M509.6 603 529.5 603 529.5 594.4 509.6 594.4 509.6 603" clip-path="url(#p00c05dc50c)" style="fill: #fdc4b8"/>
    <path d="M509.6 594.4 529.5 594.4 529.5 585.8 509.6 585.8 509.6 594.4" clip-path="url(#p00c05dc50c)" style="fill: #fda492"/>
    <path d="M509.6 585.8 529.5 585.8 529.5 577.2 509.6 577.2 509.6 585.8" clip-path="url(#p00c05dc50c)" style="fill: #fc8570"/>
    <path d="M509.6 577.2 529.5 577.2 529.5 568.6 509.6 568.6 509.6 577.2" clip-path="url(#p00c05dc50c)" style="fill: #fc6a4e"/>
    <path d="M509.6 568.6 529.5 568.6 529.5 560 509.6 560 509.6 568.6" clip-path="url(#p00c05dc50c)" style="fill: #fc4828"/>
    <path d="M509.6 560 529.5 560 529.5 551.4 509.6 551.4 509.6 560" clip-path="url(#p00c05dc50c)" style="fill: #ff2a00"/>
   </g>
   <g id="matplotlib.axis_11"/>
   <g id="matplotlib.axis_12">
    <g id="ytick_50">
     <g id="line2d_329"/>
     <g id="text_77">
      <text style="font-size: 9px; font-family: 'DejaVu Sans', sans-serif; text-anchor: end" x="554.50" y="675.26" transform="rotate(-0 554.50 675.26)">-16.0</text>
     </g>
    </g>
    <g id="ytick_51">
     <g id="line2d_330"/>
     <g id="text_78">
      <text style="font-size: 9px; font-family: 'DejaVu Sans', sans-serif; text-anchor: end" x="554.50" y="666.66" transform="rotate(-0 554.50 666.66)">-12.0</text>
     </g>
    </g>
    <g id="ytick_52">
     <g id="line2d_331"/>
     <g id="text_79">
      <text style="font-size: 9px; font-family: 'DejaVu Sans', sans-serif; text-anchor: end" x="554.50" y="658.06" transform="rotate(-0 554.50 658.06)"> -8.0</text>
     </g>
    </g>
    <g id="ytick_53">
     <g id="line2d_332"/>
     <g id="text_80">
      <text style="font-size: 9px; font-family: 'DejaVu Sans', sans-serif; text-anchor: end" x="554.50" y="649.46" transform="rotate(-0 554.50 649.46)"> -4.0</text>
     </g>
    </g>
    <g id="ytick_54">
     <g id="line2d_333"/>
     <g id="text_81">
      <text style="font-size: 9px; font-family: 'DejaVu Sans', sans-serif; text-anchor: end" x="554.50" y="640.86" transform="rotate(-0 554.50 640.86)"> -2.0</text>
     </g>
    </g>
    <g id="ytick_55">
     <g id="line2d_334"/>
     <g id="text_82">
      <text style="font-size: 9px; font-family: 'DejaVu Sans', sans-serif; text-anchor: end" x="554.50" y="632.26" transform="rotate(-0 554.50 632.26)"> -1.0</text>
     </g>
    </g>
    <g id="ytick_56">
     <g id="line2d_335"/>
     <g id="text_83">
      <text style="font-size: 9px; font-family: 'DejaVu Sans', sans-serif; text-anchor: end" x="554.50" y="623.65" transform="rotate(-0 554.50 623.65)"> -0.5</text>
     </g>
    </g>
    <g id="ytick_57">
     <g id="line2d_336"/>
     <g id="text_84">
      <text style="font-size: 9px; font-family: 'DejaVu Sans', sans-serif; text-anchor: end" x="554.50" y="615.05" transform="rotate(-0 554.50 615.05)">  0.5</text>
     </g>
    </g>
    <g id="ytick_58">
     <g id="line2d_337"/>
     <g id="text_85">
      <text style="font-size: 9px; font-family: 'DejaVu Sans', sans-serif; text-anchor: end" x="554.50" y="606.45" transform="rotate(-0 554.50 606.45)">  1.0</text>
     </g>
    </g>
    <g id="ytick_59">
     <g id="line2d_338"/>
     <g id="text_86">
      <text style="font-size: 9px; font-family: 'DejaVu Sans', sans-serif; text-anchor: end" x="554.50" y="597.85" transform="rotate(-0 554.50 597.85)">  2.0</text>
     </g>
    </g>
    <g id="ytick_60">
     <g id="line2d_339"/>
     <g id="text_87">
      <text style="font-size: 9px; font-family: 'DejaVu Sans', sans-serif; text-anchor: end" x="554.50" y="589.25" transform="rotate(-0 554.50 589.25)">  4.0</text>
     </g>
    </g>
    <g id="ytick_61">
     <g id="line2d_340"/>
     <g id="text_88">
      <text style="font-size: 9px; font-family: 'DejaVu Sans', sans-serif; text-anchor: end" x="554.50" y="580.65" transform="rotate(-0 554.50 580.65)">  8.0</text>
     </g>
    </g>
    <g id="ytick_62">
     <g id="line2d_341"/>
     <g id="text_89">
      <text style="font-size: 9px; font-family: 'DejaVu Sans', sans-serif; text-anchor: end" x="554.50" y="572.04" transform="rotate(-0 554.50 572.04)"> 12.0</text>
     </g>
    </g>
    <g id="ytick_63">
     <g id="line2d_342"/>
     <g id="text_90">
      <text style="font-size: 9px; font-family: 'DejaVu Sans', sans-serif; text-anchor: end" x="554.50" y="563.44" transform="rotate(-0 554.50 563.44)"> 16.0</text>
     </g>
    </g>
   </g>
   <g id="LineCollection_3"/>
   <g id="patch_28">
    <path d="M509.6 680.5 519.5 686.9 529.5 680.5 529.5 551.4 519.5 545 509.6 551.4 509.6 680.5Z" style="fill: none; stroke: #000000; stroke-width: 0.8; stroke-linejoin: miter; stroke-linecap: square"/>
   </g>
  </g>
  <g id="text_91">
   <text style="font-size: 9.5px; font-family: 'DejaVu Sans', sans-serif" transform="translate(509.55 64.49)">Max</text>
   <text style="font-size: 9.5px; font-family: 'DejaVu Sans', sans-serif" transform="translate(509.55 75.13)">Mean</text>
   <text style="font-size: 9.5px; font-family: 'DejaVu Sans', sans-serif" transform="translate(509.55 85.77)">Min</text>
  </g>
  <g id="text_92">
   <text style="font-size: 9.5px; font-family: 'DejaVu Sans', sans-serif" transform="translate(531.46 64.49)">1027.21</text>
   <text style="font-size: 9.5px; font-family: 'DejaVu Sans', sans-serif" transform="translate(531.46 75.13)">1011.19</text>
   <text style="font-size: 9.5px; font-family: 'DejaVu Sans', sans-serif" transform="translate(537.51 85.77)">976.97</text>
  </g>
  <g id="text_93">
   <text style="font-size: 9.5px; font-family: 'DejaVu Sans', sans-serif" transform="translate(509.55 290.13)">Max</text>
   <text style="font-size: 9.5px; font-family: 'DejaVu Sans', sans-serif" transform="translate(509.55 300.77)">Mean</text>
   <text style="font-size: 9.5px; font-family: 'DejaVu Sans', sans-serif" transform="translate(509.55 311.41)">Min</text>
  </g>
  <g id="text_94">
   <text style="font-size: 9.5px; font-family: 'DejaVu Sans', sans-serif" transform="translate(531.46 290.13)">1026.27</text>
   <text style="font-size: 9.5px; font-family: 'DejaVu Sans', sans-serif" transform="translate(531.46 300.77)">1010.72</text>
   <text style="font-size: 9.5px; font-family: 'DejaVu Sans', sans-serif" transform="translate(537.51 311.41)">976.32</text>
  </g>
  <g id="text_95">
   <text style="font-size: 9.5px; font-family: 'DejaVu Sans', sans-serif" transform="translate(509.55 515.77)">Max</text>
   <text style="font-size: 9.5px; font-family: 'DejaVu Sans', sans-serif" transform="translate(509.55 526.41)">Mean</text>
   <text style="font-size: 9.5px; font-family: 'DejaVu Sans', sans-serif" transform="translate(509.55 537.05)">Min</text>
  </g>
  <g id="text_96">
   <text style="font-size: 9.5px; font-family: 'DejaVu Sans', sans-serif" transform="translate(543.55 515.77)">26.39</text>
   <text style="font-size: 9.5px; font-family: 'DejaVu Sans', sans-serif" transform="translate(549.59 526.41)">0.48</text>
   <text style="font-size: 9.5px; font-family: 'DejaVu Sans', sans-serif" transform="translate(540.12 537.05)">-12.38</text>
  </g>
  <g id="text_97">
   <text style="font-size: 9.5px; font-family: 'DejaVu Sans', sans-serif" transform="translate(509.55 701.60)">RMSE</text>
   <text style="font-size: 9.5px; font-family: 'DejaVu Sans', sans-serif" transform="translate(509.55 712.24)">CORR</text>
  </g>
  <g id="text_98">
   <text style="font-size: 9.5px; font-family: 'DejaVu Sans', sans-serif" transform="translate(549.59 701.60)">3.00</text>
   <text style="font-size: 9.5px; font-family: 'DejaVu Sans', sans-serif" transform="translate(549.59 712.24)">0.95</text>
  </g>
  <g id="text_99">
   <text style="font-size: 18px; font-family: 'DejaVu Sans', sans-serif; text-anchor: middle" x="306" y="45.35" transform="rotate(-0 306 45.35)">PSL JJA global</text>
  </g>
 </g>
 <defs>
  <clipPath id="pa390b9fe62">
   <rect x="122.96" y="73.93" width="356.94" height="178.47"/>
  </clipPath>
  <clipPath id="p1fe804e399">
   <rect x="509.55" y="100.14" width="19.95" height="129.02"/>
  </clipPath>
  <clipPath id="p59242a91ff">
   <rect x="122.96" y="299.57" width="356.94" height="178.47"/>
  </clipPath>
  <clipPath id="p6719b12ec1">
   <rect x="509.55" y="325.78" width="19.95" height="129.02"/>
  </clipPath>
  <clipPath id="p8f56d1408e">
   <rect x="122.96" y="525.21" width="356.94" height="178.47"/>
  </clipPath>
  <clipPath id="p00c05dc50c">
   <rect x="509.55" y="551.42" width="19.95" height="129.02"/>
  </clipPath>
 </defs>
</svg>

</body></html>
